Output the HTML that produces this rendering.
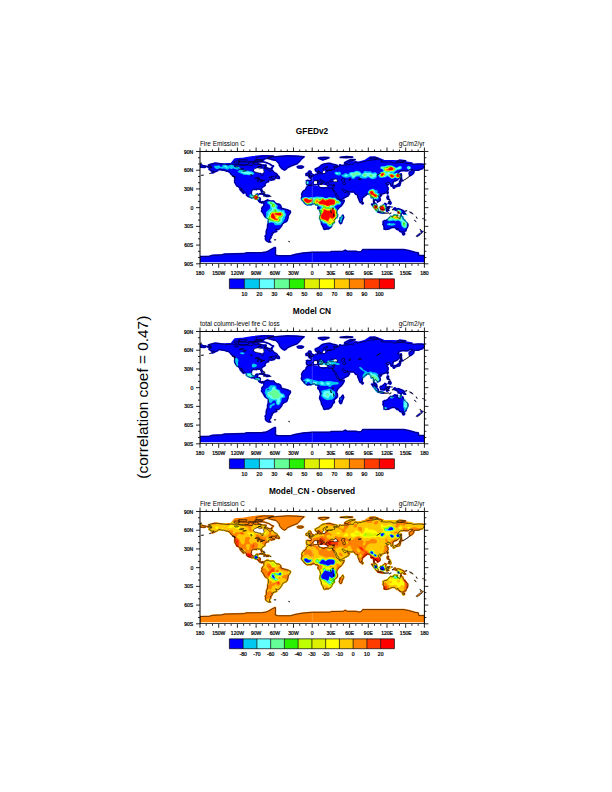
<!DOCTYPE html>
<html><head><meta charset="utf-8"><style>
html,body{margin:0;padding:0;background:#fff;}
svg{display:block;}
text{font-family:"Liberation Sans", sans-serif;fill:#000;}
.s{font-size:5.6px;stroke:#000;stroke-width:0.25px;}
.m{font-size:6.4px;}
</style></head><body>
<svg width="612" height="792" viewBox="0 0 612 792">
<defs>
<clipPath id="frame"><rect x="200.00" y="151.50" width="224.40" height="112.30"/></clipPath>
<clipPath id="fill"><rect x="200.00" y="152.00" width="224.40" height="110.20"/></clipPath>
<mask id="landmask" maskUnits="userSpaceOnUse" x="0" y="0" width="612" height="792"><path d="M207.4 166.7L210.0 166.2L211.5 166.3L210.0 165.4L208.4 165.0L210.6 164.2L214.5 163.2L217.5 163.4L220.6 163.8L224.3 164.2L226.8 164.6L229.0 164.3L231.5 164.0L234.6 164.4L236.8 164.2L239.3 164.7L241.1 165.1L244.6 165.1L246.1 164.7L248.9 165.4L252.4 165.5L253.3 163.0L254.2 164.3L256.4 164.7L258.9 164.1L261.1 164.6L260.8 166.3L258.6 166.5L258.0 167.4L256.1 168.0L254.5 169.0L253.3 170.2L253.6 171.0L254.5 172.0L257.0 172.4L259.2 173.1L260.9 173.3L260.9 174.6L262.0 175.6L263.0 175.5L263.0 173.6L264.2 172.4L263.9 171.2L263.3 169.7L263.9 168.7L266.4 168.8L267.9 169.6L268.9 170.8L270.1 171.3L271.1 171.0L272.0 170.0L273.6 171.8L274.2 172.7L276.4 173.6L277.4 174.9L276.7 175.5L274.8 176.3L272.0 176.3L270.7 176.5L268.6 178.0L272.1 177.2L271.1 177.7L272.0 178.3L274.2 179.3L274.8 179.0L273.9 179.6L272.3 179.9L271.1 180.3L270.4 179.7L268.6 180.3L268.3 180.9L268.6 181.6L267.6 181.9L266.4 182.2L266.1 182.4L265.8 183.1L265.3 183.4L265.0 184.3L264.8 184.6L265.1 185.6L264.3 186.1L263.3 186.6L262.0 187.5L261.5 188.3L261.5 189.2L262.1 190.7L262.3 191.7L261.7 192.0L261.2 191.1L260.7 190.2L260.6 189.4L259.8 188.9L258.9 189.1L258.0 188.7L256.4 188.8L256.6 189.6L255.2 189.3L253.6 189.1L252.8 189.6L251.5 190.5L251.5 191.4L251.2 193.6L251.6 194.9L252.2 195.7L253.1 196.2L254.9 196.0L255.6 195.5L255.9 194.5L257.3 194.2L258.0 194.3L257.7 195.5L257.2 196.7L257.0 197.7L258.6 197.7L259.8 197.9L260.3 198.6L260.1 200.2L260.0 200.8L260.8 201.7L261.7 202.2L262.6 201.7L263.6 201.9L264.0 202.3L264.8 201.7L265.1 201.1L265.9 200.7L267.0 200.3L267.4 199.9L267.8 200.8L268.4 200.4L269.8 201.0L271.1 201.2L272.3 201.0L273.6 201.0L274.2 201.7L274.5 202.3L275.7 203.3L276.7 203.9L278.5 204.0L279.8 204.7L280.4 205.2L281.0 206.5L280.7 207.7L282.0 208.3L284.5 209.2L286.3 209.5L287.9 210.0L289.1 210.8L290.3 211.1L290.4 212.6L289.1 214.5L288.2 215.8L287.9 218.3L287.3 220.1L286.6 221.4L285.4 222.0L284.1 222.5L282.0 224.2L281.8 225.4L280.7 227.0L279.5 228.6L278.5 229.4L277.3 229.4L275.7 228.9L276.4 230.4L276.7 231.4L274.8 232.0L273.6 232.0L273.4 233.0L271.7 233.2L272.3 234.2L271.7 235.7L270.1 236.7L271.1 237.6L269.8 238.8L269.5 240.3L269.5 241.7L270.7 242.0L268.6 242.0L267.3 241.3L266.1 240.4L265.4 238.8L265.8 237.0L265.1 236.3L266.4 234.5L266.3 232.6L266.4 230.7L267.0 229.5L267.6 227.6L267.6 225.1L268.3 223.2L268.4 220.1L268.4 219.1L267.3 218.3L265.3 217.0L264.6 216.1L263.7 214.2L262.6 212.3L261.6 211.4L261.6 210.5L262.3 209.2L261.8 208.6L262.3 207.3L263.1 206.7L263.9 205.3L264.0 203.9L263.6 203.1L263.3 202.5L262.5 202.3L262.0 203.1L261.1 202.5L260.1 202.3L258.8 201.4L258.7 200.7L257.7 199.5L256.4 199.2L255.2 198.9L254.2 198.0L253.3 197.5L252.0 197.9L250.8 197.5L248.9 196.7L247.7 196.2L246.4 195.2L246.6 194.2L246.3 193.5L245.8 193.0L244.9 192.1L243.9 191.4L243.3 190.3L242.3 189.6L241.8 188.4L240.6 187.8L241.1 188.9L241.9 190.2L242.7 191.4L243.3 192.5L243.9 193.3L243.6 193.4L242.4 192.2L241.1 190.6L240.5 190.2L239.9 188.6L239.2 187.4L238.3 186.4L237.0 186.1L236.2 184.9L235.8 184.1L235.0 182.8L234.7 182.4L234.8 181.4L234.6 180.8L234.9 179.0L234.5 177.5L235.4 177.6L235.2 176.8L234.3 176.3L232.5 175.8L232.1 174.9L230.9 174.0L230.5 173.0L229.3 172.1L228.1 171.2L226.8 171.2L225.2 170.5L223.4 170.2L221.8 170.0L220.3 169.7L218.7 169.5L217.6 170.7L216.5 171.2L215.0 171.8L213.4 172.7L211.8 173.0L212.5 172.2L213.1 171.8L214.3 171.2L213.1 171.0L211.2 171.1L210.9 170.2L209.3 169.8L209.0 169.0L209.7 168.3L211.8 168.0L211.8 167.4L209.7 167.4L208.4 167.3ZM332.3 188.1L333.5 188.1L334.0 187.1L334.6 185.5L334.8 184.8L333.7 184.7L332.5 185.1L331.2 184.8L329.8 184.8L329.0 183.6L328.5 183.0L328.7 182.5L328.4 182.2L327.2 182.2L326.4 182.4L326.8 183.8L326.2 184.9L325.6 184.6L325.3 183.6L324.7 182.8L324.4 181.8L323.7 181.1L322.2 180.5L321.2 179.5L320.7 179.1L319.9 179.4L320.0 180.1L320.9 181.1L322.2 181.8L323.7 182.6L322.8 183.1L322.5 183.8L321.9 183.9L322.2 183.0L321.6 182.6L320.6 181.9L319.4 181.3L318.7 180.7L318.1 180.1L317.2 180.3L316.3 180.8L315.0 180.6L314.1 180.9L314.2 181.5L312.8 182.1L312.2 182.9L311.7 184.2L310.8 184.8L309.4 184.8L308.7 185.2L308.3 184.7L307.5 184.4L306.7 184.6L306.7 183.6L306.3 183.0L306.7 182.1L306.7 181.4L306.4 180.8L307.2 180.4L309.1 180.5L311.0 180.6L311.3 179.9L311.5 179.0L310.8 178.3L309.4 177.8L309.2 177.4L310.3 177.2L311.3 177.3L311.3 176.7L312.3 176.8L313.1 176.3L313.8 175.8L314.4 175.5L315.1 174.7L315.6 174.3L316.6 174.3L317.5 174.2L317.6 173.0L317.3 172.2L318.7 171.7L318.7 172.5L318.6 173.3L319.1 174.0L320.0 173.6L320.9 174.0L323.7 173.5L325.3 173.3L325.4 172.4L325.7 171.8L326.8 172.1L327.4 171.3L326.8 170.7L328.4 170.5L330.9 170.3L329.7 169.9L326.5 170.3L325.5 169.7L325.6 168.7L326.2 167.8L328.0 167.1L327.5 166.6L325.9 166.8L325.3 167.4L324.0 168.0L323.1 168.7L322.9 169.6L323.9 170.2L323.1 171.0L322.5 172.1L322.0 172.6L321.1 173.1L320.2 172.7L319.7 171.8L319.2 171.0L318.7 170.7L317.5 171.3L316.6 171.5L315.7 171.0L315.3 169.9L315.3 169.0L316.3 168.5L317.5 168.0L318.7 167.4L320.0 166.5L320.9 165.5L321.9 164.9L322.8 164.4L324.4 164.0L326.5 163.5L328.4 163.4L330.0 163.4L331.5 163.8L332.8 164.4L334.6 164.6L337.1 165.4L337.8 166.2L336.2 166.5L333.7 166.2L333.7 167.4L335.3 167.8L335.9 167.4L337.1 167.3L339.3 166.3L339.6 164.9L340.9 165.2L341.8 165.5L345.2 164.9L346.2 165.1L348.4 164.7L349.6 164.9L350.2 164.1L353.3 164.5L353.7 163.5L354.9 162.1L357.1 162.2L357.4 163.4L359.3 162.5L361.4 162.5L362.4 161.8L365.5 161.6L366.4 160.9L370.2 160.2L373.3 160.0L375.2 159.6L377.0 159.2L378.3 159.6L382.0 159.9L382.6 160.4L380.8 161.5L382.6 161.8L386.4 162.1L389.2 161.8L392.0 162.2L392.9 163.0L394.5 163.0L395.7 163.0L398.8 162.5L399.5 162.4L403.2 162.5L405.7 163.0L406.9 163.4L410.1 163.4L411.9 163.7L412.6 164.3L416.3 164.2L418.2 164.0L421.9 164.1L424.4 164.7L427.5 165.5L429.7 166.0L430.8 166.4L429.4 167.4L424.5 167.1L423.5 167.4L422.5 168.7L420.7 169.1L418.5 170.2L415.7 170.2L414.4 170.3L414.1 171.2L413.2 171.5L413.8 172.7L413.2 173.5L411.9 174.6L411.0 175.2L409.9 175.8L409.4 174.6L409.2 172.7L409.9 171.8L410.7 171.5L411.9 170.5L413.2 169.9L412.2 169.3L410.1 169.2L408.2 170.7L406.3 170.8L404.8 170.7L402.6 170.6L400.7 170.8L398.5 172.4L397.6 174.0L399.8 174.3L400.3 175.2L399.8 176.5L399.5 177.7L398.5 178.6L397.0 180.2L395.1 180.9L393.9 181.1L393.1 182.1L392.9 183.0L392.7 184.6L392.9 185.5L391.4 186.1L390.9 185.8L391.1 184.6L390.4 184.1L390.0 182.9L387.9 182.1L386.4 183.2L385.6 183.3L386.2 184.2L387.6 184.3L388.6 184.4L387.3 185.2L386.6 185.8L387.3 186.9L388.1 187.9L387.9 188.4L388.2 189.1L387.8 190.2L387.0 191.1L386.7 191.9L385.6 192.7L383.9 193.5L382.9 193.8L381.4 194.2L381.0 194.9L380.6 194.2L379.5 194.2L378.6 194.9L378.1 195.8L378.6 196.9L380.0 198.1L380.3 199.9L380.1 200.5L378.9 201.2L377.6 202.2L377.5 201.2L376.0 200.0L375.1 199.2L374.5 199.9L374.0 201.7L374.7 203.3L375.5 203.4L376.7 204.8L376.7 206.4L377.2 206.8L376.6 206.8L375.3 205.9L374.7 204.5L373.6 202.5L373.7 199.9L373.1 197.4L371.4 197.8L371.0 197.4L371.1 195.8L369.7 194.2L369.4 193.6L368.6 193.9L367.7 194.0L366.4 194.2L366.3 194.9L365.2 195.5L363.5 197.0L362.2 198.0L362.3 199.5L361.9 201.1L360.8 202.2L360.5 202.6L359.9 202.0L359.3 200.5L358.7 198.9L358.0 197.4L357.6 195.8L357.6 194.4L356.1 194.5L355.2 193.7L354.9 193.0L354.2 192.4L353.7 191.8L352.1 191.9L350.5 191.9L348.7 191.7L347.9 191.6L347.6 190.8L346.3 191.1L344.9 190.5L344.0 189.7L343.4 188.8L342.4 188.9L342.1 189.2L342.4 190.2L343.1 190.9L343.6 191.7L343.9 192.2L344.3 192.5L344.6 192.7L345.9 192.6L346.8 191.7L347.3 191.3L347.4 192.1L348.0 192.8L349.0 193.6L349.5 193.7L348.7 194.9L348.2 195.8L346.8 196.5L344.8 197.5L343.1 198.5L341.8 199.2L340.2 199.7L339.3 199.7L338.9 198.6L338.8 197.4L338.1 196.4L337.1 195.2L336.5 194.2L336.2 192.8L335.3 191.7L334.6 190.7L334.0 190.1L333.6 190.3L333.1 190.2L332.5 189.0ZM107.9 188.1L109.1 188.1L109.6 187.1L110.2 185.5L110.4 184.8L109.3 184.7L108.1 185.1L106.8 184.8L105.4 184.8L104.6 183.6L104.1 183.0L104.3 182.5L104.0 182.2L102.8 182.2L102.0 182.4L102.4 183.8L101.8 184.9L101.2 184.6L100.9 183.6L100.3 182.8L100.0 181.8L99.3 181.1L97.8 180.5L96.8 179.5L96.3 179.1L95.5 179.4L95.6 180.1L96.5 181.1L97.8 181.8L99.3 182.6L98.4 183.1L98.1 183.8L97.5 183.9L97.8 183.0L97.2 182.6L96.2 181.9L95.0 181.3L94.3 180.7L93.7 180.1L92.8 180.3L91.9 180.8L90.6 180.6L89.7 180.9L89.8 181.5L88.4 182.1L87.8 182.9L87.3 184.2L86.4 184.8L85.0 184.8L84.3 185.2L83.9 184.7L83.1 184.4L82.3 184.6L82.3 183.6L81.9 183.0L82.3 182.1L82.3 181.4L82.0 180.8L82.8 180.4L84.7 180.5L86.6 180.6L86.9 179.9L87.1 179.0L86.4 178.3L85.0 177.8L84.8 177.4L85.9 177.2L86.9 177.3L86.9 176.7L87.9 176.8L88.7 176.3L89.4 175.8L90.0 175.5L90.7 174.7L91.2 174.3L92.2 174.3L93.1 174.2L93.2 173.0L92.9 172.2L94.3 171.7L94.3 172.5L94.2 173.3L94.7 174.0L95.6 173.6L96.5 174.0L99.3 173.5L100.9 173.3L101.0 172.4L101.3 171.8L102.4 172.1L103.0 171.3L102.4 170.7L104.0 170.5L106.5 170.3L105.3 169.9L102.1 170.3L101.1 169.7L101.2 168.7L101.8 167.8L103.6 167.1L103.1 166.6L101.5 166.8L100.9 167.4L99.6 168.0L98.7 168.7L98.5 169.6L99.5 170.2L98.7 171.0L98.1 172.1L97.6 172.6L96.7 173.1L95.8 172.7L95.3 171.8L94.8 171.0L94.3 170.7L93.1 171.3L92.2 171.5L91.3 171.0L90.9 169.9L90.9 169.0L91.9 168.5L93.1 168.0L94.3 167.4L95.6 166.5L96.5 165.5L97.5 164.9L98.4 164.4L100.0 164.0L102.1 163.5L104.0 163.4L105.6 163.4L107.1 163.8L108.4 164.4L110.2 164.6L112.7 165.4L113.4 166.2L111.8 166.5L109.3 166.2L109.3 167.4L110.9 167.8L111.5 167.4L112.7 167.3L114.9 166.3L115.2 164.9L116.5 165.2L117.4 165.5L120.8 164.9L121.8 165.1L124.0 164.7L125.2 164.9L125.8 164.1L128.9 164.5L129.3 163.5L130.5 162.1L132.7 162.2L133.0 163.4L134.9 162.5L137.0 162.5L138.0 161.8L141.1 161.6L142.0 160.9L145.8 160.2L148.9 160.0L150.8 159.6L152.6 159.2L153.9 159.6L157.6 159.9L158.2 160.4L156.4 161.5L158.2 161.8L162.0 162.1L164.8 161.8L167.6 162.2L168.5 163.0L170.1 163.0L171.3 163.0L174.4 162.5L175.1 162.4L178.8 162.5L181.3 163.0L182.5 163.4L185.7 163.4L187.5 163.7L188.2 164.3L191.9 164.2L193.8 164.0L197.5 164.1L200.0 164.7L203.1 165.5L205.3 166.0L206.4 166.4L205.0 167.4L200.1 167.1L199.1 167.4L198.1 168.7L196.3 169.1L194.1 170.2L191.3 170.2L190.0 170.3L189.7 171.2L188.8 171.5L189.4 172.7L188.8 173.5L187.5 174.6L186.6 175.2L185.5 175.8L185.0 174.6L184.8 172.7L185.5 171.8L186.3 171.5L187.5 170.5L188.8 169.9L187.8 169.3L185.7 169.2L183.8 170.7L181.9 170.8L180.4 170.7L178.2 170.6L176.3 170.8L174.1 172.4L173.2 174.0L175.4 174.3L175.9 175.2L175.4 176.5L175.1 177.7L174.1 178.6L172.6 180.2L170.7 180.9L169.5 181.1L168.7 182.1L168.5 183.0L168.3 184.6L168.5 185.5L167.0 186.1L166.5 185.8L166.7 184.6L166.0 184.1L165.6 182.9L163.5 182.1L162.0 183.2L161.2 183.3L161.8 184.2L163.2 184.3L164.2 184.4L162.9 185.2L162.2 185.8L162.9 186.9L163.7 187.9L163.5 188.4L163.8 189.1L163.4 190.2L162.6 191.1L162.3 191.9L161.2 192.7L159.5 193.5L158.5 193.8L157.0 194.2L156.6 194.9L156.2 194.2L155.1 194.2L154.2 194.9L153.7 195.8L154.2 196.9L155.6 198.1L155.9 199.9L155.7 200.5L154.5 201.2L153.2 202.2L153.1 201.2L151.6 200.0L150.7 199.2L150.1 199.9L149.6 201.7L150.3 203.3L151.1 203.4L152.3 204.8L152.3 206.4L152.8 206.8L152.2 206.8L150.9 205.9L150.3 204.5L149.2 202.5L149.3 199.9L148.7 197.4L147.0 197.8L146.6 197.4L146.7 195.8L145.3 194.2L145.0 193.6L144.2 193.9L143.3 194.0L142.0 194.2L141.9 194.9L140.8 195.5L139.1 197.0L137.8 198.0L137.9 199.5L137.5 201.1L136.4 202.2L136.1 202.6L135.5 202.0L134.9 200.5L134.3 198.9L133.6 197.4L133.2 195.8L133.2 194.4L131.7 194.5L130.8 193.7L130.5 193.0L129.8 192.4L129.3 191.8L127.7 191.9L126.1 191.9L124.3 191.7L123.5 191.6L123.2 190.8L121.9 191.1L120.5 190.5L119.6 189.7L119.0 188.8L118.0 188.9L117.7 189.2L118.0 190.2L118.7 190.9L119.2 191.7L119.5 192.2L119.9 192.5L120.2 192.7L121.5 192.6L122.4 191.7L122.9 191.3L123.0 192.1L123.6 192.8L124.6 193.6L125.1 193.7L124.3 194.9L123.8 195.8L122.4 196.5L120.4 197.5L118.7 198.5L117.4 199.2L115.8 199.7L114.9 199.7L114.5 198.6L114.4 197.4L113.7 196.4L112.7 195.2L112.1 194.2L111.8 192.8L110.9 191.7L110.2 190.7L109.6 190.1L109.2 190.3L108.7 190.2L108.1 189.0ZM332.3 188.1L330.9 188.1L329.7 188.3L327.8 187.9L326.5 187.3L324.7 187.7L324.4 188.6L323.4 188.4L321.9 188.0L320.3 187.1L319.1 186.9L318.6 185.5L319.1 184.6L318.2 184.4L317.2 184.6L315.3 184.7L314.1 184.7L312.2 185.3L311.0 185.8L308.8 185.3L308.3 185.8L306.4 187.4L306.1 188.9L305.0 190.2L304.1 190.5L302.9 191.7L302.2 193.0L301.6 194.5L302.1 195.5L301.9 196.7L301.4 198.4L301.7 199.5L302.7 200.8L303.8 201.7L304.4 203.0L305.3 203.6L306.6 204.5L307.5 204.9L309.1 204.5L311.0 204.7L312.8 203.9L313.8 203.7L315.0 203.7L315.9 205.0L317.2 204.8L318.1 205.3L318.3 206.4L318.0 207.3L317.8 208.3L319.4 209.8L320.0 211.4L320.5 213.0L320.8 214.5L320.0 216.1L319.6 218.3L321.2 221.7L321.6 224.2L322.5 225.5L323.4 227.3L323.7 228.9L324.7 229.4L326.2 228.9L328.2 228.9L329.0 228.6L330.9 227.2L331.8 225.7L332.5 224.5L332.6 223.6L334.3 222.6L334.3 221.1L333.8 220.0L335.1 218.9L336.8 217.6L337.4 216.4L337.4 214.2L336.6 213.0L336.7 211.4L337.1 209.8L338.1 208.8L339.3 207.3L340.9 206.1L342.4 204.2L343.9 201.7L344.2 200.3L342.7 200.6L339.9 201.2L339.2 200.3L338.8 199.5L338.1 198.6L336.8 198.0L336.2 196.4L335.4 194.5L335.1 193.6L334.3 192.7L333.7 191.4L333.1 190.5L332.5 189.0ZM383.1 221.6L383.4 223.9L382.9 224.2L383.9 226.1L384.3 228.6L383.9 229.0L385.8 229.5L389.2 228.8L390.7 227.8L392.6 227.4L394.2 227.3L395.7 228.1L396.8 229.4L397.9 228.2L398.1 229.8L399.2 230.0L399.8 231.4L401.6 231.9L403.4 232.0L404.5 231.2L405.7 231.0L406.5 228.7L407.6 226.7L407.9 225.1L407.6 223.6L406.3 222.3L405.4 221.4L404.5 220.1L403.4 219.2L402.9 217.6L402.8 217.0L401.6 216.4L401.0 214.4L400.5 215.8L400.4 217.3L400.0 218.6L399.2 218.5L398.1 217.6L396.7 217.0L397.3 216.1L397.5 215.3L396.4 215.3L394.8 214.8L394.2 215.3L393.2 215.8L392.9 217.0L391.9 216.7L390.7 216.4L389.8 217.4L388.9 217.9L388.4 218.9L387.6 219.8L386.1 220.3L384.8 220.6L383.6 221.3ZM267.9 158.4L271.1 159.3L276.0 160.4L277.3 161.7L279.2 163.7L279.5 165.6L281.0 167.7L282.9 169.3L284.5 170.1L286.0 169.3L287.4 167.6L291.6 165.8L297.2 163.6L298.5 162.4L300.1 160.7L301.0 159.3L304.1 156.8L296.6 156.2L287.3 155.9L277.9 156.5L271.7 157.1L268.6 157.7ZM200.0 256.5L209.3 256.3L212.5 255.4L221.8 254.9L224.9 254.1L243.6 253.7L246.8 252.9L262.3 252.7L266.1 252.1L268.6 251.0L272.9 248.5L274.8 247.6L275.4 247.7L275.4 252.6L275.1 254.9L277.9 255.8L290.4 255.8L296.0 254.3L302.9 253.1L312.2 252.3L330.3 252.1L331.5 251.5L343.4 251.3L345.2 250.2L347.1 251.3L355.8 251.3L358.9 252.1L361.4 251.6L362.7 249.6L403.8 249.6L408.8 250.6L415.1 252.4L418.2 252.8L418.8 255.6L424.4 255.6L424.4 263.8L200.0 263.8ZM272.0 169.0L271.1 168.3L273.6 166.0L271.1 165.2L269.2 163.7L265.4 162.4L262.3 161.7L256.7 162.0L257.3 162.4L258.6 164.0L260.5 164.3L263.0 165.2L266.1 165.2L266.1 166.2L263.9 167.4L266.7 167.7L269.2 168.7L271.7 169.0ZM238.6 164.0L239.3 162.1L243.0 162.1L247.1 162.1L249.2 163.7L246.8 164.9L243.0 164.9L239.3 164.6ZM262.3 159.9L256.1 159.6L256.1 157.4L263.6 155.9L273.6 156.2L267.3 158.1L264.2 159.0ZM234.0 163.0L234.3 161.2L239.9 160.9L238.0 163.0ZM262.3 161.2L254.9 161.0L254.9 159.9L262.3 160.0ZM246.8 161.2L238.6 161.2L238.6 159.6L246.8 159.6ZM252.4 163.0L248.6 162.4L248.6 161.5L252.4 161.5ZM256.1 162.7L253.0 162.4L253.0 161.5L256.1 161.5ZM262.3 167.7L259.8 169.0L258.0 167.7L258.6 166.5L261.1 166.8ZM318.4 158.1L322.8 159.9L325.9 159.0L329.0 157.7L324.7 157.4L319.7 157.7ZM344.6 163.4L347.7 163.7L349.6 161.5L355.2 159.7L350.8 159.6L346.5 161.5L344.6 162.7ZM369.5 158.4L374.5 159.0L378.3 158.4L374.5 157.1L370.8 157.4ZM340.2 157.4L346.5 157.7L352.7 157.1L346.5 156.6ZM396.4 161.5L400.7 162.1L405.7 160.9L399.5 160.2ZM297.2 166.8L298.5 166.2L302.2 166.2L303.5 166.8L302.9 167.5L301.0 168.1L298.2 167.8ZM308.6 176.5L313.1 175.7L313.3 174.8L312.3 174.3L311.3 173.3L311.0 172.7L311.1 171.8L310.2 171.1L309.1 171.1L308.5 171.8L308.8 172.7L309.1 173.3L310.3 173.8L310.3 174.4L309.2 174.8L309.5 175.4L308.9 175.4L310.3 175.6ZM308.5 175.1L308.3 174.1L308.8 173.5L307.6 173.1L306.0 173.8L306.0 175.3L307.2 175.5ZM393.8 186.4L394.5 185.7L396.4 185.4L397.0 184.9L397.9 184.3L399.2 183.6L399.5 182.4L400.4 181.8L400.7 183.0L400.1 183.9L400.0 185.2L399.5 185.8L398.5 186.0L397.6 186.1L396.7 186.6L396.0 186.2L394.2 188.1L393.4 188.1L393.0 186.9ZM399.5 181.8L400.6 181.1L402.9 180.6L402.3 180.1L400.6 179.3L400.3 180.5ZM400.7 179.0L401.6 178.5L401.3 176.8L401.5 175.4L401.3 174.0L400.9 173.8L400.5 174.9L400.7 176.5L400.6 177.7ZM371.6 204.2L373.0 204.4L374.7 206.1L375.9 207.2L377.3 208.6L378.3 209.5L378.1 211.3L377.3 211.3L376.0 210.1L375.0 208.6L374.0 207.5L373.0 206.2ZM377.8 211.9L379.5 211.5L381.4 211.7L382.4 212.0L383.6 212.5L383.6 213.1L381.4 212.8L379.5 212.5L378.3 212.1ZM380.6 206.4L381.4 206.5L382.6 205.7L384.2 204.3L385.0 203.3L386.4 204.5L385.8 205.0L385.6 206.5L386.4 207.1L385.4 208.0L384.8 209.2L384.5 210.0L383.6 209.8L381.7 209.6L380.8 209.5L380.5 208.0L380.1 207.2ZM386.7 211.1L387.3 211.1L387.3 209.4L387.9 210.6L388.9 210.5L387.7 208.6L389.2 208.2L387.3 207.3L390.0 206.7L390.1 206.8L387.0 207.2L386.7 208.0L386.3 209.2ZM393.9 208.4L394.8 207.9L395.7 208.3L396.7 209.7L397.9 208.6L400.1 209.3L402.9 210.5L404.1 211.4L404.3 212.6L405.7 214.2L403.8 213.9L402.6 212.5L401.6 213.3L400.1 213.4L398.8 212.6L398.2 212.9L398.1 211.1L396.4 210.4L394.8 209.8L394.5 209.4L393.7 208.6ZM342.9 215.1L343.7 217.3L343.1 218.6L342.2 220.8L341.5 223.2L340.4 223.6L339.6 222.3L339.2 221.1L339.9 219.8L339.8 218.3L341.2 217.4L342.1 216.1ZM259.2 194.0L261.7 193.2L264.2 193.9L265.9 195.0L263.9 195.2L263.0 194.2L260.5 193.9ZM275.2 178.0L277.6 175.5L279.2 176.8L279.4 178.3L277.9 178.5L277.3 177.9ZM402.4 233.0L404.6 233.2L404.5 234.5L403.2 234.9L402.6 233.9ZM387.0 197.7L387.4 196.1L388.4 196.1L388.6 197.0L387.9 198.0L389.5 199.5L387.6 199.2ZM388.2 203.3L389.2 202.3L390.4 201.5L391.1 203.1L390.4 204.2L389.5 203.6ZM361.9 201.5L363.3 203.0L362.8 203.8L362.1 203.9ZM265.9 196.1L267.0 195.2L269.2 195.5L269.6 196.1L267.9 196.5L265.9 196.3ZM387.2 193.6L387.6 191.9L388.2 192.1L387.6 193.9ZM379.9 195.7L381.1 195.1L381.4 195.4L380.5 196.3ZM224.3 164.2L231.2 163.7L234.9 159.0L243.6 158.4L253.0 156.8L262.3 155.9L272.3 156.2L268.6 158.1L264.8 158.7L262.3 161.5L265.4 162.4L269.2 163.7L272.9 166.2L272.0 169.0L268.6 170.2L262.3 170.2L252.4 165.5L224.3 164.2ZM268.6 178.3L271.1 176.1L274.8 176.1L275.4 178.0L274.2 179.3L271.1 179.6ZM308.5 185.5L312.2 183.6L314.1 181.1L318.4 179.9L324.7 180.8L329.7 181.8L335.3 184.6L334.6 188.3L324.7 188.9L318.4 187.1L311.0 185.8ZM329.0 182.1L329.7 178.3L338.4 178.3L338.4 182.4ZM340.9 179.0L342.7 177.7L345.9 178.3L346.5 182.1L345.9 184.9L342.7 184.9L340.9 181.4ZM332.1 188.9L334.0 188.9L339.6 199.5L338.4 200.2L335.3 196.4ZM341.8 188.6L343.7 188.6L347.7 191.1L347.4 193.0L343.4 192.7ZM318.4 174.3L318.4 171.5L323.4 169.6L323.4 166.5L328.4 166.5L330.9 170.2L327.2 172.7L324.7 174.3ZM344.6 164.6L345.2 163.4L348.4 161.8L358.9 162.4L365.2 160.5L370.2 157.1L377.6 158.1L383.9 160.5L399.5 161.2L411.9 163.0L411.9 164.6L344.6 164.6Z" fill="#fff" stroke="#fff" stroke-width="1.70"/><path d="M200.0 163.4L201.9 163.0L201.2 163.4L200.0 163.5ZM388.2 201.4L389.5 200.5L390.4 200.8L390.1 201.4L388.9 201.9ZM389.5 214.0L391.4 212.9L390.1 213.0L389.2 213.9ZM383.9 212.8L386.4 213.0L388.9 212.8L388.9 213.1L384.5 213.3L383.9 213.1ZM419.8 229.1L421.0 230.1L421.9 231.1L423.5 231.2L422.5 232.2L421.9 233.4L421.2 233.4L421.3 232.5L420.5 232.1L421.0 230.9ZM419.8 232.9L420.8 233.7L420.0 235.0L418.8 235.7L417.5 236.7L416.0 236.3L417.2 235.1L418.8 233.9ZM235.3 177.5L232.2 176.0L234.4 176.5L234.0 177.1ZM317.4 182.1L318.3 182.1L318.2 183.3L317.5 183.3ZM317.6 180.9L318.1 180.8L318.1 181.8L317.6 181.8ZM319.9 183.9L321.9 183.8L321.7 184.8L320.0 184.2ZM392.0 209.5L393.9 209.6L393.2 210.0L392.0 209.8ZM391.7 206.5L392.3 206.7L392.0 207.7L391.7 207.3ZM404.8 211.1L406.9 210.3L406.9 210.9L405.7 211.5ZM409.4 211.7L411.9 212.6L413.2 214.2L411.9 213.6L410.1 212.6ZM416.0 216.7L416.6 217.0L417.2 218.6L416.6 217.9ZM414.4 220.1L416.3 221.7L415.7 221.4L414.4 220.4ZM422.5 218.6L423.5 218.6L423.5 219.0L422.7 219.0ZM201.2 175.3L203.7 175.1L201.2 175.5ZM209.3 173.6L210.9 173.0L210.6 173.6ZM403.2 180.5L404.5 179.6L405.7 179.0L408.8 176.8L409.8 176.0L408.8 177.1L405.1 179.6L403.2 180.6ZM263.4 196.2L264.7 196.4L264.3 196.5L263.6 196.4ZM270.3 196.2L271.3 196.3L271.1 196.5L270.3 196.4ZM263.6 191.0L264.2 191.1L263.9 192.7L265.1 192.6L264.8 193.0L263.5 192.4ZM332.3 185.8L333.8 185.4L333.4 186.1L332.5 186.0ZM326.8 185.6L328.6 185.7L328.4 185.8L326.8 185.7ZM288.5 241.3L289.9 241.7L289.4 241.8L288.5 241.5ZM274.2 239.7L276.0 239.7L275.7 240.1L274.2 240.1Z" fill="#fff"/></mask>
</defs>
<rect width="612" height="792" fill="#fff"/>

<g transform="translate(0,0)">
<g clip-path="url(#fill)">
<path d="M207.4 166.7L210.0 166.2L211.5 166.3L210.0 165.4L208.4 165.0L210.6 164.2L214.5 163.2L217.5 163.4L220.6 163.8L224.3 164.2L226.8 164.6L229.0 164.3L231.5 164.0L234.6 164.4L236.8 164.2L239.3 164.7L241.1 165.1L244.6 165.1L246.1 164.7L248.9 165.4L252.4 165.5L253.3 163.0L254.2 164.3L256.4 164.7L258.9 164.1L261.1 164.6L260.8 166.3L258.6 166.5L258.0 167.4L256.1 168.0L254.5 169.0L253.3 170.2L253.6 171.0L254.5 172.0L257.0 172.4L259.2 173.1L260.9 173.3L260.9 174.6L262.0 175.6L263.0 175.5L263.0 173.6L264.2 172.4L263.9 171.2L263.3 169.7L263.9 168.7L266.4 168.8L267.9 169.6L268.9 170.8L270.1 171.3L271.1 171.0L272.0 170.0L273.6 171.8L274.2 172.7L276.4 173.6L277.4 174.9L276.7 175.5L274.8 176.3L272.0 176.3L270.7 176.5L268.6 178.0L272.1 177.2L271.1 177.7L272.0 178.3L274.2 179.3L274.8 179.0L273.9 179.6L272.3 179.9L271.1 180.3L270.4 179.7L268.6 180.3L268.3 180.9L268.6 181.6L267.6 181.9L266.4 182.2L266.1 182.4L265.8 183.1L265.3 183.4L265.0 184.3L264.8 184.6L265.1 185.6L264.3 186.1L263.3 186.6L262.0 187.5L261.5 188.3L261.5 189.2L262.1 190.7L262.3 191.7L261.7 192.0L261.2 191.1L260.7 190.2L260.6 189.4L259.8 188.9L258.9 189.1L258.0 188.7L256.4 188.8L256.6 189.6L255.2 189.3L253.6 189.1L252.8 189.6L251.5 190.5L251.5 191.4L251.2 193.6L251.6 194.9L252.2 195.7L253.1 196.2L254.9 196.0L255.6 195.5L255.9 194.5L257.3 194.2L258.0 194.3L257.7 195.5L257.2 196.7L257.0 197.7L258.6 197.7L259.8 197.9L260.3 198.6L260.1 200.2L260.0 200.8L260.8 201.7L261.7 202.2L262.6 201.7L263.6 201.9L264.0 202.3L264.8 201.7L265.1 201.1L265.9 200.7L267.0 200.3L267.4 199.9L267.8 200.8L268.4 200.4L269.8 201.0L271.1 201.2L272.3 201.0L273.6 201.0L274.2 201.7L274.5 202.3L275.7 203.3L276.7 203.9L278.5 204.0L279.8 204.7L280.4 205.2L281.0 206.5L280.7 207.7L282.0 208.3L284.5 209.2L286.3 209.5L287.9 210.0L289.1 210.8L290.3 211.1L290.4 212.6L289.1 214.5L288.2 215.8L287.9 218.3L287.3 220.1L286.6 221.4L285.4 222.0L284.1 222.5L282.0 224.2L281.8 225.4L280.7 227.0L279.5 228.6L278.5 229.4L277.3 229.4L275.7 228.9L276.4 230.4L276.7 231.4L274.8 232.0L273.6 232.0L273.4 233.0L271.7 233.2L272.3 234.2L271.7 235.7L270.1 236.7L271.1 237.6L269.8 238.8L269.5 240.3L269.5 241.7L270.7 242.0L268.6 242.0L267.3 241.3L266.1 240.4L265.4 238.8L265.8 237.0L265.1 236.3L266.4 234.5L266.3 232.6L266.4 230.7L267.0 229.5L267.6 227.6L267.6 225.1L268.3 223.2L268.4 220.1L268.4 219.1L267.3 218.3L265.3 217.0L264.6 216.1L263.7 214.2L262.6 212.3L261.6 211.4L261.6 210.5L262.3 209.2L261.8 208.6L262.3 207.3L263.1 206.7L263.9 205.3L264.0 203.9L263.6 203.1L263.3 202.5L262.5 202.3L262.0 203.1L261.1 202.5L260.1 202.3L258.8 201.4L258.7 200.7L257.7 199.5L256.4 199.2L255.2 198.9L254.2 198.0L253.3 197.5L252.0 197.9L250.8 197.5L248.9 196.7L247.7 196.2L246.4 195.2L246.6 194.2L246.3 193.5L245.8 193.0L244.9 192.1L243.9 191.4L243.3 190.3L242.3 189.6L241.8 188.4L240.6 187.8L241.1 188.9L241.9 190.2L242.7 191.4L243.3 192.5L243.9 193.3L243.6 193.4L242.4 192.2L241.1 190.6L240.5 190.2L239.9 188.6L239.2 187.4L238.3 186.4L237.0 186.1L236.2 184.9L235.8 184.1L235.0 182.8L234.7 182.4L234.8 181.4L234.6 180.8L234.9 179.0L234.5 177.5L235.4 177.6L235.2 176.8L234.3 176.3L232.5 175.8L232.1 174.9L230.9 174.0L230.5 173.0L229.3 172.1L228.1 171.2L226.8 171.2L225.2 170.5L223.4 170.2L221.8 170.0L220.3 169.7L218.7 169.5L217.6 170.7L216.5 171.2L215.0 171.8L213.4 172.7L211.8 173.0L212.5 172.2L213.1 171.8L214.3 171.2L213.1 171.0L211.2 171.1L210.9 170.2L209.3 169.8L209.0 169.0L209.7 168.3L211.8 168.0L211.8 167.4L209.7 167.4L208.4 167.3ZM332.3 188.1L333.5 188.1L334.0 187.1L334.6 185.5L334.8 184.8L333.7 184.7L332.5 185.1L331.2 184.8L329.8 184.8L329.0 183.6L328.5 183.0L328.7 182.5L328.4 182.2L327.2 182.2L326.4 182.4L326.8 183.8L326.2 184.9L325.6 184.6L325.3 183.6L324.7 182.8L324.4 181.8L323.7 181.1L322.2 180.5L321.2 179.5L320.7 179.1L319.9 179.4L320.0 180.1L320.9 181.1L322.2 181.8L323.7 182.6L322.8 183.1L322.5 183.8L321.9 183.9L322.2 183.0L321.6 182.6L320.6 181.9L319.4 181.3L318.7 180.7L318.1 180.1L317.2 180.3L316.3 180.8L315.0 180.6L314.1 180.9L314.2 181.5L312.8 182.1L312.2 182.9L311.7 184.2L310.8 184.8L309.4 184.8L308.7 185.2L308.3 184.7L307.5 184.4L306.7 184.6L306.7 183.6L306.3 183.0L306.7 182.1L306.7 181.4L306.4 180.8L307.2 180.4L309.1 180.5L311.0 180.6L311.3 179.9L311.5 179.0L310.8 178.3L309.4 177.8L309.2 177.4L310.3 177.2L311.3 177.3L311.3 176.7L312.3 176.8L313.1 176.3L313.8 175.8L314.4 175.5L315.1 174.7L315.6 174.3L316.6 174.3L317.5 174.2L317.6 173.0L317.3 172.2L318.7 171.7L318.7 172.5L318.6 173.3L319.1 174.0L320.0 173.6L320.9 174.0L323.7 173.5L325.3 173.3L325.4 172.4L325.7 171.8L326.8 172.1L327.4 171.3L326.8 170.7L328.4 170.5L330.9 170.3L329.7 169.9L326.5 170.3L325.5 169.7L325.6 168.7L326.2 167.8L328.0 167.1L327.5 166.6L325.9 166.8L325.3 167.4L324.0 168.0L323.1 168.7L322.9 169.6L323.9 170.2L323.1 171.0L322.5 172.1L322.0 172.6L321.1 173.1L320.2 172.7L319.7 171.8L319.2 171.0L318.7 170.7L317.5 171.3L316.6 171.5L315.7 171.0L315.3 169.9L315.3 169.0L316.3 168.5L317.5 168.0L318.7 167.4L320.0 166.5L320.9 165.5L321.9 164.9L322.8 164.4L324.4 164.0L326.5 163.5L328.4 163.4L330.0 163.4L331.5 163.8L332.8 164.4L334.6 164.6L337.1 165.4L337.8 166.2L336.2 166.5L333.7 166.2L333.7 167.4L335.3 167.8L335.9 167.4L337.1 167.3L339.3 166.3L339.6 164.9L340.9 165.2L341.8 165.5L345.2 164.9L346.2 165.1L348.4 164.7L349.6 164.9L350.2 164.1L353.3 164.5L353.7 163.5L354.9 162.1L357.1 162.2L357.4 163.4L359.3 162.5L361.4 162.5L362.4 161.8L365.5 161.6L366.4 160.9L370.2 160.2L373.3 160.0L375.2 159.6L377.0 159.2L378.3 159.6L382.0 159.9L382.6 160.4L380.8 161.5L382.6 161.8L386.4 162.1L389.2 161.8L392.0 162.2L392.9 163.0L394.5 163.0L395.7 163.0L398.8 162.5L399.5 162.4L403.2 162.5L405.7 163.0L406.9 163.4L410.1 163.4L411.9 163.7L412.6 164.3L416.3 164.2L418.2 164.0L421.9 164.1L424.4 164.7L427.5 165.5L429.7 166.0L430.8 166.4L429.4 167.4L424.5 167.1L423.5 167.4L422.5 168.7L420.7 169.1L418.5 170.2L415.7 170.2L414.4 170.3L414.1 171.2L413.2 171.5L413.8 172.7L413.2 173.5L411.9 174.6L411.0 175.2L409.9 175.8L409.4 174.6L409.2 172.7L409.9 171.8L410.7 171.5L411.9 170.5L413.2 169.9L412.2 169.3L410.1 169.2L408.2 170.7L406.3 170.8L404.8 170.7L402.6 170.6L400.7 170.8L398.5 172.4L397.6 174.0L399.8 174.3L400.3 175.2L399.8 176.5L399.5 177.7L398.5 178.6L397.0 180.2L395.1 180.9L393.9 181.1L393.1 182.1L392.9 183.0L392.7 184.6L392.9 185.5L391.4 186.1L390.9 185.8L391.1 184.6L390.4 184.1L390.0 182.9L387.9 182.1L386.4 183.2L385.6 183.3L386.2 184.2L387.6 184.3L388.6 184.4L387.3 185.2L386.6 185.8L387.3 186.9L388.1 187.9L387.9 188.4L388.2 189.1L387.8 190.2L387.0 191.1L386.7 191.9L385.6 192.7L383.9 193.5L382.9 193.8L381.4 194.2L381.0 194.9L380.6 194.2L379.5 194.2L378.6 194.9L378.1 195.8L378.6 196.9L380.0 198.1L380.3 199.9L380.1 200.5L378.9 201.2L377.6 202.2L377.5 201.2L376.0 200.0L375.1 199.2L374.5 199.9L374.0 201.7L374.7 203.3L375.5 203.4L376.7 204.8L376.7 206.4L377.2 206.8L376.6 206.8L375.3 205.9L374.7 204.5L373.6 202.5L373.7 199.9L373.1 197.4L371.4 197.8L371.0 197.4L371.1 195.8L369.7 194.2L369.4 193.6L368.6 193.9L367.7 194.0L366.4 194.2L366.3 194.9L365.2 195.5L363.5 197.0L362.2 198.0L362.3 199.5L361.9 201.1L360.8 202.2L360.5 202.6L359.9 202.0L359.3 200.5L358.7 198.9L358.0 197.4L357.6 195.8L357.6 194.4L356.1 194.5L355.2 193.7L354.9 193.0L354.2 192.4L353.7 191.8L352.1 191.9L350.5 191.9L348.7 191.7L347.9 191.6L347.6 190.8L346.3 191.1L344.9 190.5L344.0 189.7L343.4 188.8L342.4 188.9L342.1 189.2L342.4 190.2L343.1 190.9L343.6 191.7L343.9 192.2L344.3 192.5L344.6 192.7L345.9 192.6L346.8 191.7L347.3 191.3L347.4 192.1L348.0 192.8L349.0 193.6L349.5 193.7L348.7 194.9L348.2 195.8L346.8 196.5L344.8 197.5L343.1 198.5L341.8 199.2L340.2 199.7L339.3 199.7L338.9 198.6L338.8 197.4L338.1 196.4L337.1 195.2L336.5 194.2L336.2 192.8L335.3 191.7L334.6 190.7L334.0 190.1L333.6 190.3L333.1 190.2L332.5 189.0ZM107.9 188.1L109.1 188.1L109.6 187.1L110.2 185.5L110.4 184.8L109.3 184.7L108.1 185.1L106.8 184.8L105.4 184.8L104.6 183.6L104.1 183.0L104.3 182.5L104.0 182.2L102.8 182.2L102.0 182.4L102.4 183.8L101.8 184.9L101.2 184.6L100.9 183.6L100.3 182.8L100.0 181.8L99.3 181.1L97.8 180.5L96.8 179.5L96.3 179.1L95.5 179.4L95.6 180.1L96.5 181.1L97.8 181.8L99.3 182.6L98.4 183.1L98.1 183.8L97.5 183.9L97.8 183.0L97.2 182.6L96.2 181.9L95.0 181.3L94.3 180.7L93.7 180.1L92.8 180.3L91.9 180.8L90.6 180.6L89.7 180.9L89.8 181.5L88.4 182.1L87.8 182.9L87.3 184.2L86.4 184.8L85.0 184.8L84.3 185.2L83.9 184.7L83.1 184.4L82.3 184.6L82.3 183.6L81.9 183.0L82.3 182.1L82.3 181.4L82.0 180.8L82.8 180.4L84.7 180.5L86.6 180.6L86.9 179.9L87.1 179.0L86.4 178.3L85.0 177.8L84.8 177.4L85.9 177.2L86.9 177.3L86.9 176.7L87.9 176.8L88.7 176.3L89.4 175.8L90.0 175.5L90.7 174.7L91.2 174.3L92.2 174.3L93.1 174.2L93.2 173.0L92.9 172.2L94.3 171.7L94.3 172.5L94.2 173.3L94.7 174.0L95.6 173.6L96.5 174.0L99.3 173.5L100.9 173.3L101.0 172.4L101.3 171.8L102.4 172.1L103.0 171.3L102.4 170.7L104.0 170.5L106.5 170.3L105.3 169.9L102.1 170.3L101.1 169.7L101.2 168.7L101.8 167.8L103.6 167.1L103.1 166.6L101.5 166.8L100.9 167.4L99.6 168.0L98.7 168.7L98.5 169.6L99.5 170.2L98.7 171.0L98.1 172.1L97.6 172.6L96.7 173.1L95.8 172.7L95.3 171.8L94.8 171.0L94.3 170.7L93.1 171.3L92.2 171.5L91.3 171.0L90.9 169.9L90.9 169.0L91.9 168.5L93.1 168.0L94.3 167.4L95.6 166.5L96.5 165.5L97.5 164.9L98.4 164.4L100.0 164.0L102.1 163.5L104.0 163.4L105.6 163.4L107.1 163.8L108.4 164.4L110.2 164.6L112.7 165.4L113.4 166.2L111.8 166.5L109.3 166.2L109.3 167.4L110.9 167.8L111.5 167.4L112.7 167.3L114.9 166.3L115.2 164.9L116.5 165.2L117.4 165.5L120.8 164.9L121.8 165.1L124.0 164.7L125.2 164.9L125.8 164.1L128.9 164.5L129.3 163.5L130.5 162.1L132.7 162.2L133.0 163.4L134.9 162.5L137.0 162.5L138.0 161.8L141.1 161.6L142.0 160.9L145.8 160.2L148.9 160.0L150.8 159.6L152.6 159.2L153.9 159.6L157.6 159.9L158.2 160.4L156.4 161.5L158.2 161.8L162.0 162.1L164.8 161.8L167.6 162.2L168.5 163.0L170.1 163.0L171.3 163.0L174.4 162.5L175.1 162.4L178.8 162.5L181.3 163.0L182.5 163.4L185.7 163.4L187.5 163.7L188.2 164.3L191.9 164.2L193.8 164.0L197.5 164.1L200.0 164.7L203.1 165.5L205.3 166.0L206.4 166.4L205.0 167.4L200.1 167.1L199.1 167.4L198.1 168.7L196.3 169.1L194.1 170.2L191.3 170.2L190.0 170.3L189.7 171.2L188.8 171.5L189.4 172.7L188.8 173.5L187.5 174.6L186.6 175.2L185.5 175.8L185.0 174.6L184.8 172.7L185.5 171.8L186.3 171.5L187.5 170.5L188.8 169.9L187.8 169.3L185.7 169.2L183.8 170.7L181.9 170.8L180.4 170.7L178.2 170.6L176.3 170.8L174.1 172.4L173.2 174.0L175.4 174.3L175.9 175.2L175.4 176.5L175.1 177.7L174.1 178.6L172.6 180.2L170.7 180.9L169.5 181.1L168.7 182.1L168.5 183.0L168.3 184.6L168.5 185.5L167.0 186.1L166.5 185.8L166.7 184.6L166.0 184.1L165.6 182.9L163.5 182.1L162.0 183.2L161.2 183.3L161.8 184.2L163.2 184.3L164.2 184.4L162.9 185.2L162.2 185.8L162.9 186.9L163.7 187.9L163.5 188.4L163.8 189.1L163.4 190.2L162.6 191.1L162.3 191.9L161.2 192.7L159.5 193.5L158.5 193.8L157.0 194.2L156.6 194.9L156.2 194.2L155.1 194.2L154.2 194.9L153.7 195.8L154.2 196.9L155.6 198.1L155.9 199.9L155.7 200.5L154.5 201.2L153.2 202.2L153.1 201.2L151.6 200.0L150.7 199.2L150.1 199.9L149.6 201.7L150.3 203.3L151.1 203.4L152.3 204.8L152.3 206.4L152.8 206.8L152.2 206.8L150.9 205.9L150.3 204.5L149.2 202.5L149.3 199.9L148.7 197.4L147.0 197.8L146.6 197.4L146.7 195.8L145.3 194.2L145.0 193.6L144.2 193.9L143.3 194.0L142.0 194.2L141.9 194.9L140.8 195.5L139.1 197.0L137.8 198.0L137.9 199.5L137.5 201.1L136.4 202.2L136.1 202.6L135.5 202.0L134.9 200.5L134.3 198.9L133.6 197.4L133.2 195.8L133.2 194.4L131.7 194.5L130.8 193.7L130.5 193.0L129.8 192.4L129.3 191.8L127.7 191.9L126.1 191.9L124.3 191.7L123.5 191.6L123.2 190.8L121.9 191.1L120.5 190.5L119.6 189.7L119.0 188.8L118.0 188.9L117.7 189.2L118.0 190.2L118.7 190.9L119.2 191.7L119.5 192.2L119.9 192.5L120.2 192.7L121.5 192.6L122.4 191.7L122.9 191.3L123.0 192.1L123.6 192.8L124.6 193.6L125.1 193.7L124.3 194.9L123.8 195.8L122.4 196.5L120.4 197.5L118.7 198.5L117.4 199.2L115.8 199.7L114.9 199.7L114.5 198.6L114.4 197.4L113.7 196.4L112.7 195.2L112.1 194.2L111.8 192.8L110.9 191.7L110.2 190.7L109.6 190.1L109.2 190.3L108.7 190.2L108.1 189.0ZM332.3 188.1L330.9 188.1L329.7 188.3L327.8 187.9L326.5 187.3L324.7 187.7L324.4 188.6L323.4 188.4L321.9 188.0L320.3 187.1L319.1 186.9L318.6 185.5L319.1 184.6L318.2 184.4L317.2 184.6L315.3 184.7L314.1 184.7L312.2 185.3L311.0 185.8L308.8 185.3L308.3 185.8L306.4 187.4L306.1 188.9L305.0 190.2L304.1 190.5L302.9 191.7L302.2 193.0L301.6 194.5L302.1 195.5L301.9 196.7L301.4 198.4L301.7 199.5L302.7 200.8L303.8 201.7L304.4 203.0L305.3 203.6L306.6 204.5L307.5 204.9L309.1 204.5L311.0 204.7L312.8 203.9L313.8 203.7L315.0 203.7L315.9 205.0L317.2 204.8L318.1 205.3L318.3 206.4L318.0 207.3L317.8 208.3L319.4 209.8L320.0 211.4L320.5 213.0L320.8 214.5L320.0 216.1L319.6 218.3L321.2 221.7L321.6 224.2L322.5 225.5L323.4 227.3L323.7 228.9L324.7 229.4L326.2 228.9L328.2 228.9L329.0 228.6L330.9 227.2L331.8 225.7L332.5 224.5L332.6 223.6L334.3 222.6L334.3 221.1L333.8 220.0L335.1 218.9L336.8 217.6L337.4 216.4L337.4 214.2L336.6 213.0L336.7 211.4L337.1 209.8L338.1 208.8L339.3 207.3L340.9 206.1L342.4 204.2L343.9 201.7L344.2 200.3L342.7 200.6L339.9 201.2L339.2 200.3L338.8 199.5L338.1 198.6L336.8 198.0L336.2 196.4L335.4 194.5L335.1 193.6L334.3 192.7L333.7 191.4L333.1 190.5L332.5 189.0ZM383.1 221.6L383.4 223.9L382.9 224.2L383.9 226.1L384.3 228.6L383.9 229.0L385.8 229.5L389.2 228.8L390.7 227.8L392.6 227.4L394.2 227.3L395.7 228.1L396.8 229.4L397.9 228.2L398.1 229.8L399.2 230.0L399.8 231.4L401.6 231.9L403.4 232.0L404.5 231.2L405.7 231.0L406.5 228.7L407.6 226.7L407.9 225.1L407.6 223.6L406.3 222.3L405.4 221.4L404.5 220.1L403.4 219.2L402.9 217.6L402.8 217.0L401.6 216.4L401.0 214.4L400.5 215.8L400.4 217.3L400.0 218.6L399.2 218.5L398.1 217.6L396.7 217.0L397.3 216.1L397.5 215.3L396.4 215.3L394.8 214.8L394.2 215.3L393.2 215.8L392.9 217.0L391.9 216.7L390.7 216.4L389.8 217.4L388.9 217.9L388.4 218.9L387.6 219.8L386.1 220.3L384.8 220.6L383.6 221.3ZM267.9 158.4L271.1 159.3L276.0 160.4L277.3 161.7L279.2 163.7L279.5 165.6L281.0 167.7L282.9 169.3L284.5 170.1L286.0 169.3L287.4 167.6L291.6 165.8L297.2 163.6L298.5 162.4L300.1 160.7L301.0 159.3L304.1 156.8L296.6 156.2L287.3 155.9L277.9 156.5L271.7 157.1L268.6 157.7ZM200.0 256.5L209.3 256.3L212.5 255.4L221.8 254.9L224.9 254.1L243.6 253.7L246.8 252.9L262.3 252.7L266.1 252.1L268.6 251.0L272.9 248.5L274.8 247.6L275.4 247.7L275.4 252.6L275.1 254.9L277.9 255.8L290.4 255.8L296.0 254.3L302.9 253.1L312.2 252.3L330.3 252.1L331.5 251.5L343.4 251.3L345.2 250.2L347.1 251.3L355.8 251.3L358.9 252.1L361.4 251.6L362.7 249.6L403.8 249.6L408.8 250.6L415.1 252.4L418.2 252.8L418.8 255.6L424.4 255.6L424.4 263.8L200.0 263.8ZM272.0 169.0L271.1 168.3L273.6 166.0L271.1 165.2L269.2 163.7L265.4 162.4L262.3 161.7L256.7 162.0L257.3 162.4L258.6 164.0L260.5 164.3L263.0 165.2L266.1 165.2L266.1 166.2L263.9 167.4L266.7 167.7L269.2 168.7L271.7 169.0ZM238.6 164.0L239.3 162.1L243.0 162.1L247.1 162.1L249.2 163.7L246.8 164.9L243.0 164.9L239.3 164.6ZM262.3 159.9L256.1 159.6L256.1 157.4L263.6 155.9L273.6 156.2L267.3 158.1L264.2 159.0ZM234.0 163.0L234.3 161.2L239.9 160.9L238.0 163.0ZM262.3 161.2L254.9 161.0L254.9 159.9L262.3 160.0ZM246.8 161.2L238.6 161.2L238.6 159.6L246.8 159.6ZM252.4 163.0L248.6 162.4L248.6 161.5L252.4 161.5ZM256.1 162.7L253.0 162.4L253.0 161.5L256.1 161.5ZM262.3 167.7L259.8 169.0L258.0 167.7L258.6 166.5L261.1 166.8ZM318.4 158.1L322.8 159.9L325.9 159.0L329.0 157.7L324.7 157.4L319.7 157.7ZM344.6 163.4L347.7 163.7L349.6 161.5L355.2 159.7L350.8 159.6L346.5 161.5L344.6 162.7ZM369.5 158.4L374.5 159.0L378.3 158.4L374.5 157.1L370.8 157.4ZM340.2 157.4L346.5 157.7L352.7 157.1L346.5 156.6ZM396.4 161.5L400.7 162.1L405.7 160.9L399.5 160.2ZM297.2 166.8L298.5 166.2L302.2 166.2L303.5 166.8L302.9 167.5L301.0 168.1L298.2 167.8ZM308.6 176.5L313.1 175.7L313.3 174.8L312.3 174.3L311.3 173.3L311.0 172.7L311.1 171.8L310.2 171.1L309.1 171.1L308.5 171.8L308.8 172.7L309.1 173.3L310.3 173.8L310.3 174.4L309.2 174.8L309.5 175.4L308.9 175.4L310.3 175.6ZM308.5 175.1L308.3 174.1L308.8 173.5L307.6 173.1L306.0 173.8L306.0 175.3L307.2 175.5ZM393.8 186.4L394.5 185.7L396.4 185.4L397.0 184.9L397.9 184.3L399.2 183.6L399.5 182.4L400.4 181.8L400.7 183.0L400.1 183.9L400.0 185.2L399.5 185.8L398.5 186.0L397.6 186.1L396.7 186.6L396.0 186.2L394.2 188.1L393.4 188.1L393.0 186.9ZM399.5 181.8L400.6 181.1L402.9 180.6L402.3 180.1L400.6 179.3L400.3 180.5ZM400.7 179.0L401.6 178.5L401.3 176.8L401.5 175.4L401.3 174.0L400.9 173.8L400.5 174.9L400.7 176.5L400.6 177.7ZM371.6 204.2L373.0 204.4L374.7 206.1L375.9 207.2L377.3 208.6L378.3 209.5L378.1 211.3L377.3 211.3L376.0 210.1L375.0 208.6L374.0 207.5L373.0 206.2ZM377.8 211.9L379.5 211.5L381.4 211.7L382.4 212.0L383.6 212.5L383.6 213.1L381.4 212.8L379.5 212.5L378.3 212.1ZM380.6 206.4L381.4 206.5L382.6 205.7L384.2 204.3L385.0 203.3L386.4 204.5L385.8 205.0L385.6 206.5L386.4 207.1L385.4 208.0L384.8 209.2L384.5 210.0L383.6 209.8L381.7 209.6L380.8 209.5L380.5 208.0L380.1 207.2ZM386.7 211.1L387.3 211.1L387.3 209.4L387.9 210.6L388.9 210.5L387.7 208.6L389.2 208.2L387.3 207.3L390.0 206.7L390.1 206.8L387.0 207.2L386.7 208.0L386.3 209.2ZM393.9 208.4L394.8 207.9L395.7 208.3L396.7 209.7L397.9 208.6L400.1 209.3L402.9 210.5L404.1 211.4L404.3 212.6L405.7 214.2L403.8 213.9L402.6 212.5L401.6 213.3L400.1 213.4L398.8 212.6L398.2 212.9L398.1 211.1L396.4 210.4L394.8 209.8L394.5 209.4L393.7 208.6ZM342.9 215.1L343.7 217.3L343.1 218.6L342.2 220.8L341.5 223.2L340.4 223.6L339.6 222.3L339.2 221.1L339.9 219.8L339.8 218.3L341.2 217.4L342.1 216.1ZM259.2 194.0L261.7 193.2L264.2 193.9L265.9 195.0L263.9 195.2L263.0 194.2L260.5 193.9ZM275.2 178.0L277.6 175.5L279.2 176.8L279.4 178.3L277.9 178.5L277.3 177.9ZM402.4 233.0L404.6 233.2L404.5 234.5L403.2 234.9L402.6 233.9ZM387.0 197.7L387.4 196.1L388.4 196.1L388.6 197.0L387.9 198.0L389.5 199.5L387.6 199.2ZM388.2 203.3L389.2 202.3L390.4 201.5L391.1 203.1L390.4 204.2L389.5 203.6ZM361.9 201.5L363.3 203.0L362.8 203.8L362.1 203.9ZM265.9 196.1L267.0 195.2L269.2 195.5L269.6 196.1L267.9 196.5L265.9 196.3ZM387.2 193.6L387.6 191.9L388.2 192.1L387.6 193.9ZM379.9 195.7L381.1 195.1L381.4 195.4L380.5 196.3ZM224.3 164.2L231.2 163.7L234.9 159.0L243.6 158.4L253.0 156.8L262.3 155.9L272.3 156.2L268.6 158.1L264.8 158.7L262.3 161.5L265.4 162.4L269.2 163.7L272.9 166.2L272.0 169.0L268.6 170.2L262.3 170.2L252.4 165.5L224.3 164.2ZM268.6 178.3L271.1 176.1L274.8 176.1L275.4 178.0L274.2 179.3L271.1 179.6ZM308.5 185.5L312.2 183.6L314.1 181.1L318.4 179.9L324.7 180.8L329.7 181.8L335.3 184.6L334.6 188.3L324.7 188.9L318.4 187.1L311.0 185.8ZM329.0 182.1L329.7 178.3L338.4 178.3L338.4 182.4ZM340.9 179.0L342.7 177.7L345.9 178.3L346.5 182.1L345.9 184.9L342.7 184.9L340.9 181.4ZM332.1 188.9L334.0 188.9L339.6 199.5L338.4 200.2L335.3 196.4ZM341.8 188.6L343.7 188.6L347.7 191.1L347.4 193.0L343.4 192.7ZM318.4 174.3L318.4 171.5L323.4 169.6L323.4 166.5L328.4 166.5L330.9 170.2L327.2 172.7L324.7 174.3ZM344.6 164.6L345.2 163.4L348.4 161.8L358.9 162.4L365.2 160.5L370.2 157.1L377.6 158.1L383.9 160.5L399.5 161.2L411.9 163.0L411.9 164.6L344.6 164.6Z" fill="#0000ff" stroke="#0000ff" stroke-width="1.70" stroke-linejoin="round"/>
<path d="M200.0 163.4L201.9 163.0L201.2 163.4L200.0 163.5ZM388.2 201.4L389.5 200.5L390.4 200.8L390.1 201.4L388.9 201.9ZM389.5 214.0L391.4 212.9L390.1 213.0L389.2 213.9ZM383.9 212.8L386.4 213.0L388.9 212.8L388.9 213.1L384.5 213.3L383.9 213.1ZM419.8 229.1L421.0 230.1L421.9 231.1L423.5 231.2L422.5 232.2L421.9 233.4L421.2 233.4L421.3 232.5L420.5 232.1L421.0 230.9ZM419.8 232.9L420.8 233.7L420.0 235.0L418.8 235.7L417.5 236.7L416.0 236.3L417.2 235.1L418.8 233.9ZM235.3 177.5L232.2 176.0L234.4 176.5L234.0 177.1ZM317.4 182.1L318.3 182.1L318.2 183.3L317.5 183.3ZM317.6 180.9L318.1 180.8L318.1 181.8L317.6 181.8ZM319.9 183.9L321.9 183.8L321.7 184.8L320.0 184.2ZM392.0 209.5L393.9 209.6L393.2 210.0L392.0 209.8ZM391.7 206.5L392.3 206.7L392.0 207.7L391.7 207.3ZM404.8 211.1L406.9 210.3L406.9 210.9L405.7 211.5ZM409.4 211.7L411.9 212.6L413.2 214.2L411.9 213.6L410.1 212.6ZM416.0 216.7L416.6 217.0L417.2 218.6L416.6 217.9ZM414.4 220.1L416.3 221.7L415.7 221.4L414.4 220.4ZM422.5 218.6L423.5 218.6L423.5 219.0L422.7 219.0ZM201.2 175.3L203.7 175.1L201.2 175.5ZM209.3 173.6L210.9 173.0L210.6 173.6ZM403.2 180.5L404.5 179.6L405.7 179.0L408.8 176.8L409.8 176.0L408.8 177.1L405.1 179.6L403.2 180.6ZM263.4 196.2L264.7 196.4L264.3 196.5L263.6 196.4ZM270.3 196.2L271.3 196.3L271.1 196.5L270.3 196.4ZM263.6 191.0L264.2 191.1L263.9 192.7L265.1 192.6L264.8 193.0L263.5 192.4ZM332.3 185.8L333.8 185.4L333.4 186.1L332.5 186.0ZM326.8 185.6L328.6 185.7L328.4 185.8L326.8 185.7ZM288.5 241.3L289.9 241.7L289.4 241.8L288.5 241.5ZM274.2 239.7L276.0 239.7L275.7 240.1L274.2 240.1Z" fill="#0000ff"/>
<g mask="url(#landmask)">
<path d="M251.1 175.2L249.9 175.3L243.6 174.7L239.9 172.9L238.0 172.2L237.6 171.8L237.7 171.5L238.9 170.5L239.6 169.3L239.3 168.8L238.6 168.5L237.6 168.7L238.3 169.3L238.4 169.6L237.7 169.8L234.6 169.1L233.3 168.3L232.1 169.1L231.5 169.3L229.9 168.6L229.3 168.5L228.1 169.5L227.4 169.8L224.3 168.5L223.7 168.4L222.1 168.7L220.6 168.2L219.3 168.3L217.8 169.0L216.8 169.1L215.9 168.8L215.3 168.3L214.0 167.1L213.8 166.5L214.0 166.2L214.6 165.8L217.1 165.8L218.7 165.3L219.0 165.3L220.9 166.7L221.5 166.9L221.8 166.8L222.1 166.5L222.3 165.5L222.7 164.9L223.7 164.4L225.2 164.6L228.1 165.8L228.7 165.8L230.5 164.7L231.5 164.6L233.6 165.5L234.3 166.9L237.1 166.2L238.3 166.4L239.5 167.4L241.1 169.3L242.1 169.9L242.7 170.0L244.3 169.7L246.4 170.6L248.6 170.8L250.2 171.3L252.0 171.6L253.3 172.2L254.5 173.3L254.5 173.6L253.0 174.8L251.1 175.2ZM393.2 178.7L392.3 178.9L391.4 178.8L388.6 176.7L387.3 176.3L386.7 176.4L385.8 177.3L384.8 177.6L383.3 177.6L380.8 177.9L380.1 177.8L379.5 177.5L378.1 175.5L378.0 174.9L378.2 174.3L378.7 173.6L379.8 172.9L380.5 172.1L381.1 171.8L382.8 171.5L383.3 170.8L383.3 170.5L382.5 169.6L382.0 169.3L381.1 169.1L380.5 168.7L380.2 167.7L380.5 166.8L381.4 166.2L384.5 166.2L386.7 165.4L387.9 165.2L392.0 165.4L392.9 165.8L394.9 167.1L396.0 167.5L397.0 167.4L399.5 166.1L400.7 166.1L401.5 166.5L402.0 167.4L402.0 168.0L401.6 168.7L400.7 169.2L397.9 169.9L396.4 170.5L395.6 171.2L394.5 172.6L394.0 173.0L394.2 173.2L397.6 172.7L398.2 172.8L399.2 173.2L400.5 174.3L401.2 175.2L401.3 176.1L400.9 177.4L400.1 178.2L399.2 178.5L397.3 178.5L395.1 177.7L393.2 178.7ZM409.8 169.6L409.1 169.7L408.2 169.5L406.8 168.3L406.6 167.4L407.3 166.4L408.2 166.0L409.1 166.0L410.1 166.4L410.8 167.1L411.1 167.7L410.9 168.7L410.4 169.3L409.8 169.6ZM373.0 179.3L371.4 179.0L368.6 177.3L368.0 177.2L367.4 177.4L366.6 178.3L366.1 178.6L363.0 178.4L361.1 178.5L360.2 178.0L359.6 176.5L356.5 176.5L354.3 178.4L353.3 178.9L352.4 179.0L351.9 178.6L351.2 177.4L350.5 176.8L349.9 176.8L348.7 177.6L345.5 177.8L344.3 177.5L342.8 176.8L341.7 175.8L341.3 175.2L341.4 174.9L341.8 174.7L343.4 174.5L344.4 173.6L345.2 173.2L346.2 173.3L348.0 174.0L348.7 173.9L349.3 172.8L349.9 172.3L351.2 172.1L353.7 172.1L355.2 171.0L356.1 170.7L357.1 170.8L359.9 171.5L360.5 172.0L361.4 173.4L362.1 173.5L363.4 172.7L364.0 171.5L364.6 171.1L365.8 171.0L367.7 171.4L370.2 171.2L370.9 171.5L371.7 172.4L372.4 172.8L373.0 172.8L374.5 172.2L375.5 172.3L376.7 173.3L377.4 174.6L377.5 175.2L377.3 175.8L376.1 177.9L374.8 178.7L373.0 179.3ZM339.9 175.2L338.7 175.5L335.9 174.7L334.7 173.6L334.5 172.7L335.0 172.1L335.9 171.7L337.8 171.9L339.3 171.7L339.9 171.8L340.7 172.4L340.9 173.0L340.8 174.6L340.6 174.9L339.9 175.2ZM307.5 184.6L306.9 184.5L306.3 184.2L305.5 183.0L305.4 182.4L305.6 181.8L306.6 181.0L307.2 180.9L307.8 181.1L308.3 181.4L308.7 182.1L308.8 182.7L308.7 183.6L308.1 184.3L307.5 184.6ZM372.4 200.6L371.4 200.7L370.5 200.3L369.5 199.5L368.7 198.3L368.1 196.4L367.8 192.4L368.3 191.1L369.5 189.9L371.4 189.1L373.0 188.8L373.9 189.1L375.8 190.2L377.0 190.2L377.6 190.5L377.8 191.4L377.6 191.8L377.1 192.1L378.0 193.0L378.6 193.1L379.4 193.6L379.9 194.5L379.7 195.2L379.0 196.4L378.6 198.3L378.0 199.2L377.3 199.4L375.8 199.2L374.8 199.5L373.6 199.6L372.4 200.6ZM256.7 200.8L255.8 200.8L254.2 200.3L251.4 198.8L249.8 197.7L249.3 197.0L249.2 196.4L249.4 195.5L249.9 194.5L250.5 194.1L251.1 193.9L255.5 193.5L256.7 193.6L257.7 194.1L258.1 194.5L259.4 197.0L259.5 198.0L259.1 198.9L258.6 199.5L257.7 200.4L256.7 200.8ZM331.8 227.0L331.2 227.2L330.0 227.2L329.0 226.8L327.5 225.7L326.5 224.1L325.0 223.5L323.4 223.4L321.9 222.2L321.2 222.0L319.7 222.3L318.7 222.0L317.6 221.1L316.7 219.8L316.1 218.6L316.1 217.9L316.3 217.3L317.2 216.1L317.2 215.1L316.3 214.2L316.0 213.6L315.8 212.6L315.9 212.0L316.7 210.5L317.8 209.3L318.4 209.0L319.9 208.9L320.7 207.7L320.5 207.0L319.1 206.4L316.6 205.9L316.3 205.8L315.0 206.5L313.1 206.0L311.9 206.7L310.0 206.3L308.1 206.2L307.2 206.0L306.0 205.1L305.0 203.8L303.2 202.8L302.4 201.7L301.2 200.8L300.9 200.2L300.8 199.5L301.1 198.9L301.6 198.3L302.2 197.8L303.2 197.4L305.0 196.9L308.8 197.4L311.0 196.9L314.1 197.1L317.2 196.6L319.4 196.8L321.6 196.7L323.4 196.9L325.0 197.9L327.2 197.9L328.4 197.2L329.7 197.1L332.5 197.7L334.3 197.6L335.3 197.8L336.1 198.3L336.8 199.4L338.7 200.0L340.5 201.4L340.9 202.0L341.0 202.7L340.8 203.9L340.6 204.4L337.9 204.8L335.3 206.1L334.9 206.4L334.8 207.0L336.6 209.2L337.9 210.5L338.7 212.5L339.6 213.6L340.2 214.1L342.1 214.7L342.7 215.4L343.0 216.4L342.9 217.3L342.2 218.6L342.0 219.8L341.5 220.8L342.0 221.4L342.1 222.3L341.5 222.8L340.7 222.6L340.1 221.7L340.2 220.3L339.0 220.2L338.1 221.1L336.9 223.2L335.6 224.2L334.6 225.4L333.7 226.1L331.8 227.0ZM277.0 225.2L275.7 225.3L274.8 225.1L273.9 223.2L272.3 222.6L271.1 222.5L269.8 223.0L269.2 223.1L266.4 222.1L265.5 221.1L264.7 219.5L264.6 218.9L265.8 217.3L266.1 216.4L266.2 214.5L266.1 212.6L266.2 212.0L266.7 211.4L268.4 210.1L269.8 208.6L270.1 208.0L270.0 206.1L269.8 205.2L269.5 204.7L268.0 203.9L267.1 202.7L267.1 202.0L268.3 201.3L269.5 201.1L270.7 201.1L273.2 201.5L274.2 202.0L277.6 205.8L277.8 206.4L277.1 207.7L277.6 208.8L280.1 209.4L282.0 210.3L282.6 209.7L282.9 209.6L284.1 210.2L284.8 210.8L285.1 212.6L286.1 214.2L286.2 214.8L286.0 215.6L285.7 216.2L284.9 217.0L285.0 217.9L284.9 218.9L283.8 220.1L283.4 221.7L281.3 224.2L280.7 224.7L280.1 224.9L277.0 225.2ZM301.6 204.9L300.4 204.7L299.2 203.9L298.9 203.0L299.2 202.3L299.7 202.1L300.4 202.1L301.6 203.0L302.0 203.6L302.2 204.2L302.1 204.5L301.6 204.9ZM382.9 213.6L381.7 213.5L379.8 211.8L378.9 211.3L378.6 211.4L377.3 212.6L376.4 212.8L375.2 212.6L373.6 211.6L373.0 211.1L372.6 210.5L371.8 208.0L371.7 207.0L372.1 205.8L374.2 203.8L375.2 203.4L376.1 203.5L378.6 205.1L379.2 205.0L381.1 204.1L382.6 203.9L383.9 204.1L385.1 204.7L385.6 205.2L386.0 205.8L386.4 208.3L386.3 209.5L385.1 212.4L384.2 213.1L382.9 213.6ZM404.8 228.5L404.1 228.5L402.3 227.0L401.1 224.8L400.7 222.2L400.3 221.7L398.8 220.8L397.6 220.5L395.4 221.2L393.9 220.7L392.9 220.7L391.1 220.9L389.5 221.4L388.9 221.3L387.6 220.4L386.1 218.7L385.8 218.7L384.8 219.3L383.9 219.7L383.3 219.7L382.7 219.5L382.5 219.2L382.4 217.9L382.1 217.0L381.7 216.4L381.2 216.1L382.0 215.8L383.3 216.0L384.5 216.4L385.8 217.2L386.1 217.1L386.4 216.5L386.7 215.1L387.3 214.7L389.5 214.7L391.4 213.9L394.2 213.8L395.4 213.4L395.9 212.6L396.5 210.5L397.2 209.8L397.9 209.6L399.8 209.7L400.4 209.9L401.3 210.8L401.7 212.3L401.5 213.3L400.9 214.8L401.2 215.1L402.9 215.2L404.5 214.3L405.4 214.1L409.8 214.4L411.6 215.0L412.0 216.1L412.1 217.3L411.9 217.8L411.6 218.1L410.2 218.6L408.5 219.5L408.1 219.8L407.7 220.4L407.6 223.2L407.1 225.1L407.2 226.7L407.1 227.3L406.6 227.8L405.0 228.2L404.8 228.5ZM339.3 217.9L339.8 217.3L339.9 216.7L339.6 216.0L339.3 215.8L338.4 216.3L338.1 217.0L338.4 217.6L338.7 217.9L339.3 217.9ZM393.2 225.5L391.4 225.7L387.9 225.3L387.0 224.8L386.8 224.2L387.3 223.5L389.5 222.9L391.7 223.6L393.5 223.3L394.5 223.4L395.1 223.6L395.6 224.2L395.6 224.5L395.2 224.8L393.2 225.5Z" fill="#00c8f0" fill-rule="evenodd"/>
<path d="M227.1 167.8L225.9 167.5L225.1 167.1L224.4 166.5L224.3 166.2L224.5 165.8L225.5 165.8L226.6 166.5L227.5 167.4L227.4 167.7L227.1 167.8ZM392.9 178.3L392.0 178.5L391.1 178.2L388.6 175.8L387.6 175.3L386.7 175.5L385.1 176.7L384.5 176.9L381.4 177.3L380.5 177.2L379.9 176.8L379.5 176.1L379.4 174.9L379.6 174.3L380.3 173.0L380.8 172.6L381.4 172.3L383.6 171.8L383.9 171.2L383.7 169.9L383.3 169.3L382.6 168.9L381.4 168.5L381.1 168.2L380.9 167.7L381.1 167.1L382.0 166.7L384.8 166.8L386.7 165.9L387.9 165.7L391.1 165.7L392.0 165.9L395.1 167.7L396.4 168.2L397.0 168.1L399.2 166.8L400.1 166.8L400.8 167.1L401.0 167.4L401.1 168.0L400.4 168.6L397.0 169.2L393.9 171.7L393.2 171.8L391.7 171.6L390.4 171.7L389.4 172.4L389.3 172.7L389.8 173.1L390.7 173.4L392.6 173.4L394.2 174.4L395.1 174.3L397.0 173.3L398.2 173.3L399.5 173.9L400.6 175.2L400.8 175.8L400.6 176.8L400.1 177.6L399.5 177.9L398.2 178.1L397.3 178.0L395.1 177.1L392.9 178.3ZM409.4 169.0L408.5 169.0L407.6 168.3L407.4 168.0L407.4 167.4L407.9 166.8L408.5 166.6L409.1 166.6L409.8 167.0L410.2 167.4L410.3 168.3L410.1 168.7L409.4 169.0ZM231.2 167.3L230.9 167.2L230.9 166.9L231.2 167.0L231.2 167.3ZM251.4 174.3L249.6 174.6L246.4 173.9L243.9 173.7L241.5 172.4L240.9 171.8L240.8 171.5L241.5 171.4L242.7 172.0L244.6 171.5L246.4 171.8L248.3 171.7L249.9 172.2L251.4 172.4L252.1 172.7L252.5 173.3L252.2 174.0L251.4 174.3ZM354.0 177.5L353.3 177.6L352.7 177.4L351.5 175.8L350.2 174.9L350.0 174.0L350.3 173.3L351.5 172.8L354.0 172.8L355.8 171.9L356.5 171.7L357.4 171.8L359.3 172.4L359.9 172.8L360.4 173.3L360.8 174.6L360.5 175.1L356.2 175.5L355.7 175.8L354.6 177.1L354.0 177.5ZM387.5 173.0L387.6 172.7L387.0 172.3L386.2 172.4L386.0 172.7L386.2 173.0L386.7 173.3L387.5 173.0ZM338.1 174.0L337.1 174.1L336.2 173.9L335.6 173.3L335.7 172.7L336.5 172.4L338.2 173.0L338.5 173.3L338.5 173.6L338.1 174.0ZM372.0 177.8L371.4 177.9L370.5 177.6L368.0 175.9L367.4 176.1L365.8 177.2L364.6 177.3L362.4 176.3L361.9 175.8L361.8 175.5L362.1 174.9L363.0 173.9L363.9 173.3L365.2 172.8L365.8 172.8L367.4 173.2L368.9 172.9L369.9 172.9L372.7 173.9L374.8 173.4L375.5 173.5L376.1 173.8L376.4 174.3L376.5 174.9L376.3 175.5L375.5 176.7L374.5 177.3L373.3 177.4L372.0 177.8ZM346.5 176.5L345.2 176.6L344.4 176.1L344.5 175.8L344.9 175.2L345.9 174.4L346.8 174.5L347.6 175.2L347.6 175.5L347.4 176.0L346.5 176.5ZM307.5 183.8L306.9 183.7L306.3 183.0L306.3 182.2L306.9 181.7L307.5 181.8L308.1 182.4L308.0 183.3L307.5 183.8ZM371.7 199.3L371.1 199.3L370.5 199.0L369.6 198.0L369.4 197.0L369.4 195.2L368.6 193.6L368.5 192.4L368.8 191.4L369.9 190.4L371.1 189.8L372.7 189.6L373.6 189.9L374.3 190.5L374.7 191.1L374.8 192.5L376.4 193.0L378.1 194.5L378.3 195.2L378.2 196.1L377.9 197.7L377.3 198.4L376.4 198.6L373.3 198.5L371.7 199.3ZM257.0 200.3L256.1 200.4L254.9 200.1L251.8 197.7L251.3 196.7L251.7 195.7L252.4 195.2L255.2 194.2L256.4 194.1L257.3 194.5L258.8 196.7L259.1 197.7L259.0 198.3L258.6 198.9L258.0 199.6L257.0 200.3ZM331.2 226.1L329.7 226.0L328.7 225.6L327.8 224.8L326.2 222.9L324.0 222.5L322.8 221.4L322.1 221.1L321.2 220.9L319.7 221.0L319.1 220.9L318.4 220.5L318.0 219.8L317.7 218.3L318.2 216.4L318.3 215.1L318.1 214.5L317.0 213.0L317.1 211.7L317.8 210.5L318.4 209.9L320.6 209.3L321.3 208.9L322.0 207.3L322.1 206.7L321.9 206.4L320.7 205.8L318.4 205.4L316.9 204.8L315.3 205.3L314.7 205.2L313.5 204.5L312.5 203.4L310.6 203.3L309.1 205.0L308.5 205.2L307.5 205.0L306.6 204.5L302.6 200.8L302.2 199.9L302.3 199.2L302.6 198.6L303.8 197.9L305.0 197.4L306.9 197.6L308.8 198.3L310.6 197.8L312.2 197.8L314.1 198.2L316.9 197.5L319.4 197.7L322.2 197.5L323.7 197.9L325.0 198.6L327.5 198.6L328.7 197.9L330.0 197.7L332.1 198.2L335.0 198.4L335.6 198.7L336.5 200.0L338.4 200.5L339.5 201.4L340.2 202.3L340.2 203.0L339.8 203.6L338.7 204.1L337.0 203.9L335.6 204.7L334.6 205.6L333.4 206.4L333.3 206.7L334.6 208.3L337.1 210.5L337.5 211.4L338.1 214.5L337.1 216.7L337.1 217.6L337.5 218.9L337.6 219.5L336.6 222.0L335.9 222.8L334.6 223.6L333.9 224.8L333.4 225.3L332.5 225.8L331.2 226.1ZM278.5 223.6L277.0 223.5L275.4 222.6L271.7 221.9L268.9 221.8L267.6 221.2L266.8 219.8L267.2 217.3L268.6 214.5L268.7 213.6L268.2 213.0L268.3 212.5L269.2 211.7L271.4 210.4L272.0 209.5L272.2 208.6L272.2 208.3L271.0 207.0L270.7 205.5L270.4 204.8L268.4 202.7L268.4 202.3L268.6 202.0L269.1 201.7L270.1 201.5L271.1 201.6L273.2 202.3L274.2 202.9L276.3 205.5L276.4 206.1L275.7 207.0L275.6 207.7L277.2 209.2L277.9 210.4L279.5 210.7L281.3 211.5L283.2 211.6L283.5 211.7L284.7 214.2L284.7 215.1L283.2 216.7L282.7 217.9L281.9 219.2L281.9 220.8L281.7 221.5L280.7 222.4L278.5 223.6ZM382.9 212.7L382.3 212.6L381.7 212.3L380.7 211.4L378.6 209.9L378.3 210.0L378.0 210.3L377.0 211.8L376.4 212.1L375.5 211.7L373.8 210.5L373.4 209.8L373.0 208.7L372.4 208.0L372.2 207.0L372.6 206.1L374.5 204.3L375.5 204.0L376.4 204.3L378.3 205.6L378.9 205.8L380.8 204.9L382.3 204.5L383.3 204.4L384.4 204.8L385.2 205.8L385.1 206.7L385.7 208.0L385.7 209.2L384.8 211.7L383.9 212.4L382.9 212.7ZM405.7 227.4L404.8 227.4L403.8 227.2L403.2 226.8L402.6 226.2L401.9 224.5L401.7 221.7L401.2 221.1L398.2 220.0L395.4 220.3L393.2 219.5L391.4 219.7L389.8 220.2L388.9 220.1L388.2 219.8L387.6 218.9L387.4 217.9L387.7 217.0L388.2 216.3L390.1 215.9L391.7 214.8L394.8 214.6L395.7 214.3L396.3 213.6L396.6 211.4L397.1 210.5L397.9 210.1L399.5 210.1L400.1 210.3L400.8 211.1L401.1 212.0L401.0 213.0L400.1 214.2L400.1 214.8L401.4 217.0L402.5 219.5L403.2 220.1L404.5 220.7L406.3 221.1L406.6 221.7L406.7 222.9L406.3 224.8L406.4 226.4L406.2 227.0L405.7 227.4ZM404.1 218.3L403.2 217.9L402.7 217.0L403.1 216.1L404.1 215.4L405.7 215.2L407.3 215.8L408.8 215.8L409.5 216.1L409.6 216.4L408.7 217.0L407.9 217.1L406.9 216.7L405.2 217.9L404.1 218.3ZM341.5 217.0L341.2 216.7L341.2 216.4L341.5 215.9L341.8 216.1L341.9 216.4L341.8 216.9L341.5 217.0ZM390.1 224.6L389.2 224.7L388.5 224.5L388.9 224.1L389.8 223.8L390.3 224.2L390.3 224.5L390.1 224.6Z" fill="#64ffff" fill-rule="evenodd"/>
<path d="M388.9 171.9L384.8 171.8L384.5 171.4L383.6 169.0L382.9 168.5L381.7 168.0L381.5 167.7L381.6 167.4L382.3 167.1L383.9 167.3L385.4 167.1L386.7 166.4L387.6 166.1L391.4 166.1L392.3 166.3L393.2 166.9L395.4 168.3L395.9 169.0L395.6 169.6L395.1 170.2L393.5 171.3L390.7 171.3L388.9 171.9ZM409.4 168.4L408.8 168.5L408.4 168.3L408.1 168.0L408.1 167.4L408.8 167.1L409.4 167.4L409.7 168.0L409.4 168.4ZM399.8 168.1L399.2 168.2L398.6 168.0L398.8 167.7L399.5 167.5L400.0 167.7L399.8 168.1ZM382.9 176.8L381.4 177.0L380.8 176.9L380.2 176.5L379.9 175.5L380.0 174.6L380.3 173.6L380.8 173.0L381.4 172.6L384.2 172.1L384.8 172.2L386.4 174.6L386.2 174.9L384.8 176.1L382.9 176.8ZM354.0 176.3L353.3 176.2L352.5 175.2L351.5 174.4L351.4 174.0L352.1 173.6L354.0 173.6L355.8 172.8L357.1 172.6L358.6 173.0L359.5 173.6L359.5 174.0L359.3 174.3L358.9 174.4L357.7 174.7L356.1 174.7L355.2 175.0L354.0 176.3ZM249.2 173.5L248.6 173.3L248.5 173.0L249.5 173.3L249.2 173.5ZM365.5 176.5L364.2 176.5L363.6 176.1L363.1 175.5L363.2 174.6L363.9 173.9L364.9 173.5L365.5 173.5L366.1 173.7L366.8 174.3L367.0 174.9L366.8 175.5L366.2 176.1L365.5 176.5ZM392.9 178.1L391.7 178.2L390.7 177.6L389.6 176.5L388.9 175.5L388.7 174.9L388.7 174.3L389.1 174.0L389.8 173.7L392.3 173.8L392.9 174.1L393.9 174.8L395.1 175.1L396.4 173.9L397.3 173.5L397.9 173.5L399.2 174.0L400.0 174.9L400.4 175.5L400.4 176.1L400.3 176.8L399.8 177.4L399.2 177.7L397.9 177.8L397.0 177.7L395.1 176.5L393.9 177.6L392.9 178.1ZM371.1 177.1L370.2 176.8L369.4 175.8L369.2 174.9L369.7 174.3L370.2 174.1L371.1 174.2L372.0 174.6L372.7 175.2L372.8 175.8L372.4 176.5L371.7 177.0L371.1 177.1ZM374.5 175.5L374.2 175.2L374.2 174.9L374.5 174.6L375.2 174.5L375.3 174.9L375.2 175.2L374.5 175.5ZM376.7 198.1L375.5 198.2L373.3 197.6L371.4 197.8L370.8 197.6L370.4 197.0L369.9 194.9L368.9 193.0L368.9 192.1L369.5 191.1L370.5 190.4L371.7 190.1L373.0 190.2L373.9 190.8L374.8 193.2L376.4 193.7L377.8 195.2L377.8 196.1L377.6 197.0L377.3 197.7L376.7 198.1ZM256.1 200.2L255.2 199.9L254.1 199.2L253.1 198.0L252.8 197.0L253.1 196.1L253.9 195.2L254.9 194.6L255.8 194.5L256.7 194.6L257.3 195.0L258.5 196.7L258.8 197.7L258.5 198.6L258.0 199.3L257.0 200.0L256.1 200.2ZM331.8 225.2L330.3 225.3L329.3 225.2L328.1 224.4L326.8 223.0L326.2 222.5L324.4 221.9L322.8 220.8L319.7 220.0L319.1 219.6L318.8 219.2L318.7 217.9L319.1 215.4L319.4 214.7L319.9 214.2L320.4 212.3L320.3 212.0L319.1 212.8L318.7 212.8L318.2 212.3L318.1 211.4L318.4 210.8L319.0 210.1L320.9 209.6L321.6 209.2L322.8 207.0L322.9 206.4L322.7 206.1L322.2 205.7L318.4 204.8L317.2 204.2L315.3 204.7L314.7 204.6L314.1 204.2L313.1 203.0L312.5 202.6L310.6 202.9L308.5 204.3L307.2 204.1L305.7 203.1L303.2 200.8L302.7 199.9L302.9 198.9L304.1 198.1L305.3 197.7L306.9 197.9L308.8 198.8L310.6 198.3L312.2 198.3L313.1 198.7L314.1 199.5L315.6 198.4L316.9 198.1L319.7 198.5L321.6 198.1L322.8 198.1L324.0 198.4L325.3 199.1L327.2 199.1L328.7 198.3L330.0 198.1L334.6 198.7L335.4 199.2L336.3 200.5L338.1 200.8L338.9 201.4L339.5 202.0L339.7 202.7L339.4 203.3L339.0 203.6L338.1 203.7L336.8 203.4L336.2 203.5L335.0 204.9L334.0 205.6L333.1 205.8L331.1 205.8L330.5 206.1L330.0 206.7L329.9 207.3L330.3 207.7L331.8 207.2L333.1 207.4L336.0 209.8L336.9 211.1L337.2 213.6L337.2 214.8L336.5 217.3L336.7 219.8L336.3 221.4L335.6 222.3L333.6 223.2L332.6 224.8L331.8 225.2ZM274.2 207.7L272.6 207.4L271.6 206.7L271.3 204.8L269.5 203.3L269.2 202.7L269.3 202.3L270.1 201.9L271.4 202.1L273.6 203.1L274.8 204.2L275.5 205.2L275.6 205.8L274.5 207.5L274.2 207.7ZM383.3 212.1L382.3 212.0L380.1 210.6L378.6 209.0L378.0 209.2L377.0 210.8L376.4 211.2L376.1 211.1L375.8 210.7L374.5 210.4L373.9 209.8L373.5 208.6L372.7 207.7L372.6 207.0L372.8 206.4L374.5 204.8L375.5 204.4L376.7 204.8L378.9 206.4L380.5 205.5L381.7 205.0L382.9 204.8L383.9 205.0L384.7 205.8L384.8 207.0L385.2 208.0L385.2 208.9L384.7 211.1L384.2 211.7L383.3 212.1ZM278.5 222.3L277.9 222.4L275.7 221.7L273.2 221.8L269.5 221.0L268.3 220.4L267.8 219.5L267.8 218.6L268.0 217.6L268.9 216.2L269.7 214.2L270.5 212.6L271.4 211.7L272.7 210.8L273.2 209.4L274.8 208.8L275.4 208.7L276.8 209.5L277.1 210.1L277.0 211.3L280.7 211.8L281.7 212.1L283.4 213.6L283.9 214.5L283.5 215.4L280.8 218.9L281.0 220.4L280.8 221.1L280.1 221.8L278.5 222.3ZM400.7 219.9L397.9 219.5L395.4 219.7L393.5 218.8L391.4 218.4L390.1 219.3L389.2 219.5L388.4 218.9L388.2 217.9L388.9 217.1L390.7 216.9L391.5 215.8L392.3 215.3L395.4 215.1L396.4 214.8L396.7 214.5L396.7 212.0L397.2 210.8L397.9 210.4L399.5 210.5L400.4 211.1L400.7 212.0L400.6 212.6L400.0 213.6L399.7 214.8L399.9 215.4L400.8 217.0L401.3 218.9L401.3 219.5L400.7 219.9ZM404.8 217.3L404.1 217.5L403.7 217.3L403.6 217.0L403.8 216.4L404.5 216.1L405.1 216.4L405.0 217.0L404.8 217.3ZM405.4 226.7L404.8 226.8L403.8 226.5L403.2 226.0L402.7 225.1L402.5 223.9L402.5 222.3L402.7 221.7L403.2 221.2L403.8 221.3L405.3 222.0L405.8 222.6L405.9 223.2L405.5 224.5L405.7 226.1L405.4 226.7Z" fill="#64ff96" fill-rule="evenodd"/>
<path d="M388.6 171.5L385.1 171.2L384.5 170.5L383.6 168.0L384.4 167.7L386.1 167.6L387.0 166.8L387.6 166.6L391.1 166.3L392.0 166.5L392.9 166.9L394.5 168.0L395.2 169.0L394.8 169.9L393.5 170.9L392.9 171.1L390.7 171.1L388.6 171.5ZM382.0 176.8L380.8 176.5L380.2 175.8L380.2 174.9L380.5 173.6L381.1 173.0L382.0 172.6L383.6 172.5L384.5 172.7L385.3 174.0L385.4 174.6L385.2 174.9L383.7 176.1L382.0 176.8ZM392.3 178.0L391.7 178.0L391.1 177.7L389.6 176.1L389.3 175.5L389.2 174.9L389.6 174.3L390.7 174.0L392.3 174.2L394.2 175.1L394.6 175.5L394.7 176.1L394.1 177.1L393.2 177.8L392.3 178.0ZM399.2 177.5L398.2 177.6L397.3 177.6L396.0 176.8L395.6 176.1L395.5 175.5L396.2 174.3L397.0 173.8L397.9 173.7L398.8 174.0L399.5 174.6L400.0 175.2L400.2 176.1L399.8 177.0L399.2 177.5ZM364.6 175.3L363.9 175.5L363.9 174.7L364.2 174.5L365.1 174.9L364.9 175.2L364.6 175.3ZM371.4 175.9L370.5 175.8L370.3 175.5L370.4 175.2L370.8 175.0L371.4 175.2L371.6 175.5L371.4 175.9ZM376.4 197.8L375.2 197.8L373.3 196.9L371.7 196.7L371.1 196.4L369.1 193.0L369.1 192.1L369.5 191.4L370.5 190.7L371.4 190.4L372.4 190.4L373.3 190.8L373.8 191.4L374.7 193.3L375.2 193.7L376.4 194.1L377.4 195.2L377.6 195.8L377.4 196.7L377.0 197.4L376.4 197.8ZM256.7 199.9L255.8 199.9L254.9 199.5L253.9 198.6L253.4 197.7L253.4 196.7L253.6 196.1L254.0 195.5L254.9 195.0L256.1 194.8L257.0 195.1L257.7 195.7L258.4 197.0L258.5 198.0L258.3 198.6L257.7 199.3L256.7 199.9ZM308.8 203.6L308.1 203.8L307.2 203.7L306.3 203.3L305.3 202.6L303.3 200.5L303.1 199.5L303.3 198.9L304.4 198.2L305.7 197.9L306.9 198.1L308.8 199.0L309.4 199.0L310.6 198.6L311.9 198.6L312.5 198.8L313.0 199.2L313.3 200.2L313.3 201.7L313.1 201.9L311.0 202.5L308.8 203.6ZM331.5 224.5L330.3 224.8L329.0 224.5L328.1 223.9L326.5 222.3L325.0 221.6L323.7 220.8L320.4 219.5L319.7 218.9L319.4 217.9L319.6 216.4L319.8 215.8L320.6 214.5L321.1 212.6L321.8 211.4L321.2 211.2L319.4 211.7L319.1 211.4L319.0 211.1L319.6 210.5L320.9 210.1L321.6 209.8L322.8 207.9L323.6 207.0L323.7 206.4L323.4 205.8L322.9 205.5L319.1 204.7L317.5 203.8L316.9 203.7L315.3 204.2L314.4 203.8L313.9 203.0L313.7 202.0L314.4 201.2L315.1 199.5L315.7 198.9L316.3 198.7L317.5 198.6L320.0 199.4L321.5 198.6L322.8 198.4L324.0 198.7L325.3 199.5L327.2 199.4L328.4 198.7L329.7 198.4L334.0 198.9L335.0 199.2L336.2 200.9L337.8 201.1L338.4 201.4L339.0 202.0L339.2 202.7L338.7 203.2L338.1 203.3L336.2 203.0L335.9 203.2L335.0 204.6L334.0 205.3L333.1 205.5L331.2 205.4L330.3 205.8L329.7 206.4L329.0 207.6L328.7 207.7L326.8 207.2L326.2 207.4L325.9 207.9L325.9 208.4L326.2 208.5L328.4 208.3L330.3 208.5L331.5 207.7L332.1 207.5L332.8 207.7L333.4 208.0L335.5 209.8L336.4 211.1L336.8 213.9L335.9 217.9L336.2 219.8L336.0 220.8L335.8 221.4L335.3 221.9L332.8 223.0L331.5 224.5ZM271.7 203.9L270.4 203.6L270.0 203.3L269.9 202.7L270.4 202.3L271.5 202.7L272.3 203.6L272.0 203.9L271.7 203.9ZM273.9 207.0L272.9 207.0L272.1 206.4L272.0 205.8L272.3 204.2L272.1 203.9L272.3 203.7L273.9 204.1L274.9 205.2L275.0 205.5L274.8 206.1L273.9 207.0ZM375.8 210.2L375.2 210.2L374.5 209.8L374.0 209.2L373.7 208.3L373.1 207.7L372.9 207.0L373.2 206.4L373.7 205.8L374.8 204.9L375.5 204.7L376.4 204.9L377.3 205.5L378.1 206.4L378.5 207.3L378.4 208.0L377.0 209.5L375.8 210.2ZM383.9 211.5L383.3 211.7L382.3 211.5L380.1 210.3L379.4 209.5L379.0 208.6L378.9 207.7L379.5 206.7L380.5 205.8L381.7 205.3L382.9 205.1L383.6 205.2L384.2 205.8L384.9 209.2L384.6 210.8L383.9 211.5ZM279.2 221.4L277.9 221.6L275.7 221.3L272.9 221.2L269.5 220.0L268.9 219.6L268.6 219.2L268.5 218.6L268.7 217.9L270.0 214.5L270.7 213.3L271.4 212.4L272.0 212.0L272.6 211.8L274.2 211.9L274.9 211.4L274.9 211.1L274.1 210.1L274.1 209.8L274.7 209.5L275.4 209.4L276.2 209.8L276.4 210.5L276.1 211.4L276.7 212.1L278.9 212.2L280.1 212.0L281.0 212.2L281.8 212.6L283.1 214.2L283.1 215.1L282.0 216.5L280.7 217.5L280.4 217.4L279.8 217.0L278.9 218.3L279.0 218.6L279.8 219.2L280.2 220.1L280.1 220.8L279.2 221.4ZM399.5 219.2L395.4 219.2L393.5 218.3L392.3 217.9L391.7 217.3L391.8 216.4L392.6 215.7L393.5 215.5L396.7 215.5L397.5 215.1L397.6 214.8L396.9 213.3L396.9 212.3L397.3 211.1L397.9 210.7L399.5 210.8L400.1 211.2L400.4 211.7L400.4 212.3L399.2 215.1L400.3 217.0L400.5 218.6L400.1 219.1L399.5 219.2ZM404.5 225.6L403.8 225.4L403.2 224.5L403.2 223.2L403.5 222.4L404.1 222.4L404.7 223.2L404.5 225.6Z" fill="#28f000" fill-rule="evenodd"/>
<path d="M388.6 171.2L386.1 171.1L385.2 170.8L384.8 170.4L384.5 169.6L384.3 168.7L384.4 168.3L385.1 168.1L387.2 168.3L387.9 168.0L388.6 167.1L389.8 166.7L391.1 166.5L392.6 167.0L394.1 168.0L394.6 168.7L394.8 169.0L394.6 169.6L393.5 170.6L392.9 170.8L390.9 170.8L388.6 171.2ZM382.6 176.5L381.4 176.6L380.7 176.1L380.3 175.2L380.5 174.3L381.0 173.3L381.7 172.9L382.9 172.7L383.9 172.8L384.7 173.3L384.9 174.3L383.6 175.8L382.6 176.5ZM398.5 177.4L397.6 177.5L397.0 177.3L396.3 176.8L395.9 176.1L395.8 175.5L396.0 174.9L396.5 174.3L397.0 174.0L397.9 173.8L398.5 174.0L399.3 174.6L399.9 175.5L400.0 176.1L399.7 176.8L399.2 177.3L398.5 177.4ZM392.9 177.7L392.3 177.9L391.7 177.8L390.6 177.1L389.6 175.5L389.6 174.9L389.8 174.5L390.4 174.2L391.4 174.2L392.6 174.6L394.2 175.5L394.4 176.1L394.1 176.8L393.5 177.4L392.9 177.7ZM376.4 197.5L375.2 197.5L373.3 196.4L371.7 196.0L371.1 195.6L369.4 193.0L369.3 192.1L369.7 191.4L370.5 190.9L371.4 190.6L372.4 190.6L373.2 191.1L374.4 193.3L375.2 193.9L376.1 194.2L377.2 195.2L377.3 195.8L377.2 196.7L376.4 197.5ZM256.7 199.7L256.1 199.8L255.2 199.5L254.2 198.6L253.7 197.7L253.7 196.7L253.9 196.1L254.4 195.5L255.2 195.1L256.1 195.0L257.0 195.4L258.2 197.0L258.4 197.7L258.2 198.3L257.7 199.0L256.7 199.7ZM308.5 203.4L307.5 203.4L306.6 203.2L305.0 202.1L303.4 200.2L303.3 199.5L303.6 198.9L304.7 198.2L305.7 198.0L306.9 198.3L308.8 199.3L309.4 199.3L311.0 198.9L311.9 198.9L312.5 199.2L312.8 199.5L313.0 200.2L312.9 201.1L312.5 201.7L308.5 203.4ZM328.4 207.0L326.5 206.8L325.3 206.9L324.1 205.8L323.1 205.2L320.9 204.9L319.7 204.6L318.7 204.2L317.5 203.3L316.9 203.3L315.6 203.7L315.0 203.7L314.5 203.3L314.4 202.3L315.4 199.9L316.3 199.1L317.5 199.0L318.4 199.3L319.7 200.4L320.2 200.2L321.2 199.2L322.5 198.7L323.7 198.8L325.3 199.8L326.8 199.7L328.7 198.9L330.3 198.7L334.3 199.2L335.1 199.9L335.9 201.3L336.2 201.5L337.5 201.4L338.1 201.6L338.5 202.0L338.6 202.7L338.1 202.9L336.5 202.5L336.2 202.5L335.9 202.7L335.0 204.2L334.0 205.1L333.1 205.3L331.5 205.2L330.6 205.4L328.4 207.0ZM273.6 206.5L272.9 206.4L272.7 206.1L272.9 205.3L273.6 204.8L274.2 205.1L274.3 205.5L274.0 206.1L273.6 206.5ZM376.1 209.6L375.5 209.8L374.8 209.6L374.5 209.2L374.1 208.3L373.6 207.9L373.2 207.3L373.3 206.7L373.7 206.1L374.8 205.1L375.5 204.9L376.4 205.1L377.0 205.5L377.8 206.4L378.0 207.0L378.0 207.7L377.7 208.3L377.0 209.0L376.1 209.6ZM383.9 211.1L383.3 211.3L382.3 211.2L380.5 210.3L379.7 209.5L379.4 208.6L379.4 207.7L379.9 206.7L380.6 206.1L382.6 205.4L383.3 205.4L383.9 205.8L384.7 208.3L384.7 209.2L384.5 210.4L383.9 211.1ZM330.6 224.2L329.3 224.2L328.7 223.9L326.8 222.2L324.4 220.7L320.7 219.2L320.0 218.3L319.9 217.3L320.1 216.1L322.6 211.4L322.5 211.1L321.9 210.5L321.9 210.1L322.8 208.5L324.0 207.5L325.0 207.3L325.9 209.1L328.4 208.8L330.6 209.2L330.8 208.6L331.2 208.1L331.8 207.9L332.8 207.9L335.3 209.9L336.1 211.1L336.3 213.9L336.0 216.4L335.3 218.3L335.6 219.8L335.5 220.8L335.3 221.3L334.7 221.7L332.2 222.6L331.2 223.9L330.6 224.2ZM398.8 214.6L398.5 214.7L397.9 214.4L397.1 213.3L397.2 211.7L397.6 211.1L397.9 210.9L399.5 211.2L400.0 211.7L400.1 212.3L399.7 213.6L399.5 214.1L398.8 214.6ZM277.9 221.1L272.9 220.5L269.6 218.6L269.5 217.6L270.3 214.8L270.9 213.6L271.7 212.6L272.6 212.2L274.2 212.4L275.4 211.9L276.0 212.0L277.3 212.7L278.5 212.6L279.8 212.2L280.4 212.2L281.3 212.6L282.2 213.6L282.6 214.2L282.8 214.8L282.3 215.8L281.0 216.6L280.4 216.7L279.5 216.3L278.4 217.6L278.2 218.3L279.2 219.5L279.4 220.1L279.0 220.8L277.9 221.1ZM396.0 218.9L395.1 218.8L393.9 218.0L392.6 217.5L392.3 217.0L392.4 216.4L392.9 216.0L393.5 215.9L397.0 216.0L397.9 215.8L399.2 216.2L399.7 216.7L399.9 217.6L399.8 218.2L399.5 218.5L398.8 218.7L396.0 218.9ZM330.8 220.1L330.6 220.0L330.0 220.1L330.6 220.2L330.8 220.1Z" fill="#dcf000" fill-rule="evenodd"/>
<path d="M389.2 170.9L386.4 170.9L385.4 170.7L384.9 169.9L384.8 168.9L385.0 168.7L385.4 168.6L387.0 168.7L387.6 168.7L388.2 168.3L389.3 167.1L390.7 166.7L392.3 167.0L393.8 168.0L394.3 168.7L394.4 169.0L394.2 169.6L393.2 170.4L389.2 170.9ZM382.6 176.3L381.7 176.4L381.0 176.1L380.6 175.5L380.6 174.3L381.1 173.5L381.7 173.1L382.9 172.8L383.9 173.0L384.5 173.6L384.5 174.3L383.3 175.8L382.6 176.3ZM398.8 177.2L397.9 177.3L397.3 177.2L396.7 176.9L396.3 176.5L396.0 175.8L396.1 175.2L396.8 174.3L397.6 174.0L398.2 174.0L398.8 174.3L399.4 174.9L399.7 175.5L399.8 176.1L399.5 176.8L398.8 177.2ZM392.3 177.8L391.4 177.6L390.2 176.5L389.9 175.8L389.7 175.2L390.1 174.5L390.7 174.3L391.4 174.3L393.9 175.5L394.2 176.1L393.9 176.8L393.2 177.4L392.3 177.8ZM375.8 197.4L374.8 197.1L373.0 195.9L371.1 195.1L369.6 193.0L369.5 192.1L369.9 191.4L371.1 190.8L372.0 190.8L372.7 191.0L373.4 191.7L374.2 193.3L376.7 194.9L377.1 195.5L377.1 196.4L376.7 197.0L375.8 197.4ZM256.4 199.6L255.8 199.6L255.1 199.2L254.4 198.6L254.0 197.7L253.9 196.7L254.1 196.1L254.5 195.6L255.2 195.3L256.1 195.2L256.8 195.5L257.7 196.4L258.2 197.4L258.2 198.0L257.8 198.6L257.0 199.3L256.4 199.6ZM308.8 203.0L307.2 203.2L305.7 202.4L303.8 200.5L303.5 199.9L303.6 199.2L304.4 198.6L305.7 198.2L306.9 198.4L308.8 199.4L309.4 199.5L311.3 199.1L311.9 199.2L312.4 199.5L312.7 200.5L312.3 201.4L311.6 201.9L308.8 203.0ZM328.7 206.5L328.1 206.7L327.2 206.5L325.6 206.1L324.4 205.5L322.9 204.8L320.9 204.7L320.0 204.5L319.1 204.1L317.5 202.9L315.3 203.3L314.8 202.7L314.9 202.0L315.9 199.9L316.3 199.5L317.2 199.3L318.1 199.5L319.1 200.6L319.7 200.8L320.3 200.5L321.6 199.3L322.8 198.9L324.0 199.2L325.3 200.1L326.5 200.0L328.4 199.2L329.7 198.9L333.7 199.3L334.6 199.6L335.2 200.5L335.6 202.0L335.4 203.0L334.8 204.2L334.0 204.8L333.4 205.1L331.5 205.0L330.6 205.2L328.7 206.5ZM375.8 209.2L375.2 209.2L374.8 208.9L374.7 208.6L373.6 207.7L373.5 207.0L373.7 206.4L374.3 205.8L375.5 205.1L376.4 205.3L377.0 205.7L377.6 206.4L377.8 207.0L377.7 207.7L377.3 208.3L376.7 208.8L375.8 209.2ZM383.9 210.9L383.3 211.1L382.3 211.0L380.8 210.3L379.9 209.5L379.6 208.9L379.6 208.0L380.0 207.0L380.8 206.3L382.6 205.6L383.3 205.7L383.7 206.1L384.6 208.9L384.5 210.1L383.9 210.9ZM330.6 223.7L330.0 223.8L329.0 223.7L327.0 222.0L324.7 220.4L321.6 219.3L320.9 218.9L320.5 218.3L320.3 217.0L320.6 215.8L321.1 214.5L322.2 213.3L323.0 211.4L322.5 210.1L322.6 209.5L323.1 208.6L323.7 208.2L324.7 208.1L325.9 209.5L326.2 209.6L328.4 209.3L330.6 209.7L331.2 208.5L331.8 208.1L332.5 208.1L333.4 208.6L335.1 210.1L335.6 210.8L335.9 211.7L336.0 213.3L335.8 216.1L335.5 217.0L334.3 218.9L335.0 219.9L334.9 220.8L334.2 221.4L332.0 222.0L330.6 223.7ZM398.8 214.3L398.5 214.3L397.9 214.0L397.3 213.3L397.3 212.0L397.6 211.4L397.9 211.1L398.5 211.1L399.5 211.5L399.7 212.0L399.5 213.6L398.8 214.3ZM278.2 220.6L277.0 220.7L274.5 220.4L271.1 218.8L270.4 218.3L270.0 217.3L270.3 216.1L270.8 214.2L271.7 213.0L272.6 212.6L273.9 212.8L275.7 212.3L277.6 213.0L278.2 213.0L280.1 212.3L280.7 212.4L281.4 213.0L282.3 214.5L282.1 215.4L281.0 216.2L280.4 216.2L279.2 215.9L278.9 216.0L277.9 217.0L277.6 217.6L277.5 218.3L278.3 218.9L278.7 219.5L278.7 220.1L278.2 220.6ZM396.0 218.6L395.4 218.6L394.8 218.3L394.1 217.6L392.9 217.0L392.8 216.7L393.1 216.4L393.5 216.2L395.7 216.2L397.9 216.4L398.9 217.3L398.9 217.6L398.4 218.3L396.0 218.6ZM330.8 220.8L331.3 220.4L331.6 219.8L331.2 218.9L329.7 219.4L329.4 219.8L329.5 220.4L329.7 220.7L330.3 220.8L330.8 220.8Z" fill="#ffff00" fill-rule="evenodd"/>
<path d="M390.7 170.5L387.9 170.7L386.1 170.6L385.4 170.2L385.2 169.6L385.2 169.3L385.7 169.0L387.0 169.0L387.9 168.8L389.5 167.3L390.7 166.9L391.7 167.0L392.3 167.2L393.4 168.0L394.0 168.7L394.0 169.3L393.2 170.1L392.6 170.4L390.7 170.5ZM382.3 176.2L381.4 176.2L380.9 175.8L380.7 174.9L380.9 174.0L381.4 173.4L382.0 173.1L382.9 173.0L383.9 173.2L384.3 173.6L384.2 174.3L383.0 175.8L382.3 176.2ZM398.5 177.2L397.3 177.1L396.4 176.5L396.2 175.8L396.3 175.2L397.0 174.3L397.6 174.1L398.2 174.2L398.8 174.5L399.4 175.2L399.6 175.8L399.5 176.5L399.2 176.9L398.5 177.2ZM392.9 177.5L392.0 177.6L390.9 177.1L390.0 175.8L389.9 175.2L390.1 174.8L390.7 174.4L391.4 174.4L393.7 175.5L393.9 175.8L393.9 176.5L393.5 177.1L392.9 177.5ZM376.1 197.2L375.2 197.0L373.0 195.5L371.1 194.8L369.9 193.3L369.6 192.7L369.7 192.1L370.1 191.4L370.8 191.0L371.7 190.9L372.4 191.1L373.0 191.5L374.2 193.6L376.4 194.8L376.8 195.2L377.0 195.8L376.9 196.4L376.7 196.7L376.1 197.2ZM256.7 199.3L256.1 199.5L255.5 199.3L254.9 198.8L254.3 198.0L254.1 197.0L254.2 196.4L254.5 195.9L255.2 195.5L256.1 195.4L256.7 195.6L257.3 196.2L257.9 197.0L258.0 197.7L257.9 198.3L257.3 198.9L256.7 199.3ZM307.8 203.0L306.3 202.7L304.7 201.4L303.9 200.5L303.7 199.9L303.8 199.2L304.1 198.9L305.0 198.4L306.0 198.3L306.9 198.5L308.8 199.6L309.4 199.6L311.3 199.3L311.9 199.5L312.3 199.9L312.4 200.8L311.9 201.5L309.7 202.6L307.8 203.0ZM328.7 206.2L328.1 206.4L327.2 206.3L323.1 204.7L320.0 204.3L319.1 203.9L318.1 202.9L317.5 202.6L315.6 202.8L315.3 202.3L315.5 201.4L316.1 200.2L316.9 199.7L317.8 199.8L319.0 201.1L319.7 201.1L320.3 200.8L321.7 199.5L322.8 199.1L324.0 199.3L325.3 200.3L326.5 200.2L328.1 199.4L329.7 199.1L333.4 199.4L334.5 199.9L335.0 200.8L335.2 202.3L335.1 203.3L334.6 204.2L334.0 204.7L333.4 204.9L331.5 204.9L330.6 205.0L328.7 206.2ZM376.4 208.7L375.8 208.8L374.8 208.4L374.2 208.0L373.7 207.3L374.0 206.4L375.2 205.4L375.8 205.3L376.7 205.6L377.2 206.1L377.5 206.7L377.6 207.3L377.3 208.0L376.4 208.7ZM383.6 210.8L382.9 210.9L381.7 210.6L380.5 209.9L379.9 209.2L379.8 208.6L379.9 207.7L380.5 206.8L381.1 206.3L382.6 205.8L383.3 206.0L383.7 206.4L384.4 208.3L384.5 209.2L384.2 210.3L383.6 210.8ZM330.0 223.4L329.3 223.3L328.7 223.0L325.0 220.2L321.9 219.2L320.8 218.3L320.6 217.0L320.8 215.8L321.3 214.5L322.6 213.0L323.2 211.7L323.3 211.1L322.9 210.1L322.9 209.5L323.3 208.9L323.7 208.6L324.7 208.6L326.2 210.0L328.7 209.8L330.9 210.3L331.2 208.9L331.8 208.4L332.5 208.3L333.4 208.9L335.3 210.8L335.5 211.7L335.6 215.1L335.4 216.7L335.0 217.3L333.4 218.9L333.3 219.5L333.7 220.4L333.4 220.8L332.8 220.9L332.4 220.8L332.2 219.5L330.9 218.3L329.7 218.8L329.3 219.2L329.0 220.1L329.0 220.8L329.3 221.2L330.8 221.7L330.9 222.0L330.6 222.9L330.0 223.4ZM398.8 214.1L398.2 214.0L397.5 213.3L397.4 212.0L397.9 211.4L398.8 211.4L399.6 212.0L399.5 213.3L399.2 213.9L398.8 214.1ZM277.3 220.5L275.7 220.3L274.5 220.0L271.4 218.5L270.7 217.9L270.4 217.0L270.8 215.1L271.3 213.9L272.0 213.1L272.6 212.9L274.2 213.1L275.1 212.6L275.7 212.5L277.9 213.2L280.1 212.5L280.8 212.6L281.4 213.3L282.0 214.5L281.9 215.1L281.7 215.5L280.7 215.9L279.2 215.6L278.0 215.8L275.7 217.8L275.7 217.9L276.0 218.3L277.3 218.5L277.9 218.8L278.3 219.2L278.4 219.8L278.2 220.1L277.3 220.5ZM275.2 214.8L275.2 214.8ZM396.0 218.3L395.4 218.3L394.9 217.9L394.1 217.0L394.1 216.7L395.7 216.5L397.7 217.0L397.9 217.6L397.6 217.9L396.0 218.3Z" fill="#ffc800" fill-rule="evenodd"/>
<path d="M392.0 170.2L389.8 170.5L386.7 170.4L386.0 170.2L385.7 169.9L385.7 169.6L386.1 169.4L387.9 169.1L389.6 167.4L390.4 167.1L391.1 167.0L392.3 167.4L393.2 168.0L393.6 168.7L393.7 169.3L393.5 169.6L392.9 170.0L392.0 170.2ZM382.6 175.9L382.0 176.1L381.4 176.0L380.9 175.5L380.8 174.6L381.1 173.9L381.7 173.4L382.3 173.2L383.3 173.2L383.9 173.5L384.1 174.0L383.8 174.6L382.6 175.9ZM398.2 177.1L397.6 177.1L397.0 176.8L396.4 176.1L396.3 175.5L396.5 174.9L397.3 174.3L397.9 174.2L398.5 174.4L399.1 174.9L399.4 175.5L399.4 176.5L398.8 176.9L398.2 177.1ZM392.6 177.5L392.0 177.5L391.4 177.3L390.5 176.5L390.1 175.5L390.1 175.1L390.4 174.7L391.1 174.5L391.7 174.6L393.2 175.3L393.8 175.8L393.8 176.1L393.6 176.8L392.6 177.5ZM376.4 196.8L375.8 197.0L375.2 196.9L374.0 196.1L373.0 195.2L371.7 194.9L371.1 194.5L369.9 193.0L369.8 192.4L370.0 191.7L370.5 191.3L371.4 191.1L372.0 191.1L372.7 191.4L373.2 192.1L374.0 193.6L376.1 194.7L376.6 195.2L376.8 196.1L376.4 196.8ZM256.4 199.3L255.8 199.3L255.2 198.9L254.3 197.7L254.3 197.0L254.4 196.4L255.2 195.7L256.1 195.6L256.7 195.8L257.3 196.4L257.8 197.4L257.8 198.0L257.5 198.6L256.4 199.3ZM308.8 202.7L307.2 202.8L306.3 202.5L305.7 202.1L304.1 200.5L303.9 199.9L304.0 199.2L305.0 198.5L306.0 198.4L307.2 198.8L308.8 199.7L309.4 199.8L311.0 199.5L311.6 199.6L312.0 199.9L312.2 200.2L312.1 200.8L311.6 201.4L310.0 202.3L308.8 202.7ZM328.1 206.1L326.8 205.9L325.3 205.1L323.1 204.5L320.9 204.4L320.0 204.2L319.0 203.6L318.1 202.3L317.8 202.1L316.3 202.4L315.9 202.2L315.9 201.3L316.6 200.3L317.2 200.1L317.8 200.3L318.6 201.4L319.7 201.4L320.3 201.1L321.9 199.6L322.8 199.3L324.0 199.5L325.3 200.6L326.2 200.5L327.8 199.7L329.3 199.3L333.1 199.5L334.3 199.9L334.8 200.8L335.0 202.3L334.9 203.3L334.4 204.2L333.4 204.7L330.7 204.8L328.7 205.9L328.1 206.1ZM376.7 208.3L376.1 208.6L375.5 208.5L374.5 208.1L374.1 207.7L373.9 207.3L374.0 206.7L374.8 205.7L375.8 205.4L376.4 205.6L377.0 206.1L377.3 206.7L377.4 207.3L377.1 208.0L376.7 208.3ZM383.6 210.6L382.6 210.7L381.7 210.4L380.8 210.0L380.1 209.3L379.9 208.6L380.0 208.0L380.5 207.1L381.1 206.5L382.6 206.1L383.3 206.3L383.6 206.6L384.2 208.0L384.4 208.9L384.2 210.0L383.6 210.6ZM328.1 221.7L326.8 221.2L325.3 220.0L322.8 219.4L321.6 218.8L321.1 218.3L320.8 217.3L321.0 215.4L321.5 214.5L322.8 212.8L323.5 211.4L323.6 210.8L323.3 209.8L323.4 209.4L323.7 209.0L324.0 208.9L324.7 209.1L326.5 210.4L328.7 210.2L330.0 210.4L330.9 210.9L331.2 210.5L331.5 208.9L331.8 208.6L332.5 208.6L333.1 208.9L334.4 210.1L335.1 211.1L335.4 215.4L335.2 216.4L334.6 217.3L332.8 218.8L332.5 218.9L331.8 218.7L330.6 217.9L329.7 218.2L328.6 220.4L328.4 221.7L328.1 221.7ZM398.5 213.9L397.9 213.6L397.5 212.6L397.6 212.0L397.9 211.6L398.2 211.4L399.1 211.7L399.5 212.3L399.5 213.0L399.2 213.6L398.5 213.9ZM277.6 220.1L276.7 220.2L274.8 219.8L271.1 217.8L270.8 217.0L271.0 215.4L271.4 214.2L272.0 213.4L272.9 213.2L274.2 213.5L275.1 212.9L275.7 212.7L277.9 213.3L280.1 212.6L281.0 213.1L281.5 213.9L281.7 214.8L281.3 215.4L280.7 215.6L277.3 215.3L274.8 214.5L274.5 214.7L274.5 215.6L274.8 216.1L275.5 216.4L275.3 217.3L275.5 217.9L276.0 218.5L277.3 218.7L278.0 219.2L278.0 219.8L277.6 220.1ZM395.7 218.0L395.1 217.6L395.0 217.3L395.1 217.0L396.0 216.9L396.7 217.3L396.6 217.6L395.7 218.0ZM329.7 222.7L329.3 222.6L328.9 222.3L329.0 222.0L329.8 222.3L329.7 222.7Z" fill="#ff8200" fill-rule="evenodd"/>
<path d="M390.7 170.2L388.9 170.2L386.8 169.9L388.2 169.2L389.8 167.5L390.4 167.2L391.4 167.2L392.0 167.4L392.9 168.0L393.4 169.0L393.1 169.6L392.6 169.9L390.7 170.2ZM382.3 175.9L381.7 175.9L381.1 175.5L381.0 174.9L381.1 174.3L381.4 173.8L382.0 173.4L383.3 173.3L383.8 173.6L383.8 174.3L382.8 175.5L382.3 175.9ZM398.8 176.8L398.2 177.0L397.6 177.0L396.7 176.5L396.4 175.5L397.0 174.6L397.9 174.3L398.5 174.5L399.0 174.9L399.4 175.8L399.2 176.5L398.8 176.8ZM392.3 177.4L391.4 177.2L390.6 176.5L390.2 175.5L390.4 174.9L391.1 174.6L391.7 174.7L393.2 175.5L393.6 175.8L393.7 176.1L393.5 176.8L392.9 177.2L392.3 177.4ZM376.1 196.8L375.2 196.7L373.9 195.8L373.0 194.8L371.7 194.6L371.1 194.2L370.0 192.7L370.0 192.1L370.2 191.7L370.8 191.3L371.4 191.2L372.0 191.3L372.7 191.6L373.2 192.4L373.7 193.6L375.8 194.7L376.5 195.2L376.7 196.1L376.1 196.8ZM256.7 199.0L256.1 199.2L255.5 199.0L254.6 198.0L254.5 196.7L254.8 196.1L255.2 195.8L255.8 195.7L256.4 195.9L257.0 196.3L257.6 197.0L257.7 198.0L257.3 198.6L256.7 199.0ZM308.1 202.7L306.6 202.6L305.3 201.8L304.2 200.5L304.0 199.9L304.2 199.2L305.0 198.6L306.0 198.5L306.9 198.7L308.8 199.9L309.4 199.9L311.0 199.7L311.6 199.8L311.9 200.2L311.8 200.8L311.3 201.4L309.7 202.3L308.1 202.7ZM328.4 205.9L327.2 205.8L325.2 204.8L322.5 204.3L320.9 204.2L320.0 204.0L319.0 203.3L318.6 202.3L319.1 201.8L320.3 201.3L321.9 199.8L322.8 199.5L324.0 199.7L324.6 200.2L325.0 200.8L326.2 200.7L327.8 199.8L329.3 199.4L333.1 199.6L333.7 199.8L334.3 200.2L334.7 201.1L334.8 202.3L334.7 203.3L334.3 204.0L333.4 204.6L331.5 204.6L330.6 204.7L328.4 205.9ZM317.2 201.5L316.9 201.6L316.6 201.4L316.9 200.9L317.2 200.9L317.4 201.1L317.2 201.5ZM376.4 208.3L375.8 208.4L375.2 208.3L374.5 207.9L374.1 207.3L374.3 206.4L375.2 205.7L376.1 205.7L376.7 206.0L377.1 206.4L377.2 207.3L376.9 208.0L376.4 208.3ZM383.3 210.5L382.6 210.5L381.4 210.2L380.8 209.8L380.2 209.2L380.1 208.6L380.3 207.7L380.8 207.0L381.7 206.4L382.6 206.2L383.1 206.4L383.6 206.9L384.1 208.0L384.3 208.9L384.3 209.5L383.9 210.2L383.3 210.5ZM327.8 220.9L327.5 220.9L326.8 220.7L325.3 219.7L322.8 219.2L321.6 218.6L321.2 217.9L321.0 217.0L321.3 215.1L323.7 211.4L323.9 210.8L323.8 209.8L324.0 209.5L324.7 209.5L326.8 210.8L329.0 210.7L330.9 211.4L331.2 211.3L331.3 211.1L331.7 209.2L332.0 208.9L332.5 208.9L334.3 210.4L334.8 211.1L335.1 215.4L335.0 216.4L334.3 217.2L332.5 218.5L331.8 218.4L330.3 217.3L329.7 217.6L328.7 219.7L327.8 220.9ZM398.8 213.7L398.2 213.7L397.7 213.0L397.7 212.0L398.2 211.6L398.9 211.7L399.4 212.3L399.3 213.3L398.8 213.7ZM281.0 215.2L280.1 215.4L277.3 215.1L275.1 214.2L274.8 213.9L274.9 213.6L275.1 213.2L275.7 213.0L277.9 213.5L278.5 213.4L279.8 212.8L280.4 212.8L281.0 213.3L281.4 214.2L281.4 214.8L281.0 215.2ZM277.3 219.9L276.4 219.9L274.5 219.4L271.4 217.6L271.1 217.0L271.1 216.1L271.5 214.5L272.0 213.8L272.3 213.6L272.9 213.5L273.7 213.9L274.0 214.2L274.4 215.8L275.4 218.1L276.0 218.7L277.3 218.9L277.7 219.2L277.8 219.5L277.3 219.9Z" fill="#ff3c00" fill-rule="evenodd"/>
<path d="M391.7 170.0L389.5 170.1L388.6 169.9L388.3 169.6L389.8 167.7L390.4 167.4L391.1 167.3L392.2 167.7L393.1 168.7L392.9 169.4L391.7 170.0ZM382.3 175.7L381.7 175.8L381.3 175.5L381.1 174.9L381.2 174.3L382.0 173.5L382.6 173.4L383.3 173.5L383.6 173.8L383.6 174.3L382.9 175.2L382.3 175.7ZM398.5 176.8L397.9 176.9L397.3 176.8L396.7 176.1L396.6 175.2L397.3 174.5L398.2 174.5L399.1 175.2L399.2 176.1L398.5 176.8ZM392.9 177.1L392.0 177.3L391.1 176.9L390.4 175.8L390.4 175.2L390.6 174.9L391.1 174.7L391.7 174.8L393.2 175.6L393.5 175.8L393.5 176.5L392.9 177.1ZM376.1 196.6L375.5 196.7L374.5 196.2L373.8 195.5L373.1 194.5L372.0 194.5L371.4 194.2L370.1 192.7L370.2 192.1L370.4 191.7L371.4 191.3L372.0 191.4L372.6 191.7L373.0 192.4L373.6 193.9L375.2 194.4L376.3 195.2L376.5 195.5L376.5 196.1L376.1 196.6ZM256.4 199.0L255.5 198.8L255.0 198.3L254.7 197.7L254.6 197.0L254.8 196.4L255.5 195.9L256.1 195.9L256.7 196.2L257.5 197.4L257.4 198.3L256.4 199.0ZM308.8 202.4L307.2 202.6L306.0 202.1L305.1 201.4L304.4 200.5L304.2 199.9L304.3 199.2L305.0 198.7L306.0 198.6L306.9 198.8L308.8 200.0L309.4 200.1L311.0 199.9L311.6 200.2L311.6 200.8L311.0 201.4L310.0 202.0L308.8 202.4ZM328.7 205.6L327.5 205.7L326.7 205.5L325.6 204.7L322.5 204.1L320.3 204.0L319.2 203.3L319.0 202.7L319.0 202.3L320.3 201.5L321.9 200.0L322.8 199.6L323.4 199.6L324.0 199.9L325.0 201.1L325.9 201.0L327.5 200.1L329.0 199.6L332.8 199.7L334.1 200.2L334.5 200.8L334.7 202.3L334.6 203.3L334.2 203.9L333.7 204.3L333.1 204.5L330.9 204.5L328.7 205.6ZM375.8 208.3L374.8 208.0L374.3 207.3L374.3 207.0L374.5 206.4L375.5 205.7L376.1 205.8L376.6 206.1L376.9 206.4L377.1 207.0L376.7 207.9L375.8 208.3ZM383.6 210.3L382.3 210.4L381.4 210.0L380.6 209.5L380.3 208.9L380.3 208.3L380.5 207.7L381.1 206.9L381.7 206.6L382.6 206.4L382.9 206.5L383.5 207.0L384.0 208.0L384.2 208.9L384.0 209.8L383.6 210.3ZM327.5 220.4L326.8 220.3L325.3 219.4L323.1 219.1L321.9 218.5L321.4 217.9L321.1 217.0L321.4 215.1L323.1 212.7L324.4 210.3L324.7 210.0L325.3 210.1L327.5 211.1L328.7 211.1L329.7 211.3L330.9 212.0L331.6 211.4L331.9 209.5L332.1 209.3L332.5 209.3L333.9 210.5L334.4 211.1L334.5 213.3L334.9 215.4L334.8 216.4L334.3 217.0L332.5 218.2L331.5 218.1L330.0 217.0L329.3 217.1L329.2 218.3L328.9 219.2L328.1 220.1L327.5 220.4ZM398.8 213.5L398.2 213.5L397.8 213.0L397.8 212.3L398.2 211.8L398.8 211.8L399.3 212.3L399.3 213.0L398.8 213.5ZM280.4 215.2L277.0 214.8L275.5 214.2L275.3 213.9L275.3 213.6L275.6 213.3L276.0 213.2L277.6 213.6L278.2 213.6L279.8 212.9L280.4 212.9L280.8 213.3L281.2 214.2L281.0 214.8L280.4 215.2ZM277.3 219.6L276.7 219.7L275.7 219.3L274.5 219.1L271.7 217.5L271.4 217.0L271.4 216.4L271.6 214.8L272.0 214.1L272.6 213.8L273.2 213.9L273.5 214.2L275.7 219.0L277.3 219.2L277.3 219.6Z" fill="#ff0000" fill-rule="evenodd"/>
</g>
<path d="M254.2 168.7L258.6 168.0L263.6 169.0L264.2 172.1L262.3 173.0L257.3 172.7L254.2 171.2ZM333.4 179.4L336.8 179.2L337.3 181.7L333.7 181.8ZM322.9 170.7L325.2 170.7L325.2 172.9L322.9 172.9ZM313.9 181.1L316.9 180.9L317.1 183.8L314.1 183.9ZM319.2 185.0L323.4 184.8L327.3 185.5L327.2 187.1L319.7 186.9Z" fill="#fff"/>
<rect x="311.85" y="151.50" width="0.7" height="112.30" fill="#5050ff" mask="url(#landmask)"/>
</g>
<g clip-path="url(#frame)">
<path d="M207.4 166.7L210.0 166.2L211.5 166.3L210.0 165.4L208.4 165.0L210.6 164.2L214.5 163.2L217.5 163.4L220.6 163.8L224.3 164.2L226.8 164.6L229.0 164.3L231.5 164.0L234.6 164.4L236.8 164.2L239.3 164.7L241.1 165.1L244.6 165.1L246.1 164.7L248.9 165.4L252.4 165.5L253.3 163.0L254.2 164.3L256.4 164.7L258.9 164.1L261.1 164.6L260.8 166.3L258.6 166.5L258.0 167.4L256.1 168.0L254.5 169.0L253.3 170.2L253.6 171.0L254.5 172.0L257.0 172.4L259.2 173.1L260.9 173.3L260.9 174.6L262.0 175.6L263.0 175.5L263.0 173.6L264.2 172.4L263.9 171.2L263.3 169.7L263.9 168.7L266.4 168.8L267.9 169.6L268.9 170.8L270.1 171.3L271.1 171.0L272.0 170.0L273.6 171.8L274.2 172.7L276.4 173.6L277.4 174.9L276.7 175.5L274.8 176.3L272.0 176.3L270.7 176.5L268.6 178.0L272.1 177.2L271.1 177.7L272.0 178.3L274.2 179.3L274.8 179.0L273.9 179.6L272.3 179.9L271.1 180.3L270.4 179.7L268.6 180.3L268.3 180.9L268.6 181.6L267.6 181.9L266.4 182.2L266.1 182.4L265.8 183.1L265.3 183.4L265.0 184.3L264.8 184.6L265.1 185.6L264.3 186.1L263.3 186.6L262.0 187.5L261.5 188.3L261.5 189.2L262.1 190.7L262.3 191.7L261.7 192.0L261.2 191.1L260.7 190.2L260.6 189.4L259.8 188.9L258.9 189.1L258.0 188.7L256.4 188.8L256.6 189.6L255.2 189.3L253.6 189.1L252.8 189.6L251.5 190.5L251.5 191.4L251.2 193.6L251.6 194.9L252.2 195.7L253.1 196.2L254.9 196.0L255.6 195.5L255.9 194.5L257.3 194.2L258.0 194.3L257.7 195.5L257.2 196.7L257.0 197.7L258.6 197.7L259.8 197.9L260.3 198.6L260.1 200.2L260.0 200.8L260.8 201.7L261.7 202.2L262.6 201.7L263.6 201.9L264.0 202.3L264.8 201.7L265.1 201.1L265.9 200.7L267.0 200.3L267.4 199.9L267.8 200.8L268.4 200.4L269.8 201.0L271.1 201.2L272.3 201.0L273.6 201.0L274.2 201.7L274.5 202.3L275.7 203.3L276.7 203.9L278.5 204.0L279.8 204.7L280.4 205.2L281.0 206.5L280.7 207.7L282.0 208.3L284.5 209.2L286.3 209.5L287.9 210.0L289.1 210.8L290.3 211.1L290.4 212.6L289.1 214.5L288.2 215.8L287.9 218.3L287.3 220.1L286.6 221.4L285.4 222.0L284.1 222.5L282.0 224.2L281.8 225.4L280.7 227.0L279.5 228.6L278.5 229.4L277.3 229.4L275.7 228.9L276.4 230.4L276.7 231.4L274.8 232.0L273.6 232.0L273.4 233.0L271.7 233.2L272.3 234.2L271.7 235.7L270.1 236.7L271.1 237.6L269.8 238.8L269.5 240.3L269.5 241.7L270.7 242.0L268.6 242.0L267.3 241.3L266.1 240.4L265.4 238.8L265.8 237.0L265.1 236.3L266.4 234.5L266.3 232.6L266.4 230.7L267.0 229.5L267.6 227.6L267.6 225.1L268.3 223.2L268.4 220.1L268.4 219.1L267.3 218.3L265.3 217.0L264.6 216.1L263.7 214.2L262.6 212.3L261.6 211.4L261.6 210.5L262.3 209.2L261.8 208.6L262.3 207.3L263.1 206.7L263.9 205.3L264.0 203.9L263.6 203.1L263.3 202.5L262.5 202.3L262.0 203.1L261.1 202.5L260.1 202.3L258.8 201.4L258.7 200.7L257.7 199.5L256.4 199.2L255.2 198.9L254.2 198.0L253.3 197.5L252.0 197.9L250.8 197.5L248.9 196.7L247.7 196.2L246.4 195.2L246.6 194.2L246.3 193.5L245.8 193.0L244.9 192.1L243.9 191.4L243.3 190.3L242.3 189.6L241.8 188.4L240.6 187.8L241.1 188.9L241.9 190.2L242.7 191.4L243.3 192.5L243.9 193.3L243.6 193.4L242.4 192.2L241.1 190.6L240.5 190.2L239.9 188.6L239.2 187.4L238.3 186.4L237.0 186.1L236.2 184.9L235.8 184.1L235.0 182.8L234.7 182.4L234.8 181.4L234.6 180.8L234.9 179.0L234.5 177.5L235.4 177.6L235.2 176.8L234.3 176.3L232.5 175.8L232.1 174.9L230.9 174.0L230.5 173.0L229.3 172.1L228.1 171.2L226.8 171.2L225.2 170.5L223.4 170.2L221.8 170.0L220.3 169.7L218.7 169.5L217.6 170.7L216.5 171.2L215.0 171.8L213.4 172.7L211.8 173.0L212.5 172.2L213.1 171.8L214.3 171.2L213.1 171.0L211.2 171.1L210.9 170.2L209.3 169.8L209.0 169.0L209.7 168.3L211.8 168.0L211.8 167.4L209.7 167.4L208.4 167.3ZM332.3 188.1L333.5 188.1L334.0 187.1L334.6 185.5L334.8 184.8L333.7 184.7L332.5 185.1L331.2 184.8L329.8 184.8L329.0 183.6L328.5 183.0L328.7 182.5L328.4 182.2L327.2 182.2L326.4 182.4L326.8 183.8L326.2 184.9L325.6 184.6L325.3 183.6L324.7 182.8L324.4 181.8L323.7 181.1L322.2 180.5L321.2 179.5L320.7 179.1L319.9 179.4L320.0 180.1L320.9 181.1L322.2 181.8L323.7 182.6L322.8 183.1L322.5 183.8L321.9 183.9L322.2 183.0L321.6 182.6L320.6 181.9L319.4 181.3L318.7 180.7L318.1 180.1L317.2 180.3L316.3 180.8L315.0 180.6L314.1 180.9L314.2 181.5L312.8 182.1L312.2 182.9L311.7 184.2L310.8 184.8L309.4 184.8L308.7 185.2L308.3 184.7L307.5 184.4L306.7 184.6L306.7 183.6L306.3 183.0L306.7 182.1L306.7 181.4L306.4 180.8L307.2 180.4L309.1 180.5L311.0 180.6L311.3 179.9L311.5 179.0L310.8 178.3L309.4 177.8L309.2 177.4L310.3 177.2L311.3 177.3L311.3 176.7L312.3 176.8L313.1 176.3L313.8 175.8L314.4 175.5L315.1 174.7L315.6 174.3L316.6 174.3L317.5 174.2L317.6 173.0L317.3 172.2L318.7 171.7L318.7 172.5L318.6 173.3L319.1 174.0L320.0 173.6L320.9 174.0L323.7 173.5L325.3 173.3L325.4 172.4L325.7 171.8L326.8 172.1L327.4 171.3L326.8 170.7L328.4 170.5L330.9 170.3L329.7 169.9L326.5 170.3L325.5 169.7L325.6 168.7L326.2 167.8L328.0 167.1L327.5 166.6L325.9 166.8L325.3 167.4L324.0 168.0L323.1 168.7L322.9 169.6L323.9 170.2L323.1 171.0L322.5 172.1L322.0 172.6L321.1 173.1L320.2 172.7L319.7 171.8L319.2 171.0L318.7 170.7L317.5 171.3L316.6 171.5L315.7 171.0L315.3 169.9L315.3 169.0L316.3 168.5L317.5 168.0L318.7 167.4L320.0 166.5L320.9 165.5L321.9 164.9L322.8 164.4L324.4 164.0L326.5 163.5L328.4 163.4L330.0 163.4L331.5 163.8L332.8 164.4L334.6 164.6L337.1 165.4L337.8 166.2L336.2 166.5L333.7 166.2L333.7 167.4L335.3 167.8L335.9 167.4L337.1 167.3L339.3 166.3L339.6 164.9L340.9 165.2L341.8 165.5L345.2 164.9L346.2 165.1L348.4 164.7L349.6 164.9L350.2 164.1L353.3 164.5L353.7 163.5L354.9 162.1L357.1 162.2L357.4 163.4L359.3 162.5L361.4 162.5L362.4 161.8L365.5 161.6L366.4 160.9L370.2 160.2L373.3 160.0L375.2 159.6L377.0 159.2L378.3 159.6L382.0 159.9L382.6 160.4L380.8 161.5L382.6 161.8L386.4 162.1L389.2 161.8L392.0 162.2L392.9 163.0L394.5 163.0L395.7 163.0L398.8 162.5L399.5 162.4L403.2 162.5L405.7 163.0L406.9 163.4L410.1 163.4L411.9 163.7L412.6 164.3L416.3 164.2L418.2 164.0L421.9 164.1L424.4 164.7L427.5 165.5L429.7 166.0L430.8 166.4L429.4 167.4L424.5 167.1L423.5 167.4L422.5 168.7L420.7 169.1L418.5 170.2L415.7 170.2L414.4 170.3L414.1 171.2L413.2 171.5L413.8 172.7L413.2 173.5L411.9 174.6L411.0 175.2L409.9 175.8L409.4 174.6L409.2 172.7L409.9 171.8L410.7 171.5L411.9 170.5L413.2 169.9L412.2 169.3L410.1 169.2L408.2 170.7L406.3 170.8L404.8 170.7L402.6 170.6L400.7 170.8L398.5 172.4L397.6 174.0L399.8 174.3L400.3 175.2L399.8 176.5L399.5 177.7L398.5 178.6L397.0 180.2L395.1 180.9L393.9 181.1L393.1 182.1L392.9 183.0L392.7 184.6L392.9 185.5L391.4 186.1L390.9 185.8L391.1 184.6L390.4 184.1L390.0 182.9L387.9 182.1L386.4 183.2L385.6 183.3L386.2 184.2L387.6 184.3L388.6 184.4L387.3 185.2L386.6 185.8L387.3 186.9L388.1 187.9L387.9 188.4L388.2 189.1L387.8 190.2L387.0 191.1L386.7 191.9L385.6 192.7L383.9 193.5L382.9 193.8L381.4 194.2L381.0 194.9L380.6 194.2L379.5 194.2L378.6 194.9L378.1 195.8L378.6 196.9L380.0 198.1L380.3 199.9L380.1 200.5L378.9 201.2L377.6 202.2L377.5 201.2L376.0 200.0L375.1 199.2L374.5 199.9L374.0 201.7L374.7 203.3L375.5 203.4L376.7 204.8L376.7 206.4L377.2 206.8L376.6 206.8L375.3 205.9L374.7 204.5L373.6 202.5L373.7 199.9L373.1 197.4L371.4 197.8L371.0 197.4L371.1 195.8L369.7 194.2L369.4 193.6L368.6 193.9L367.7 194.0L366.4 194.2L366.3 194.9L365.2 195.5L363.5 197.0L362.2 198.0L362.3 199.5L361.9 201.1L360.8 202.2L360.5 202.6L359.9 202.0L359.3 200.5L358.7 198.9L358.0 197.4L357.6 195.8L357.6 194.4L356.1 194.5L355.2 193.7L354.9 193.0L354.2 192.4L353.7 191.8L352.1 191.9L350.5 191.9L348.7 191.7L347.9 191.6L347.6 190.8L346.3 191.1L344.9 190.5L344.0 189.7L343.4 188.8L342.4 188.9L342.1 189.2L342.4 190.2L343.1 190.9L343.6 191.7L343.9 192.2L344.3 192.5L344.6 192.7L345.9 192.6L346.8 191.7L347.3 191.3L347.4 192.1L348.0 192.8L349.0 193.6L349.5 193.7L348.7 194.9L348.2 195.8L346.8 196.5L344.8 197.5L343.1 198.5L341.8 199.2L340.2 199.7L339.3 199.7L338.9 198.6L338.8 197.4L338.1 196.4L337.1 195.2L336.5 194.2L336.2 192.8L335.3 191.7L334.6 190.7L334.0 190.1L333.6 190.3L333.1 190.2L332.5 189.0ZM107.9 188.1L109.1 188.1L109.6 187.1L110.2 185.5L110.4 184.8L109.3 184.7L108.1 185.1L106.8 184.8L105.4 184.8L104.6 183.6L104.1 183.0L104.3 182.5L104.0 182.2L102.8 182.2L102.0 182.4L102.4 183.8L101.8 184.9L101.2 184.6L100.9 183.6L100.3 182.8L100.0 181.8L99.3 181.1L97.8 180.5L96.8 179.5L96.3 179.1L95.5 179.4L95.6 180.1L96.5 181.1L97.8 181.8L99.3 182.6L98.4 183.1L98.1 183.8L97.5 183.9L97.8 183.0L97.2 182.6L96.2 181.9L95.0 181.3L94.3 180.7L93.7 180.1L92.8 180.3L91.9 180.8L90.6 180.6L89.7 180.9L89.8 181.5L88.4 182.1L87.8 182.9L87.3 184.2L86.4 184.8L85.0 184.8L84.3 185.2L83.9 184.7L83.1 184.4L82.3 184.6L82.3 183.6L81.9 183.0L82.3 182.1L82.3 181.4L82.0 180.8L82.8 180.4L84.7 180.5L86.6 180.6L86.9 179.9L87.1 179.0L86.4 178.3L85.0 177.8L84.8 177.4L85.9 177.2L86.9 177.3L86.9 176.7L87.9 176.8L88.7 176.3L89.4 175.8L90.0 175.5L90.7 174.7L91.2 174.3L92.2 174.3L93.1 174.2L93.2 173.0L92.9 172.2L94.3 171.7L94.3 172.5L94.2 173.3L94.7 174.0L95.6 173.6L96.5 174.0L99.3 173.5L100.9 173.3L101.0 172.4L101.3 171.8L102.4 172.1L103.0 171.3L102.4 170.7L104.0 170.5L106.5 170.3L105.3 169.9L102.1 170.3L101.1 169.7L101.2 168.7L101.8 167.8L103.6 167.1L103.1 166.6L101.5 166.8L100.9 167.4L99.6 168.0L98.7 168.7L98.5 169.6L99.5 170.2L98.7 171.0L98.1 172.1L97.6 172.6L96.7 173.1L95.8 172.7L95.3 171.8L94.8 171.0L94.3 170.7L93.1 171.3L92.2 171.5L91.3 171.0L90.9 169.9L90.9 169.0L91.9 168.5L93.1 168.0L94.3 167.4L95.6 166.5L96.5 165.5L97.5 164.9L98.4 164.4L100.0 164.0L102.1 163.5L104.0 163.4L105.6 163.4L107.1 163.8L108.4 164.4L110.2 164.6L112.7 165.4L113.4 166.2L111.8 166.5L109.3 166.2L109.3 167.4L110.9 167.8L111.5 167.4L112.7 167.3L114.9 166.3L115.2 164.9L116.5 165.2L117.4 165.5L120.8 164.9L121.8 165.1L124.0 164.7L125.2 164.9L125.8 164.1L128.9 164.5L129.3 163.5L130.5 162.1L132.7 162.2L133.0 163.4L134.9 162.5L137.0 162.5L138.0 161.8L141.1 161.6L142.0 160.9L145.8 160.2L148.9 160.0L150.8 159.6L152.6 159.2L153.9 159.6L157.6 159.9L158.2 160.4L156.4 161.5L158.2 161.8L162.0 162.1L164.8 161.8L167.6 162.2L168.5 163.0L170.1 163.0L171.3 163.0L174.4 162.5L175.1 162.4L178.8 162.5L181.3 163.0L182.5 163.4L185.7 163.4L187.5 163.7L188.2 164.3L191.9 164.2L193.8 164.0L197.5 164.1L200.0 164.7L203.1 165.5L205.3 166.0L206.4 166.4L205.0 167.4L200.1 167.1L199.1 167.4L198.1 168.7L196.3 169.1L194.1 170.2L191.3 170.2L190.0 170.3L189.7 171.2L188.8 171.5L189.4 172.7L188.8 173.5L187.5 174.6L186.6 175.2L185.5 175.8L185.0 174.6L184.8 172.7L185.5 171.8L186.3 171.5L187.5 170.5L188.8 169.9L187.8 169.3L185.7 169.2L183.8 170.7L181.9 170.8L180.4 170.7L178.2 170.6L176.3 170.8L174.1 172.4L173.2 174.0L175.4 174.3L175.9 175.2L175.4 176.5L175.1 177.7L174.1 178.6L172.6 180.2L170.7 180.9L169.5 181.1L168.7 182.1L168.5 183.0L168.3 184.6L168.5 185.5L167.0 186.1L166.5 185.8L166.7 184.6L166.0 184.1L165.6 182.9L163.5 182.1L162.0 183.2L161.2 183.3L161.8 184.2L163.2 184.3L164.2 184.4L162.9 185.2L162.2 185.8L162.9 186.9L163.7 187.9L163.5 188.4L163.8 189.1L163.4 190.2L162.6 191.1L162.3 191.9L161.2 192.7L159.5 193.5L158.5 193.8L157.0 194.2L156.6 194.9L156.2 194.2L155.1 194.2L154.2 194.9L153.7 195.8L154.2 196.9L155.6 198.1L155.9 199.9L155.7 200.5L154.5 201.2L153.2 202.2L153.1 201.2L151.6 200.0L150.7 199.2L150.1 199.9L149.6 201.7L150.3 203.3L151.1 203.4L152.3 204.8L152.3 206.4L152.8 206.8L152.2 206.8L150.9 205.9L150.3 204.5L149.2 202.5L149.3 199.9L148.7 197.4L147.0 197.8L146.6 197.4L146.7 195.8L145.3 194.2L145.0 193.6L144.2 193.9L143.3 194.0L142.0 194.2L141.9 194.9L140.8 195.5L139.1 197.0L137.8 198.0L137.9 199.5L137.5 201.1L136.4 202.2L136.1 202.6L135.5 202.0L134.9 200.5L134.3 198.9L133.6 197.4L133.2 195.8L133.2 194.4L131.7 194.5L130.8 193.7L130.5 193.0L129.8 192.4L129.3 191.8L127.7 191.9L126.1 191.9L124.3 191.7L123.5 191.6L123.2 190.8L121.9 191.1L120.5 190.5L119.6 189.7L119.0 188.8L118.0 188.9L117.7 189.2L118.0 190.2L118.7 190.9L119.2 191.7L119.5 192.2L119.9 192.5L120.2 192.7L121.5 192.6L122.4 191.7L122.9 191.3L123.0 192.1L123.6 192.8L124.6 193.6L125.1 193.7L124.3 194.9L123.8 195.8L122.4 196.5L120.4 197.5L118.7 198.5L117.4 199.2L115.8 199.7L114.9 199.7L114.5 198.6L114.4 197.4L113.7 196.4L112.7 195.2L112.1 194.2L111.8 192.8L110.9 191.7L110.2 190.7L109.6 190.1L109.2 190.3L108.7 190.2L108.1 189.0ZM332.3 188.1L330.9 188.1L329.7 188.3L327.8 187.9L326.5 187.3L324.7 187.7L324.4 188.6L323.4 188.4L321.9 188.0L320.3 187.1L319.1 186.9L318.6 185.5L319.1 184.6L318.2 184.4L317.2 184.6L315.3 184.7L314.1 184.7L312.2 185.3L311.0 185.8L308.8 185.3L308.3 185.8L306.4 187.4L306.1 188.9L305.0 190.2L304.1 190.5L302.9 191.7L302.2 193.0L301.6 194.5L302.1 195.5L301.9 196.7L301.4 198.4L301.7 199.5L302.7 200.8L303.8 201.7L304.4 203.0L305.3 203.6L306.6 204.5L307.5 204.9L309.1 204.5L311.0 204.7L312.8 203.9L313.8 203.7L315.0 203.7L315.9 205.0L317.2 204.8L318.1 205.3L318.3 206.4L318.0 207.3L317.8 208.3L319.4 209.8L320.0 211.4L320.5 213.0L320.8 214.5L320.0 216.1L319.6 218.3L321.2 221.7L321.6 224.2L322.5 225.5L323.4 227.3L323.7 228.9L324.7 229.4L326.2 228.9L328.2 228.9L329.0 228.6L330.9 227.2L331.8 225.7L332.5 224.5L332.6 223.6L334.3 222.6L334.3 221.1L333.8 220.0L335.1 218.9L336.8 217.6L337.4 216.4L337.4 214.2L336.6 213.0L336.7 211.4L337.1 209.8L338.1 208.8L339.3 207.3L340.9 206.1L342.4 204.2L343.9 201.7L344.2 200.3L342.7 200.6L339.9 201.2L339.2 200.3L338.8 199.5L338.1 198.6L336.8 198.0L336.2 196.4L335.4 194.5L335.1 193.6L334.3 192.7L333.7 191.4L333.1 190.5L332.5 189.0ZM383.1 221.6L383.4 223.9L382.9 224.2L383.9 226.1L384.3 228.6L383.9 229.0L385.8 229.5L389.2 228.8L390.7 227.8L392.6 227.4L394.2 227.3L395.7 228.1L396.8 229.4L397.9 228.2L398.1 229.8L399.2 230.0L399.8 231.4L401.6 231.9L403.4 232.0L404.5 231.2L405.7 231.0L406.5 228.7L407.6 226.7L407.9 225.1L407.6 223.6L406.3 222.3L405.4 221.4L404.5 220.1L403.4 219.2L402.9 217.6L402.8 217.0L401.6 216.4L401.0 214.4L400.5 215.8L400.4 217.3L400.0 218.6L399.2 218.5L398.1 217.6L396.7 217.0L397.3 216.1L397.5 215.3L396.4 215.3L394.8 214.8L394.2 215.3L393.2 215.8L392.9 217.0L391.9 216.7L390.7 216.4L389.8 217.4L388.9 217.9L388.4 218.9L387.6 219.8L386.1 220.3L384.8 220.6L383.6 221.3ZM267.9 158.4L271.1 159.3L276.0 160.4L277.3 161.7L279.2 163.7L279.5 165.6L281.0 167.7L282.9 169.3L284.5 170.1L286.0 169.3L287.4 167.6L291.6 165.8L297.2 163.6L298.5 162.4L300.1 160.7L301.0 159.3L304.1 156.8L296.6 156.2L287.3 155.9L277.9 156.5L271.7 157.1L268.6 157.7ZM200.0 256.5L209.3 256.3L212.5 255.4L221.8 254.9L224.9 254.1L243.6 253.7L246.8 252.9L262.3 252.7L266.1 252.1L268.6 251.0L272.9 248.5L274.8 247.6L275.4 247.7L275.4 252.6L275.1 254.9L277.9 255.8L290.4 255.8L296.0 254.3L302.9 253.1L312.2 252.3L330.3 252.1L331.5 251.5L343.4 251.3L345.2 250.2L347.1 251.3L355.8 251.3L358.9 252.1L361.4 251.6L362.7 249.6L403.8 249.6L408.8 250.6L415.1 252.4L418.2 252.8L418.8 255.6L424.4 255.6L424.4 263.8L200.0 263.8ZM272.0 169.0L271.1 168.3L273.6 166.0L271.1 165.2L269.2 163.7L265.4 162.4L262.3 161.7L256.7 162.0L257.3 162.4L258.6 164.0L260.5 164.3L263.0 165.2L266.1 165.2L266.1 166.2L263.9 167.4L266.7 167.7L269.2 168.7L271.7 169.0ZM238.6 164.0L239.3 162.1L243.0 162.1L247.1 162.1L249.2 163.7L246.8 164.9L243.0 164.9L239.3 164.6ZM262.3 159.9L256.1 159.6L256.1 157.4L263.6 155.9L273.6 156.2L267.3 158.1L264.2 159.0ZM234.0 163.0L234.3 161.2L239.9 160.9L238.0 163.0ZM262.3 161.2L254.9 161.0L254.9 159.9L262.3 160.0ZM246.8 161.2L238.6 161.2L238.6 159.6L246.8 159.6ZM252.4 163.0L248.6 162.4L248.6 161.5L252.4 161.5ZM256.1 162.7L253.0 162.4L253.0 161.5L256.1 161.5ZM262.3 167.7L259.8 169.0L258.0 167.7L258.6 166.5L261.1 166.8ZM318.4 158.1L322.8 159.9L325.9 159.0L329.0 157.7L324.7 157.4L319.7 157.7ZM344.6 163.4L347.7 163.7L349.6 161.5L355.2 159.7L350.8 159.6L346.5 161.5L344.6 162.7ZM369.5 158.4L374.5 159.0L378.3 158.4L374.5 157.1L370.8 157.4ZM340.2 157.4L346.5 157.7L352.7 157.1L346.5 156.6ZM396.4 161.5L400.7 162.1L405.7 160.9L399.5 160.2ZM297.2 166.8L298.5 166.2L302.2 166.2L303.5 166.8L302.9 167.5L301.0 168.1L298.2 167.8ZM308.6 176.5L313.1 175.7L313.3 174.8L312.3 174.3L311.3 173.3L311.0 172.7L311.1 171.8L310.2 171.1L309.1 171.1L308.5 171.8L308.8 172.7L309.1 173.3L310.3 173.8L310.3 174.4L309.2 174.8L309.5 175.4L308.9 175.4L310.3 175.6ZM308.5 175.1L308.3 174.1L308.8 173.5L307.6 173.1L306.0 173.8L306.0 175.3L307.2 175.5ZM393.8 186.4L394.5 185.7L396.4 185.4L397.0 184.9L397.9 184.3L399.2 183.6L399.5 182.4L400.4 181.8L400.7 183.0L400.1 183.9L400.0 185.2L399.5 185.8L398.5 186.0L397.6 186.1L396.7 186.6L396.0 186.2L394.2 188.1L393.4 188.1L393.0 186.9ZM399.5 181.8L400.6 181.1L402.9 180.6L402.3 180.1L400.6 179.3L400.3 180.5ZM400.7 179.0L401.6 178.5L401.3 176.8L401.5 175.4L401.3 174.0L400.9 173.8L400.5 174.9L400.7 176.5L400.6 177.7ZM371.6 204.2L373.0 204.4L374.7 206.1L375.9 207.2L377.3 208.6L378.3 209.5L378.1 211.3L377.3 211.3L376.0 210.1L375.0 208.6L374.0 207.5L373.0 206.2ZM377.8 211.9L379.5 211.5L381.4 211.7L382.4 212.0L383.6 212.5L383.6 213.1L381.4 212.8L379.5 212.5L378.3 212.1ZM380.6 206.4L381.4 206.5L382.6 205.7L384.2 204.3L385.0 203.3L386.4 204.5L385.8 205.0L385.6 206.5L386.4 207.1L385.4 208.0L384.8 209.2L384.5 210.0L383.6 209.8L381.7 209.6L380.8 209.5L380.5 208.0L380.1 207.2ZM386.7 211.1L387.3 211.1L387.3 209.4L387.9 210.6L388.9 210.5L387.7 208.6L389.2 208.2L387.3 207.3L390.0 206.7L390.1 206.8L387.0 207.2L386.7 208.0L386.3 209.2ZM393.9 208.4L394.8 207.9L395.7 208.3L396.7 209.7L397.9 208.6L400.1 209.3L402.9 210.5L404.1 211.4L404.3 212.6L405.7 214.2L403.8 213.9L402.6 212.5L401.6 213.3L400.1 213.4L398.8 212.6L398.2 212.9L398.1 211.1L396.4 210.4L394.8 209.8L394.5 209.4L393.7 208.6ZM342.9 215.1L343.7 217.3L343.1 218.6L342.2 220.8L341.5 223.2L340.4 223.6L339.6 222.3L339.2 221.1L339.9 219.8L339.8 218.3L341.2 217.4L342.1 216.1ZM259.2 194.0L261.7 193.2L264.2 193.9L265.9 195.0L263.9 195.2L263.0 194.2L260.5 193.9ZM275.2 178.0L277.6 175.5L279.2 176.8L279.4 178.3L277.9 178.5L277.3 177.9ZM402.4 233.0L404.6 233.2L404.5 234.5L403.2 234.9L402.6 233.9ZM387.0 197.7L387.4 196.1L388.4 196.1L388.6 197.0L387.9 198.0L389.5 199.5L387.6 199.2ZM388.2 203.3L389.2 202.3L390.4 201.5L391.1 203.1L390.4 204.2L389.5 203.6ZM361.9 201.5L363.3 203.0L362.8 203.8L362.1 203.9ZM265.9 196.1L267.0 195.2L269.2 195.5L269.6 196.1L267.9 196.5L265.9 196.3ZM387.2 193.6L387.6 191.9L388.2 192.1L387.6 193.9ZM379.9 195.7L381.1 195.1L381.4 195.4L380.5 196.3ZM200.0 163.4L201.9 163.0L201.2 163.4L200.0 163.5ZM388.2 201.4L389.5 200.5L390.4 200.8L390.1 201.4L388.9 201.9ZM389.5 214.0L391.4 212.9L390.1 213.0L389.2 213.9ZM383.9 212.8L386.4 213.0L388.9 212.8L388.9 213.1L384.5 213.3L383.9 213.1ZM419.8 229.1L421.0 230.1L421.9 231.1L423.5 231.2L422.5 232.2L421.9 233.4L421.2 233.4L421.3 232.5L420.5 232.1L421.0 230.9ZM419.8 232.9L420.8 233.7L420.0 235.0L418.8 235.7L417.5 236.7L416.0 236.3L417.2 235.1L418.8 233.9ZM235.3 177.5L232.2 176.0L234.4 176.5L234.0 177.1ZM317.4 182.1L318.3 182.1L318.2 183.3L317.5 183.3ZM317.6 180.9L318.1 180.8L318.1 181.8L317.6 181.8ZM319.9 183.9L321.9 183.8L321.7 184.8L320.0 184.2ZM392.0 209.5L393.9 209.6L393.2 210.0L392.0 209.8ZM391.7 206.5L392.3 206.7L392.0 207.7L391.7 207.3ZM404.8 211.1L406.9 210.3L406.9 210.9L405.7 211.5ZM409.4 211.7L411.9 212.6L413.2 214.2L411.9 213.6L410.1 212.6ZM416.0 216.7L416.6 217.0L417.2 218.6L416.6 217.9ZM414.4 220.1L416.3 221.7L415.7 221.4L414.4 220.4ZM422.5 218.6L423.5 218.6L423.5 219.0L422.7 219.0ZM201.2 175.3L203.7 175.1L201.2 175.5ZM209.3 173.6L210.9 173.0L210.6 173.6ZM403.2 180.5L404.5 179.6L405.7 179.0L408.8 176.8L409.8 176.0L408.8 177.1L405.1 179.6L403.2 180.6ZM263.4 196.2L264.7 196.4L264.3 196.5L263.6 196.4ZM270.3 196.2L271.3 196.3L271.1 196.5L270.3 196.4ZM263.6 191.0L264.2 191.1L263.9 192.7L265.1 192.6L264.8 193.0L263.5 192.4ZM332.3 185.8L333.8 185.4L333.4 186.1L332.5 186.0ZM326.8 185.6L328.6 185.7L328.4 185.8L326.8 185.7ZM288.5 241.3L289.9 241.7L289.4 241.8L288.5 241.5ZM274.2 239.7L276.0 239.7L275.7 240.1L274.2 240.1ZM341.5 179.2L342.7 178.6L344.3 178.3L345.2 179.4L344.0 179.9L344.3 181.4L345.2 181.8L345.2 182.7L345.9 183.9L344.0 184.7L342.7 183.9L343.1 182.5L342.1 181.4L341.5 180.8L341.8 179.9ZM329.7 181.8L330.0 180.5L330.9 179.3L332.8 179.0L333.1 179.8L334.3 179.5L335.9 178.3L336.5 179.6L338.1 181.4L334.6 181.8L332.8 181.4L330.3 181.9ZM234.3 166.2L236.8 165.8L238.6 166.2L238.0 166.8L235.5 167.1ZM239.3 169.3L241.1 168.7L243.9 168.7L242.4 169.4L239.9 169.7ZM242.7 171.0L246.1 170.5L246.4 170.7L243.6 171.2ZM251.4 176.1L250.5 174.6L251.1 174.0L252.0 174.9L252.0 176.0ZM254.9 178.5L256.7 177.4L258.6 177.2L259.5 178.6L258.0 178.6L256.1 178.3ZM257.5 181.6L257.3 179.9L259.2 179.0L258.9 180.2L258.3 181.6ZM259.5 179.1L261.4 179.3L262.3 179.9L260.8 180.8L260.2 180.2ZM260.2 181.8L263.0 180.9L262.6 181.1L260.8 181.8ZM262.5 180.6L264.7 180.1L264.5 180.6ZM376.7 175.5L377.6 174.9L379.5 174.0L380.5 172.9L380.0 173.0L378.6 174.6L377.0 175.3ZM358.0 179.0L361.4 178.6L361.1 179.3L358.6 179.6ZM348.7 179.9L350.5 178.6L350.2 180.2L349.0 180.4ZM332.0 208.3L333.4 207.8L333.4 209.2L332.5 209.2ZM330.4 209.8L330.9 210.1L331.5 213.0L331.2 213.0L330.6 211.7ZM333.4 213.6L334.0 215.1L333.8 216.6L333.6 215.4ZM330.9 170.2L332.5 169.5L332.8 169.9L331.5 170.2ZM333.7 169.6L334.6 168.5L334.6 169.3Z" fill="none" stroke="#000" stroke-width="0.6" stroke-linejoin="round"/>
</g>
<path d="M200.00 263.80V151.50H424.40V263.80" fill="none" stroke="#000" stroke-width="1"/>
<path d="M199.50 263.50H424.90" fill="none" stroke="#000" stroke-width="0.65"/>
<path d="M200.00 151.50v-4.00M200.00 263.80v4.00M206.23 151.50v-2.00M206.23 263.80v2.00M212.47 151.50v-2.00M212.47 263.80v2.00M218.70 151.50v-4.00M218.70 263.80v4.00M224.93 151.50v-2.00M224.93 263.80v2.00M231.17 151.50v-2.00M231.17 263.80v2.00M237.40 151.50v-4.00M237.40 263.80v4.00M243.63 151.50v-2.00M243.63 263.80v2.00M249.87 151.50v-2.00M249.87 263.80v2.00M256.10 151.50v-4.00M256.10 263.80v4.00M262.33 151.50v-2.00M262.33 263.80v2.00M268.57 151.50v-2.00M268.57 263.80v2.00M274.80 151.50v-4.00M274.80 263.80v4.00M281.03 151.50v-2.00M281.03 263.80v2.00M287.27 151.50v-2.00M287.27 263.80v2.00M293.50 151.50v-4.00M293.50 263.80v4.00M299.73 151.50v-2.00M299.73 263.80v2.00M305.97 151.50v-2.00M305.97 263.80v2.00M312.20 151.50v-4.00M312.20 263.80v4.00M318.43 151.50v-2.00M318.43 263.80v2.00M324.67 151.50v-2.00M324.67 263.80v2.00M330.90 151.50v-4.00M330.90 263.80v4.00M337.13 151.50v-2.00M337.13 263.80v2.00M343.37 151.50v-2.00M343.37 263.80v2.00M349.60 151.50v-4.00M349.60 263.80v4.00M355.83 151.50v-2.00M355.83 263.80v2.00M362.07 151.50v-2.00M362.07 263.80v2.00M368.30 151.50v-4.00M368.30 263.80v4.00M374.53 151.50v-2.00M374.53 263.80v2.00M380.77 151.50v-2.00M380.77 263.80v2.00M387.00 151.50v-4.00M387.00 263.80v4.00M393.23 151.50v-2.00M393.23 263.80v2.00M399.47 151.50v-2.00M399.47 263.80v2.00M405.70 151.50v-4.00M405.70 263.80v4.00M411.93 151.50v-2.00M411.93 263.80v2.00M418.17 151.50v-2.00M418.17 263.80v2.00M424.40 151.50v-4.00M424.40 263.80v4.00M200.00 263.80h-4.00M424.40 263.80h4.00M200.00 257.56h-2.00M424.40 257.56h2.00M200.00 251.32h-2.00M424.40 251.32h2.00M200.00 245.08h-4.00M424.40 245.08h4.00M200.00 238.84h-2.00M424.40 238.84h2.00M200.00 232.61h-2.00M424.40 232.61h2.00M200.00 226.37h-4.00M424.40 226.37h4.00M200.00 220.13h-2.00M424.40 220.13h2.00M200.00 213.89h-2.00M424.40 213.89h2.00M200.00 207.65h-4.00M424.40 207.65h4.00M200.00 201.41h-2.00M424.40 201.41h2.00M200.00 195.17h-2.00M424.40 195.17h2.00M200.00 188.93h-4.00M424.40 188.93h4.00M200.00 182.69h-2.00M424.40 182.69h2.00M200.00 176.46h-2.00M424.40 176.46h2.00M200.00 170.22h-4.00M424.40 170.22h4.00M200.00 163.98h-2.00M424.40 163.98h2.00M200.00 157.74h-2.00M424.40 157.74h2.00M200.00 151.50h-4.00M424.40 151.50h4.00" stroke="#000" stroke-width="0.85" fill="none"/>
<text transform="translate(200.00,275.2) scale(0.9,1)" text-anchor="middle" class="s">180</text>
<text transform="translate(218.70,275.2) scale(0.9,1)" text-anchor="middle" class="s">150W</text>
<text transform="translate(237.40,275.2) scale(0.9,1)" text-anchor="middle" class="s">120W</text>
<text transform="translate(256.10,275.2) scale(0.9,1)" text-anchor="middle" class="s">90W</text>
<text transform="translate(274.80,275.2) scale(0.9,1)" text-anchor="middle" class="s">60W</text>
<text transform="translate(293.50,275.2) scale(0.9,1)" text-anchor="middle" class="s">30W</text>
<text transform="translate(312.20,275.2) scale(0.9,1)" text-anchor="middle" class="s">0</text>
<text transform="translate(330.90,275.2) scale(0.9,1)" text-anchor="middle" class="s">30E</text>
<text transform="translate(349.60,275.2) scale(0.9,1)" text-anchor="middle" class="s">60E</text>
<text transform="translate(368.30,275.2) scale(0.9,1)" text-anchor="middle" class="s">90E</text>
<text transform="translate(387.00,275.2) scale(0.9,1)" text-anchor="middle" class="s">120E</text>
<text transform="translate(405.70,275.2) scale(0.9,1)" text-anchor="middle" class="s">150E</text>
<text transform="translate(424.40,275.2) scale(0.9,1)" text-anchor="middle" class="s">180</text>
<text transform="translate(193.2,153.60) scale(0.9,1)" text-anchor="end" class="s">90N</text>
<text transform="translate(193.2,172.32) scale(0.9,1)" text-anchor="end" class="s">60N</text>
<text transform="translate(193.2,191.03) scale(0.9,1)" text-anchor="end" class="s">30N</text>
<text transform="translate(193.2,209.75) scale(0.9,1)" text-anchor="end" class="s">0</text>
<text transform="translate(193.2,228.47) scale(0.9,1)" text-anchor="end" class="s">30S</text>
<text transform="translate(193.2,247.18) scale(0.9,1)" text-anchor="end" class="s">60S</text>
<text transform="translate(193.2,265.90) scale(0.9,1)" text-anchor="end" class="s">90S</text>
<text x="312" y="134.2" text-anchor="middle" font-size="8.3" font-weight="bold">GFEDv2</text>
<text x="199.9" y="145.9" class="m">Fire Emission C</text>
<text x="424.6" y="145.9" text-anchor="end" class="m">gC/m2/yr</text>
<rect x="229.40" y="278.85" width="15.00" height="9.85" fill="#0000ff"/>
<rect x="244.40" y="278.85" width="15.00" height="9.85" fill="#00c8f0"/>
<rect x="259.40" y="278.85" width="15.00" height="9.85" fill="#64ffff"/>
<rect x="274.40" y="278.85" width="15.00" height="9.85" fill="#64ff96"/>
<rect x="289.40" y="278.85" width="15.00" height="9.85" fill="#28f000"/>
<rect x="304.40" y="278.85" width="15.00" height="9.85" fill="#dcf000"/>
<rect x="319.40" y="278.85" width="15.00" height="9.85" fill="#ffff00"/>
<rect x="334.40" y="278.85" width="15.00" height="9.85" fill="#ffc800"/>
<rect x="349.40" y="278.85" width="15.00" height="9.85" fill="#ff8200"/>
<rect x="364.40" y="278.85" width="15.00" height="9.85" fill="#ff3c00"/>
<rect x="379.40" y="278.85" width="15.00" height="9.85" fill="#ff0000"/>
<path d="M229.40 278.85v9.85M244.40 278.85v9.85M259.40 278.85v9.85M274.40 278.85v9.85M289.40 278.85v9.85M304.40 278.85v9.85M319.40 278.85v9.85M334.40 278.85v9.85M349.40 278.85v9.85M364.40 278.85v9.85M379.40 278.85v9.85M394.40 278.85v9.85M229.40 278.85h165.00M229.40 288.70h165.00" stroke="#000" stroke-width="0.7" fill="none"/>
<text transform="translate(244.40,295.9) scale(0.9,1)" text-anchor="middle" class="s">10</text>
<text transform="translate(259.40,295.9) scale(0.9,1)" text-anchor="middle" class="s">20</text>
<text transform="translate(274.40,295.9) scale(0.9,1)" text-anchor="middle" class="s">30</text>
<text transform="translate(289.40,295.9) scale(0.9,1)" text-anchor="middle" class="s">40</text>
<text transform="translate(304.40,295.9) scale(0.9,1)" text-anchor="middle" class="s">50</text>
<text transform="translate(319.40,295.9) scale(0.9,1)" text-anchor="middle" class="s">60</text>
<text transform="translate(334.40,295.9) scale(0.9,1)" text-anchor="middle" class="s">70</text>
<text transform="translate(349.40,295.9) scale(0.9,1)" text-anchor="middle" class="s">80</text>
<text transform="translate(364.40,295.9) scale(0.9,1)" text-anchor="middle" class="s">90</text>
<text transform="translate(379.40,295.9) scale(0.9,1)" text-anchor="middle" class="s">100</text>
</g>
<g transform="translate(0,180)">
<g clip-path="url(#fill)">
<path d="M207.4 166.7L210.0 166.2L211.5 166.3L210.0 165.4L208.4 165.0L210.6 164.2L214.5 163.2L217.5 163.4L220.6 163.8L224.3 164.2L226.8 164.6L229.0 164.3L231.5 164.0L234.6 164.4L236.8 164.2L239.3 164.7L241.1 165.1L244.6 165.1L246.1 164.7L248.9 165.4L252.4 165.5L253.3 163.0L254.2 164.3L256.4 164.7L258.9 164.1L261.1 164.6L260.8 166.3L258.6 166.5L258.0 167.4L256.1 168.0L254.5 169.0L253.3 170.2L253.6 171.0L254.5 172.0L257.0 172.4L259.2 173.1L260.9 173.3L260.9 174.6L262.0 175.6L263.0 175.5L263.0 173.6L264.2 172.4L263.9 171.2L263.3 169.7L263.9 168.7L266.4 168.8L267.9 169.6L268.9 170.8L270.1 171.3L271.1 171.0L272.0 170.0L273.6 171.8L274.2 172.7L276.4 173.6L277.4 174.9L276.7 175.5L274.8 176.3L272.0 176.3L270.7 176.5L268.6 178.0L272.1 177.2L271.1 177.7L272.0 178.3L274.2 179.3L274.8 179.0L273.9 179.6L272.3 179.9L271.1 180.3L270.4 179.7L268.6 180.3L268.3 180.9L268.6 181.6L267.6 181.9L266.4 182.2L266.1 182.4L265.8 183.1L265.3 183.4L265.0 184.3L264.8 184.6L265.1 185.6L264.3 186.1L263.3 186.6L262.0 187.5L261.5 188.3L261.5 189.2L262.1 190.7L262.3 191.7L261.7 192.0L261.2 191.1L260.7 190.2L260.6 189.4L259.8 188.9L258.9 189.1L258.0 188.7L256.4 188.8L256.6 189.6L255.2 189.3L253.6 189.1L252.8 189.6L251.5 190.5L251.5 191.4L251.2 193.6L251.6 194.9L252.2 195.7L253.1 196.2L254.9 196.0L255.6 195.5L255.9 194.5L257.3 194.2L258.0 194.3L257.7 195.5L257.2 196.7L257.0 197.7L258.6 197.7L259.8 197.9L260.3 198.6L260.1 200.2L260.0 200.8L260.8 201.7L261.7 202.2L262.6 201.7L263.6 201.9L264.0 202.3L264.8 201.7L265.1 201.1L265.9 200.7L267.0 200.3L267.4 199.9L267.8 200.8L268.4 200.4L269.8 201.0L271.1 201.2L272.3 201.0L273.6 201.0L274.2 201.7L274.5 202.3L275.7 203.3L276.7 203.9L278.5 204.0L279.8 204.7L280.4 205.2L281.0 206.5L280.7 207.7L282.0 208.3L284.5 209.2L286.3 209.5L287.9 210.0L289.1 210.8L290.3 211.1L290.4 212.6L289.1 214.5L288.2 215.8L287.9 218.3L287.3 220.1L286.6 221.4L285.4 222.0L284.1 222.5L282.0 224.2L281.8 225.4L280.7 227.0L279.5 228.6L278.5 229.4L277.3 229.4L275.7 228.9L276.4 230.4L276.7 231.4L274.8 232.0L273.6 232.0L273.4 233.0L271.7 233.2L272.3 234.2L271.7 235.7L270.1 236.7L271.1 237.6L269.8 238.8L269.5 240.3L269.5 241.7L270.7 242.0L268.6 242.0L267.3 241.3L266.1 240.4L265.4 238.8L265.8 237.0L265.1 236.3L266.4 234.5L266.3 232.6L266.4 230.7L267.0 229.5L267.6 227.6L267.6 225.1L268.3 223.2L268.4 220.1L268.4 219.1L267.3 218.3L265.3 217.0L264.6 216.1L263.7 214.2L262.6 212.3L261.6 211.4L261.6 210.5L262.3 209.2L261.8 208.6L262.3 207.3L263.1 206.7L263.9 205.3L264.0 203.9L263.6 203.1L263.3 202.5L262.5 202.3L262.0 203.1L261.1 202.5L260.1 202.3L258.8 201.4L258.7 200.7L257.7 199.5L256.4 199.2L255.2 198.9L254.2 198.0L253.3 197.5L252.0 197.9L250.8 197.5L248.9 196.7L247.7 196.2L246.4 195.2L246.6 194.2L246.3 193.5L245.8 193.0L244.9 192.1L243.9 191.4L243.3 190.3L242.3 189.6L241.8 188.4L240.6 187.8L241.1 188.9L241.9 190.2L242.7 191.4L243.3 192.5L243.9 193.3L243.6 193.4L242.4 192.2L241.1 190.6L240.5 190.2L239.9 188.6L239.2 187.4L238.3 186.4L237.0 186.1L236.2 184.9L235.8 184.1L235.0 182.8L234.7 182.4L234.8 181.4L234.6 180.8L234.9 179.0L234.5 177.5L235.4 177.6L235.2 176.8L234.3 176.3L232.5 175.8L232.1 174.9L230.9 174.0L230.5 173.0L229.3 172.1L228.1 171.2L226.8 171.2L225.2 170.5L223.4 170.2L221.8 170.0L220.3 169.7L218.7 169.5L217.6 170.7L216.5 171.2L215.0 171.8L213.4 172.7L211.8 173.0L212.5 172.2L213.1 171.8L214.3 171.2L213.1 171.0L211.2 171.1L210.9 170.2L209.3 169.8L209.0 169.0L209.7 168.3L211.8 168.0L211.8 167.4L209.7 167.4L208.4 167.3ZM332.3 188.1L333.5 188.1L334.0 187.1L334.6 185.5L334.8 184.8L333.7 184.7L332.5 185.1L331.2 184.8L329.8 184.8L329.0 183.6L328.5 183.0L328.7 182.5L328.4 182.2L327.2 182.2L326.4 182.4L326.8 183.8L326.2 184.9L325.6 184.6L325.3 183.6L324.7 182.8L324.4 181.8L323.7 181.1L322.2 180.5L321.2 179.5L320.7 179.1L319.9 179.4L320.0 180.1L320.9 181.1L322.2 181.8L323.7 182.6L322.8 183.1L322.5 183.8L321.9 183.9L322.2 183.0L321.6 182.6L320.6 181.9L319.4 181.3L318.7 180.7L318.1 180.1L317.2 180.3L316.3 180.8L315.0 180.6L314.1 180.9L314.2 181.5L312.8 182.1L312.2 182.9L311.7 184.2L310.8 184.8L309.4 184.8L308.7 185.2L308.3 184.7L307.5 184.4L306.7 184.6L306.7 183.6L306.3 183.0L306.7 182.1L306.7 181.4L306.4 180.8L307.2 180.4L309.1 180.5L311.0 180.6L311.3 179.9L311.5 179.0L310.8 178.3L309.4 177.8L309.2 177.4L310.3 177.2L311.3 177.3L311.3 176.7L312.3 176.8L313.1 176.3L313.8 175.8L314.4 175.5L315.1 174.7L315.6 174.3L316.6 174.3L317.5 174.2L317.6 173.0L317.3 172.2L318.7 171.7L318.7 172.5L318.6 173.3L319.1 174.0L320.0 173.6L320.9 174.0L323.7 173.5L325.3 173.3L325.4 172.4L325.7 171.8L326.8 172.1L327.4 171.3L326.8 170.7L328.4 170.5L330.9 170.3L329.7 169.9L326.5 170.3L325.5 169.7L325.6 168.7L326.2 167.8L328.0 167.1L327.5 166.6L325.9 166.8L325.3 167.4L324.0 168.0L323.1 168.7L322.9 169.6L323.9 170.2L323.1 171.0L322.5 172.1L322.0 172.6L321.1 173.1L320.2 172.7L319.7 171.8L319.2 171.0L318.7 170.7L317.5 171.3L316.6 171.5L315.7 171.0L315.3 169.9L315.3 169.0L316.3 168.5L317.5 168.0L318.7 167.4L320.0 166.5L320.9 165.5L321.9 164.9L322.8 164.4L324.4 164.0L326.5 163.5L328.4 163.4L330.0 163.4L331.5 163.8L332.8 164.4L334.6 164.6L337.1 165.4L337.8 166.2L336.2 166.5L333.7 166.2L333.7 167.4L335.3 167.8L335.9 167.4L337.1 167.3L339.3 166.3L339.6 164.9L340.9 165.2L341.8 165.5L345.2 164.9L346.2 165.1L348.4 164.7L349.6 164.9L350.2 164.1L353.3 164.5L353.7 163.5L354.9 162.1L357.1 162.2L357.4 163.4L359.3 162.5L361.4 162.5L362.4 161.8L365.5 161.6L366.4 160.9L370.2 160.2L373.3 160.0L375.2 159.6L377.0 159.2L378.3 159.6L382.0 159.9L382.6 160.4L380.8 161.5L382.6 161.8L386.4 162.1L389.2 161.8L392.0 162.2L392.9 163.0L394.5 163.0L395.7 163.0L398.8 162.5L399.5 162.4L403.2 162.5L405.7 163.0L406.9 163.4L410.1 163.4L411.9 163.7L412.6 164.3L416.3 164.2L418.2 164.0L421.9 164.1L424.4 164.7L427.5 165.5L429.7 166.0L430.8 166.4L429.4 167.4L424.5 167.1L423.5 167.4L422.5 168.7L420.7 169.1L418.5 170.2L415.7 170.2L414.4 170.3L414.1 171.2L413.2 171.5L413.8 172.7L413.2 173.5L411.9 174.6L411.0 175.2L409.9 175.8L409.4 174.6L409.2 172.7L409.9 171.8L410.7 171.5L411.9 170.5L413.2 169.9L412.2 169.3L410.1 169.2L408.2 170.7L406.3 170.8L404.8 170.7L402.6 170.6L400.7 170.8L398.5 172.4L397.6 174.0L399.8 174.3L400.3 175.2L399.8 176.5L399.5 177.7L398.5 178.6L397.0 180.2L395.1 180.9L393.9 181.1L393.1 182.1L392.9 183.0L392.7 184.6L392.9 185.5L391.4 186.1L390.9 185.8L391.1 184.6L390.4 184.1L390.0 182.9L387.9 182.1L386.4 183.2L385.6 183.3L386.2 184.2L387.6 184.3L388.6 184.4L387.3 185.2L386.6 185.8L387.3 186.9L388.1 187.9L387.9 188.4L388.2 189.1L387.8 190.2L387.0 191.1L386.7 191.9L385.6 192.7L383.9 193.5L382.9 193.8L381.4 194.2L381.0 194.9L380.6 194.2L379.5 194.2L378.6 194.9L378.1 195.8L378.6 196.9L380.0 198.1L380.3 199.9L380.1 200.5L378.9 201.2L377.6 202.2L377.5 201.2L376.0 200.0L375.1 199.2L374.5 199.9L374.0 201.7L374.7 203.3L375.5 203.4L376.7 204.8L376.7 206.4L377.2 206.8L376.6 206.8L375.3 205.9L374.7 204.5L373.6 202.5L373.7 199.9L373.1 197.4L371.4 197.8L371.0 197.4L371.1 195.8L369.7 194.2L369.4 193.6L368.6 193.9L367.7 194.0L366.4 194.2L366.3 194.9L365.2 195.5L363.5 197.0L362.2 198.0L362.3 199.5L361.9 201.1L360.8 202.2L360.5 202.6L359.9 202.0L359.3 200.5L358.7 198.9L358.0 197.4L357.6 195.8L357.6 194.4L356.1 194.5L355.2 193.7L354.9 193.0L354.2 192.4L353.7 191.8L352.1 191.9L350.5 191.9L348.7 191.7L347.9 191.6L347.6 190.8L346.3 191.1L344.9 190.5L344.0 189.7L343.4 188.8L342.4 188.9L342.1 189.2L342.4 190.2L343.1 190.9L343.6 191.7L343.9 192.2L344.3 192.5L344.6 192.7L345.9 192.6L346.8 191.7L347.3 191.3L347.4 192.1L348.0 192.8L349.0 193.6L349.5 193.7L348.7 194.9L348.2 195.8L346.8 196.5L344.8 197.5L343.1 198.5L341.8 199.2L340.2 199.7L339.3 199.7L338.9 198.6L338.8 197.4L338.1 196.4L337.1 195.2L336.5 194.2L336.2 192.8L335.3 191.7L334.6 190.7L334.0 190.1L333.6 190.3L333.1 190.2L332.5 189.0ZM107.9 188.1L109.1 188.1L109.6 187.1L110.2 185.5L110.4 184.8L109.3 184.7L108.1 185.1L106.8 184.8L105.4 184.8L104.6 183.6L104.1 183.0L104.3 182.5L104.0 182.2L102.8 182.2L102.0 182.4L102.4 183.8L101.8 184.9L101.2 184.6L100.9 183.6L100.3 182.8L100.0 181.8L99.3 181.1L97.8 180.5L96.8 179.5L96.3 179.1L95.5 179.4L95.6 180.1L96.5 181.1L97.8 181.8L99.3 182.6L98.4 183.1L98.1 183.8L97.5 183.9L97.8 183.0L97.2 182.6L96.2 181.9L95.0 181.3L94.3 180.7L93.7 180.1L92.8 180.3L91.9 180.8L90.6 180.6L89.7 180.9L89.8 181.5L88.4 182.1L87.8 182.9L87.3 184.2L86.4 184.8L85.0 184.8L84.3 185.2L83.9 184.7L83.1 184.4L82.3 184.6L82.3 183.6L81.9 183.0L82.3 182.1L82.3 181.4L82.0 180.8L82.8 180.4L84.7 180.5L86.6 180.6L86.9 179.9L87.1 179.0L86.4 178.3L85.0 177.8L84.8 177.4L85.9 177.2L86.9 177.3L86.9 176.7L87.9 176.8L88.7 176.3L89.4 175.8L90.0 175.5L90.7 174.7L91.2 174.3L92.2 174.3L93.1 174.2L93.2 173.0L92.9 172.2L94.3 171.7L94.3 172.5L94.2 173.3L94.7 174.0L95.6 173.6L96.5 174.0L99.3 173.5L100.9 173.3L101.0 172.4L101.3 171.8L102.4 172.1L103.0 171.3L102.4 170.7L104.0 170.5L106.5 170.3L105.3 169.9L102.1 170.3L101.1 169.7L101.2 168.7L101.8 167.8L103.6 167.1L103.1 166.6L101.5 166.8L100.9 167.4L99.6 168.0L98.7 168.7L98.5 169.6L99.5 170.2L98.7 171.0L98.1 172.1L97.6 172.6L96.7 173.1L95.8 172.7L95.3 171.8L94.8 171.0L94.3 170.7L93.1 171.3L92.2 171.5L91.3 171.0L90.9 169.9L90.9 169.0L91.9 168.5L93.1 168.0L94.3 167.4L95.6 166.5L96.5 165.5L97.5 164.9L98.4 164.4L100.0 164.0L102.1 163.5L104.0 163.4L105.6 163.4L107.1 163.8L108.4 164.4L110.2 164.6L112.7 165.4L113.4 166.2L111.8 166.5L109.3 166.2L109.3 167.4L110.9 167.8L111.5 167.4L112.7 167.3L114.9 166.3L115.2 164.9L116.5 165.2L117.4 165.5L120.8 164.9L121.8 165.1L124.0 164.7L125.2 164.9L125.8 164.1L128.9 164.5L129.3 163.5L130.5 162.1L132.7 162.2L133.0 163.4L134.9 162.5L137.0 162.5L138.0 161.8L141.1 161.6L142.0 160.9L145.8 160.2L148.9 160.0L150.8 159.6L152.6 159.2L153.9 159.6L157.6 159.9L158.2 160.4L156.4 161.5L158.2 161.8L162.0 162.1L164.8 161.8L167.6 162.2L168.5 163.0L170.1 163.0L171.3 163.0L174.4 162.5L175.1 162.4L178.8 162.5L181.3 163.0L182.5 163.4L185.7 163.4L187.5 163.7L188.2 164.3L191.9 164.2L193.8 164.0L197.5 164.1L200.0 164.7L203.1 165.5L205.3 166.0L206.4 166.4L205.0 167.4L200.1 167.1L199.1 167.4L198.1 168.7L196.3 169.1L194.1 170.2L191.3 170.2L190.0 170.3L189.7 171.2L188.8 171.5L189.4 172.7L188.8 173.5L187.5 174.6L186.6 175.2L185.5 175.8L185.0 174.6L184.8 172.7L185.5 171.8L186.3 171.5L187.5 170.5L188.8 169.9L187.8 169.3L185.7 169.2L183.8 170.7L181.9 170.8L180.4 170.7L178.2 170.6L176.3 170.8L174.1 172.4L173.2 174.0L175.4 174.3L175.9 175.2L175.4 176.5L175.1 177.7L174.1 178.6L172.6 180.2L170.7 180.9L169.5 181.1L168.7 182.1L168.5 183.0L168.3 184.6L168.5 185.5L167.0 186.1L166.5 185.8L166.7 184.6L166.0 184.1L165.6 182.9L163.5 182.1L162.0 183.2L161.2 183.3L161.8 184.2L163.2 184.3L164.2 184.4L162.9 185.2L162.2 185.8L162.9 186.9L163.7 187.9L163.5 188.4L163.8 189.1L163.4 190.2L162.6 191.1L162.3 191.9L161.2 192.7L159.5 193.5L158.5 193.8L157.0 194.2L156.6 194.9L156.2 194.2L155.1 194.2L154.2 194.9L153.7 195.8L154.2 196.9L155.6 198.1L155.9 199.9L155.7 200.5L154.5 201.2L153.2 202.2L153.1 201.2L151.6 200.0L150.7 199.2L150.1 199.9L149.6 201.7L150.3 203.3L151.1 203.4L152.3 204.8L152.3 206.4L152.8 206.8L152.2 206.8L150.9 205.9L150.3 204.5L149.2 202.5L149.3 199.9L148.7 197.4L147.0 197.8L146.6 197.4L146.7 195.8L145.3 194.2L145.0 193.6L144.2 193.9L143.3 194.0L142.0 194.2L141.9 194.9L140.8 195.5L139.1 197.0L137.8 198.0L137.9 199.5L137.5 201.1L136.4 202.2L136.1 202.6L135.5 202.0L134.9 200.5L134.3 198.9L133.6 197.4L133.2 195.8L133.2 194.4L131.7 194.5L130.8 193.7L130.5 193.0L129.8 192.4L129.3 191.8L127.7 191.9L126.1 191.9L124.3 191.7L123.5 191.6L123.2 190.8L121.9 191.1L120.5 190.5L119.6 189.7L119.0 188.8L118.0 188.9L117.7 189.2L118.0 190.2L118.7 190.9L119.2 191.7L119.5 192.2L119.9 192.5L120.2 192.7L121.5 192.6L122.4 191.7L122.9 191.3L123.0 192.1L123.6 192.8L124.6 193.6L125.1 193.7L124.3 194.9L123.8 195.8L122.4 196.5L120.4 197.5L118.7 198.5L117.4 199.2L115.8 199.7L114.9 199.7L114.5 198.6L114.4 197.4L113.7 196.4L112.7 195.2L112.1 194.2L111.8 192.8L110.9 191.7L110.2 190.7L109.6 190.1L109.2 190.3L108.7 190.2L108.1 189.0ZM332.3 188.1L330.9 188.1L329.7 188.3L327.8 187.9L326.5 187.3L324.7 187.7L324.4 188.6L323.4 188.4L321.9 188.0L320.3 187.1L319.1 186.9L318.6 185.5L319.1 184.6L318.2 184.4L317.2 184.6L315.3 184.7L314.1 184.7L312.2 185.3L311.0 185.8L308.8 185.3L308.3 185.8L306.4 187.4L306.1 188.9L305.0 190.2L304.1 190.5L302.9 191.7L302.2 193.0L301.6 194.5L302.1 195.5L301.9 196.7L301.4 198.4L301.7 199.5L302.7 200.8L303.8 201.7L304.4 203.0L305.3 203.6L306.6 204.5L307.5 204.9L309.1 204.5L311.0 204.7L312.8 203.9L313.8 203.7L315.0 203.7L315.9 205.0L317.2 204.8L318.1 205.3L318.3 206.4L318.0 207.3L317.8 208.3L319.4 209.8L320.0 211.4L320.5 213.0L320.8 214.5L320.0 216.1L319.6 218.3L321.2 221.7L321.6 224.2L322.5 225.5L323.4 227.3L323.7 228.9L324.7 229.4L326.2 228.9L328.2 228.9L329.0 228.6L330.9 227.2L331.8 225.7L332.5 224.5L332.6 223.6L334.3 222.6L334.3 221.1L333.8 220.0L335.1 218.9L336.8 217.6L337.4 216.4L337.4 214.2L336.6 213.0L336.7 211.4L337.1 209.8L338.1 208.8L339.3 207.3L340.9 206.1L342.4 204.2L343.9 201.7L344.2 200.3L342.7 200.6L339.9 201.2L339.2 200.3L338.8 199.5L338.1 198.6L336.8 198.0L336.2 196.4L335.4 194.5L335.1 193.6L334.3 192.7L333.7 191.4L333.1 190.5L332.5 189.0ZM383.1 221.6L383.4 223.9L382.9 224.2L383.9 226.1L384.3 228.6L383.9 229.0L385.8 229.5L389.2 228.8L390.7 227.8L392.6 227.4L394.2 227.3L395.7 228.1L396.8 229.4L397.9 228.2L398.1 229.8L399.2 230.0L399.8 231.4L401.6 231.9L403.4 232.0L404.5 231.2L405.7 231.0L406.5 228.7L407.6 226.7L407.9 225.1L407.6 223.6L406.3 222.3L405.4 221.4L404.5 220.1L403.4 219.2L402.9 217.6L402.8 217.0L401.6 216.4L401.0 214.4L400.5 215.8L400.4 217.3L400.0 218.6L399.2 218.5L398.1 217.6L396.7 217.0L397.3 216.1L397.5 215.3L396.4 215.3L394.8 214.8L394.2 215.3L393.2 215.8L392.9 217.0L391.9 216.7L390.7 216.4L389.8 217.4L388.9 217.9L388.4 218.9L387.6 219.8L386.1 220.3L384.8 220.6L383.6 221.3ZM267.9 158.4L271.1 159.3L276.0 160.4L277.3 161.7L279.2 163.7L279.5 165.6L281.0 167.7L282.9 169.3L284.5 170.1L286.0 169.3L287.4 167.6L291.6 165.8L297.2 163.6L298.5 162.4L300.1 160.7L301.0 159.3L304.1 156.8L296.6 156.2L287.3 155.9L277.9 156.5L271.7 157.1L268.6 157.7ZM200.0 256.5L209.3 256.3L212.5 255.4L221.8 254.9L224.9 254.1L243.6 253.7L246.8 252.9L262.3 252.7L266.1 252.1L268.6 251.0L272.9 248.5L274.8 247.6L275.4 247.7L275.4 252.6L275.1 254.9L277.9 255.8L290.4 255.8L296.0 254.3L302.9 253.1L312.2 252.3L330.3 252.1L331.5 251.5L343.4 251.3L345.2 250.2L347.1 251.3L355.8 251.3L358.9 252.1L361.4 251.6L362.7 249.6L403.8 249.6L408.8 250.6L415.1 252.4L418.2 252.8L418.8 255.6L424.4 255.6L424.4 263.8L200.0 263.8ZM272.0 169.0L271.1 168.3L273.6 166.0L271.1 165.2L269.2 163.7L265.4 162.4L262.3 161.7L256.7 162.0L257.3 162.4L258.6 164.0L260.5 164.3L263.0 165.2L266.1 165.2L266.1 166.2L263.9 167.4L266.7 167.7L269.2 168.7L271.7 169.0ZM238.6 164.0L239.3 162.1L243.0 162.1L247.1 162.1L249.2 163.7L246.8 164.9L243.0 164.9L239.3 164.6ZM262.3 159.9L256.1 159.6L256.1 157.4L263.6 155.9L273.6 156.2L267.3 158.1L264.2 159.0ZM234.0 163.0L234.3 161.2L239.9 160.9L238.0 163.0ZM262.3 161.2L254.9 161.0L254.9 159.9L262.3 160.0ZM246.8 161.2L238.6 161.2L238.6 159.6L246.8 159.6ZM252.4 163.0L248.6 162.4L248.6 161.5L252.4 161.5ZM256.1 162.7L253.0 162.4L253.0 161.5L256.1 161.5ZM262.3 167.7L259.8 169.0L258.0 167.7L258.6 166.5L261.1 166.8ZM318.4 158.1L322.8 159.9L325.9 159.0L329.0 157.7L324.7 157.4L319.7 157.7ZM344.6 163.4L347.7 163.7L349.6 161.5L355.2 159.7L350.8 159.6L346.5 161.5L344.6 162.7ZM369.5 158.4L374.5 159.0L378.3 158.4L374.5 157.1L370.8 157.4ZM340.2 157.4L346.5 157.7L352.7 157.1L346.5 156.6ZM396.4 161.5L400.7 162.1L405.7 160.9L399.5 160.2ZM297.2 166.8L298.5 166.2L302.2 166.2L303.5 166.8L302.9 167.5L301.0 168.1L298.2 167.8ZM308.6 176.5L313.1 175.7L313.3 174.8L312.3 174.3L311.3 173.3L311.0 172.7L311.1 171.8L310.2 171.1L309.1 171.1L308.5 171.8L308.8 172.7L309.1 173.3L310.3 173.8L310.3 174.4L309.2 174.8L309.5 175.4L308.9 175.4L310.3 175.6ZM308.5 175.1L308.3 174.1L308.8 173.5L307.6 173.1L306.0 173.8L306.0 175.3L307.2 175.5ZM393.8 186.4L394.5 185.7L396.4 185.4L397.0 184.9L397.9 184.3L399.2 183.6L399.5 182.4L400.4 181.8L400.7 183.0L400.1 183.9L400.0 185.2L399.5 185.8L398.5 186.0L397.6 186.1L396.7 186.6L396.0 186.2L394.2 188.1L393.4 188.1L393.0 186.9ZM399.5 181.8L400.6 181.1L402.9 180.6L402.3 180.1L400.6 179.3L400.3 180.5ZM400.7 179.0L401.6 178.5L401.3 176.8L401.5 175.4L401.3 174.0L400.9 173.8L400.5 174.9L400.7 176.5L400.6 177.7ZM371.6 204.2L373.0 204.4L374.7 206.1L375.9 207.2L377.3 208.6L378.3 209.5L378.1 211.3L377.3 211.3L376.0 210.1L375.0 208.6L374.0 207.5L373.0 206.2ZM377.8 211.9L379.5 211.5L381.4 211.7L382.4 212.0L383.6 212.5L383.6 213.1L381.4 212.8L379.5 212.5L378.3 212.1ZM380.6 206.4L381.4 206.5L382.6 205.7L384.2 204.3L385.0 203.3L386.4 204.5L385.8 205.0L385.6 206.5L386.4 207.1L385.4 208.0L384.8 209.2L384.5 210.0L383.6 209.8L381.7 209.6L380.8 209.5L380.5 208.0L380.1 207.2ZM386.7 211.1L387.3 211.1L387.3 209.4L387.9 210.6L388.9 210.5L387.7 208.6L389.2 208.2L387.3 207.3L390.0 206.7L390.1 206.8L387.0 207.2L386.7 208.0L386.3 209.2ZM393.9 208.4L394.8 207.9L395.7 208.3L396.7 209.7L397.9 208.6L400.1 209.3L402.9 210.5L404.1 211.4L404.3 212.6L405.7 214.2L403.8 213.9L402.6 212.5L401.6 213.3L400.1 213.4L398.8 212.6L398.2 212.9L398.1 211.1L396.4 210.4L394.8 209.8L394.5 209.4L393.7 208.6ZM342.9 215.1L343.7 217.3L343.1 218.6L342.2 220.8L341.5 223.2L340.4 223.6L339.6 222.3L339.2 221.1L339.9 219.8L339.8 218.3L341.2 217.4L342.1 216.1ZM259.2 194.0L261.7 193.2L264.2 193.9L265.9 195.0L263.9 195.2L263.0 194.2L260.5 193.9ZM275.2 178.0L277.6 175.5L279.2 176.8L279.4 178.3L277.9 178.5L277.3 177.9ZM402.4 233.0L404.6 233.2L404.5 234.5L403.2 234.9L402.6 233.9ZM387.0 197.7L387.4 196.1L388.4 196.1L388.6 197.0L387.9 198.0L389.5 199.5L387.6 199.2ZM388.2 203.3L389.2 202.3L390.4 201.5L391.1 203.1L390.4 204.2L389.5 203.6ZM361.9 201.5L363.3 203.0L362.8 203.8L362.1 203.9ZM265.9 196.1L267.0 195.2L269.2 195.5L269.6 196.1L267.9 196.5L265.9 196.3ZM387.2 193.6L387.6 191.9L388.2 192.1L387.6 193.9ZM379.9 195.7L381.1 195.1L381.4 195.4L380.5 196.3ZM224.3 164.2L231.2 163.7L234.9 159.0L243.6 158.4L253.0 156.8L262.3 155.9L272.3 156.2L268.6 158.1L264.8 158.7L262.3 161.5L265.4 162.4L269.2 163.7L272.9 166.2L272.0 169.0L268.6 170.2L262.3 170.2L252.4 165.5L224.3 164.2ZM268.6 178.3L271.1 176.1L274.8 176.1L275.4 178.0L274.2 179.3L271.1 179.6ZM308.5 185.5L312.2 183.6L314.1 181.1L318.4 179.9L324.7 180.8L329.7 181.8L335.3 184.6L334.6 188.3L324.7 188.9L318.4 187.1L311.0 185.8ZM329.0 182.1L329.7 178.3L338.4 178.3L338.4 182.4ZM340.9 179.0L342.7 177.7L345.9 178.3L346.5 182.1L345.9 184.9L342.7 184.9L340.9 181.4ZM332.1 188.9L334.0 188.9L339.6 199.5L338.4 200.2L335.3 196.4ZM341.8 188.6L343.7 188.6L347.7 191.1L347.4 193.0L343.4 192.7ZM318.4 174.3L318.4 171.5L323.4 169.6L323.4 166.5L328.4 166.5L330.9 170.2L327.2 172.7L324.7 174.3ZM344.6 164.6L345.2 163.4L348.4 161.8L358.9 162.4L365.2 160.5L370.2 157.1L377.6 158.1L383.9 160.5L399.5 161.2L411.9 163.0L411.9 164.6L344.6 164.6Z" fill="#0000ff" stroke="#0000ff" stroke-width="1.70" stroke-linejoin="round"/>
<path d="M200.0 163.4L201.9 163.0L201.2 163.4L200.0 163.5ZM388.2 201.4L389.5 200.5L390.4 200.8L390.1 201.4L388.9 201.9ZM389.5 214.0L391.4 212.9L390.1 213.0L389.2 213.9ZM383.9 212.8L386.4 213.0L388.9 212.8L388.9 213.1L384.5 213.3L383.9 213.1ZM419.8 229.1L421.0 230.1L421.9 231.1L423.5 231.2L422.5 232.2L421.9 233.4L421.2 233.4L421.3 232.5L420.5 232.1L421.0 230.9ZM419.8 232.9L420.8 233.7L420.0 235.0L418.8 235.7L417.5 236.7L416.0 236.3L417.2 235.1L418.8 233.9ZM235.3 177.5L232.2 176.0L234.4 176.5L234.0 177.1ZM317.4 182.1L318.3 182.1L318.2 183.3L317.5 183.3ZM317.6 180.9L318.1 180.8L318.1 181.8L317.6 181.8ZM319.9 183.9L321.9 183.8L321.7 184.8L320.0 184.2ZM392.0 209.5L393.9 209.6L393.2 210.0L392.0 209.8ZM391.7 206.5L392.3 206.7L392.0 207.7L391.7 207.3ZM404.8 211.1L406.9 210.3L406.9 210.9L405.7 211.5ZM409.4 211.7L411.9 212.6L413.2 214.2L411.9 213.6L410.1 212.6ZM416.0 216.7L416.6 217.0L417.2 218.6L416.6 217.9ZM414.4 220.1L416.3 221.7L415.7 221.4L414.4 220.4ZM422.5 218.6L423.5 218.6L423.5 219.0L422.7 219.0ZM201.2 175.3L203.7 175.1L201.2 175.5ZM209.3 173.6L210.9 173.0L210.6 173.6ZM403.2 180.5L404.5 179.6L405.7 179.0L408.8 176.8L409.8 176.0L408.8 177.1L405.1 179.6L403.2 180.6ZM263.4 196.2L264.7 196.4L264.3 196.5L263.6 196.4ZM270.3 196.2L271.3 196.3L271.1 196.5L270.3 196.4ZM263.6 191.0L264.2 191.1L263.9 192.7L265.1 192.6L264.8 193.0L263.5 192.4ZM332.3 185.8L333.8 185.4L333.4 186.1L332.5 186.0ZM326.8 185.6L328.6 185.7L328.4 185.8L326.8 185.7ZM288.5 241.3L289.9 241.7L289.4 241.8L288.5 241.5ZM274.2 239.7L276.0 239.7L275.7 240.1L274.2 240.1Z" fill="#0000ff"/>
<g mask="url(#landmask)">
<path d="M243.3 174.3L242.1 174.3L240.8 174.0L240.0 173.3L239.9 173.0L240.0 172.7L240.7 172.4L241.8 172.2L242.7 172.2L243.4 172.4L244.3 173.0L244.5 173.6L244.2 174.0L243.3 174.3ZM236.8 187.1L236.5 187.0L236.1 186.4L235.8 183.9L235.0 181.4L234.7 180.2L235.0 178.6L235.4 178.0L235.8 177.8L236.5 177.8L237.2 178.3L238.2 179.6L238.5 180.5L237.9 183.0L238.3 184.9L238.3 185.5L237.7 186.5L236.8 187.1ZM324.7 186.5L323.7 186.6L322.8 186.4L320.6 185.4L319.7 184.6L319.3 183.3L319.2 182.1L319.8 180.2L320.3 179.7L320.9 179.5L321.6 179.7L322.2 180.2L323.9 182.7L324.7 183.1L325.9 183.3L326.6 183.0L327.4 181.1L328.1 180.5L329.0 180.4L331.2 180.8L334.0 179.5L335.3 179.4L336.2 179.9L336.6 180.5L336.0 182.1L336.2 182.8L338.7 183.3L339.8 183.9L339.8 184.3L339.0 184.9L337.8 185.1L337.1 185.0L335.9 184.2L335.3 184.2L330.9 185.5L328.7 185.2L327.8 185.3L326.2 186.0L324.7 186.5ZM253.6 187.4L253.0 187.5L252.4 187.3L251.9 186.7L251.8 186.1L251.9 185.2L252.2 184.3L253.0 183.5L253.6 183.4L256.4 184.5L256.8 184.9L256.9 185.5L256.7 186.2L256.1 186.9L253.6 187.4ZM377.6 202.8L376.7 202.9L373.3 202.1L372.8 201.4L372.6 199.9L372.0 199.5L370.2 199.3L369.5 199.0L368.5 196.7L368.0 196.1L367.1 195.7L366.1 195.7L365.6 196.1L364.7 198.3L364.2 198.8L363.6 199.1L363.0 198.9L362.7 198.5L362.5 197.7L362.7 195.2L363.3 193.9L364.5 193.0L364.6 192.4L363.9 191.4L361.8 190.2L359.9 188.7L359.2 187.7L359.2 187.1L359.6 186.9L360.2 187.0L361.4 187.6L362.3 188.3L363.9 190.2L366.1 191.1L368.0 192.5L368.6 192.3L369.5 191.6L370.5 191.4L371.4 191.7L373.3 192.5L374.8 192.6L375.8 192.8L377.6 193.8L378.6 195.2L378.8 197.0L379.5 198.6L379.7 199.5L379.5 200.8L379.0 201.7L378.4 202.3L377.6 202.8ZM250.5 197.7L249.6 197.9L248.6 197.7L246.1 196.4L245.4 195.8L245.1 195.2L245.0 194.5L245.2 193.9L246.0 193.3L246.8 193.0L249.6 193.1L251.1 192.7L252.0 193.0L254.2 194.0L254.8 194.5L255.0 195.5L254.8 196.1L254.2 196.7L253.6 197.1L252.0 197.2L250.5 197.7ZM257.7 201.4L256.4 201.5L255.5 201.2L254.9 200.8L254.3 199.9L254.4 199.2L254.9 198.5L255.8 198.0L258.0 197.9L259.2 198.1L259.9 198.6L260.2 199.2L259.9 199.9L258.6 201.0L257.7 201.4ZM330.3 206.9L329.3 207.0L327.9 206.1L326.8 205.8L324.7 206.1L322.8 205.8L320.9 205.8L320.1 205.5L319.1 204.6L318.7 204.6L317.8 205.3L317.2 205.5L312.2 205.2L310.9 204.5L309.7 202.7L308.8 202.2L307.8 202.2L306.9 202.7L306.7 203.0L306.7 204.2L306.3 204.5L305.7 204.5L305.0 204.2L304.5 203.6L304.8 203.0L305.7 202.3L305.7 202.0L305.4 201.4L304.7 201.0L303.5 201.3L303.1 201.1L302.9 200.8L303.1 200.5L304.0 199.9L305.0 198.9L306.3 198.4L307.5 198.2L312.2 199.4L314.7 200.3L317.2 200.7L318.7 201.3L319.4 201.3L320.6 200.9L321.6 200.8L322.5 201.0L324.4 201.7L326.5 200.9L330.6 201.0L333.4 201.8L337.1 202.0L338.4 202.6L338.9 203.3L338.5 203.9L337.1 204.5L332.5 204.9L330.3 206.9ZM278.5 225.2L277.9 225.2L277.3 225.0L276.1 223.9L275.9 223.2L275.7 221.1L275.4 220.6L275.1 220.4L273.6 220.4L272.9 220.7L272.0 222.3L271.1 223.1L270.4 223.2L269.8 222.9L268.9 221.7L267.7 218.6L266.0 216.4L265.8 214.4L264.8 213.3L264.6 212.6L265.2 211.1L265.4 209.2L266.1 208.6L267.9 208.0L270.0 205.8L270.7 205.3L271.7 205.2L273.9 205.2L275.8 205.8L276.3 206.4L276.3 208.0L276.4 208.6L277.0 209.0L278.9 209.7L279.5 210.1L280.0 210.8L280.5 212.3L281.0 213.0L282.0 213.4L283.2 213.5L283.8 213.7L285.0 215.8L285.2 216.7L284.8 217.4L284.1 217.7L282.3 218.0L281.7 218.5L281.5 220.4L280.3 223.6L279.5 224.7L278.5 225.2ZM381.1 213.0L379.5 212.9L378.1 212.6L377.3 212.3L376.1 211.5L374.5 211.4L373.8 211.1L373.0 210.4L372.4 209.5L372.2 208.6L372.4 207.7L373.6 206.4L374.2 206.3L376.9 208.9L377.2 209.5L377.4 210.8L377.6 211.1L378.9 211.4L382.9 211.2L383.9 211.5L384.3 212.0L384.2 212.3L383.6 212.7L381.1 213.0ZM328.1 220.2L326.5 220.0L324.3 218.9L323.1 218.1L321.5 216.4L321.1 215.8L321.1 215.1L321.9 213.9L322.0 213.3L321.2 211.7L321.5 211.1L322.8 210.3L323.7 210.0L326.8 209.6L329.7 208.4L330.3 208.7L332.1 210.1L334.0 211.0L334.6 211.6L335.1 212.6L335.4 215.1L335.1 216.1L334.4 217.3L333.6 218.3L332.1 219.4L331.2 219.8L329.7 219.8L328.1 220.2ZM268.5 210.1L269.0 209.5L268.9 209.2L268.3 208.8L267.9 208.8L267.6 209.0L267.3 209.5L267.3 210.1L267.9 210.4L268.5 210.1ZM400.1 218.3L399.2 218.3L398.5 217.9L398.1 217.0L398.0 216.1L398.3 215.4L399.2 214.8L399.8 214.6L400.7 214.6L401.3 214.8L401.8 215.1L402.1 216.1L401.9 216.7L401.3 217.6L400.1 218.3ZM404.8 231.8L404.4 231.7L404.1 231.0L404.2 229.2L403.5 227.8L403.2 226.7L403.2 222.9L403.8 218.6L405.1 216.4L406.0 216.0L406.6 216.3L406.8 216.7L407.7 220.1L407.9 223.2L408.7 226.1L408.7 227.0L408.2 228.4L407.6 229.0L406.3 229.5L405.4 231.3L404.8 231.8ZM392.3 218.6L391.1 218.6L390.2 217.9L390.0 217.0L390.4 216.4L391.1 216.2L392.0 216.2L392.9 216.5L393.5 217.0L393.7 217.3L393.4 217.9L392.3 218.6ZM341.2 219.8L340.9 220.0L340.6 219.9L340.2 219.2L340.2 218.3L340.6 217.7L340.9 217.8L341.3 218.6L341.4 219.2L341.2 219.8ZM271.1 228.3L270.7 228.5L270.1 228.3L269.7 227.9L269.4 227.3L269.5 226.1L270.1 224.9L270.7 224.5L271.7 224.3L273.2 223.2L274.2 223.2L274.8 223.5L275.0 224.2L274.7 224.8L273.9 225.5L272.6 225.7L272.1 226.1L271.1 228.3ZM386.4 229.2L385.1 229.5L384.1 229.2L383.8 228.6L384.0 227.6L384.5 227.1L385.1 226.9L385.8 227.0L386.5 227.3L386.8 227.6L387.0 228.2L386.8 228.9L386.4 229.2Z" fill="#00c8f0" fill-rule="evenodd"/>
<path d="M242.7 173.4L242.4 173.5L241.8 173.3L242.0 173.0L242.4 173.0L242.7 173.2L242.7 173.4ZM329.7 184.3L328.4 184.1L328.1 183.9L327.8 183.4L327.8 182.7L328.0 182.1L328.7 181.5L329.3 181.5L330.0 181.8L330.6 182.4L330.9 183.0L330.8 183.6L330.6 183.9L329.7 184.3ZM322.5 184.0L321.6 183.7L321.2 183.3L321.0 182.7L321.2 182.0L321.9 181.9L322.5 182.6L322.8 183.6L322.8 183.9L322.5 184.0ZM324.7 184.9L323.7 185.0L323.2 184.6L323.4 184.3L324.0 184.3L324.7 184.6L324.7 184.9ZM361.4 188.6L361.1 188.6L361.1 188.5L361.4 188.6ZM377.3 201.2L376.4 201.3L375.5 201.0L374.7 200.5L373.6 199.1L371.4 198.3L370.6 197.7L370.1 196.4L369.7 194.9L369.8 193.3L370.2 192.7L370.8 192.7L372.0 193.8L372.7 194.1L375.2 194.6L377.0 196.0L378.6 199.2L378.6 199.9L378.3 200.5L377.3 201.2ZM249.9 197.1L248.6 196.8L247.7 196.1L247.1 195.2L247.2 194.5L247.4 194.3L248.0 194.1L248.9 194.1L250.8 194.3L251.4 194.6L251.7 195.2L251.6 195.8L250.8 196.7L249.9 197.1ZM257.3 200.9L256.4 200.8L255.6 200.5L255.3 199.9L255.4 199.2L256.1 198.8L256.7 198.6L258.0 198.7L258.6 198.9L258.8 199.2L258.6 199.9L258.1 200.5L257.3 200.9ZM309.4 201.2L307.5 201.4L306.9 201.2L306.3 200.5L306.3 199.9L306.6 199.5L307.2 199.3L308.5 199.5L309.9 200.5L310.0 200.8L309.4 201.2ZM316.3 203.7L315.0 203.9L313.4 203.6L313.0 203.3L312.9 202.7L313.2 202.3L313.8 202.0L316.6 202.0L317.0 202.3L317.1 202.7L316.8 203.3L316.3 203.7ZM324.0 204.6L322.2 204.8L321.1 204.5L320.5 203.6L320.4 203.0L320.7 202.3L321.6 201.9L322.8 202.2L323.6 203.0L324.2 203.9L324.3 204.2L324.0 204.6ZM329.0 204.8L327.8 204.8L326.2 204.2L326.1 203.6L326.4 203.0L326.8 202.6L327.5 202.5L328.7 202.4L329.6 202.7L329.9 203.0L329.9 203.9L329.6 204.5L329.0 204.8ZM278.5 223.9L277.8 223.9L277.3 223.1L277.0 221.7L277.1 220.1L276.9 219.5L276.4 219.2L274.5 219.4L273.6 219.4L270.7 218.4L270.2 217.9L269.8 217.3L268.9 217.1L268.3 216.6L267.4 215.1L267.2 213.6L267.5 212.6L268.2 212.0L270.3 211.1L271.2 210.5L272.0 209.2L272.3 207.5L273.2 206.9L273.9 206.8L274.6 207.0L274.8 207.3L275.2 208.6L275.6 209.2L278.5 210.6L279.2 211.4L279.9 213.3L281.0 214.1L282.8 214.8L283.5 215.8L283.4 216.4L283.1 216.7L281.0 217.2L280.3 217.9L279.9 219.2L280.0 220.8L279.7 222.0L279.2 223.3L278.5 223.9ZM328.1 218.3L327.5 218.4L325.6 217.6L323.4 216.4L322.8 215.8L322.7 215.1L323.3 213.6L323.5 212.0L324.0 211.4L324.7 211.2L329.0 210.8L329.7 211.0L330.1 211.4L330.9 213.3L332.5 212.8L333.1 212.9L333.5 213.3L333.6 213.9L333.6 215.1L333.3 216.1L332.8 217.0L332.5 217.1L332.1 216.9L331.5 215.6L330.9 215.1L330.0 215.7L328.6 217.9L328.1 218.3ZM400.1 216.8L399.6 216.7L399.3 216.4L399.5 215.9L400.1 215.6L400.5 215.8L400.7 216.1L400.4 216.7L400.1 216.8ZM406.6 227.6L405.4 227.8L404.8 227.6L404.3 227.0L404.0 226.1L404.3 221.7L404.8 220.4L405.4 219.9L406.0 220.1L406.3 220.3L406.8 221.4L407.0 224.2L407.5 226.4L407.3 227.2L406.6 227.6Z" fill="#64ffff" fill-rule="evenodd"/>
<path d="M249.9 196.2L248.9 196.1L248.6 195.8L248.6 195.2L249.2 195.0L250.1 195.2L250.3 195.5L250.3 195.8L249.9 196.2ZM377.0 200.3L376.4 200.3L375.8 200.0L374.5 198.5L372.7 198.0L371.7 197.4L371.3 196.4L371.6 195.5L372.1 195.2L372.7 195.1L374.2 195.5L376.4 197.0L377.3 198.2L377.7 198.9L377.6 199.8L377.0 200.3ZM257.3 200.2L256.4 200.2L256.0 199.9L256.1 199.5L256.7 199.2L257.4 199.2L257.8 199.5L257.8 199.9L257.3 200.2ZM274.5 218.9L273.3 218.6L272.2 217.6L271.9 217.0L271.8 215.4L271.6 215.1L270.7 214.7L268.9 215.0L268.5 214.8L268.2 214.2L268.2 213.6L268.6 213.0L271.4 211.5L273.2 209.4L273.9 209.0L274.2 209.1L275.7 210.1L277.3 210.4L278.2 211.0L278.6 211.7L278.9 213.6L280.6 214.8L281.1 215.4L281.1 215.8L280.8 216.1L279.2 217.3L278.2 218.2L276.7 218.2L275.7 218.6L274.5 218.9ZM328.1 216.2L327.2 216.2L326.7 215.8L326.3 213.3L326.4 213.0L327.2 212.9L327.8 213.1L328.4 213.5L328.9 214.2L329.1 214.8L328.8 215.4L328.1 216.2ZM405.7 226.1L405.4 226.1L405.1 225.7L405.1 225.1L405.4 224.7L405.7 225.0L405.9 225.4L405.7 226.1Z" fill="#64ff96" fill-rule="evenodd"/>
</g>
<path d="M254.2 168.7L258.6 168.0L263.6 169.0L264.2 172.1L262.3 173.0L257.3 172.7L254.2 171.2ZM333.4 179.4L336.8 179.2L337.3 181.7L333.7 181.8ZM322.9 170.7L325.2 170.7L325.2 172.9L322.9 172.9ZM313.9 181.1L316.9 180.9L317.1 183.8L314.1 183.9ZM319.2 185.0L323.4 184.8L327.3 185.5L327.2 187.1L319.7 186.9Z" fill="#fff"/>
<rect x="311.85" y="151.50" width="0.7" height="112.30" fill="#5050ff" mask="url(#landmask)"/>
</g>
<g clip-path="url(#frame)">
<path d="M207.4 166.7L210.0 166.2L211.5 166.3L210.0 165.4L208.4 165.0L210.6 164.2L214.5 163.2L217.5 163.4L220.6 163.8L224.3 164.2L226.8 164.6L229.0 164.3L231.5 164.0L234.6 164.4L236.8 164.2L239.3 164.7L241.1 165.1L244.6 165.1L246.1 164.7L248.9 165.4L252.4 165.5L253.3 163.0L254.2 164.3L256.4 164.7L258.9 164.1L261.1 164.6L260.8 166.3L258.6 166.5L258.0 167.4L256.1 168.0L254.5 169.0L253.3 170.2L253.6 171.0L254.5 172.0L257.0 172.4L259.2 173.1L260.9 173.3L260.9 174.6L262.0 175.6L263.0 175.5L263.0 173.6L264.2 172.4L263.9 171.2L263.3 169.7L263.9 168.7L266.4 168.8L267.9 169.6L268.9 170.8L270.1 171.3L271.1 171.0L272.0 170.0L273.6 171.8L274.2 172.7L276.4 173.6L277.4 174.9L276.7 175.5L274.8 176.3L272.0 176.3L270.7 176.5L268.6 178.0L272.1 177.2L271.1 177.7L272.0 178.3L274.2 179.3L274.8 179.0L273.9 179.6L272.3 179.9L271.1 180.3L270.4 179.7L268.6 180.3L268.3 180.9L268.6 181.6L267.6 181.9L266.4 182.2L266.1 182.4L265.8 183.1L265.3 183.4L265.0 184.3L264.8 184.6L265.1 185.6L264.3 186.1L263.3 186.6L262.0 187.5L261.5 188.3L261.5 189.2L262.1 190.7L262.3 191.7L261.7 192.0L261.2 191.1L260.7 190.2L260.6 189.4L259.8 188.9L258.9 189.1L258.0 188.7L256.4 188.8L256.6 189.6L255.2 189.3L253.6 189.1L252.8 189.6L251.5 190.5L251.5 191.4L251.2 193.6L251.6 194.9L252.2 195.7L253.1 196.2L254.9 196.0L255.6 195.5L255.9 194.5L257.3 194.2L258.0 194.3L257.7 195.5L257.2 196.7L257.0 197.7L258.6 197.7L259.8 197.9L260.3 198.6L260.1 200.2L260.0 200.8L260.8 201.7L261.7 202.2L262.6 201.7L263.6 201.9L264.0 202.3L264.8 201.7L265.1 201.1L265.9 200.7L267.0 200.3L267.4 199.9L267.8 200.8L268.4 200.4L269.8 201.0L271.1 201.2L272.3 201.0L273.6 201.0L274.2 201.7L274.5 202.3L275.7 203.3L276.7 203.9L278.5 204.0L279.8 204.7L280.4 205.2L281.0 206.5L280.7 207.7L282.0 208.3L284.5 209.2L286.3 209.5L287.9 210.0L289.1 210.8L290.3 211.1L290.4 212.6L289.1 214.5L288.2 215.8L287.9 218.3L287.3 220.1L286.6 221.4L285.4 222.0L284.1 222.5L282.0 224.2L281.8 225.4L280.7 227.0L279.5 228.6L278.5 229.4L277.3 229.4L275.7 228.9L276.4 230.4L276.7 231.4L274.8 232.0L273.6 232.0L273.4 233.0L271.7 233.2L272.3 234.2L271.7 235.7L270.1 236.7L271.1 237.6L269.8 238.8L269.5 240.3L269.5 241.7L270.7 242.0L268.6 242.0L267.3 241.3L266.1 240.4L265.4 238.8L265.8 237.0L265.1 236.3L266.4 234.5L266.3 232.6L266.4 230.7L267.0 229.5L267.6 227.6L267.6 225.1L268.3 223.2L268.4 220.1L268.4 219.1L267.3 218.3L265.3 217.0L264.6 216.1L263.7 214.2L262.6 212.3L261.6 211.4L261.6 210.5L262.3 209.2L261.8 208.6L262.3 207.3L263.1 206.7L263.9 205.3L264.0 203.9L263.6 203.1L263.3 202.5L262.5 202.3L262.0 203.1L261.1 202.5L260.1 202.3L258.8 201.4L258.7 200.7L257.7 199.5L256.4 199.2L255.2 198.9L254.2 198.0L253.3 197.5L252.0 197.9L250.8 197.5L248.9 196.7L247.7 196.2L246.4 195.2L246.6 194.2L246.3 193.5L245.8 193.0L244.9 192.1L243.9 191.4L243.3 190.3L242.3 189.6L241.8 188.4L240.6 187.8L241.1 188.9L241.9 190.2L242.7 191.4L243.3 192.5L243.9 193.3L243.6 193.4L242.4 192.2L241.1 190.6L240.5 190.2L239.9 188.6L239.2 187.4L238.3 186.4L237.0 186.1L236.2 184.9L235.8 184.1L235.0 182.8L234.7 182.4L234.8 181.4L234.6 180.8L234.9 179.0L234.5 177.5L235.4 177.6L235.2 176.8L234.3 176.3L232.5 175.8L232.1 174.9L230.9 174.0L230.5 173.0L229.3 172.1L228.1 171.2L226.8 171.2L225.2 170.5L223.4 170.2L221.8 170.0L220.3 169.7L218.7 169.5L217.6 170.7L216.5 171.2L215.0 171.8L213.4 172.7L211.8 173.0L212.5 172.2L213.1 171.8L214.3 171.2L213.1 171.0L211.2 171.1L210.9 170.2L209.3 169.8L209.0 169.0L209.7 168.3L211.8 168.0L211.8 167.4L209.7 167.4L208.4 167.3ZM332.3 188.1L333.5 188.1L334.0 187.1L334.6 185.5L334.8 184.8L333.7 184.7L332.5 185.1L331.2 184.8L329.8 184.8L329.0 183.6L328.5 183.0L328.7 182.5L328.4 182.2L327.2 182.2L326.4 182.4L326.8 183.8L326.2 184.9L325.6 184.6L325.3 183.6L324.7 182.8L324.4 181.8L323.7 181.1L322.2 180.5L321.2 179.5L320.7 179.1L319.9 179.4L320.0 180.1L320.9 181.1L322.2 181.8L323.7 182.6L322.8 183.1L322.5 183.8L321.9 183.9L322.2 183.0L321.6 182.6L320.6 181.9L319.4 181.3L318.7 180.7L318.1 180.1L317.2 180.3L316.3 180.8L315.0 180.6L314.1 180.9L314.2 181.5L312.8 182.1L312.2 182.9L311.7 184.2L310.8 184.8L309.4 184.8L308.7 185.2L308.3 184.7L307.5 184.4L306.7 184.6L306.7 183.6L306.3 183.0L306.7 182.1L306.7 181.4L306.4 180.8L307.2 180.4L309.1 180.5L311.0 180.6L311.3 179.9L311.5 179.0L310.8 178.3L309.4 177.8L309.2 177.4L310.3 177.2L311.3 177.3L311.3 176.7L312.3 176.8L313.1 176.3L313.8 175.8L314.4 175.5L315.1 174.7L315.6 174.3L316.6 174.3L317.5 174.2L317.6 173.0L317.3 172.2L318.7 171.7L318.7 172.5L318.6 173.3L319.1 174.0L320.0 173.6L320.9 174.0L323.7 173.5L325.3 173.3L325.4 172.4L325.7 171.8L326.8 172.1L327.4 171.3L326.8 170.7L328.4 170.5L330.9 170.3L329.7 169.9L326.5 170.3L325.5 169.7L325.6 168.7L326.2 167.8L328.0 167.1L327.5 166.6L325.9 166.8L325.3 167.4L324.0 168.0L323.1 168.7L322.9 169.6L323.9 170.2L323.1 171.0L322.5 172.1L322.0 172.6L321.1 173.1L320.2 172.7L319.7 171.8L319.2 171.0L318.7 170.7L317.5 171.3L316.6 171.5L315.7 171.0L315.3 169.9L315.3 169.0L316.3 168.5L317.5 168.0L318.7 167.4L320.0 166.5L320.9 165.5L321.9 164.9L322.8 164.4L324.4 164.0L326.5 163.5L328.4 163.4L330.0 163.4L331.5 163.8L332.8 164.4L334.6 164.6L337.1 165.4L337.8 166.2L336.2 166.5L333.7 166.2L333.7 167.4L335.3 167.8L335.9 167.4L337.1 167.3L339.3 166.3L339.6 164.9L340.9 165.2L341.8 165.5L345.2 164.9L346.2 165.1L348.4 164.7L349.6 164.9L350.2 164.1L353.3 164.5L353.7 163.5L354.9 162.1L357.1 162.2L357.4 163.4L359.3 162.5L361.4 162.5L362.4 161.8L365.5 161.6L366.4 160.9L370.2 160.2L373.3 160.0L375.2 159.6L377.0 159.2L378.3 159.6L382.0 159.9L382.6 160.4L380.8 161.5L382.6 161.8L386.4 162.1L389.2 161.8L392.0 162.2L392.9 163.0L394.5 163.0L395.7 163.0L398.8 162.5L399.5 162.4L403.2 162.5L405.7 163.0L406.9 163.4L410.1 163.4L411.9 163.7L412.6 164.3L416.3 164.2L418.2 164.0L421.9 164.1L424.4 164.7L427.5 165.5L429.7 166.0L430.8 166.4L429.4 167.4L424.5 167.1L423.5 167.4L422.5 168.7L420.7 169.1L418.5 170.2L415.7 170.2L414.4 170.3L414.1 171.2L413.2 171.5L413.8 172.7L413.2 173.5L411.9 174.6L411.0 175.2L409.9 175.8L409.4 174.6L409.2 172.7L409.9 171.8L410.7 171.5L411.9 170.5L413.2 169.9L412.2 169.3L410.1 169.2L408.2 170.7L406.3 170.8L404.8 170.7L402.6 170.6L400.7 170.8L398.5 172.4L397.6 174.0L399.8 174.3L400.3 175.2L399.8 176.5L399.5 177.7L398.5 178.6L397.0 180.2L395.1 180.9L393.9 181.1L393.1 182.1L392.9 183.0L392.7 184.6L392.9 185.5L391.4 186.1L390.9 185.8L391.1 184.6L390.4 184.1L390.0 182.9L387.9 182.1L386.4 183.2L385.6 183.3L386.2 184.2L387.6 184.3L388.6 184.4L387.3 185.2L386.6 185.8L387.3 186.9L388.1 187.9L387.9 188.4L388.2 189.1L387.8 190.2L387.0 191.1L386.7 191.9L385.6 192.7L383.9 193.5L382.9 193.8L381.4 194.2L381.0 194.9L380.6 194.2L379.5 194.2L378.6 194.9L378.1 195.8L378.6 196.9L380.0 198.1L380.3 199.9L380.1 200.5L378.9 201.2L377.6 202.2L377.5 201.2L376.0 200.0L375.1 199.2L374.5 199.9L374.0 201.7L374.7 203.3L375.5 203.4L376.7 204.8L376.7 206.4L377.2 206.8L376.6 206.8L375.3 205.9L374.7 204.5L373.6 202.5L373.7 199.9L373.1 197.4L371.4 197.8L371.0 197.4L371.1 195.8L369.7 194.2L369.4 193.6L368.6 193.9L367.7 194.0L366.4 194.2L366.3 194.9L365.2 195.5L363.5 197.0L362.2 198.0L362.3 199.5L361.9 201.1L360.8 202.2L360.5 202.6L359.9 202.0L359.3 200.5L358.7 198.9L358.0 197.4L357.6 195.8L357.6 194.4L356.1 194.5L355.2 193.7L354.9 193.0L354.2 192.4L353.7 191.8L352.1 191.9L350.5 191.9L348.7 191.7L347.9 191.6L347.6 190.8L346.3 191.1L344.9 190.5L344.0 189.7L343.4 188.8L342.4 188.9L342.1 189.2L342.4 190.2L343.1 190.9L343.6 191.7L343.9 192.2L344.3 192.5L344.6 192.7L345.9 192.6L346.8 191.7L347.3 191.3L347.4 192.1L348.0 192.8L349.0 193.6L349.5 193.7L348.7 194.9L348.2 195.8L346.8 196.5L344.8 197.5L343.1 198.5L341.8 199.2L340.2 199.7L339.3 199.7L338.9 198.6L338.8 197.4L338.1 196.4L337.1 195.2L336.5 194.2L336.2 192.8L335.3 191.7L334.6 190.7L334.0 190.1L333.6 190.3L333.1 190.2L332.5 189.0ZM107.9 188.1L109.1 188.1L109.6 187.1L110.2 185.5L110.4 184.8L109.3 184.7L108.1 185.1L106.8 184.8L105.4 184.8L104.6 183.6L104.1 183.0L104.3 182.5L104.0 182.2L102.8 182.2L102.0 182.4L102.4 183.8L101.8 184.9L101.2 184.6L100.9 183.6L100.3 182.8L100.0 181.8L99.3 181.1L97.8 180.5L96.8 179.5L96.3 179.1L95.5 179.4L95.6 180.1L96.5 181.1L97.8 181.8L99.3 182.6L98.4 183.1L98.1 183.8L97.5 183.9L97.8 183.0L97.2 182.6L96.2 181.9L95.0 181.3L94.3 180.7L93.7 180.1L92.8 180.3L91.9 180.8L90.6 180.6L89.7 180.9L89.8 181.5L88.4 182.1L87.8 182.9L87.3 184.2L86.4 184.8L85.0 184.8L84.3 185.2L83.9 184.7L83.1 184.4L82.3 184.6L82.3 183.6L81.9 183.0L82.3 182.1L82.3 181.4L82.0 180.8L82.8 180.4L84.7 180.5L86.6 180.6L86.9 179.9L87.1 179.0L86.4 178.3L85.0 177.8L84.8 177.4L85.9 177.2L86.9 177.3L86.9 176.7L87.9 176.8L88.7 176.3L89.4 175.8L90.0 175.5L90.7 174.7L91.2 174.3L92.2 174.3L93.1 174.2L93.2 173.0L92.9 172.2L94.3 171.7L94.3 172.5L94.2 173.3L94.7 174.0L95.6 173.6L96.5 174.0L99.3 173.5L100.9 173.3L101.0 172.4L101.3 171.8L102.4 172.1L103.0 171.3L102.4 170.7L104.0 170.5L106.5 170.3L105.3 169.9L102.1 170.3L101.1 169.7L101.2 168.7L101.8 167.8L103.6 167.1L103.1 166.6L101.5 166.8L100.9 167.4L99.6 168.0L98.7 168.7L98.5 169.6L99.5 170.2L98.7 171.0L98.1 172.1L97.6 172.6L96.7 173.1L95.8 172.7L95.3 171.8L94.8 171.0L94.3 170.7L93.1 171.3L92.2 171.5L91.3 171.0L90.9 169.9L90.9 169.0L91.9 168.5L93.1 168.0L94.3 167.4L95.6 166.5L96.5 165.5L97.5 164.9L98.4 164.4L100.0 164.0L102.1 163.5L104.0 163.4L105.6 163.4L107.1 163.8L108.4 164.4L110.2 164.6L112.7 165.4L113.4 166.2L111.8 166.5L109.3 166.2L109.3 167.4L110.9 167.8L111.5 167.4L112.7 167.3L114.9 166.3L115.2 164.9L116.5 165.2L117.4 165.5L120.8 164.9L121.8 165.1L124.0 164.7L125.2 164.9L125.8 164.1L128.9 164.5L129.3 163.5L130.5 162.1L132.7 162.2L133.0 163.4L134.9 162.5L137.0 162.5L138.0 161.8L141.1 161.6L142.0 160.9L145.8 160.2L148.9 160.0L150.8 159.6L152.6 159.2L153.9 159.6L157.6 159.9L158.2 160.4L156.4 161.5L158.2 161.8L162.0 162.1L164.8 161.8L167.6 162.2L168.5 163.0L170.1 163.0L171.3 163.0L174.4 162.5L175.1 162.4L178.8 162.5L181.3 163.0L182.5 163.4L185.7 163.4L187.5 163.7L188.2 164.3L191.9 164.2L193.8 164.0L197.5 164.1L200.0 164.7L203.1 165.5L205.3 166.0L206.4 166.4L205.0 167.4L200.1 167.1L199.1 167.4L198.1 168.7L196.3 169.1L194.1 170.2L191.3 170.2L190.0 170.3L189.7 171.2L188.8 171.5L189.4 172.7L188.8 173.5L187.5 174.6L186.6 175.2L185.5 175.8L185.0 174.6L184.8 172.7L185.5 171.8L186.3 171.5L187.5 170.5L188.8 169.9L187.8 169.3L185.7 169.2L183.8 170.7L181.9 170.8L180.4 170.7L178.2 170.6L176.3 170.8L174.1 172.4L173.2 174.0L175.4 174.3L175.9 175.2L175.4 176.5L175.1 177.7L174.1 178.6L172.6 180.2L170.7 180.9L169.5 181.1L168.7 182.1L168.5 183.0L168.3 184.6L168.5 185.5L167.0 186.1L166.5 185.8L166.7 184.6L166.0 184.1L165.6 182.9L163.5 182.1L162.0 183.2L161.2 183.3L161.8 184.2L163.2 184.3L164.2 184.4L162.9 185.2L162.2 185.8L162.9 186.9L163.7 187.9L163.5 188.4L163.8 189.1L163.4 190.2L162.6 191.1L162.3 191.9L161.2 192.7L159.5 193.5L158.5 193.8L157.0 194.2L156.6 194.9L156.2 194.2L155.1 194.2L154.2 194.9L153.7 195.8L154.2 196.9L155.6 198.1L155.9 199.9L155.7 200.5L154.5 201.2L153.2 202.2L153.1 201.2L151.6 200.0L150.7 199.2L150.1 199.9L149.6 201.7L150.3 203.3L151.1 203.4L152.3 204.8L152.3 206.4L152.8 206.8L152.2 206.8L150.9 205.9L150.3 204.5L149.2 202.5L149.3 199.9L148.7 197.4L147.0 197.8L146.6 197.4L146.7 195.8L145.3 194.2L145.0 193.6L144.2 193.9L143.3 194.0L142.0 194.2L141.9 194.9L140.8 195.5L139.1 197.0L137.8 198.0L137.9 199.5L137.5 201.1L136.4 202.2L136.1 202.6L135.5 202.0L134.9 200.5L134.3 198.9L133.6 197.4L133.2 195.8L133.2 194.4L131.7 194.5L130.8 193.7L130.5 193.0L129.8 192.4L129.3 191.8L127.7 191.9L126.1 191.9L124.3 191.7L123.5 191.6L123.2 190.8L121.9 191.1L120.5 190.5L119.6 189.7L119.0 188.8L118.0 188.9L117.7 189.2L118.0 190.2L118.7 190.9L119.2 191.7L119.5 192.2L119.9 192.5L120.2 192.7L121.5 192.6L122.4 191.7L122.9 191.3L123.0 192.1L123.6 192.8L124.6 193.6L125.1 193.7L124.3 194.9L123.8 195.8L122.4 196.5L120.4 197.5L118.7 198.5L117.4 199.2L115.8 199.7L114.9 199.7L114.5 198.6L114.4 197.4L113.7 196.4L112.7 195.2L112.1 194.2L111.8 192.8L110.9 191.7L110.2 190.7L109.6 190.1L109.2 190.3L108.7 190.2L108.1 189.0ZM332.3 188.1L330.9 188.1L329.7 188.3L327.8 187.9L326.5 187.3L324.7 187.7L324.4 188.6L323.4 188.4L321.9 188.0L320.3 187.1L319.1 186.9L318.6 185.5L319.1 184.6L318.2 184.4L317.2 184.6L315.3 184.7L314.1 184.7L312.2 185.3L311.0 185.8L308.8 185.3L308.3 185.8L306.4 187.4L306.1 188.9L305.0 190.2L304.1 190.5L302.9 191.7L302.2 193.0L301.6 194.5L302.1 195.5L301.9 196.7L301.4 198.4L301.7 199.5L302.7 200.8L303.8 201.7L304.4 203.0L305.3 203.6L306.6 204.5L307.5 204.9L309.1 204.5L311.0 204.7L312.8 203.9L313.8 203.7L315.0 203.7L315.9 205.0L317.2 204.8L318.1 205.3L318.3 206.4L318.0 207.3L317.8 208.3L319.4 209.8L320.0 211.4L320.5 213.0L320.8 214.5L320.0 216.1L319.6 218.3L321.2 221.7L321.6 224.2L322.5 225.5L323.4 227.3L323.7 228.9L324.7 229.4L326.2 228.9L328.2 228.9L329.0 228.6L330.9 227.2L331.8 225.7L332.5 224.5L332.6 223.6L334.3 222.6L334.3 221.1L333.8 220.0L335.1 218.9L336.8 217.6L337.4 216.4L337.4 214.2L336.6 213.0L336.7 211.4L337.1 209.8L338.1 208.8L339.3 207.3L340.9 206.1L342.4 204.2L343.9 201.7L344.2 200.3L342.7 200.6L339.9 201.2L339.2 200.3L338.8 199.5L338.1 198.6L336.8 198.0L336.2 196.4L335.4 194.5L335.1 193.6L334.3 192.7L333.7 191.4L333.1 190.5L332.5 189.0ZM383.1 221.6L383.4 223.9L382.9 224.2L383.9 226.1L384.3 228.6L383.9 229.0L385.8 229.5L389.2 228.8L390.7 227.8L392.6 227.4L394.2 227.3L395.7 228.1L396.8 229.4L397.9 228.2L398.1 229.8L399.2 230.0L399.8 231.4L401.6 231.9L403.4 232.0L404.5 231.2L405.7 231.0L406.5 228.7L407.6 226.7L407.9 225.1L407.6 223.6L406.3 222.3L405.4 221.4L404.5 220.1L403.4 219.2L402.9 217.6L402.8 217.0L401.6 216.4L401.0 214.4L400.5 215.8L400.4 217.3L400.0 218.6L399.2 218.5L398.1 217.6L396.7 217.0L397.3 216.1L397.5 215.3L396.4 215.3L394.8 214.8L394.2 215.3L393.2 215.8L392.9 217.0L391.9 216.7L390.7 216.4L389.8 217.4L388.9 217.9L388.4 218.9L387.6 219.8L386.1 220.3L384.8 220.6L383.6 221.3ZM267.9 158.4L271.1 159.3L276.0 160.4L277.3 161.7L279.2 163.7L279.5 165.6L281.0 167.7L282.9 169.3L284.5 170.1L286.0 169.3L287.4 167.6L291.6 165.8L297.2 163.6L298.5 162.4L300.1 160.7L301.0 159.3L304.1 156.8L296.6 156.2L287.3 155.9L277.9 156.5L271.7 157.1L268.6 157.7ZM200.0 256.5L209.3 256.3L212.5 255.4L221.8 254.9L224.9 254.1L243.6 253.7L246.8 252.9L262.3 252.7L266.1 252.1L268.6 251.0L272.9 248.5L274.8 247.6L275.4 247.7L275.4 252.6L275.1 254.9L277.9 255.8L290.4 255.8L296.0 254.3L302.9 253.1L312.2 252.3L330.3 252.1L331.5 251.5L343.4 251.3L345.2 250.2L347.1 251.3L355.8 251.3L358.9 252.1L361.4 251.6L362.7 249.6L403.8 249.6L408.8 250.6L415.1 252.4L418.2 252.8L418.8 255.6L424.4 255.6L424.4 263.8L200.0 263.8ZM272.0 169.0L271.1 168.3L273.6 166.0L271.1 165.2L269.2 163.7L265.4 162.4L262.3 161.7L256.7 162.0L257.3 162.4L258.6 164.0L260.5 164.3L263.0 165.2L266.1 165.2L266.1 166.2L263.9 167.4L266.7 167.7L269.2 168.7L271.7 169.0ZM238.6 164.0L239.3 162.1L243.0 162.1L247.1 162.1L249.2 163.7L246.8 164.9L243.0 164.9L239.3 164.6ZM262.3 159.9L256.1 159.6L256.1 157.4L263.6 155.9L273.6 156.2L267.3 158.1L264.2 159.0ZM234.0 163.0L234.3 161.2L239.9 160.9L238.0 163.0ZM262.3 161.2L254.9 161.0L254.9 159.9L262.3 160.0ZM246.8 161.2L238.6 161.2L238.6 159.6L246.8 159.6ZM252.4 163.0L248.6 162.4L248.6 161.5L252.4 161.5ZM256.1 162.7L253.0 162.4L253.0 161.5L256.1 161.5ZM262.3 167.7L259.8 169.0L258.0 167.7L258.6 166.5L261.1 166.8ZM318.4 158.1L322.8 159.9L325.9 159.0L329.0 157.7L324.7 157.4L319.7 157.7ZM344.6 163.4L347.7 163.7L349.6 161.5L355.2 159.7L350.8 159.6L346.5 161.5L344.6 162.7ZM369.5 158.4L374.5 159.0L378.3 158.4L374.5 157.1L370.8 157.4ZM340.2 157.4L346.5 157.7L352.7 157.1L346.5 156.6ZM396.4 161.5L400.7 162.1L405.7 160.9L399.5 160.2ZM297.2 166.8L298.5 166.2L302.2 166.2L303.5 166.8L302.9 167.5L301.0 168.1L298.2 167.8ZM308.6 176.5L313.1 175.7L313.3 174.8L312.3 174.3L311.3 173.3L311.0 172.7L311.1 171.8L310.2 171.1L309.1 171.1L308.5 171.8L308.8 172.7L309.1 173.3L310.3 173.8L310.3 174.4L309.2 174.8L309.5 175.4L308.9 175.4L310.3 175.6ZM308.5 175.1L308.3 174.1L308.8 173.5L307.6 173.1L306.0 173.8L306.0 175.3L307.2 175.5ZM393.8 186.4L394.5 185.7L396.4 185.4L397.0 184.9L397.9 184.3L399.2 183.6L399.5 182.4L400.4 181.8L400.7 183.0L400.1 183.9L400.0 185.2L399.5 185.8L398.5 186.0L397.6 186.1L396.7 186.6L396.0 186.2L394.2 188.1L393.4 188.1L393.0 186.9ZM399.5 181.8L400.6 181.1L402.9 180.6L402.3 180.1L400.6 179.3L400.3 180.5ZM400.7 179.0L401.6 178.5L401.3 176.8L401.5 175.4L401.3 174.0L400.9 173.8L400.5 174.9L400.7 176.5L400.6 177.7ZM371.6 204.2L373.0 204.4L374.7 206.1L375.9 207.2L377.3 208.6L378.3 209.5L378.1 211.3L377.3 211.3L376.0 210.1L375.0 208.6L374.0 207.5L373.0 206.2ZM377.8 211.9L379.5 211.5L381.4 211.7L382.4 212.0L383.6 212.5L383.6 213.1L381.4 212.8L379.5 212.5L378.3 212.1ZM380.6 206.4L381.4 206.5L382.6 205.7L384.2 204.3L385.0 203.3L386.4 204.5L385.8 205.0L385.6 206.5L386.4 207.1L385.4 208.0L384.8 209.2L384.5 210.0L383.6 209.8L381.7 209.6L380.8 209.5L380.5 208.0L380.1 207.2ZM386.7 211.1L387.3 211.1L387.3 209.4L387.9 210.6L388.9 210.5L387.7 208.6L389.2 208.2L387.3 207.3L390.0 206.7L390.1 206.8L387.0 207.2L386.7 208.0L386.3 209.2ZM393.9 208.4L394.8 207.9L395.7 208.3L396.7 209.7L397.9 208.6L400.1 209.3L402.9 210.5L404.1 211.4L404.3 212.6L405.7 214.2L403.8 213.9L402.6 212.5L401.6 213.3L400.1 213.4L398.8 212.6L398.2 212.9L398.1 211.1L396.4 210.4L394.8 209.8L394.5 209.4L393.7 208.6ZM342.9 215.1L343.7 217.3L343.1 218.6L342.2 220.8L341.5 223.2L340.4 223.6L339.6 222.3L339.2 221.1L339.9 219.8L339.8 218.3L341.2 217.4L342.1 216.1ZM259.2 194.0L261.7 193.2L264.2 193.9L265.9 195.0L263.9 195.2L263.0 194.2L260.5 193.9ZM275.2 178.0L277.6 175.5L279.2 176.8L279.4 178.3L277.9 178.5L277.3 177.9ZM402.4 233.0L404.6 233.2L404.5 234.5L403.2 234.9L402.6 233.9ZM387.0 197.7L387.4 196.1L388.4 196.1L388.6 197.0L387.9 198.0L389.5 199.5L387.6 199.2ZM388.2 203.3L389.2 202.3L390.4 201.5L391.1 203.1L390.4 204.2L389.5 203.6ZM361.9 201.5L363.3 203.0L362.8 203.8L362.1 203.9ZM265.9 196.1L267.0 195.2L269.2 195.5L269.6 196.1L267.9 196.5L265.9 196.3ZM387.2 193.6L387.6 191.9L388.2 192.1L387.6 193.9ZM379.9 195.7L381.1 195.1L381.4 195.4L380.5 196.3ZM200.0 163.4L201.9 163.0L201.2 163.4L200.0 163.5ZM388.2 201.4L389.5 200.5L390.4 200.8L390.1 201.4L388.9 201.9ZM389.5 214.0L391.4 212.9L390.1 213.0L389.2 213.9ZM383.9 212.8L386.4 213.0L388.9 212.8L388.9 213.1L384.5 213.3L383.9 213.1ZM419.8 229.1L421.0 230.1L421.9 231.1L423.5 231.2L422.5 232.2L421.9 233.4L421.2 233.4L421.3 232.5L420.5 232.1L421.0 230.9ZM419.8 232.9L420.8 233.7L420.0 235.0L418.8 235.7L417.5 236.7L416.0 236.3L417.2 235.1L418.8 233.9ZM235.3 177.5L232.2 176.0L234.4 176.5L234.0 177.1ZM317.4 182.1L318.3 182.1L318.2 183.3L317.5 183.3ZM317.6 180.9L318.1 180.8L318.1 181.8L317.6 181.8ZM319.9 183.9L321.9 183.8L321.7 184.8L320.0 184.2ZM392.0 209.5L393.9 209.6L393.2 210.0L392.0 209.8ZM391.7 206.5L392.3 206.7L392.0 207.7L391.7 207.3ZM404.8 211.1L406.9 210.3L406.9 210.9L405.7 211.5ZM409.4 211.7L411.9 212.6L413.2 214.2L411.9 213.6L410.1 212.6ZM416.0 216.7L416.6 217.0L417.2 218.6L416.6 217.9ZM414.4 220.1L416.3 221.7L415.7 221.4L414.4 220.4ZM422.5 218.6L423.5 218.6L423.5 219.0L422.7 219.0ZM201.2 175.3L203.7 175.1L201.2 175.5ZM209.3 173.6L210.9 173.0L210.6 173.6ZM403.2 180.5L404.5 179.6L405.7 179.0L408.8 176.8L409.8 176.0L408.8 177.1L405.1 179.6L403.2 180.6ZM263.4 196.2L264.7 196.4L264.3 196.5L263.6 196.4ZM270.3 196.2L271.3 196.3L271.1 196.5L270.3 196.4ZM263.6 191.0L264.2 191.1L263.9 192.7L265.1 192.6L264.8 193.0L263.5 192.4ZM332.3 185.8L333.8 185.4L333.4 186.1L332.5 186.0ZM326.8 185.6L328.6 185.7L328.4 185.8L326.8 185.7ZM288.5 241.3L289.9 241.7L289.4 241.8L288.5 241.5ZM274.2 239.7L276.0 239.7L275.7 240.1L274.2 240.1ZM341.5 179.2L342.7 178.6L344.3 178.3L345.2 179.4L344.0 179.9L344.3 181.4L345.2 181.8L345.2 182.7L345.9 183.9L344.0 184.7L342.7 183.9L343.1 182.5L342.1 181.4L341.5 180.8L341.8 179.9ZM329.7 181.8L330.0 180.5L330.9 179.3L332.8 179.0L333.1 179.8L334.3 179.5L335.9 178.3L336.5 179.6L338.1 181.4L334.6 181.8L332.8 181.4L330.3 181.9ZM234.3 166.2L236.8 165.8L238.6 166.2L238.0 166.8L235.5 167.1ZM239.3 169.3L241.1 168.7L243.9 168.7L242.4 169.4L239.9 169.7ZM242.7 171.0L246.1 170.5L246.4 170.7L243.6 171.2ZM251.4 176.1L250.5 174.6L251.1 174.0L252.0 174.9L252.0 176.0ZM254.9 178.5L256.7 177.4L258.6 177.2L259.5 178.6L258.0 178.6L256.1 178.3ZM257.5 181.6L257.3 179.9L259.2 179.0L258.9 180.2L258.3 181.6ZM259.5 179.1L261.4 179.3L262.3 179.9L260.8 180.8L260.2 180.2ZM260.2 181.8L263.0 180.9L262.6 181.1L260.8 181.8ZM262.5 180.6L264.7 180.1L264.5 180.6ZM376.7 175.5L377.6 174.9L379.5 174.0L380.5 172.9L380.0 173.0L378.6 174.6L377.0 175.3ZM358.0 179.0L361.4 178.6L361.1 179.3L358.6 179.6ZM348.7 179.9L350.5 178.6L350.2 180.2L349.0 180.4ZM332.0 208.3L333.4 207.8L333.4 209.2L332.5 209.2ZM330.4 209.8L330.9 210.1L331.5 213.0L331.2 213.0L330.6 211.7ZM333.4 213.6L334.0 215.1L333.8 216.6L333.6 215.4ZM330.9 170.2L332.5 169.5L332.8 169.9L331.5 170.2ZM333.7 169.6L334.6 168.5L334.6 169.3Z" fill="none" stroke="#000" stroke-width="0.6" stroke-linejoin="round"/>
</g>
<path d="M200.00 263.80V151.50H424.40V263.80" fill="none" stroke="#000" stroke-width="1"/>
<path d="M199.50 263.50H424.90" fill="none" stroke="#000" stroke-width="0.65"/>
<path d="M200.00 151.50v-4.00M200.00 263.80v4.00M206.23 151.50v-2.00M206.23 263.80v2.00M212.47 151.50v-2.00M212.47 263.80v2.00M218.70 151.50v-4.00M218.70 263.80v4.00M224.93 151.50v-2.00M224.93 263.80v2.00M231.17 151.50v-2.00M231.17 263.80v2.00M237.40 151.50v-4.00M237.40 263.80v4.00M243.63 151.50v-2.00M243.63 263.80v2.00M249.87 151.50v-2.00M249.87 263.80v2.00M256.10 151.50v-4.00M256.10 263.80v4.00M262.33 151.50v-2.00M262.33 263.80v2.00M268.57 151.50v-2.00M268.57 263.80v2.00M274.80 151.50v-4.00M274.80 263.80v4.00M281.03 151.50v-2.00M281.03 263.80v2.00M287.27 151.50v-2.00M287.27 263.80v2.00M293.50 151.50v-4.00M293.50 263.80v4.00M299.73 151.50v-2.00M299.73 263.80v2.00M305.97 151.50v-2.00M305.97 263.80v2.00M312.20 151.50v-4.00M312.20 263.80v4.00M318.43 151.50v-2.00M318.43 263.80v2.00M324.67 151.50v-2.00M324.67 263.80v2.00M330.90 151.50v-4.00M330.90 263.80v4.00M337.13 151.50v-2.00M337.13 263.80v2.00M343.37 151.50v-2.00M343.37 263.80v2.00M349.60 151.50v-4.00M349.60 263.80v4.00M355.83 151.50v-2.00M355.83 263.80v2.00M362.07 151.50v-2.00M362.07 263.80v2.00M368.30 151.50v-4.00M368.30 263.80v4.00M374.53 151.50v-2.00M374.53 263.80v2.00M380.77 151.50v-2.00M380.77 263.80v2.00M387.00 151.50v-4.00M387.00 263.80v4.00M393.23 151.50v-2.00M393.23 263.80v2.00M399.47 151.50v-2.00M399.47 263.80v2.00M405.70 151.50v-4.00M405.70 263.80v4.00M411.93 151.50v-2.00M411.93 263.80v2.00M418.17 151.50v-2.00M418.17 263.80v2.00M424.40 151.50v-4.00M424.40 263.80v4.00M200.00 263.80h-4.00M424.40 263.80h4.00M200.00 257.56h-2.00M424.40 257.56h2.00M200.00 251.32h-2.00M424.40 251.32h2.00M200.00 245.08h-4.00M424.40 245.08h4.00M200.00 238.84h-2.00M424.40 238.84h2.00M200.00 232.61h-2.00M424.40 232.61h2.00M200.00 226.37h-4.00M424.40 226.37h4.00M200.00 220.13h-2.00M424.40 220.13h2.00M200.00 213.89h-2.00M424.40 213.89h2.00M200.00 207.65h-4.00M424.40 207.65h4.00M200.00 201.41h-2.00M424.40 201.41h2.00M200.00 195.17h-2.00M424.40 195.17h2.00M200.00 188.93h-4.00M424.40 188.93h4.00M200.00 182.69h-2.00M424.40 182.69h2.00M200.00 176.46h-2.00M424.40 176.46h2.00M200.00 170.22h-4.00M424.40 170.22h4.00M200.00 163.98h-2.00M424.40 163.98h2.00M200.00 157.74h-2.00M424.40 157.74h2.00M200.00 151.50h-4.00M424.40 151.50h4.00" stroke="#000" stroke-width="0.85" fill="none"/>
<text transform="translate(200.00,275.2) scale(0.9,1)" text-anchor="middle" class="s">180</text>
<text transform="translate(218.70,275.2) scale(0.9,1)" text-anchor="middle" class="s">150W</text>
<text transform="translate(237.40,275.2) scale(0.9,1)" text-anchor="middle" class="s">120W</text>
<text transform="translate(256.10,275.2) scale(0.9,1)" text-anchor="middle" class="s">90W</text>
<text transform="translate(274.80,275.2) scale(0.9,1)" text-anchor="middle" class="s">60W</text>
<text transform="translate(293.50,275.2) scale(0.9,1)" text-anchor="middle" class="s">30W</text>
<text transform="translate(312.20,275.2) scale(0.9,1)" text-anchor="middle" class="s">0</text>
<text transform="translate(330.90,275.2) scale(0.9,1)" text-anchor="middle" class="s">30E</text>
<text transform="translate(349.60,275.2) scale(0.9,1)" text-anchor="middle" class="s">60E</text>
<text transform="translate(368.30,275.2) scale(0.9,1)" text-anchor="middle" class="s">90E</text>
<text transform="translate(387.00,275.2) scale(0.9,1)" text-anchor="middle" class="s">120E</text>
<text transform="translate(405.70,275.2) scale(0.9,1)" text-anchor="middle" class="s">150E</text>
<text transform="translate(424.40,275.2) scale(0.9,1)" text-anchor="middle" class="s">180</text>
<text transform="translate(193.2,153.60) scale(0.9,1)" text-anchor="end" class="s">90N</text>
<text transform="translate(193.2,172.32) scale(0.9,1)" text-anchor="end" class="s">60N</text>
<text transform="translate(193.2,191.03) scale(0.9,1)" text-anchor="end" class="s">30N</text>
<text transform="translate(193.2,209.75) scale(0.9,1)" text-anchor="end" class="s">0</text>
<text transform="translate(193.2,228.47) scale(0.9,1)" text-anchor="end" class="s">30S</text>
<text transform="translate(193.2,247.18) scale(0.9,1)" text-anchor="end" class="s">60S</text>
<text transform="translate(193.2,265.90) scale(0.9,1)" text-anchor="end" class="s">90S</text>
<text x="312" y="134.2" text-anchor="middle" font-size="8.3" font-weight="bold">Model CN</text>
<text x="199.9" y="145.9" class="m">total column-level fire C loss</text>
<text x="424.6" y="145.9" text-anchor="end" class="m">gC/m2/yr</text>
<rect x="229.40" y="278.85" width="15.00" height="9.85" fill="#0000ff"/>
<rect x="244.40" y="278.85" width="15.00" height="9.85" fill="#00c8f0"/>
<rect x="259.40" y="278.85" width="15.00" height="9.85" fill="#64ffff"/>
<rect x="274.40" y="278.85" width="15.00" height="9.85" fill="#64ff96"/>
<rect x="289.40" y="278.85" width="15.00" height="9.85" fill="#28f000"/>
<rect x="304.40" y="278.85" width="15.00" height="9.85" fill="#dcf000"/>
<rect x="319.40" y="278.85" width="15.00" height="9.85" fill="#ffff00"/>
<rect x="334.40" y="278.85" width="15.00" height="9.85" fill="#ffc800"/>
<rect x="349.40" y="278.85" width="15.00" height="9.85" fill="#ff8200"/>
<rect x="364.40" y="278.85" width="15.00" height="9.85" fill="#ff3c00"/>
<rect x="379.40" y="278.85" width="15.00" height="9.85" fill="#ff0000"/>
<path d="M229.40 278.85v9.85M244.40 278.85v9.85M259.40 278.85v9.85M274.40 278.85v9.85M289.40 278.85v9.85M304.40 278.85v9.85M319.40 278.85v9.85M334.40 278.85v9.85M349.40 278.85v9.85M364.40 278.85v9.85M379.40 278.85v9.85M394.40 278.85v9.85M229.40 278.85h165.00M229.40 288.70h165.00" stroke="#000" stroke-width="0.7" fill="none"/>
<text transform="translate(244.40,295.9) scale(0.9,1)" text-anchor="middle" class="s">10</text>
<text transform="translate(259.40,295.9) scale(0.9,1)" text-anchor="middle" class="s">20</text>
<text transform="translate(274.40,295.9) scale(0.9,1)" text-anchor="middle" class="s">30</text>
<text transform="translate(289.40,295.9) scale(0.9,1)" text-anchor="middle" class="s">40</text>
<text transform="translate(304.40,295.9) scale(0.9,1)" text-anchor="middle" class="s">50</text>
<text transform="translate(319.40,295.9) scale(0.9,1)" text-anchor="middle" class="s">60</text>
<text transform="translate(334.40,295.9) scale(0.9,1)" text-anchor="middle" class="s">70</text>
<text transform="translate(349.40,295.9) scale(0.9,1)" text-anchor="middle" class="s">80</text>
<text transform="translate(364.40,295.9) scale(0.9,1)" text-anchor="middle" class="s">90</text>
<text transform="translate(379.40,295.9) scale(0.9,1)" text-anchor="middle" class="s">100</text>
</g>
<g transform="translate(0,360)">
<g clip-path="url(#fill)">
<path d="M207.4 166.7L210.0 166.2L211.5 166.3L210.0 165.4L208.4 165.0L210.6 164.2L214.5 163.2L217.5 163.4L220.6 163.8L224.3 164.2L226.8 164.6L229.0 164.3L231.5 164.0L234.6 164.4L236.8 164.2L239.3 164.7L241.1 165.1L244.6 165.1L246.1 164.7L248.9 165.4L252.4 165.5L253.3 163.0L254.2 164.3L256.4 164.7L258.9 164.1L261.1 164.6L260.8 166.3L258.6 166.5L258.0 167.4L256.1 168.0L254.5 169.0L253.3 170.2L253.6 171.0L254.5 172.0L257.0 172.4L259.2 173.1L260.9 173.3L260.9 174.6L262.0 175.6L263.0 175.5L263.0 173.6L264.2 172.4L263.9 171.2L263.3 169.7L263.9 168.7L266.4 168.8L267.9 169.6L268.9 170.8L270.1 171.3L271.1 171.0L272.0 170.0L273.6 171.8L274.2 172.7L276.4 173.6L277.4 174.9L276.7 175.5L274.8 176.3L272.0 176.3L270.7 176.5L268.6 178.0L272.1 177.2L271.1 177.7L272.0 178.3L274.2 179.3L274.8 179.0L273.9 179.6L272.3 179.9L271.1 180.3L270.4 179.7L268.6 180.3L268.3 180.9L268.6 181.6L267.6 181.9L266.4 182.2L266.1 182.4L265.8 183.1L265.3 183.4L265.0 184.3L264.8 184.6L265.1 185.6L264.3 186.1L263.3 186.6L262.0 187.5L261.5 188.3L261.5 189.2L262.1 190.7L262.3 191.7L261.7 192.0L261.2 191.1L260.7 190.2L260.6 189.4L259.8 188.9L258.9 189.1L258.0 188.7L256.4 188.8L256.6 189.6L255.2 189.3L253.6 189.1L252.8 189.6L251.5 190.5L251.5 191.4L251.2 193.6L251.6 194.9L252.2 195.7L253.1 196.2L254.9 196.0L255.6 195.5L255.9 194.5L257.3 194.2L258.0 194.3L257.7 195.5L257.2 196.7L257.0 197.7L258.6 197.7L259.8 197.9L260.3 198.6L260.1 200.2L260.0 200.8L260.8 201.7L261.7 202.2L262.6 201.7L263.6 201.9L264.0 202.3L264.8 201.7L265.1 201.1L265.9 200.7L267.0 200.3L267.4 199.9L267.8 200.8L268.4 200.4L269.8 201.0L271.1 201.2L272.3 201.0L273.6 201.0L274.2 201.7L274.5 202.3L275.7 203.3L276.7 203.9L278.5 204.0L279.8 204.7L280.4 205.2L281.0 206.5L280.7 207.7L282.0 208.3L284.5 209.2L286.3 209.5L287.9 210.0L289.1 210.8L290.3 211.1L290.4 212.6L289.1 214.5L288.2 215.8L287.9 218.3L287.3 220.1L286.6 221.4L285.4 222.0L284.1 222.5L282.0 224.2L281.8 225.4L280.7 227.0L279.5 228.6L278.5 229.4L277.3 229.4L275.7 228.9L276.4 230.4L276.7 231.4L274.8 232.0L273.6 232.0L273.4 233.0L271.7 233.2L272.3 234.2L271.7 235.7L270.1 236.7L271.1 237.6L269.8 238.8L269.5 240.3L269.5 241.7L270.7 242.0L268.6 242.0L267.3 241.3L266.1 240.4L265.4 238.8L265.8 237.0L265.1 236.3L266.4 234.5L266.3 232.6L266.4 230.7L267.0 229.5L267.6 227.6L267.6 225.1L268.3 223.2L268.4 220.1L268.4 219.1L267.3 218.3L265.3 217.0L264.6 216.1L263.7 214.2L262.6 212.3L261.6 211.4L261.6 210.5L262.3 209.2L261.8 208.6L262.3 207.3L263.1 206.7L263.9 205.3L264.0 203.9L263.6 203.1L263.3 202.5L262.5 202.3L262.0 203.1L261.1 202.5L260.1 202.3L258.8 201.4L258.7 200.7L257.7 199.5L256.4 199.2L255.2 198.9L254.2 198.0L253.3 197.5L252.0 197.9L250.8 197.5L248.9 196.7L247.7 196.2L246.4 195.2L246.6 194.2L246.3 193.5L245.8 193.0L244.9 192.1L243.9 191.4L243.3 190.3L242.3 189.6L241.8 188.4L240.6 187.8L241.1 188.9L241.9 190.2L242.7 191.4L243.3 192.5L243.9 193.3L243.6 193.4L242.4 192.2L241.1 190.6L240.5 190.2L239.9 188.6L239.2 187.4L238.3 186.4L237.0 186.1L236.2 184.9L235.8 184.1L235.0 182.8L234.7 182.4L234.8 181.4L234.6 180.8L234.9 179.0L234.5 177.5L235.4 177.6L235.2 176.8L234.3 176.3L232.5 175.8L232.1 174.9L230.9 174.0L230.5 173.0L229.3 172.1L228.1 171.2L226.8 171.2L225.2 170.5L223.4 170.2L221.8 170.0L220.3 169.7L218.7 169.5L217.6 170.7L216.5 171.2L215.0 171.8L213.4 172.7L211.8 173.0L212.5 172.2L213.1 171.8L214.3 171.2L213.1 171.0L211.2 171.1L210.9 170.2L209.3 169.8L209.0 169.0L209.7 168.3L211.8 168.0L211.8 167.4L209.7 167.4L208.4 167.3ZM332.3 188.1L333.5 188.1L334.0 187.1L334.6 185.5L334.8 184.8L333.7 184.7L332.5 185.1L331.2 184.8L329.8 184.8L329.0 183.6L328.5 183.0L328.7 182.5L328.4 182.2L327.2 182.2L326.4 182.4L326.8 183.8L326.2 184.9L325.6 184.6L325.3 183.6L324.7 182.8L324.4 181.8L323.7 181.1L322.2 180.5L321.2 179.5L320.7 179.1L319.9 179.4L320.0 180.1L320.9 181.1L322.2 181.8L323.7 182.6L322.8 183.1L322.5 183.8L321.9 183.9L322.2 183.0L321.6 182.6L320.6 181.9L319.4 181.3L318.7 180.7L318.1 180.1L317.2 180.3L316.3 180.8L315.0 180.6L314.1 180.9L314.2 181.5L312.8 182.1L312.2 182.9L311.7 184.2L310.8 184.8L309.4 184.8L308.7 185.2L308.3 184.7L307.5 184.4L306.7 184.6L306.7 183.6L306.3 183.0L306.7 182.1L306.7 181.4L306.4 180.8L307.2 180.4L309.1 180.5L311.0 180.6L311.3 179.9L311.5 179.0L310.8 178.3L309.4 177.8L309.2 177.4L310.3 177.2L311.3 177.3L311.3 176.7L312.3 176.8L313.1 176.3L313.8 175.8L314.4 175.5L315.1 174.7L315.6 174.3L316.6 174.3L317.5 174.2L317.6 173.0L317.3 172.2L318.7 171.7L318.7 172.5L318.6 173.3L319.1 174.0L320.0 173.6L320.9 174.0L323.7 173.5L325.3 173.3L325.4 172.4L325.7 171.8L326.8 172.1L327.4 171.3L326.8 170.7L328.4 170.5L330.9 170.3L329.7 169.9L326.5 170.3L325.5 169.7L325.6 168.7L326.2 167.8L328.0 167.1L327.5 166.6L325.9 166.8L325.3 167.4L324.0 168.0L323.1 168.7L322.9 169.6L323.9 170.2L323.1 171.0L322.5 172.1L322.0 172.6L321.1 173.1L320.2 172.7L319.7 171.8L319.2 171.0L318.7 170.7L317.5 171.3L316.6 171.5L315.7 171.0L315.3 169.9L315.3 169.0L316.3 168.5L317.5 168.0L318.7 167.4L320.0 166.5L320.9 165.5L321.9 164.9L322.8 164.4L324.4 164.0L326.5 163.5L328.4 163.4L330.0 163.4L331.5 163.8L332.8 164.4L334.6 164.6L337.1 165.4L337.8 166.2L336.2 166.5L333.7 166.2L333.7 167.4L335.3 167.8L335.9 167.4L337.1 167.3L339.3 166.3L339.6 164.9L340.9 165.2L341.8 165.5L345.2 164.9L346.2 165.1L348.4 164.7L349.6 164.9L350.2 164.1L353.3 164.5L353.7 163.5L354.9 162.1L357.1 162.2L357.4 163.4L359.3 162.5L361.4 162.5L362.4 161.8L365.5 161.6L366.4 160.9L370.2 160.2L373.3 160.0L375.2 159.6L377.0 159.2L378.3 159.6L382.0 159.9L382.6 160.4L380.8 161.5L382.6 161.8L386.4 162.1L389.2 161.8L392.0 162.2L392.9 163.0L394.5 163.0L395.7 163.0L398.8 162.5L399.5 162.4L403.2 162.5L405.7 163.0L406.9 163.4L410.1 163.4L411.9 163.7L412.6 164.3L416.3 164.2L418.2 164.0L421.9 164.1L424.4 164.7L427.5 165.5L429.7 166.0L430.8 166.4L429.4 167.4L424.5 167.1L423.5 167.4L422.5 168.7L420.7 169.1L418.5 170.2L415.7 170.2L414.4 170.3L414.1 171.2L413.2 171.5L413.8 172.7L413.2 173.5L411.9 174.6L411.0 175.2L409.9 175.8L409.4 174.6L409.2 172.7L409.9 171.8L410.7 171.5L411.9 170.5L413.2 169.9L412.2 169.3L410.1 169.2L408.2 170.7L406.3 170.8L404.8 170.7L402.6 170.6L400.7 170.8L398.5 172.4L397.6 174.0L399.8 174.3L400.3 175.2L399.8 176.5L399.5 177.7L398.5 178.6L397.0 180.2L395.1 180.9L393.9 181.1L393.1 182.1L392.9 183.0L392.7 184.6L392.9 185.5L391.4 186.1L390.9 185.8L391.1 184.6L390.4 184.1L390.0 182.9L387.9 182.1L386.4 183.2L385.6 183.3L386.2 184.2L387.6 184.3L388.6 184.4L387.3 185.2L386.6 185.8L387.3 186.9L388.1 187.9L387.9 188.4L388.2 189.1L387.8 190.2L387.0 191.1L386.7 191.9L385.6 192.7L383.9 193.5L382.9 193.8L381.4 194.2L381.0 194.9L380.6 194.2L379.5 194.2L378.6 194.9L378.1 195.8L378.6 196.9L380.0 198.1L380.3 199.9L380.1 200.5L378.9 201.2L377.6 202.2L377.5 201.2L376.0 200.0L375.1 199.2L374.5 199.9L374.0 201.7L374.7 203.3L375.5 203.4L376.7 204.8L376.7 206.4L377.2 206.8L376.6 206.8L375.3 205.9L374.7 204.5L373.6 202.5L373.7 199.9L373.1 197.4L371.4 197.8L371.0 197.4L371.1 195.8L369.7 194.2L369.4 193.6L368.6 193.9L367.7 194.0L366.4 194.2L366.3 194.9L365.2 195.5L363.5 197.0L362.2 198.0L362.3 199.5L361.9 201.1L360.8 202.2L360.5 202.6L359.9 202.0L359.3 200.5L358.7 198.9L358.0 197.4L357.6 195.8L357.6 194.4L356.1 194.5L355.2 193.7L354.9 193.0L354.2 192.4L353.7 191.8L352.1 191.9L350.5 191.9L348.7 191.7L347.9 191.6L347.6 190.8L346.3 191.1L344.9 190.5L344.0 189.7L343.4 188.8L342.4 188.9L342.1 189.2L342.4 190.2L343.1 190.9L343.6 191.7L343.9 192.2L344.3 192.5L344.6 192.7L345.9 192.6L346.8 191.7L347.3 191.3L347.4 192.1L348.0 192.8L349.0 193.6L349.5 193.7L348.7 194.9L348.2 195.8L346.8 196.5L344.8 197.5L343.1 198.5L341.8 199.2L340.2 199.7L339.3 199.7L338.9 198.6L338.8 197.4L338.1 196.4L337.1 195.2L336.5 194.2L336.2 192.8L335.3 191.7L334.6 190.7L334.0 190.1L333.6 190.3L333.1 190.2L332.5 189.0ZM107.9 188.1L109.1 188.1L109.6 187.1L110.2 185.5L110.4 184.8L109.3 184.7L108.1 185.1L106.8 184.8L105.4 184.8L104.6 183.6L104.1 183.0L104.3 182.5L104.0 182.2L102.8 182.2L102.0 182.4L102.4 183.8L101.8 184.9L101.2 184.6L100.9 183.6L100.3 182.8L100.0 181.8L99.3 181.1L97.8 180.5L96.8 179.5L96.3 179.1L95.5 179.4L95.6 180.1L96.5 181.1L97.8 181.8L99.3 182.6L98.4 183.1L98.1 183.8L97.5 183.9L97.8 183.0L97.2 182.6L96.2 181.9L95.0 181.3L94.3 180.7L93.7 180.1L92.8 180.3L91.9 180.8L90.6 180.6L89.7 180.9L89.8 181.5L88.4 182.1L87.8 182.9L87.3 184.2L86.4 184.8L85.0 184.8L84.3 185.2L83.9 184.7L83.1 184.4L82.3 184.6L82.3 183.6L81.9 183.0L82.3 182.1L82.3 181.4L82.0 180.8L82.8 180.4L84.7 180.5L86.6 180.6L86.9 179.9L87.1 179.0L86.4 178.3L85.0 177.8L84.8 177.4L85.9 177.2L86.9 177.3L86.9 176.7L87.9 176.8L88.7 176.3L89.4 175.8L90.0 175.5L90.7 174.7L91.2 174.3L92.2 174.3L93.1 174.2L93.2 173.0L92.9 172.2L94.3 171.7L94.3 172.5L94.2 173.3L94.7 174.0L95.6 173.6L96.5 174.0L99.3 173.5L100.9 173.3L101.0 172.4L101.3 171.8L102.4 172.1L103.0 171.3L102.4 170.7L104.0 170.5L106.5 170.3L105.3 169.9L102.1 170.3L101.1 169.7L101.2 168.7L101.8 167.8L103.6 167.1L103.1 166.6L101.5 166.8L100.9 167.4L99.6 168.0L98.7 168.7L98.5 169.6L99.5 170.2L98.7 171.0L98.1 172.1L97.6 172.6L96.7 173.1L95.8 172.7L95.3 171.8L94.8 171.0L94.3 170.7L93.1 171.3L92.2 171.5L91.3 171.0L90.9 169.9L90.9 169.0L91.9 168.5L93.1 168.0L94.3 167.4L95.6 166.5L96.5 165.5L97.5 164.9L98.4 164.4L100.0 164.0L102.1 163.5L104.0 163.4L105.6 163.4L107.1 163.8L108.4 164.4L110.2 164.6L112.7 165.4L113.4 166.2L111.8 166.5L109.3 166.2L109.3 167.4L110.9 167.8L111.5 167.4L112.7 167.3L114.9 166.3L115.2 164.9L116.5 165.2L117.4 165.5L120.8 164.9L121.8 165.1L124.0 164.7L125.2 164.9L125.8 164.1L128.9 164.5L129.3 163.5L130.5 162.1L132.7 162.2L133.0 163.4L134.9 162.5L137.0 162.5L138.0 161.8L141.1 161.6L142.0 160.9L145.8 160.2L148.9 160.0L150.8 159.6L152.6 159.2L153.9 159.6L157.6 159.9L158.2 160.4L156.4 161.5L158.2 161.8L162.0 162.1L164.8 161.8L167.6 162.2L168.5 163.0L170.1 163.0L171.3 163.0L174.4 162.5L175.1 162.4L178.8 162.5L181.3 163.0L182.5 163.4L185.7 163.4L187.5 163.7L188.2 164.3L191.9 164.2L193.8 164.0L197.5 164.1L200.0 164.7L203.1 165.5L205.3 166.0L206.4 166.4L205.0 167.4L200.1 167.1L199.1 167.4L198.1 168.7L196.3 169.1L194.1 170.2L191.3 170.2L190.0 170.3L189.7 171.2L188.8 171.5L189.4 172.7L188.8 173.5L187.5 174.6L186.6 175.2L185.5 175.8L185.0 174.6L184.8 172.7L185.5 171.8L186.3 171.5L187.5 170.5L188.8 169.9L187.8 169.3L185.7 169.2L183.8 170.7L181.9 170.8L180.4 170.7L178.2 170.6L176.3 170.8L174.1 172.4L173.2 174.0L175.4 174.3L175.9 175.2L175.4 176.5L175.1 177.7L174.1 178.6L172.6 180.2L170.7 180.9L169.5 181.1L168.7 182.1L168.5 183.0L168.3 184.6L168.5 185.5L167.0 186.1L166.5 185.8L166.7 184.6L166.0 184.1L165.6 182.9L163.5 182.1L162.0 183.2L161.2 183.3L161.8 184.2L163.2 184.3L164.2 184.4L162.9 185.2L162.2 185.8L162.9 186.9L163.7 187.9L163.5 188.4L163.8 189.1L163.4 190.2L162.6 191.1L162.3 191.9L161.2 192.7L159.5 193.5L158.5 193.8L157.0 194.2L156.6 194.9L156.2 194.2L155.1 194.2L154.2 194.9L153.7 195.8L154.2 196.9L155.6 198.1L155.9 199.9L155.7 200.5L154.5 201.2L153.2 202.2L153.1 201.2L151.6 200.0L150.7 199.2L150.1 199.9L149.6 201.7L150.3 203.3L151.1 203.4L152.3 204.8L152.3 206.4L152.8 206.8L152.2 206.8L150.9 205.9L150.3 204.5L149.2 202.5L149.3 199.9L148.7 197.4L147.0 197.8L146.6 197.4L146.7 195.8L145.3 194.2L145.0 193.6L144.2 193.9L143.3 194.0L142.0 194.2L141.9 194.9L140.8 195.5L139.1 197.0L137.8 198.0L137.9 199.5L137.5 201.1L136.4 202.2L136.1 202.6L135.5 202.0L134.9 200.5L134.3 198.9L133.6 197.4L133.2 195.8L133.2 194.4L131.7 194.5L130.8 193.7L130.5 193.0L129.8 192.4L129.3 191.8L127.7 191.9L126.1 191.9L124.3 191.7L123.5 191.6L123.2 190.8L121.9 191.1L120.5 190.5L119.6 189.7L119.0 188.8L118.0 188.9L117.7 189.2L118.0 190.2L118.7 190.9L119.2 191.7L119.5 192.2L119.9 192.5L120.2 192.7L121.5 192.6L122.4 191.7L122.9 191.3L123.0 192.1L123.6 192.8L124.6 193.6L125.1 193.7L124.3 194.9L123.8 195.8L122.4 196.5L120.4 197.5L118.7 198.5L117.4 199.2L115.8 199.7L114.9 199.7L114.5 198.6L114.4 197.4L113.7 196.4L112.7 195.2L112.1 194.2L111.8 192.8L110.9 191.7L110.2 190.7L109.6 190.1L109.2 190.3L108.7 190.2L108.1 189.0ZM332.3 188.1L330.9 188.1L329.7 188.3L327.8 187.9L326.5 187.3L324.7 187.7L324.4 188.6L323.4 188.4L321.9 188.0L320.3 187.1L319.1 186.9L318.6 185.5L319.1 184.6L318.2 184.4L317.2 184.6L315.3 184.7L314.1 184.7L312.2 185.3L311.0 185.8L308.8 185.3L308.3 185.8L306.4 187.4L306.1 188.9L305.0 190.2L304.1 190.5L302.9 191.7L302.2 193.0L301.6 194.5L302.1 195.5L301.9 196.7L301.4 198.4L301.7 199.5L302.7 200.8L303.8 201.7L304.4 203.0L305.3 203.6L306.6 204.5L307.5 204.9L309.1 204.5L311.0 204.7L312.8 203.9L313.8 203.7L315.0 203.7L315.9 205.0L317.2 204.8L318.1 205.3L318.3 206.4L318.0 207.3L317.8 208.3L319.4 209.8L320.0 211.4L320.5 213.0L320.8 214.5L320.0 216.1L319.6 218.3L321.2 221.7L321.6 224.2L322.5 225.5L323.4 227.3L323.7 228.9L324.7 229.4L326.2 228.9L328.2 228.9L329.0 228.6L330.9 227.2L331.8 225.7L332.5 224.5L332.6 223.6L334.3 222.6L334.3 221.1L333.8 220.0L335.1 218.9L336.8 217.6L337.4 216.4L337.4 214.2L336.6 213.0L336.7 211.4L337.1 209.8L338.1 208.8L339.3 207.3L340.9 206.1L342.4 204.2L343.9 201.7L344.2 200.3L342.7 200.6L339.9 201.2L339.2 200.3L338.8 199.5L338.1 198.6L336.8 198.0L336.2 196.4L335.4 194.5L335.1 193.6L334.3 192.7L333.7 191.4L333.1 190.5L332.5 189.0ZM383.1 221.6L383.4 223.9L382.9 224.2L383.9 226.1L384.3 228.6L383.9 229.0L385.8 229.5L389.2 228.8L390.7 227.8L392.6 227.4L394.2 227.3L395.7 228.1L396.8 229.4L397.9 228.2L398.1 229.8L399.2 230.0L399.8 231.4L401.6 231.9L403.4 232.0L404.5 231.2L405.7 231.0L406.5 228.7L407.6 226.7L407.9 225.1L407.6 223.6L406.3 222.3L405.4 221.4L404.5 220.1L403.4 219.2L402.9 217.6L402.8 217.0L401.6 216.4L401.0 214.4L400.5 215.8L400.4 217.3L400.0 218.6L399.2 218.5L398.1 217.6L396.7 217.0L397.3 216.1L397.5 215.3L396.4 215.3L394.8 214.8L394.2 215.3L393.2 215.8L392.9 217.0L391.9 216.7L390.7 216.4L389.8 217.4L388.9 217.9L388.4 218.9L387.6 219.8L386.1 220.3L384.8 220.6L383.6 221.3ZM267.9 158.4L271.1 159.3L276.0 160.4L277.3 161.7L279.2 163.7L279.5 165.6L281.0 167.7L282.9 169.3L284.5 170.1L286.0 169.3L287.4 167.6L291.6 165.8L297.2 163.6L298.5 162.4L300.1 160.7L301.0 159.3L304.1 156.8L296.6 156.2L287.3 155.9L277.9 156.5L271.7 157.1L268.6 157.7ZM200.0 256.5L209.3 256.3L212.5 255.4L221.8 254.9L224.9 254.1L243.6 253.7L246.8 252.9L262.3 252.7L266.1 252.1L268.6 251.0L272.9 248.5L274.8 247.6L275.4 247.7L275.4 252.6L275.1 254.9L277.9 255.8L290.4 255.8L296.0 254.3L302.9 253.1L312.2 252.3L330.3 252.1L331.5 251.5L343.4 251.3L345.2 250.2L347.1 251.3L355.8 251.3L358.9 252.1L361.4 251.6L362.7 249.6L403.8 249.6L408.8 250.6L415.1 252.4L418.2 252.8L418.8 255.6L424.4 255.6L424.4 263.8L200.0 263.8ZM272.0 169.0L271.1 168.3L273.6 166.0L271.1 165.2L269.2 163.7L265.4 162.4L262.3 161.7L256.7 162.0L257.3 162.4L258.6 164.0L260.5 164.3L263.0 165.2L266.1 165.2L266.1 166.2L263.9 167.4L266.7 167.7L269.2 168.7L271.7 169.0ZM238.6 164.0L239.3 162.1L243.0 162.1L247.1 162.1L249.2 163.7L246.8 164.9L243.0 164.9L239.3 164.6ZM262.3 159.9L256.1 159.6L256.1 157.4L263.6 155.9L273.6 156.2L267.3 158.1L264.2 159.0ZM234.0 163.0L234.3 161.2L239.9 160.9L238.0 163.0ZM262.3 161.2L254.9 161.0L254.9 159.9L262.3 160.0ZM246.8 161.2L238.6 161.2L238.6 159.6L246.8 159.6ZM252.4 163.0L248.6 162.4L248.6 161.5L252.4 161.5ZM256.1 162.7L253.0 162.4L253.0 161.5L256.1 161.5ZM262.3 167.7L259.8 169.0L258.0 167.7L258.6 166.5L261.1 166.8ZM318.4 158.1L322.8 159.9L325.9 159.0L329.0 157.7L324.7 157.4L319.7 157.7ZM344.6 163.4L347.7 163.7L349.6 161.5L355.2 159.7L350.8 159.6L346.5 161.5L344.6 162.7ZM369.5 158.4L374.5 159.0L378.3 158.4L374.5 157.1L370.8 157.4ZM340.2 157.4L346.5 157.7L352.7 157.1L346.5 156.6ZM396.4 161.5L400.7 162.1L405.7 160.9L399.5 160.2ZM297.2 166.8L298.5 166.2L302.2 166.2L303.5 166.8L302.9 167.5L301.0 168.1L298.2 167.8ZM308.6 176.5L313.1 175.7L313.3 174.8L312.3 174.3L311.3 173.3L311.0 172.7L311.1 171.8L310.2 171.1L309.1 171.1L308.5 171.8L308.8 172.7L309.1 173.3L310.3 173.8L310.3 174.4L309.2 174.8L309.5 175.4L308.9 175.4L310.3 175.6ZM308.5 175.1L308.3 174.1L308.8 173.5L307.6 173.1L306.0 173.8L306.0 175.3L307.2 175.5ZM393.8 186.4L394.5 185.7L396.4 185.4L397.0 184.9L397.9 184.3L399.2 183.6L399.5 182.4L400.4 181.8L400.7 183.0L400.1 183.9L400.0 185.2L399.5 185.8L398.5 186.0L397.6 186.1L396.7 186.6L396.0 186.2L394.2 188.1L393.4 188.1L393.0 186.9ZM399.5 181.8L400.6 181.1L402.9 180.6L402.3 180.1L400.6 179.3L400.3 180.5ZM400.7 179.0L401.6 178.5L401.3 176.8L401.5 175.4L401.3 174.0L400.9 173.8L400.5 174.9L400.7 176.5L400.6 177.7ZM371.6 204.2L373.0 204.4L374.7 206.1L375.9 207.2L377.3 208.6L378.3 209.5L378.1 211.3L377.3 211.3L376.0 210.1L375.0 208.6L374.0 207.5L373.0 206.2ZM377.8 211.9L379.5 211.5L381.4 211.7L382.4 212.0L383.6 212.5L383.6 213.1L381.4 212.8L379.5 212.5L378.3 212.1ZM380.6 206.4L381.4 206.5L382.6 205.7L384.2 204.3L385.0 203.3L386.4 204.5L385.8 205.0L385.6 206.5L386.4 207.1L385.4 208.0L384.8 209.2L384.5 210.0L383.6 209.8L381.7 209.6L380.8 209.5L380.5 208.0L380.1 207.2ZM386.7 211.1L387.3 211.1L387.3 209.4L387.9 210.6L388.9 210.5L387.7 208.6L389.2 208.2L387.3 207.3L390.0 206.7L390.1 206.8L387.0 207.2L386.7 208.0L386.3 209.2ZM393.9 208.4L394.8 207.9L395.7 208.3L396.7 209.7L397.9 208.6L400.1 209.3L402.9 210.5L404.1 211.4L404.3 212.6L405.7 214.2L403.8 213.9L402.6 212.5L401.6 213.3L400.1 213.4L398.8 212.6L398.2 212.9L398.1 211.1L396.4 210.4L394.8 209.8L394.5 209.4L393.7 208.6ZM342.9 215.1L343.7 217.3L343.1 218.6L342.2 220.8L341.5 223.2L340.4 223.6L339.6 222.3L339.2 221.1L339.9 219.8L339.8 218.3L341.2 217.4L342.1 216.1ZM259.2 194.0L261.7 193.2L264.2 193.9L265.9 195.0L263.9 195.2L263.0 194.2L260.5 193.9ZM275.2 178.0L277.6 175.5L279.2 176.8L279.4 178.3L277.9 178.5L277.3 177.9ZM402.4 233.0L404.6 233.2L404.5 234.5L403.2 234.9L402.6 233.9ZM387.0 197.7L387.4 196.1L388.4 196.1L388.6 197.0L387.9 198.0L389.5 199.5L387.6 199.2ZM388.2 203.3L389.2 202.3L390.4 201.5L391.1 203.1L390.4 204.2L389.5 203.6ZM361.9 201.5L363.3 203.0L362.8 203.8L362.1 203.9ZM265.9 196.1L267.0 195.2L269.2 195.5L269.6 196.1L267.9 196.5L265.9 196.3ZM387.2 193.6L387.6 191.9L388.2 192.1L387.6 193.9ZM379.9 195.7L381.1 195.1L381.4 195.4L380.5 196.3ZM224.3 164.2L231.2 163.7L234.9 159.0L243.6 158.4L253.0 156.8L262.3 155.9L272.3 156.2L268.6 158.1L264.8 158.7L262.3 161.5L265.4 162.4L269.2 163.7L272.9 166.2L272.0 169.0L268.6 170.2L262.3 170.2L252.4 165.5L224.3 164.2ZM268.6 178.3L271.1 176.1L274.8 176.1L275.4 178.0L274.2 179.3L271.1 179.6ZM308.5 185.5L312.2 183.6L314.1 181.1L318.4 179.9L324.7 180.8L329.7 181.8L335.3 184.6L334.6 188.3L324.7 188.9L318.4 187.1L311.0 185.8ZM329.0 182.1L329.7 178.3L338.4 178.3L338.4 182.4ZM340.9 179.0L342.7 177.7L345.9 178.3L346.5 182.1L345.9 184.9L342.7 184.9L340.9 181.4ZM332.1 188.9L334.0 188.9L339.6 199.5L338.4 200.2L335.3 196.4ZM341.8 188.6L343.7 188.6L347.7 191.1L347.4 193.0L343.4 192.7ZM318.4 174.3L318.4 171.5L323.4 169.6L323.4 166.5L328.4 166.5L330.9 170.2L327.2 172.7L324.7 174.3ZM344.6 164.6L345.2 163.4L348.4 161.8L358.9 162.4L365.2 160.5L370.2 157.1L377.6 158.1L383.9 160.5L399.5 161.2L411.9 163.0L411.9 164.6L344.6 164.6Z" fill="#ff8200" stroke="#ff8200" stroke-width="1.70" stroke-linejoin="round"/>
<path d="M200.0 163.4L201.9 163.0L201.2 163.4L200.0 163.5ZM388.2 201.4L389.5 200.5L390.4 200.8L390.1 201.4L388.9 201.9ZM389.5 214.0L391.4 212.9L390.1 213.0L389.2 213.9ZM383.9 212.8L386.4 213.0L388.9 212.8L388.9 213.1L384.5 213.3L383.9 213.1ZM419.8 229.1L421.0 230.1L421.9 231.1L423.5 231.2L422.5 232.2L421.9 233.4L421.2 233.4L421.3 232.5L420.5 232.1L421.0 230.9ZM419.8 232.9L420.8 233.7L420.0 235.0L418.8 235.7L417.5 236.7L416.0 236.3L417.2 235.1L418.8 233.9ZM235.3 177.5L232.2 176.0L234.4 176.5L234.0 177.1ZM317.4 182.1L318.3 182.1L318.2 183.3L317.5 183.3ZM317.6 180.9L318.1 180.8L318.1 181.8L317.6 181.8ZM319.9 183.9L321.9 183.8L321.7 184.8L320.0 184.2ZM392.0 209.5L393.9 209.6L393.2 210.0L392.0 209.8ZM391.7 206.5L392.3 206.7L392.0 207.7L391.7 207.3ZM404.8 211.1L406.9 210.3L406.9 210.9L405.7 211.5ZM409.4 211.7L411.9 212.6L413.2 214.2L411.9 213.6L410.1 212.6ZM416.0 216.7L416.6 217.0L417.2 218.6L416.6 217.9ZM414.4 220.1L416.3 221.7L415.7 221.4L414.4 220.4ZM422.5 218.6L423.5 218.6L423.5 219.0L422.7 219.0ZM201.2 175.3L203.7 175.1L201.2 175.5ZM209.3 173.6L210.9 173.0L210.6 173.6ZM403.2 180.5L404.5 179.6L405.7 179.0L408.8 176.8L409.8 176.0L408.8 177.1L405.1 179.6L403.2 180.6ZM263.4 196.2L264.7 196.4L264.3 196.5L263.6 196.4ZM270.3 196.2L271.3 196.3L271.1 196.5L270.3 196.4ZM263.6 191.0L264.2 191.1L263.9 192.7L265.1 192.6L264.8 193.0L263.5 192.4ZM332.3 185.8L333.8 185.4L333.4 186.1L332.5 186.0ZM326.8 185.6L328.6 185.7L328.4 185.8L326.8 185.7ZM288.5 241.3L289.9 241.7L289.4 241.8L288.5 241.5ZM274.2 239.7L276.0 239.7L275.7 240.1L274.2 240.1Z" fill="#ff8200"/>
<g mask="url(#landmask)">
<path d="M291.3 244.5L289.4 244.3L288.6 243.8L288.6 243.2L289.8 241.3L290.7 239.2L290.5 238.2L290.0 237.3L289.4 236.6L288.8 236.4L288.2 236.6L288.1 237.0L288.3 239.8L288.1 240.1L287.4 240.4L286.3 240.5L285.4 240.3L284.6 239.8L283.2 238.3L282.6 238.1L281.7 239.6L280.4 243.0L279.8 243.7L279.2 244.0L274.8 244.5L273.6 244.4L273.0 244.1L272.7 243.8L272.7 243.2L273.8 242.0L274.0 241.3L273.7 240.7L273.2 240.5L272.6 240.7L271.1 242.3L269.5 242.9L268.6 242.9L267.6 242.6L267.0 242.2L266.5 241.7L266.2 241.0L266.1 240.1L266.4 239.5L267.0 239.1L269.2 238.5L271.4 238.4L272.9 238.2L274.8 238.5L275.7 238.5L276.5 238.2L277.1 237.6L277.2 236.7L276.4 235.3L275.1 234.3L273.6 234.0L272.9 233.6L272.1 232.3L270.4 230.5L269.5 230.6L267.9 231.7L267.3 231.9L266.9 231.7L266.7 231.0L268.6 228.9L268.9 228.8L269.5 229.0L270.4 229.7L271.1 229.4L271.6 228.6L272.3 226.2L272.6 225.9L274.3 225.4L275.4 224.3L275.7 224.2L277.1 225.1L277.9 225.4L278.9 225.4L279.6 225.1L280.2 224.2L280.3 223.2L280.0 222.0L279.8 221.7L279.2 221.3L278.2 221.2L276.1 221.7L275.1 222.8L273.2 222.9L271.7 223.9L271.3 223.6L271.9 222.6L271.9 222.3L271.3 221.4L270.4 220.9L269.5 220.9L269.3 221.1L269.2 222.0L269.7 223.9L268.9 225.1L268.6 225.3L267.6 224.5L266.1 225.2L265.1 225.3L264.2 225.1L263.4 224.5L262.3 222.4L261.4 221.3L260.8 221.1L259.3 221.1L258.0 220.7L257.7 220.8L256.2 221.7L254.2 222.2L253.9 222.6L253.7 223.2L253.9 224.8L254.5 225.8L255.5 226.1L256.7 225.7L257.2 225.7L257.1 227.6L257.7 229.2L257.7 229.6L257.3 229.8L253.0 230.9L251.1 230.8L250.5 230.6L249.9 230.1L248.5 228.2L248.2 227.6L248.2 227.0L249.1 224.8L249.7 222.3L250.8 220.5L251.5 219.8L253.3 219.5L255.2 218.7L256.1 218.8L257.7 219.6L258.3 218.9L258.5 217.9L258.6 217.3L258.3 216.7L256.4 215.6L253.6 212.5L251.9 211.1L253.0 208.9L253.3 206.1L253.9 205.2L254.9 204.1L255.5 203.8L256.4 204.1L258.1 205.8L260.5 207.3L261.0 208.0L261.2 208.9L261.0 211.4L261.6 213.6L261.1 214.5L260.0 215.4L259.8 216.1L260.2 216.5L263.0 217.8L264.8 217.9L268.3 217.4L268.9 216.9L270.8 213.6L271.7 212.5L272.6 212.1L274.2 212.2L275.7 211.6L276.7 212.1L278.5 212.0L278.9 211.7L279.0 211.4L278.5 209.8L277.9 209.2L276.7 209.9L275.9 210.1L275.7 210.5L275.4 210.5L275.0 210.1L275.2 208.6L275.0 208.0L274.5 207.7L272.9 207.4L272.0 207.0L271.7 206.7L270.7 205.0L269.2 203.8L268.6 203.6L267.3 203.9L266.7 204.8L266.6 205.5L266.7 206.4L267.0 207.3L268.7 208.9L269.1 209.5L268.9 210.5L268.3 211.1L267.6 211.4L267.0 211.2L266.7 210.8L265.9 208.9L263.9 208.0L263.3 207.7L262.8 206.7L263.0 205.5L263.6 204.0L264.8 202.3L264.7 201.7L264.2 199.9L264.3 198.9L264.7 198.3L265.4 198.0L266.1 197.9L267.6 198.3L268.6 198.1L268.9 197.7L269.1 197.0L268.8 195.5L268.6 195.1L267.9 194.7L265.1 194.2L264.2 194.2L262.3 194.6L261.7 194.5L261.5 193.9L261.6 193.3L262.8 191.7L262.9 191.1L262.7 190.2L262.0 189.7L258.3 189.9L257.3 190.3L256.1 191.4L254.9 191.6L253.6 192.2L253.0 192.0L252.8 191.7L253.0 191.2L255.2 190.0L257.8 186.7L258.2 185.8L258.2 184.9L257.3 183.6L256.1 182.6L255.2 182.3L253.6 182.5L251.4 183.9L250.5 183.9L250.2 183.6L248.9 180.5L249.0 179.9L249.9 178.9L250.2 178.3L250.1 177.7L249.3 177.1L247.7 176.9L246.1 177.1L245.5 177.8L245.0 179.0L244.8 181.8L244.2 183.9L243.6 184.3L243.0 184.5L242.2 184.3L241.5 183.7L240.5 182.4L239.8 180.2L239.3 179.3L238.6 178.5L237.2 177.4L236.7 176.5L237.0 175.8L238.3 174.3L238.6 174.0L239.3 174.0L241.5 174.8L243.0 174.7L244.3 174.3L244.6 174.0L244.6 173.6L244.2 173.0L243.3 172.3L242.4 172.1L240.5 172.1L238.3 172.6L236.2 172.2L235.5 172.5L234.6 173.8L234.0 174.1L233.3 173.6L232.7 172.7L232.7 172.1L233.1 171.2L232.7 170.4L229.0 170.2L227.4 170.7L226.5 170.6L226.1 170.8L226.5 171.2L228.4 171.6L229.8 172.4L230.4 173.0L230.5 173.6L230.1 174.6L227.9 176.1L227.3 177.1L227.1 177.6L226.8 177.7L226.0 176.5L224.9 175.5L224.3 175.2L222.8 175.1L222.2 174.9L220.9 172.4L220.3 171.9L219.6 171.8L217.5 175.2L217.4 176.8L217.0 177.4L215.6 178.0L214.6 178.0L213.8 177.7L213.3 177.1L213.5 176.5L214.0 175.9L215.6 174.9L215.8 174.6L215.7 173.6L215.2 172.7L214.3 171.9L213.4 171.4L212.8 171.5L211.5 172.1L208.7 171.6L207.8 171.0L207.2 169.6L207.3 168.7L208.8 166.5L209.2 164.6L209.0 164.3L207.5 164.1L206.7 163.7L206.2 162.7L206.3 161.8L206.8 160.9L208.1 159.9L208.7 159.1L209.4 157.1L210.4 155.2L210.3 154.2L209.7 153.5L208.7 153.3L208.1 153.7L207.2 154.7L206.2 155.2L205.6 155.1L204.4 154.2L203.1 153.8L201.9 153.9L200.0 154.8L200.0 151.5L212.1 151.5L213.4 152.8L215.0 153.8L216.5 154.3L218.1 154.5L219.0 154.4L219.7 154.0L220.3 153.4L220.9 152.1L221.8 151.5L224.7 151.5L225.3 154.3L224.4 156.8L224.0 157.4L223.4 157.6L221.8 157.5L219.0 158.0L218.1 158.6L217.5 159.6L217.5 160.9L218.3 162.4L219.9 164.1L220.6 164.5L221.2 164.6L221.8 164.4L222.4 163.8L224.3 160.8L224.9 160.4L225.6 160.7L225.9 161.1L227.3 164.0L227.7 164.4L228.4 164.4L229.0 164.1L230.1 163.0L230.9 161.2L231.0 160.2L230.9 159.6L229.1 157.1L227.2 155.2L226.8 154.3L227.4 153.4L228.4 152.8L229.6 152.4L230.5 152.3L231.0 152.7L231.1 153.4L230.8 155.9L230.9 156.8L231.9 160.5L232.4 161.5L234.3 162.0L239.3 162.9L244.9 164.1L245.3 164.6L244.3 165.8L244.4 166.2L245.8 166.8L247.7 167.2L248.3 167.6L248.8 168.3L248.7 169.6L248.8 169.9L249.9 171.1L250.5 171.4L251.7 171.3L252.2 171.2L252.5 170.8L252.2 170.2L251.0 169.0L250.8 168.3L251.0 167.7L252.4 165.6L253.3 164.7L255.5 164.4L261.4 164.5L265.4 165.3L266.0 165.8L266.7 168.4L267.3 168.8L272.0 169.9L278.5 170.4L279.1 170.8L279.2 171.2L279.2 171.8L278.6 173.3L278.7 174.3L279.2 174.9L280.1 175.2L281.0 175.2L282.0 174.6L283.1 172.4L284.5 171.0L285.4 170.4L288.2 170.0L290.7 169.9L292.9 170.1L295.1 170.5L295.4 170.8L295.3 171.2L293.6 173.0L293.4 174.0L293.8 176.1L294.2 177.1L295.1 177.9L297.2 179.4L297.9 180.2L297.9 181.1L296.8 182.7L296.8 183.9L298.2 185.5L300.1 189.9L301.0 190.3L302.9 190.8L303.8 191.5L304.5 193.0L304.5 194.2L304.1 195.0L303.5 195.2L300.0 194.0L299.4 193.6L298.9 193.0L298.8 192.4L299.0 190.5L297.3 188.9L296.6 188.0L296.3 187.1L296.4 185.5L296.3 185.2L296.0 185.0L295.1 185.3L292.8 187.1L291.6 190.2L291.5 191.7L292.0 193.6L292.6 194.2L294.4 194.9L296.3 196.5L296.9 196.9L298.5 197.2L300.4 198.4L301.0 198.1L304.1 195.6L307.2 194.5L308.5 194.7L310.0 196.3L310.6 196.6L312.8 196.6L313.8 196.4L314.1 196.1L313.5 194.9L312.7 192.4L310.6 189.8L309.7 189.4L308.1 189.5L307.2 189.4L306.3 188.9L306.0 188.6L305.3 186.4L304.0 184.3L305.1 180.8L305.3 180.5L306.0 180.1L306.6 180.2L307.5 180.7L309.0 181.8L309.9 182.7L310.0 183.3L309.6 184.6L309.7 185.2L310.1 186.4L310.6 187.3L311.3 187.4L313.4 186.8L314.4 187.0L315.2 187.4L316.8 189.6L318.3 190.2L318.6 193.3L318.8 193.9L319.2 194.5L319.7 194.9L321.6 195.4L323.4 196.2L325.0 197.3L327.2 197.5L328.7 196.9L331.2 196.7L332.1 196.9L333.7 197.7L335.2 197.7L335.5 197.4L335.5 196.7L334.6 194.9L334.3 192.9L334.5 192.1L335.2 190.8L335.4 189.2L336.1 188.3L339.0 186.9L340.9 186.4L341.8 186.6L344.3 187.9L345.9 188.1L347.1 187.6L348.2 186.1L348.7 185.8L349.6 185.8L350.3 186.1L352.3 189.9L352.8 192.1L353.3 192.5L355.5 193.2L356.5 193.9L357.7 195.7L358.7 196.7L358.7 197.4L358.3 198.3L357.4 199.4L356.5 199.5L352.4 197.5L351.5 197.2L350.8 197.2L350.2 197.6L349.0 199.6L348.0 200.5L347.4 200.6L345.9 200.1L345.2 200.2L344.3 200.8L342.6 202.3L342.0 203.3L342.0 203.6L343.0 204.8L343.0 205.5L341.8 206.0L340.9 205.8L338.4 204.6L337.1 203.8L336.5 203.6L336.3 204.2L336.9 205.2L337.1 205.8L336.2 208.9L337.3 210.8L338.1 212.9L340.2 214.2L342.7 214.5L343.7 214.8L344.3 215.4L344.6 216.1L344.7 217.3L344.3 217.7L343.4 218.1L342.4 217.9L341.4 217.0L340.2 215.1L339.9 214.8L339.0 214.9L337.8 215.6L336.9 216.7L336.6 217.9L337.2 221.7L338.5 223.9L338.8 224.8L338.8 228.2L338.4 229.5L338.1 230.1L335.9 231.2L334.6 232.5L334.0 232.7L333.4 232.6L332.4 232.0L331.3 230.1L330.7 229.5L328.4 228.6L326.8 227.2L326.2 227.2L325.4 227.9L325.2 228.9L325.6 229.3L327.2 229.5L327.5 229.6L327.8 230.4L327.5 231.7L325.8 234.5L325.3 235.1L322.8 236.8L320.6 237.7L319.7 237.7L317.5 235.8L315.4 234.8L313.4 232.8L312.5 235.8L311.9 236.5L311.3 236.5L307.6 233.2L307.1 232.3L306.9 231.4L307.3 230.4L308.8 228.8L309.7 228.1L310.3 227.9L311.6 228.2L312.3 228.9L312.8 230.6L313.1 231.0L313.9 229.2L315.3 227.9L315.5 227.6L315.3 227.4L314.1 226.7L313.6 226.1L313.3 225.1L313.4 224.5L314.1 223.7L315.0 223.1L317.2 223.2L317.6 222.9L317.7 222.3L317.5 221.8L316.9 221.4L315.0 221.6L314.4 221.3L314.0 220.4L314.0 218.3L314.1 217.9L314.7 217.5L317.5 216.6L318.1 216.1L318.4 215.4L318.4 214.8L316.6 213.3L316.4 212.6L316.5 212.0L317.4 210.5L318.1 209.8L319.1 209.4L320.9 209.3L321.5 208.9L321.9 208.0L322.0 205.8L321.2 205.4L318.7 205.1L317.2 203.8L316.6 203.9L315.3 204.4L314.7 204.3L314.1 203.6L313.4 202.1L311.0 202.7L310.4 203.3L310.3 203.9L310.6 204.3L312.2 205.5L312.9 206.4L313.0 207.0L312.5 208.6L313.1 210.5L313.2 211.1L312.6 212.0L311.6 212.8L310.6 213.2L309.7 213.3L306.2 211.7L305.7 211.3L305.1 210.5L304.8 209.2L305.3 207.1L305.7 206.4L306.8 205.5L307.0 204.8L306.6 204.2L306.1 203.6L304.1 202.3L303.4 201.4L302.5 200.8L301.3 200.2L301.0 200.4L301.1 201.4L301.8 203.9L301.6 204.6L300.7 204.9L299.1 204.9L298.5 204.7L296.9 203.0L294.7 201.3L294.1 201.2L293.5 201.3L292.3 202.0L291.5 203.3L291.4 204.2L291.8 205.2L293.2 206.7L293.8 206.9L296.0 206.5L297.6 206.5L300.0 208.1L300.9 208.9L301.5 210.1L301.1 213.0L301.3 213.9L301.6 214.2L303.2 214.4L305.0 216.1L306.0 216.5L307.2 216.8L308.1 216.4L310.0 214.7L311.3 214.6L312.2 215.0L313.1 215.6L313.5 216.1L313.6 216.7L313.3 217.9L311.7 219.2L311.2 219.8L310.5 222.0L308.1 224.0L307.5 224.3L306.9 224.2L306.3 223.7L304.4 221.0L302.4 219.8L302.2 219.2L302.5 217.6L302.5 216.7L301.9 215.5L301.3 214.7L300.7 214.8L300.0 215.3L299.0 218.3L298.5 218.9L296.9 220.3L296.3 220.6L295.7 220.6L294.7 219.8L294.2 218.6L294.5 217.0L295.0 216.4L297.4 214.8L298.0 214.2L298.4 213.6L298.5 212.6L298.2 211.1L297.8 210.1L297.2 209.7L296.3 209.6L295.3 210.1L294.6 212.0L293.1 213.6L292.5 215.4L291.7 216.4L291.0 216.9L290.4 217.1L289.8 216.7L289.1 215.9L288.4 214.2L287.9 213.8L287.3 214.1L285.4 215.3L283.8 215.1L282.1 216.4L281.8 217.0L282.0 217.6L284.8 218.2L287.0 220.5L287.6 220.6L289.4 220.3L290.2 220.4L290.6 221.1L291.3 223.9L291.4 224.8L290.7 226.2L290.1 226.8L287.3 226.0L286.0 226.0L285.4 226.3L284.6 227.0L283.0 229.2L282.6 229.5L282.0 229.5L280.1 229.0L279.2 229.4L278.5 230.4L278.3 231.4L279.2 233.5L279.5 235.4L280.1 236.2L282.3 236.9L282.9 236.6L284.1 235.4L284.8 234.5L285.0 233.5L285.1 231.0L285.6 230.7L287.3 230.7L288.0 230.4L288.6 229.8L290.1 227.6L290.4 227.4L291.3 227.5L292.3 227.9L293.8 229.9L296.3 231.8L297.2 232.1L298.2 232.1L299.1 231.7L301.3 229.1L302.5 228.4L303.2 228.4L303.8 228.6L304.3 229.2L304.8 230.1L305.0 231.4L304.5 233.5L304.2 233.9L303.5 234.1L301.0 234.1L300.7 234.3L299.6 235.7L298.0 237.3L297.9 237.9L298.1 238.5L299.3 240.4L299.3 240.7L298.9 241.3L297.2 242.7L296.6 243.1L295.7 243.3L294.7 243.0L292.9 241.5L292.3 241.3L292.0 241.7L292.1 242.0L292.5 243.2L292.6 243.8L292.3 244.3L291.3 244.5ZM404.8 237.9L404.1 238.2L402.9 238.1L401.6 237.4L401.0 236.7L400.5 235.7L400.4 234.8L401.6 232.9L401.7 232.3L400.9 231.0L399.8 230.1L398.5 229.9L396.4 230.5L395.4 230.5L393.2 228.8L392.6 228.4L391.7 228.2L390.4 228.4L389.2 229.2L389.0 228.6L389.1 226.4L388.6 225.7L387.3 224.8L386.4 223.2L385.4 222.6L384.8 222.6L383.6 223.4L381.7 225.9L381.4 226.1L380.8 226.1L378.3 224.3L375.9 222.0L375.3 221.1L375.3 220.8L376.1 219.8L377.0 217.9L378.6 216.3L379.5 215.8L380.5 215.6L382.3 216.3L383.9 216.1L384.9 215.4L385.3 214.8L385.4 214.2L384.5 212.6L383.4 212.0L378.6 210.4L377.6 210.3L376.4 210.8L376.1 210.4L374.8 210.1L374.2 209.5L373.6 208.3L372.8 207.7L372.4 206.7L372.5 205.8L373.6 203.9L374.2 203.3L374.8 203.1L375.8 203.3L378.0 204.9L378.9 205.2L381.4 204.3L382.3 204.1L383.6 204.3L386.1 205.5L387.0 205.7L388.2 205.5L389.3 204.8L389.8 203.9L390.0 202.7L389.9 198.0L389.7 195.8L390.0 194.9L391.3 192.7L391.5 192.1L390.2 190.2L390.1 189.2L390.4 188.7L390.7 188.6L392.0 188.7L392.3 188.5L392.5 188.0L392.5 187.4L392.3 186.8L392.0 186.5L390.4 186.0L389.2 185.2L388.2 184.9L385.4 185.2L384.4 185.8L384.1 186.7L384.4 188.3L384.4 189.2L383.4 190.8L383.3 191.4L383.9 193.6L383.6 195.2L383.7 195.8L384.7 197.7L384.9 198.6L384.6 199.5L383.9 200.8L383.3 201.3L382.6 201.5L382.0 201.2L381.8 200.8L381.2 198.0L380.8 197.5L378.0 196.6L376.4 197.5L375.5 197.6L372.7 195.8L371.1 195.4L369.1 193.3L368.3 191.4L367.4 190.6L365.8 189.9L365.2 189.2L365.3 188.3L366.5 186.7L367.4 185.0L368.0 184.5L370.8 183.2L373.3 183.5L375.8 183.3L376.4 183.0L376.7 182.6L376.9 181.8L376.8 180.5L376.2 179.9L374.8 179.3L373.3 179.0L371.7 179.1L370.5 179.5L369.5 180.5L368.9 180.8L367.1 180.7L366.4 180.8L365.9 181.1L365.6 181.8L365.6 183.3L365.3 184.3L364.3 185.5L363.6 185.6L363.0 185.1L362.8 184.3L363.0 183.4L363.7 182.1L363.5 181.1L362.9 180.5L361.1 179.2L359.7 177.1L359.3 176.8L358.0 176.7L356.8 177.1L353.9 179.0L352.7 179.9L349.6 180.0L348.7 179.7L347.7 178.2L347.1 177.8L343.4 177.6L340.9 176.7L338.1 177.1L335.9 175.9L335.3 175.9L334.8 176.5L333.9 179.0L333.1 179.6L332.1 179.7L331.2 179.4L330.0 178.7L327.8 178.5L327.2 178.0L326.3 176.8L326.1 176.5L326.2 176.1L328.1 174.6L328.7 174.6L330.3 175.6L331.0 175.5L331.7 174.9L331.6 174.3L331.3 174.0L329.2 173.0L328.8 172.7L327.7 170.2L327.5 170.0L327.2 170.1L325.0 172.0L323.4 172.7L322.8 172.4L321.2 170.3L320.3 169.7L319.4 169.6L317.8 170.0L316.3 170.2L314.9 171.2L314.4 171.4L312.2 170.9L311.3 171.1L310.5 171.8L310.0 172.7L309.9 173.3L310.2 174.3L311.3 175.3L312.2 175.6L313.8 175.1L315.3 173.7L315.9 173.5L316.9 173.6L319.4 174.6L320.3 174.5L322.5 174.0L323.1 174.3L324.6 175.8L324.8 176.1L324.7 176.3L324.0 176.4L322.2 176.0L320.9 176.1L318.4 177.2L316.3 177.4L314.7 178.0L313.8 178.2L312.8 178.0L311.9 177.4L309.7 177.6L307.2 177.0L306.4 176.5L305.8 175.8L304.9 173.0L304.1 172.4L302.4 171.8L302.1 171.5L301.9 170.8L302.0 170.5L302.5 170.2L304.5 169.9L304.9 169.6L306.3 165.4L306.6 165.2L307.8 165.3L308.5 165.0L309.3 164.0L310.1 162.7L310.0 162.1L308.6 160.5L307.7 158.7L307.2 158.4L306.0 158.3L305.6 157.7L305.4 156.8L305.5 155.9L306.4 152.7L306.8 152.1L307.4 151.5L314.8 151.5L314.1 152.3L312.8 152.6L312.4 153.1L312.2 153.7L312.5 154.2L312.8 154.2L315.2 153.1L318.1 152.3L318.5 152.1L318.7 151.5L324.7 151.5L325.9 151.8L328.1 151.6L329.0 152.0L330.3 152.9L331.2 153.1L332.3 152.7L332.4 152.4L332.4 151.5L335.1 151.5L334.6 152.1L332.9 153.1L332.3 154.0L331.8 154.4L329.7 154.7L325.6 155.8L324.4 155.8L321.6 154.6L320.0 154.3L316.3 155.7L315.5 156.5L315.3 157.4L315.5 158.4L316.1 159.9L316.1 160.5L312.5 162.2L311.9 162.7L311.9 163.4L312.8 166.5L313.4 167.3L314.1 167.3L315.2 165.8L315.9 165.2L317.2 164.4L318.7 163.7L319.7 163.0L320.6 161.9L322.2 159.6L323.1 159.0L324.4 158.8L325.9 159.4L327.5 159.7L327.9 159.9L328.0 160.2L327.7 160.9L326.5 161.8L326.1 163.0L326.3 164.6L326.8 165.3L327.5 165.6L330.0 165.5L332.5 166.1L333.1 166.0L335.3 163.6L336.8 162.8L341.8 163.5L342.9 164.0L343.7 164.9L344.2 166.2L344.0 167.7L343.3 168.7L342.4 169.1L341.8 169.1L340.3 167.7L338.7 167.0L338.0 167.1L337.7 167.7L338.0 168.3L338.4 168.7L341.2 169.6L341.5 170.0L342.2 172.1L342.7 172.6L343.4 172.8L344.3 172.5L345.1 171.8L345.4 171.2L345.9 169.3L347.9 168.0L348.8 165.5L349.5 164.6L350.8 163.4L351.1 162.7L350.8 162.1L350.2 161.7L346.8 162.3L345.9 162.1L345.5 161.8L343.4 156.2L343.7 155.2L344.6 153.9L344.9 153.7L345.5 154.0L346.5 155.0L347.9 157.4L348.6 158.1L349.3 158.4L351.2 158.6L355.2 158.2L356.1 158.3L356.8 158.6L358.6 160.4L359.6 161.0L360.5 161.0L363.0 160.7L365.5 160.7L365.8 160.9L366.5 162.1L367.1 162.7L367.7 162.9L368.9 162.9L371.4 162.8L372.0 162.5L372.2 162.1L372.3 160.5L372.7 159.7L375.0 157.7L375.2 157.4L375.0 157.1L374.2 156.3L373.8 155.6L373.3 153.4L373.6 152.6L374.5 152.1L375.1 151.5L379.5 151.5L378.3 154.0L376.8 155.2L375.7 157.1L375.9 157.4L377.7 158.7L378.9 160.4L382.3 160.5L382.6 160.5L382.8 160.2L382.8 159.9L382.4 158.7L382.1 156.8L381.2 155.6L381.3 155.2L382.6 154.6L382.9 154.2L383.2 153.1L383.2 151.5L387.7 151.5L390.7 152.9L391.4 152.7L391.6 151.5L397.9 151.5L398.8 151.9L399.9 151.5L417.2 151.5L415.9 152.1L415.6 152.7L416.9 154.3L417.2 154.9L417.3 155.6L417.1 157.4L417.3 158.1L417.9 158.5L419.4 159.3L420.1 159.9L420.7 160.8L421.6 163.2L422.2 164.2L422.8 164.7L423.2 164.5L424.4 162.8L424.4 166.0L423.2 165.6L423.1 166.2L423.3 166.8L424.4 168.1L424.4 172.3L423.8 171.9L422.0 169.6L421.0 168.8L420.0 168.5L417.5 168.1L415.7 167.3L413.8 167.3L412.2 167.6L411.6 168.0L410.5 169.3L409.4 169.6L408.5 169.5L407.3 169.1L404.8 167.7L404.1 167.6L403.5 168.2L403.0 169.6L402.9 170.5L403.1 172.1L402.6 172.6L401.3 173.1L401.0 173.3L400.9 173.6L401.8 176.8L401.8 177.7L401.3 178.7L400.7 179.1L400.1 179.3L398.2 179.4L397.3 179.2L395.8 178.3L395.4 178.3L395.1 178.4L393.9 179.7L391.0 180.8L390.3 181.4L389.9 182.1L390.3 182.7L392.0 184.4L392.9 184.8L395.1 185.3L396.0 185.8L396.3 186.7L396.1 189.9L396.6 190.5L398.5 191.6L399.1 192.4L399.4 193.3L399.3 195.5L399.6 196.1L400.3 196.7L402.5 197.7L403.0 198.3L403.1 198.9L402.8 199.5L402.0 200.7L401.0 201.2L399.5 201.3L398.8 201.8L398.7 202.7L399.1 203.6L399.2 204.2L398.8 204.9L398.2 205.6L397.6 205.7L395.7 205.3L394.5 205.6L393.0 206.4L392.2 207.0L391.8 207.7L391.7 208.6L391.9 209.2L392.2 209.5L394.5 210.9L395.4 211.1L396.0 210.8L397.4 209.2L398.2 207.2L398.5 207.0L399.2 207.1L401.0 208.3L402.3 210.4L403.8 212.3L403.8 213.0L403.2 213.8L402.6 214.0L401.3 213.7L400.4 214.0L399.8 214.8L399.6 215.4L400.1 216.4L401.0 217.2L401.8 217.0L402.9 215.6L403.5 215.3L404.8 215.4L405.3 215.8L405.4 216.1L405.4 216.7L405.0 217.3L403.3 218.6L402.9 219.2L403.1 220.1L404.7 222.9L404.9 225.7L404.8 226.2L404.0 226.7L403.8 227.3L403.7 227.9L404.0 228.6L404.1 229.2L403.0 231.0L402.6 232.3L402.9 232.9L404.2 234.8L404.9 236.3L405.1 237.3L404.8 237.9ZM367.1 159.0L366.7 159.0L366.5 158.7L366.0 157.1L364.8 154.9L364.5 152.7L364.2 152.5L363.6 152.6L361.8 153.9L361.1 154.1L360.1 154.0L359.5 153.7L359.4 153.4L359.5 152.1L359.3 151.5L364.9 151.5L365.2 152.0L366.7 152.4L367.4 152.8L367.9 153.7L368.3 155.9L369.0 157.7L368.6 158.4L367.1 159.0ZM371.7 151.6L370.1 151.5L371.9 151.5L371.7 151.6ZM424.4 154.9L423.8 154.7L423.6 154.3L423.2 151.5L424.4 151.5L424.4 154.9ZM397.2 167.4L397.9 166.9L399.8 165.0L400.4 164.6L401.3 164.7L403.5 165.8L404.1 165.7L405.4 164.5L407.2 163.4L408.6 161.2L409.1 160.6L409.8 160.3L410.7 160.3L411.3 160.6L411.9 161.2L412.7 162.4L413.2 162.9L414.1 163.1L415.1 162.7L415.8 161.5L416.0 160.5L416.0 159.9L415.7 159.3L414.0 157.1L413.2 153.9L412.6 153.4L411.6 153.1L409.1 153.2L406.9 152.3L406.3 152.2L403.8 153.6L400.4 154.6L399.8 154.9L399.3 155.9L398.9 158.4L399.0 159.3L399.5 160.9L399.5 161.5L399.2 162.0L397.6 162.4L396.9 162.7L396.5 163.4L396.0 164.9L395.4 166.2L395.9 167.4L396.7 167.5L397.2 167.4ZM392.3 159.0L392.9 158.8L393.5 158.2L394.3 156.2L394.2 155.2L393.2 154.5L392.6 154.6L392.3 154.8L390.3 157.7L390.3 158.4L390.7 158.8L392.3 159.0ZM356.5 155.2L356.5 155.2ZM339.6 158.4L338.9 158.4L338.7 157.7L339.3 155.8L339.6 155.3L339.9 155.3L340.9 155.9L341.1 156.2L341.2 156.8L340.6 157.9L339.6 158.4ZM204.7 158.5L203.7 158.4L203.4 158.1L203.3 157.4L204.1 156.6L205.0 156.3L205.3 156.5L205.4 157.4L205.2 158.1L204.7 158.5ZM201.2 165.9L200.0 166.1L200.1 161.5L200.0 158.0L200.6 158.3L201.0 158.7L201.5 161.5L202.7 164.0L202.6 164.6L202.3 165.2L201.2 165.9ZM424.4 160.2L424.1 159.0L424.4 158.2L424.4 160.2ZM215.6 164.6L216.2 164.3L216.8 163.7L217.0 163.0L216.9 162.4L216.2 161.5L213.7 159.2L213.1 159.0L212.2 159.3L210.9 160.1L210.1 160.9L209.6 162.4L209.5 163.7L209.6 164.0L213.7 164.8L215.6 164.6ZM376.3 164.6L377.3 163.8L378.0 162.7L378.4 161.5L378.3 161.1L378.0 160.9L376.7 161.0L375.5 161.2L374.6 161.8L374.0 162.4L373.8 163.0L374.3 164.0L375.2 164.6L376.3 164.6ZM384.9 163.0L384.8 162.9L384.7 163.0L384.9 163.0ZM355.5 167.4L356.5 167.0L357.0 166.5L357.4 164.6L357.0 164.0L356.1 163.8L355.2 163.9L354.4 164.3L353.9 164.9L353.7 166.2L354.0 167.3L354.6 167.5L355.5 167.4ZM361.9 171.5L362.0 171.2L361.8 170.2L361.9 168.3L361.4 167.5L360.8 167.1L359.9 167.0L358.6 167.1L358.0 167.4L357.9 167.7L358.0 168.3L358.9 169.9L361.1 171.6L361.4 171.6L361.9 171.5ZM260.6 170.2L261.2 169.9L261.8 169.3L262.0 168.7L262.0 168.3L261.7 168.0L261.1 167.7L260.2 167.7L259.1 168.3L258.7 169.0L258.7 169.6L259.2 170.2L259.8 170.4L260.6 170.2ZM200.6 172.1L200.0 172.3L200.0 168.4L201.1 169.9L201.4 170.8L201.2 171.5L200.6 172.1ZM287.6 211.7L288.1 210.8L288.3 209.5L288.0 208.9L286.9 208.0L286.6 207.3L286.7 206.7L287.3 205.9L288.2 205.6L289.0 205.8L290.1 206.7L290.4 206.6L290.8 206.1L291.0 205.5L290.8 203.9L290.6 203.0L289.8 202.0L286.0 199.5L285.7 198.6L285.6 197.0L285.7 196.4L286.3 195.8L287.3 195.5L288.5 195.4L289.2 195.8L289.4 197.4L290.0 198.0L291.0 198.0L291.6 197.4L291.7 196.7L291.6 195.8L291.3 195.3L290.4 194.7L290.1 194.2L289.5 191.7L288.4 189.2L287.2 185.2L287.6 184.4L289.3 183.0L290.4 180.8L291.0 178.0L291.0 177.1L290.6 176.1L290.1 175.7L289.4 175.5L287.9 176.0L287.1 176.8L286.0 178.8L285.4 179.1L283.2 178.5L280.8 178.3L278.7 177.1L277.0 175.2L275.7 174.4L274.5 174.2L272.0 174.7L271.4 174.5L271.1 174.3L271.1 173.6L271.7 171.5L271.4 170.9L270.7 170.7L270.1 170.9L269.5 171.3L269.2 172.0L269.0 173.6L268.7 174.6L267.3 176.0L266.4 176.6L263.9 176.7L262.6 176.5L259.8 175.6L258.0 174.1L257.3 174.0L256.4 174.4L255.7 175.8L255.9 176.8L255.9 178.3L256.4 179.7L257.3 180.8L258.6 181.5L261.1 181.8L262.1 183.6L262.7 184.3L263.6 184.8L264.5 185.1L267.0 185.4L269.8 187.2L271.1 187.2L271.7 187.3L272.9 188.6L273.4 189.2L273.5 189.9L272.9 190.4L272.0 190.3L270.4 189.1L269.8 189.3L269.5 189.8L269.4 190.5L269.5 191.1L270.2 192.7L270.7 193.5L271.6 193.9L274.8 195.0L275.4 195.4L275.9 197.4L276.7 198.0L278.2 198.1L281.0 196.9L281.7 196.8L282.9 197.5L284.0 198.6L284.6 199.5L284.7 200.2L284.7 200.8L284.4 201.4L282.7 203.0L281.3 204.8L279.2 206.4L278.3 207.7L278.4 208.0L278.8 208.6L279.2 208.9L282.0 210.5L284.5 210.8L286.6 211.8L287.3 211.9L287.6 211.7ZM395.9 173.3L397.5 172.4L397.9 172.1L397.6 171.8L396.7 171.6L395.7 171.7L393.5 172.7L394.5 173.6L395.1 173.6L395.9 173.3ZM416.3 185.3L415.4 185.5L414.5 185.2L413.4 184.6L411.6 183.1L408.8 182.3L408.2 181.8L407.9 180.8L408.4 177.7L408.9 176.8L409.4 176.4L410.1 176.3L412.6 176.5L414.1 174.9L415.4 174.2L416.3 174.0L416.9 174.2L417.2 174.6L418.8 177.5L419.1 179.0L418.8 180.8L417.7 182.7L417.4 184.3L417.0 184.9L416.3 185.3ZM200.6 178.8L200.0 178.7L200.0 176.8L200.3 176.3L200.9 176.1L201.5 176.8L201.6 177.4L201.2 178.2L200.6 178.8ZM269.8 182.1L269.2 182.1L268.3 181.9L267.6 181.5L267.0 180.8L266.4 179.6L266.2 178.6L266.3 177.7L266.7 177.1L267.3 176.8L268.6 176.8L269.2 177.0L269.6 177.4L270.5 181.1L270.4 181.8L269.8 182.1ZM220.6 178.0L220.2 178.0L219.9 177.7L220.3 177.4L220.6 177.4L220.8 177.7L220.6 178.0ZM424.4 178.4L424.4 177.5L424.4 178.4ZM206.9 194.6L206.2 194.7L205.6 194.5L204.9 193.9L204.1 192.8L203.4 192.4L202.2 192.5L200.0 193.3L200.0 190.7L202.0 189.6L202.6 188.9L202.7 186.7L203.9 184.6L204.5 182.1L205.5 179.9L205.9 178.3L206.2 177.8L206.5 177.7L207.2 178.1L208.7 180.5L209.1 181.8L209.0 183.6L210.7 185.5L211.1 186.7L211.0 187.4L210.6 187.7L209.2 188.3L208.4 188.9L206.9 190.8L206.8 191.4L207.4 192.7L207.5 193.3L207.3 193.9L206.9 194.6ZM388.2 182.4L388.5 182.1L387.2 180.5L386.7 178.6L386.4 178.5L386.1 178.6L385.5 179.3L385.2 179.9L385.5 181.1L386.1 181.8L386.7 182.2L387.3 182.4L388.2 182.4ZM414.2 181.8L415.1 181.4L415.3 181.1L415.3 180.5L414.7 179.2L413.8 178.6L413.5 178.7L413.2 179.3L413.0 180.8L413.5 181.6L414.2 181.8ZM275.4 181.6L274.2 181.7L273.7 181.4L273.7 181.1L274.5 180.3L275.4 180.1L275.7 180.4L275.9 180.8L275.7 181.4L275.4 181.6ZM219.0 198.0L218.1 198.2L216.2 198.1L215.0 198.3L214.3 197.9L213.4 196.8L213.1 195.8L213.2 194.9L213.7 194.6L215.0 194.7L215.5 194.2L215.4 193.6L214.0 192.7L213.7 192.1L213.6 190.2L214.0 189.1L216.5 187.0L217.1 186.8L219.3 187.1L220.6 186.4L221.3 185.5L221.9 183.3L222.6 181.8L223.1 180.9L223.7 180.4L224.3 180.4L225.0 180.8L226.8 184.4L227.4 185.3L228.1 185.8L228.7 185.4L229.4 184.3L230.0 183.0L230.3 181.4L230.5 181.0L231.2 180.7L232.1 180.6L233.3 181.2L234.3 182.2L234.8 183.0L235.0 183.9L234.9 184.6L234.6 185.2L232.7 186.6L230.9 188.6L227.9 191.4L227.6 192.1L227.2 194.2L226.8 195.5L226.2 195.6L224.9 195.2L224.2 194.5L223.4 193.0L222.8 192.9L222.1 193.2L219.9 195.2L219.6 195.8L219.5 197.4L219.0 198.0ZM347.4 184.4L346.5 184.5L345.5 184.1L344.6 183.0L344.6 182.4L345.3 181.8L346.2 181.3L346.8 181.1L347.4 181.2L347.7 181.4L348.0 182.4L347.8 183.6L347.4 184.4ZM282.6 188.2L279.5 186.7L277.7 185.2L277.3 184.6L277.2 183.6L277.3 182.9L277.6 182.5L278.2 182.3L278.9 182.3L281.0 183.5L282.9 183.7L283.5 184.0L283.9 184.6L283.9 185.5L282.9 188.0L282.6 188.2ZM404.8 183.1L404.5 183.1L404.1 182.9L404.2 182.4L405.0 182.4L405.1 182.7L404.8 183.1ZM248.6 189.9L247.7 190.0L246.8 189.5L246.0 185.8L246.0 185.2L246.4 184.6L248.0 184.0L249.5 184.3L249.9 184.9L249.3 188.9L249.0 189.6L248.6 189.9ZM400.7 187.7L399.8 187.7L398.7 187.1L397.7 185.8L397.8 185.2L398.2 185.0L398.8 184.9L399.7 185.2L400.4 185.7L401.0 186.4L401.2 187.1L401.1 187.4L400.7 187.7ZM329.0 191.2L328.4 191.1L327.8 190.9L327.4 190.5L327.2 189.9L327.5 188.6L328.6 187.1L329.3 186.7L330.9 186.6L332.1 186.3L332.8 186.3L333.4 186.6L333.7 187.4L333.2 188.3L330.9 190.5L330.0 190.9L329.0 191.2ZM408.8 189.0L408.2 189.1L407.9 189.0L407.3 188.3L407.0 187.7L407.0 187.1L407.3 186.5L407.6 186.2L407.9 186.2L408.5 186.4L409.3 187.4L409.5 188.3L408.8 189.0ZM380.9 187.4L381.2 187.1L381.3 186.7L381.1 186.5L380.5 186.7L380.3 187.1L380.5 187.4L380.9 187.4ZM320.0 189.6L319.0 189.6L318.9 189.2L319.0 188.6L319.3 188.0L319.7 187.7L320.6 187.7L321.1 188.0L321.3 188.6L320.7 189.2L320.0 189.6ZM359.9 192.5L359.3 192.5L358.6 192.4L358.0 192.1L357.3 191.4L356.8 190.5L356.5 189.6L356.5 188.6L356.8 188.2L357.4 188.2L358.3 188.6L359.9 190.1L360.3 190.8L360.4 191.4L360.2 192.1L359.9 192.5ZM244.6 192.4L243.6 192.6L242.7 192.2L241.9 191.1L242.0 190.5L242.9 189.9L243.6 189.6L244.6 189.6L245.2 189.9L245.5 190.5L245.4 191.1L245.2 191.8L244.6 192.4ZM237.1 195.2L236.2 195.4L234.9 195.2L234.0 194.8L233.3 194.2L232.9 193.3L232.7 192.4L232.7 191.1L233.0 190.5L233.7 190.5L236.2 191.3L238.6 191.0L239.1 191.1L239.2 191.7L238.6 193.6L238.0 194.5L237.1 195.2ZM282.3 195.2L281.7 195.2L281.0 194.7L280.7 193.9L280.6 193.3L281.1 192.7L282.9 191.6L283.8 190.5L284.1 190.4L284.9 191.1L285.0 191.7L284.8 192.4L283.9 194.2L283.1 194.9L282.3 195.2ZM406.6 193.6L406.0 193.8L405.5 193.6L405.3 193.0L405.3 192.1L405.4 191.3L405.7 190.8L406.3 190.5L406.9 190.5L407.6 190.8L407.8 191.4L407.9 192.1L407.5 193.0L406.6 193.6ZM413.5 192.4L413.1 192.1L413.3 191.1L413.8 190.5L414.4 190.3L414.8 190.8L414.7 191.4L414.1 192.1L413.5 192.4ZM423.8 193.6L422.8 193.7L421.9 193.3L421.3 192.7L421.3 192.0L422.0 191.4L424.4 190.8L424.4 193.4L423.8 193.6ZM350.3 194.2L350.5 193.9L350.6 193.3L350.3 192.7L349.9 192.4L349.0 191.9L348.4 191.8L347.7 191.9L347.3 192.4L346.9 193.6L347.1 194.4L349.3 194.5L350.3 194.2ZM385.8 193.8L385.1 193.8L384.8 193.3L384.9 192.7L385.4 192.1L385.8 192.1L386.1 192.7L386.1 193.3L385.8 193.8ZM342.4 196.4L342.8 196.1L342.9 195.5L342.5 194.5L341.8 193.5L340.6 192.5L339.9 192.4L339.2 192.7L338.8 193.3L338.7 193.9L339.3 195.1L340.2 195.9L341.2 196.4L341.8 196.5L342.4 196.4ZM256.4 199.9L255.5 199.9L253.6 199.7L252.0 199.2L251.6 198.9L251.6 198.6L251.9 198.0L252.7 197.4L254.2 195.1L256.1 193.6L256.7 193.4L257.3 193.8L258.0 194.5L259.2 196.1L259.5 196.7L259.4 197.4L258.4 198.6L257.0 199.6L256.4 199.9ZM360.8 197.7L359.8 197.4L359.2 196.7L359.1 196.4L359.9 194.2L360.2 193.8L360.5 193.7L361.1 194.0L361.4 194.4L361.7 195.5L361.4 197.1L360.8 197.7ZM238.3 201.7L237.7 202.0L237.1 202.0L236.3 201.4L236.1 200.5L236.5 199.2L237.1 198.3L237.7 197.7L239.3 196.9L240.5 196.0L241.5 195.8L241.8 196.1L242.1 196.6L242.0 197.4L240.3 198.3L239.3 200.5L238.3 201.7ZM229.0 202.1L228.4 202.2L228.1 201.7L226.9 198.3L226.9 197.0L227.1 196.6L227.4 196.5L228.7 196.6L230.5 196.1L231.5 196.3L232.1 196.7L232.5 197.7L232.7 198.9L232.5 199.9L231.9 200.5L229.0 202.1ZM409.1 204.9L408.2 204.8L406.9 203.8L406.1 202.7L406.0 201.6L406.6 200.5L407.7 199.5L409.8 197.1L411.0 196.3L411.6 196.2L412.2 196.7L412.9 197.7L413.1 198.6L413.1 199.5L412.5 200.5L411.6 201.0L409.1 200.8L408.9 201.1L408.9 201.7L409.5 204.5L409.1 204.9ZM394.5 198.3L394.9 197.7L394.8 197.2L393.8 197.7L393.5 198.3L393.9 198.6L394.5 198.3ZM208.1 204.9L207.5 205.0L206.5 204.4L205.2 202.3L204.8 201.1L205.0 200.8L205.6 200.5L208.1 199.6L209.0 199.6L210.1 200.2L210.5 201.1L209.0 203.8L208.1 204.9ZM215.9 203.0L214.5 203.0L214.0 202.7L213.6 202.0L213.4 201.4L213.6 200.8L214.6 199.7L215.3 199.7L216.2 201.1L216.5 202.6L216.2 202.9L215.9 203.0ZM248.6 204.0L248.0 204.0L247.7 203.8L247.3 203.3L247.2 202.7L247.4 202.0L247.7 201.6L248.3 201.2L248.9 201.0L249.6 201.4L249.7 202.3L249.2 203.5L248.6 204.0ZM412.9 206.7L411.9 206.7L411.1 206.4L410.4 205.8L410.1 205.2L410.6 204.8L411.9 204.6L412.9 204.3L415.7 201.7L417.5 201.2L418.2 201.2L418.6 201.4L418.8 201.7L418.8 202.7L418.5 203.6L417.9 204.6L414.7 206.1L412.9 206.7ZM366.1 204.5L364.9 204.8L363.3 204.5L362.3 203.6L362.0 203.0L362.1 202.3L362.4 202.0L363.0 201.8L365.2 201.8L366.1 202.0L366.7 202.7L366.9 203.3L366.7 203.9L366.1 204.5ZM351.2 215.0L350.2 215.0L349.9 214.7L349.0 213.3L347.4 212.7L346.8 212.3L346.1 211.4L345.1 208.9L344.6 206.4L344.7 205.5L346.5 203.4L347.7 202.6L348.7 202.8L349.7 203.6L350.2 204.5L350.5 206.4L350.8 207.2L353.0 208.6L353.8 209.5L354.0 210.1L353.9 210.8L353.5 211.4L351.8 212.6L351.7 213.0L351.7 214.5L351.2 215.0ZM236.8 206.5L236.2 206.6L235.5 206.4L235.0 206.1L234.6 205.5L234.3 204.8L234.3 203.9L234.6 203.2L234.9 202.8L235.5 202.7L236.2 202.9L237.7 203.7L238.3 204.2L238.4 204.8L238.0 205.5L237.4 206.1L236.8 206.5ZM369.5 244.5L367.4 244.6L366.1 244.3L365.6 243.8L365.5 243.2L366.0 241.3L366.6 236.7L366.4 236.0L366.1 235.7L364.9 235.2L363.6 235.2L361.1 235.6L360.5 235.5L358.9 234.5L358.3 234.6L357.8 235.1L357.3 236.0L357.1 237.0L357.2 237.6L357.7 238.3L358.3 238.3L359.6 238.0L360.1 238.2L360.3 239.2L359.9 240.0L358.9 240.8L358.3 240.9L356.8 240.7L356.1 241.0L355.4 241.7L355.2 242.3L355.2 242.6L355.8 243.2L356.8 243.8L356.8 244.1L356.0 244.1L355.1 243.8L353.2 242.0L353.2 241.3L353.5 238.8L353.9 237.9L354.7 236.7L355.0 235.7L354.7 234.8L353.3 232.9L353.2 232.3L353.3 231.6L354.0 231.0L354.9 230.8L358.0 230.9L360.2 231.3L361.4 231.2L362.1 230.7L362.7 227.6L362.4 226.4L361.0 223.2L360.2 222.4L358.3 221.4L358.0 220.7L357.5 218.6L355.5 216.8L354.8 215.4L354.8 214.5L355.4 212.3L354.7 210.5L354.8 209.5L356.5 206.3L357.1 205.4L357.7 205.0L358.3 205.0L358.9 205.4L359.3 206.1L359.5 207.0L358.6 210.0L357.8 211.7L357.8 212.3L358.0 212.8L358.6 213.2L359.3 213.0L361.1 210.8L361.8 210.3L362.4 210.2L363.0 210.4L363.6 211.0L364.1 212.0L364.4 213.0L364.3 213.6L363.9 214.4L362.1 216.0L359.6 215.2L358.8 215.4L358.3 216.1L358.1 216.7L358.0 217.3L358.3 217.9L358.9 218.5L359.9 218.5L360.5 218.2L361.8 217.0L362.1 216.9L362.4 217.0L363.9 218.6L364.1 219.2L364.2 221.4L364.6 222.3L365.2 223.0L365.8 223.5L366.4 223.6L368.0 223.2L368.6 223.2L369.5 223.9L370.4 225.1L370.2 225.7L369.8 226.1L367.4 227.0L366.4 227.6L365.9 229.5L365.0 231.7L365.3 232.6L367.3 234.5L367.8 236.0L368.3 236.7L369.2 237.2L371.1 237.0L371.4 237.3L371.6 238.2L371.6 241.3L370.8 242.6L370.4 243.8L370.2 244.2L369.5 244.5ZM421.6 213.4L420.7 213.5L420.1 212.3L418.5 210.8L418.3 209.5L418.8 207.8L419.6 206.4L420.7 205.6L421.9 205.3L422.5 205.5L423.1 206.1L423.6 209.5L423.2 212.3L422.6 213.0L421.6 213.4ZM331.2 206.7L331.6 206.4L331.7 206.1L331.4 205.8L330.9 205.8L330.2 206.4L330.3 206.9L331.2 206.7ZM208.1 210.5L207.8 210.6L207.2 210.4L206.5 209.8L206.0 208.9L205.9 207.7L206.2 207.0L206.9 206.4L207.5 206.1L209.7 206.3L212.5 205.8L213.1 205.9L213.7 206.3L214.1 207.3L213.7 208.4L213.1 208.6L211.2 208.4L210.3 208.6L209.3 209.2L208.1 210.5ZM239.6 213.9L238.6 213.7L238.0 213.2L237.7 212.3L238.0 211.7L239.0 211.4L240.8 211.4L243.0 209.8L246.4 207.0L247.4 206.6L248.0 206.7L248.6 207.2L249.6 209.6L250.2 210.4L251.2 211.1L251.3 211.4L251.0 211.7L250.2 212.0L247.7 211.6L246.4 211.6L245.2 212.1L243.3 213.2L242.4 213.3L241.1 213.0L239.6 213.9ZM231.5 214.9L230.2 214.9L229.6 214.5L228.3 211.4L227.0 209.5L226.9 208.9L227.1 208.5L228.1 208.2L229.3 208.4L231.2 209.2L232.2 210.1L233.2 212.3L233.3 213.6L232.7 214.4L231.5 214.9ZM215.9 212.7L215.0 212.7L214.3 212.1L214.3 210.8L214.6 210.1L215.3 210.3L216.0 211.1L216.3 212.0L215.9 212.7ZM390.2 214.5L391.1 213.3L391.3 211.4L391.1 210.3L390.7 210.0L390.1 209.9L389.5 210.0L388.9 210.4L387.2 212.0L387.2 212.3L387.7 213.3L388.6 214.1L389.5 214.6L390.2 214.5ZM201.9 212.1L201.2 212.0L200.7 211.4L200.6 210.8L200.8 210.5L201.2 210.2L202.1 210.5L202.6 211.1L202.6 211.7L201.9 212.1ZM410.7 226.4L409.8 226.0L409.1 225.1L408.5 224.0L408.3 222.9L408.5 221.1L408.5 220.1L406.8 214.8L406.9 213.6L407.2 212.6L407.9 211.7L408.5 211.3L409.8 211.5L411.3 212.3L411.5 213.0L411.7 214.8L412.0 215.8L412.6 216.3L413.2 216.6L415.7 217.0L417.9 218.1L419.7 218.0L420.3 218.4L420.6 218.9L420.4 219.5L418.8 220.3L418.1 221.1L417.9 222.0L418.1 224.2L417.5 224.5L416.6 224.3L416.0 223.8L415.6 223.2L415.1 221.4L414.4 220.5L413.5 220.1L412.6 220.4L412.2 220.9L411.9 221.7L411.6 225.4L411.3 226.1L410.7 226.4ZM211.8 231.1L211.2 231.0L209.0 230.2L206.9 230.0L206.4 229.8L206.0 229.2L205.5 227.6L204.7 226.1L205.8 222.9L206.2 222.5L207.5 221.9L208.0 221.4L209.2 218.6L209.3 217.3L208.6 215.8L208.4 214.8L208.4 213.0L208.7 212.6L210.2 213.6L212.2 214.4L212.7 214.8L213.1 215.5L214.0 218.6L214.0 219.2L213.6 219.8L211.0 222.0L210.7 222.6L210.8 222.9L211.3 223.2L212.8 223.7L213.4 223.7L215.0 223.4L215.3 223.9L215.4 226.4L215.3 227.1L214.0 228.6L212.8 230.6L211.8 231.1ZM228.7 237.1L228.1 237.0L226.5 235.7L225.6 235.4L223.1 235.3L221.2 234.9L219.3 234.8L217.7 233.9L217.3 233.2L217.4 232.6L218.0 232.0L221.5 230.7L222.6 229.8L223.2 228.9L223.3 228.2L222.9 227.6L221.5 225.9L219.9 224.6L219.3 223.9L218.7 222.6L218.5 221.7L219.0 220.8L221.8 218.7L223.1 217.9L223.6 217.3L223.7 216.7L222.4 214.8L222.1 213.9L222.4 213.3L223.4 212.9L224.6 212.8L225.2 213.1L225.5 213.9L225.6 215.1L225.8 215.8L226.5 216.1L228.1 216.2L229.0 216.7L231.1 219.2L231.6 220.4L231.7 224.8L231.2 226.1L230.2 226.5L228.1 226.4L227.1 226.6L226.2 227.2L225.8 227.9L225.8 228.9L226.8 230.7L227.4 231.4L229.3 232.9L230.2 234.2L230.2 234.8L230.0 235.4L229.3 236.5L228.7 237.1ZM370.2 214.9L369.5 214.8L368.6 214.3L368.4 213.9L368.5 213.3L369.5 212.9L370.7 213.0L370.9 213.3L370.8 214.1L370.5 214.7L370.2 214.9ZM237.1 224.5L236.2 224.7L235.2 224.5L234.5 223.9L234.0 222.6L234.1 221.4L235.0 219.2L235.2 217.3L235.5 216.7L235.8 216.5L236.5 216.3L238.6 216.6L240.2 215.7L240.8 215.5L241.5 215.7L243.0 216.6L243.9 216.9L246.4 217.3L247.7 216.8L248.3 216.8L249.0 217.3L249.2 217.9L249.0 218.3L248.6 218.5L246.8 218.4L244.9 219.5L242.4 219.7L239.6 221.1L238.7 222.0L238.0 223.9L237.1 224.5ZM280.2 218.6L279.8 216.7L278.7 218.3L278.8 218.6L279.2 218.7L279.8 218.7L280.2 218.6ZM373.9 219.1L373.3 218.8L373.0 218.0L373.2 217.3L373.6 217.1L374.2 217.3L374.3 217.6L374.3 218.6L373.9 219.1ZM353.0 228.6L352.1 228.8L351.5 228.7L350.7 228.2L350.0 227.6L349.5 226.4L349.6 224.5L349.3 224.0L348.4 223.8L346.2 224.5L345.2 224.5L343.1 223.0L341.8 223.3L341.2 223.1L340.9 222.8L340.8 222.3L341.2 221.9L342.9 221.4L346.2 218.1L347.1 217.8L347.7 217.8L348.4 218.3L349.4 219.5L352.0 221.1L352.3 222.0L352.1 223.2L352.2 223.9L353.0 224.4L354.9 225.3L355.8 226.4L356.0 227.0L355.7 227.6L353.0 228.6ZM241.5 227.6L240.2 227.4L239.5 227.0L238.8 226.1L238.8 225.1L239.0 224.8L239.6 224.5L243.0 224.2L243.3 224.8L242.9 226.1L242.1 227.5L241.5 227.6ZM293.8 226.5L293.2 226.4L293.0 225.7L293.4 225.1L293.8 225.0L294.2 225.1L294.3 225.7L293.8 226.5ZM243.3 242.0L242.1 242.2L241.3 242.0L240.9 241.3L240.6 239.2L240.0 238.2L234.6 235.2L233.7 234.5L233.4 233.9L233.6 232.9L235.0 231.7L238.0 230.3L240.8 229.8L241.3 229.5L242.1 228.3L242.7 228.1L244.3 228.3L245.6 228.9L246.5 229.5L247.2 230.4L247.7 231.7L247.4 232.6L246.4 233.1L244.3 233.2L243.6 233.4L243.0 234.2L243.0 234.8L243.6 235.4L247.3 237.6L248.2 238.5L247.8 239.2L246.1 241.1L243.3 242.0ZM419.1 232.3L417.9 232.4L416.8 232.0L416.2 231.4L416.0 230.7L416.1 230.1L416.3 229.8L416.9 229.6L417.9 229.6L418.8 229.9L419.6 230.4L420.2 231.0L420.2 231.4L419.6 232.0L419.1 232.3ZM205.6 244.5L204.4 244.5L200.0 244.1L200.0 240.0L200.1 239.2L200.0 237.8L200.0 230.0L200.6 230.0L202.5 231.4L205.0 232.5L207.1 235.4L205.9 236.5L205.2 238.2L205.3 239.2L206.3 239.8L208.1 240.4L209.0 240.5L214.4 237.6L215.9 237.0L216.8 237.0L217.8 237.2L218.4 237.5L218.7 237.9L218.8 238.5L218.7 239.1L218.1 240.0L215.6 240.1L214.3 240.4L213.7 241.0L212.9 242.9L212.5 243.4L211.5 243.4L210.0 242.3L209.0 242.2L207.2 244.1L205.6 244.5ZM265.4 235.5L264.5 235.6L263.3 235.2L261.2 233.9L260.7 233.2L260.5 232.3L260.7 231.7L262.3 230.2L263.3 230.0L263.9 230.5L264.6 231.4L265.9 234.8L265.9 235.1L265.4 235.5ZM424.4 236.8L423.1 234.5L422.6 231.4L423.0 230.7L424.4 230.0L424.4 236.8ZM372.0 232.7L371.7 232.9L371.5 232.6L372.0 231.4L372.7 230.8L373.3 230.8L373.3 231.4L372.0 232.7ZM389.8 244.1L384.2 244.3L383.5 244.1L381.7 243.3L380.5 242.2L379.8 241.9L377.6 242.2L377.2 242.0L377.0 241.3L377.1 240.7L377.6 240.1L378.6 239.4L378.9 238.8L378.7 236.0L379.8 233.2L379.8 231.4L379.8 231.0L380.1 230.8L381.7 231.3L383.6 231.5L384.5 232.0L384.5 232.6L383.5 234.2L383.1 235.1L383.2 236.3L383.9 237.0L386.2 237.3L386.5 238.8L386.8 239.5L388.6 239.7L389.5 240.4L390.5 242.0L390.7 242.9L390.4 243.8L389.8 244.1ZM387.9 236.7L387.0 236.7L386.8 236.0L387.9 232.2L388.2 231.5L388.6 231.3L389.5 233.0L389.7 234.2L388.9 236.0L387.9 236.7ZM409.1 237.7L408.8 237.9L408.4 237.6L408.2 236.0L408.3 234.5L409.0 232.9L409.4 232.5L410.1 232.4L410.7 232.7L411.0 233.2L411.0 234.8L410.5 236.0L409.1 237.7ZM347.1 233.6L347.0 233.5L347.1 233.4L347.1 233.6ZM294.8 237.3L295.7 236.7L295.8 235.7L294.9 234.2L294.4 233.8L293.8 233.8L293.2 234.1L292.9 234.8L292.9 236.3L293.2 237.1L293.5 237.4L294.1 237.5L294.8 237.3ZM338.4 243.6L337.4 243.7L336.8 243.5L336.6 243.2L336.7 242.3L336.6 241.7L334.7 239.2L334.5 238.5L334.6 237.6L335.3 235.4L335.9 234.6L339.9 233.9L340.6 234.5L340.6 235.1L340.1 237.0L340.0 237.9L340.2 238.6L340.9 239.3L341.2 239.5L341.5 239.3L342.7 238.2L344.0 237.9L344.9 238.1L345.5 238.5L345.7 238.8L345.7 239.5L344.9 241.2L344.3 241.8L343.7 241.8L341.8 240.6L341.5 240.5L341.2 240.6L339.2 242.6L338.7 243.5L338.4 243.6ZM208.1 235.4L207.7 235.4L208.1 235.4ZM253.0 242.7L251.7 242.7L250.8 242.1L250.3 241.3L249.0 238.5L249.8 237.6L252.0 235.9L253.0 236.0L257.3 238.9L259.8 239.8L260.2 240.4L260.1 241.3L259.7 242.0L259.2 242.3L258.3 242.3L256.7 241.5L255.8 241.3L255.2 241.4L253.0 242.7ZM416.0 241.5L415.4 241.6L414.4 241.3L413.8 240.7L413.6 240.1L413.3 238.8L413.3 237.6L413.5 236.8L414.1 236.3L414.7 236.3L415.7 236.7L416.3 237.3L416.5 237.9L416.7 238.8L416.6 240.4L416.4 241.0L416.0 241.5ZM311.3 240.8L310.8 240.4L310.7 239.8L311.0 239.0L311.3 238.8L311.6 239.0L311.8 239.8L311.6 240.6L311.3 240.8ZM396.7 244.2L395.4 244.3L394.2 244.0L392.8 242.9L392.4 242.3L392.6 241.7L393.9 240.3L394.8 239.0L395.4 238.6L399.2 238.9L401.6 240.2L402.6 240.1L404.8 238.9L405.7 239.1L406.3 239.8L406.4 240.4L406.3 241.3L405.7 242.1L402.6 242.6L400.7 243.7L398.2 243.5L396.7 244.2ZM320.3 244.2L319.4 244.0L318.7 243.7L317.4 241.3L317.2 240.7L317.5 239.9L318.1 239.3L318.7 239.0L319.7 238.9L320.2 239.5L321.7 242.9L321.7 243.5L321.5 243.8L320.3 244.2ZM233.3 244.2L231.8 244.3L231.2 243.8L231.1 242.6L231.4 240.7L231.8 240.0L232.4 239.7L233.0 239.7L233.7 240.1L234.1 240.7L234.4 241.3L234.4 242.3L234.3 243.4L234.0 243.8L233.3 244.2ZM424.4 244.0L423.2 243.8L422.7 243.2L423.0 242.3L424.4 240.6L424.4 244.0ZM219.0 244.2L217.5 244.3L217.0 244.1L216.9 243.8L217.5 242.0L218.1 241.1L218.4 240.9L219.0 241.0L219.6 241.3L220.1 242.3L219.8 243.5L219.0 244.2ZM361.8 244.2L360.2 244.2L359.7 243.8L362.7 241.8L363.3 241.7L363.7 242.0L364.0 242.9L363.8 243.5L363.0 243.9L361.8 244.2ZM325.9 243.8L325.3 243.7L324.7 243.4L324.5 242.9L324.7 242.1L325.0 242.0L325.6 242.4L326.1 243.5L325.9 243.8ZM314.4 244.2L312.2 244.1L307.5 244.4L306.6 244.3L306.1 243.8L306.6 243.1L307.5 242.9L309.4 243.2L313.8 243.3L314.4 243.5L314.6 243.8L314.4 244.2ZM411.9 244.2L411.3 244.3L410.7 244.3L410.4 244.1L410.3 243.8L410.7 243.5L411.6 243.4L412.0 243.5L412.1 243.8L411.9 244.2Z" fill="#ffc800" fill-rule="evenodd"/>
<path d="M392.0 178.6L390.7 178.3L388.6 175.6L387.9 175.2L387.3 175.3L386.7 175.6L384.8 177.4L383.3 177.8L380.8 177.8L378.3 176.5L375.8 177.6L373.0 177.1L370.2 177.9L367.4 177.5L364.9 177.9L363.6 177.6L360.5 176.0L358.9 175.6L356.5 175.7L355.8 176.0L354.3 177.1L353.3 177.3L352.7 177.2L352.0 176.8L350.5 175.2L350.2 174.3L350.5 173.6L351.2 173.2L352.1 172.9L353.7 172.8L354.3 172.5L354.9 171.8L355.1 170.5L355.5 170.2L356.1 170.3L357.7 171.5L360.2 172.8L361.4 173.8L362.1 173.8L363.0 173.2L363.7 172.4L365.3 168.3L366.1 167.7L366.7 167.6L367.4 167.9L368.6 169.2L369.2 169.5L372.0 169.6L373.0 169.8L375.8 170.9L377.0 172.4L378.0 173.0L378.6 173.2L379.2 173.0L379.8 172.7L380.8 171.9L382.9 171.5L383.4 170.8L383.3 169.9L382.9 169.4L381.4 168.6L380.8 167.7L380.7 166.8L381.1 165.5L381.0 164.3L381.1 164.0L381.4 163.8L381.7 163.9L383.5 165.5L384.8 166.0L385.8 165.9L388.2 164.8L390.7 164.8L391.7 165.1L395.4 168.3L395.9 169.0L395.9 169.3L395.3 170.2L394.2 171.1L393.2 171.4L390.7 171.5L390.2 171.8L389.7 172.4L389.8 173.1L390.9 173.6L392.6 173.8L393.7 174.6L395.1 175.1L396.7 173.7L397.3 173.5L398.2 173.4L399.5 174.1L400.5 175.5L400.6 176.1L400.4 177.1L400.1 177.5L399.5 177.9L397.3 177.9L396.7 177.6L395.4 176.7L395.1 176.6L393.2 178.3L392.0 178.6ZM240.5 170.4L240.2 170.4L239.3 169.6L238.6 169.6L236.5 168.8L234.9 168.5L233.9 167.4L233.3 167.0L232.7 167.0L230.9 168.0L227.7 167.7L227.6 167.4L228.4 167.0L229.9 165.5L230.9 165.0L234.9 165.9L238.0 166.0L239.0 166.5L240.2 168.0L240.7 169.3L240.7 170.2L240.5 170.4ZM224.9 166.7L224.4 166.5L224.3 166.1L224.6 165.9L224.9 166.1L225.2 166.5L224.9 166.7ZM217.5 169.0L216.5 169.1L215.9 168.8L215.2 167.7L215.3 167.0L215.9 166.6L216.8 166.5L217.8 166.7L218.4 167.1L218.6 167.4L218.5 168.0L217.5 169.0ZM401.0 169.0L400.1 169.2L399.2 168.9L398.6 168.3L398.6 167.7L399.2 167.1L399.8 166.7L400.4 166.6L401.0 166.6L401.6 167.1L401.7 167.7L401.6 168.3L401.0 169.0ZM409.4 168.4L408.8 168.6L407.9 168.1L407.5 167.7L407.6 167.1L408.5 166.8L409.4 167.2L409.8 167.7L409.8 168.0L409.4 168.4ZM222.8 169.4L222.1 169.4L221.7 168.7L221.8 168.2L222.4 167.8L223.1 167.9L223.3 168.3L223.1 169.0L222.8 169.4ZM265.4 174.0L264.2 174.1L263.6 173.7L263.2 172.7L263.6 172.1L264.2 171.8L264.8 171.8L266.1 172.1L266.6 172.4L266.7 172.7L266.5 173.3L265.4 174.0ZM339.0 174.3L337.4 174.1L336.6 173.6L336.3 173.0L336.4 172.7L337.1 172.4L338.7 172.3L339.3 172.4L339.9 173.0L340.1 173.6L339.9 174.0L339.0 174.3ZM253.3 176.8L253.0 177.0L252.4 176.8L250.8 175.5L247.7 173.6L247.1 172.7L247.4 172.5L248.0 172.4L249.9 172.9L252.0 172.7L253.6 173.0L253.9 173.3L254.0 173.6L253.7 174.9L253.7 176.1L253.3 176.8ZM346.5 176.5L344.6 176.5L343.7 176.1L343.6 175.8L343.7 175.5L345.0 174.0L345.5 173.6L346.2 173.4L346.8 173.5L347.4 173.8L347.9 174.3L348.2 174.9L348.2 175.5L348.0 175.8L347.4 176.2L346.5 176.5ZM266.1 188.9L265.4 188.7L265.2 188.3L265.2 188.0L265.4 187.7L266.1 187.7L266.4 188.0L266.4 188.6L266.1 188.9ZM376.1 197.4L375.2 197.2L372.7 195.5L371.1 195.0L369.5 193.4L369.1 192.7L369.1 192.1L369.4 191.4L370.2 190.5L371.1 190.0L372.7 189.8L373.8 190.2L374.5 190.8L374.6 191.4L374.5 192.7L374.8 193.3L375.2 193.5L376.1 193.4L377.6 194.9L377.7 195.2L377.7 195.8L377.3 196.7L376.7 197.2L376.1 197.4ZM256.7 199.6L255.5 199.7L254.5 199.4L253.7 198.6L253.4 198.0L253.4 197.0L254.0 195.8L254.9 195.0L255.8 194.7L256.7 194.7L257.3 195.0L258.2 196.1L258.7 197.0L258.7 197.7L258.4 198.3L257.8 198.9L256.7 199.6ZM272.6 197.8L272.0 197.4L272.0 197.0L272.3 196.8L272.8 197.0L273.0 197.4L272.9 197.7L272.6 197.8ZM308.8 204.0L308.1 204.0L307.2 203.8L306.0 203.1L304.7 202.1L303.0 200.2L302.7 199.2L303.0 198.6L305.0 197.4L306.3 197.3L306.9 197.4L308.2 198.6L308.8 198.9L310.6 198.3L312.2 198.4L313.1 198.9L313.4 199.2L313.4 199.9L312.8 201.6L312.5 201.8L310.6 202.7L308.8 204.0ZM331.8 227.3L330.9 227.5L329.7 227.2L326.5 224.8L322.8 224.4L322.2 224.2L321.5 222.9L321.5 221.1L321.3 220.4L319.7 219.7L319.2 219.2L318.9 218.3L319.0 217.3L319.4 216.1L320.5 214.5L320.3 213.6L320.4 213.0L321.9 211.4L321.6 211.3L320.6 211.7L319.1 213.0L318.7 212.9L318.3 212.3L318.3 211.1L318.8 210.5L319.4 210.1L320.9 209.9L321.7 209.5L322.6 207.7L323.0 206.1L322.8 205.5L322.3 205.2L319.1 204.7L318.4 204.3L317.5 203.4L316.9 203.4L315.3 203.8L314.7 203.5L314.4 203.0L314.3 202.3L314.6 200.8L314.7 199.5L315.0 198.9L315.6 198.4L317.2 197.9L320.6 197.3L323.4 198.1L325.0 198.9L327.2 199.1L329.0 198.1L330.6 198.0L334.6 198.8L335.4 199.2L336.3 200.5L338.7 200.5L339.9 200.9L340.4 201.4L340.6 202.0L340.4 202.7L339.6 203.4L338.4 203.6L336.2 203.1L335.9 203.3L335.1 204.5L334.3 205.3L333.1 205.7L330.8 205.5L330.0 206.0L329.4 206.7L329.1 208.0L329.7 208.1L330.3 208.2L331.2 207.5L332.5 207.2L333.4 207.4L334.0 207.9L336.3 210.5L336.7 211.4L337.0 213.3L337.0 214.5L336.0 217.9L336.3 220.4L335.8 222.3L335.0 223.8L334.7 224.8L334.3 225.6L333.1 226.6L331.8 227.3ZM274.2 207.1L273.2 207.1L272.3 206.7L272.0 206.4L271.5 204.8L269.3 203.0L269.2 202.3L269.3 202.0L269.8 201.6L270.4 201.4L274.2 201.2L274.7 201.1L275.7 200.4L276.7 200.4L277.0 200.8L277.0 201.1L275.8 202.0L275.7 202.7L276.4 205.2L276.4 205.8L275.7 206.3L274.2 207.1ZM384.8 211.4L383.9 211.7L382.6 211.5L379.8 210.3L378.6 209.0L378.3 209.0L376.7 209.7L375.8 209.8L375.2 209.7L374.5 209.2L374.0 208.3L373.2 207.7L373.0 207.0L373.1 206.4L374.5 204.6L375.2 204.2L376.1 204.3L378.3 206.0L378.9 206.2L381.7 205.0L382.9 204.9L383.9 205.1L384.7 205.8L385.1 206.7L386.0 207.7L386.2 208.6L386.0 210.1L384.8 211.4ZM328.6 208.0L327.2 207.5L326.5 207.6L326.2 208.0L328.6 208.0ZM256.7 212.1L256.3 212.0L255.8 211.7L255.7 211.4L255.8 210.8L256.7 209.7L257.7 209.4L257.9 209.5L257.9 209.8L257.6 211.1L257.3 211.7L256.7 212.1ZM399.2 227.4L398.2 227.3L397.0 225.4L395.7 224.7L394.2 224.7L392.0 225.2L389.1 224.5L389.0 224.2L389.1 223.9L389.8 223.3L391.4 223.3L392.0 222.9L392.1 222.6L392.1 221.7L391.6 221.1L391.1 220.8L389.2 220.5L388.2 220.0L386.6 218.3L386.3 217.6L387.3 216.7L388.2 216.6L390.1 217.6L391.1 219.1L391.7 219.4L392.3 219.2L392.6 218.6L391.8 217.3L391.6 216.4L392.0 215.1L392.6 214.5L393.5 214.0L395.7 213.3L396.0 213.0L396.7 211.4L397.3 210.6L397.9 210.2L398.5 210.2L399.2 210.0L399.8 210.2L400.4 210.7L400.8 211.4L400.8 212.0L400.7 212.6L400.1 213.3L399.2 215.1L399.2 215.8L400.7 217.9L401.6 220.1L403.8 222.3L404.1 223.6L404.0 224.8L403.6 225.4L403.2 225.5L402.6 225.1L401.3 225.1L400.5 225.7L399.8 227.1L399.2 227.4ZM273.9 221.8L273.2 221.8L272.3 221.4L270.4 219.7L268.9 219.3L268.6 218.9L269.9 215.8L271.4 213.3L272.3 212.6L274.2 212.5L275.4 212.1L276.0 212.1L277.3 212.7L278.5 212.6L280.4 211.5L281.3 211.6L282.2 212.0L283.2 213.9L283.2 214.5L283.1 214.8L281.0 216.7L280.7 216.7L279.5 216.2L278.4 217.3L278.0 217.9L278.0 218.3L278.2 218.6L279.6 219.8L279.8 220.1L279.7 220.4L273.9 221.8ZM228.4 221.4L227.4 221.2L226.7 220.4L226.6 219.8L226.8 219.2L227.4 218.6L228.4 218.9L228.9 219.5L229.2 220.1L229.0 221.1L228.4 221.4ZM399.3 222.3L399.9 221.7L400.1 221.1L400.1 220.4L399.7 219.8L398.0 219.5L397.0 220.1L396.6 221.1L396.8 221.7L398.2 222.6L398.8 222.5L399.3 222.3ZM281.7 221.7L281.5 221.4L282.0 221.4L281.9 221.7L281.7 221.7ZM276.7 228.3L276.0 228.3L275.9 227.9L276.0 227.6L276.4 227.3L276.8 227.3L277.1 227.6L277.0 228.1L276.7 228.3ZM317.2 232.1L316.6 232.2L316.2 232.0L316.0 231.4L316.3 230.5L316.9 230.2L317.5 230.3L317.8 230.7L317.7 231.4L317.2 232.1ZM252.7 240.4L252.3 240.1L252.2 239.5L252.5 239.2L253.0 239.0L253.3 239.2L253.4 239.8L253.0 240.3L252.7 240.4Z" fill="#ffff00" fill-rule="evenodd"/>
<path d="M388.2 171.8L384.8 171.6L384.3 170.8L383.6 168.9L383.3 168.6L382.0 168.0L381.7 167.7L381.7 167.4L382.0 167.1L382.6 166.9L385.4 167.1L387.0 166.3L387.6 166.1L389.2 166.2L391.1 166.0L392.3 166.4L393.2 167.0L394.9 168.3L395.2 169.0L394.9 169.9L393.5 170.9L390.7 171.1L388.2 171.8ZM371.4 176.8L369.9 176.9L367.7 176.2L365.5 176.7L364.6 176.7L363.2 175.8L362.8 174.9L363.1 174.3L363.9 173.4L365.2 172.5L365.8 172.3L367.7 172.6L370.2 172.7L372.7 173.9L374.5 173.2L375.5 173.1L376.4 173.6L376.9 174.3L376.9 175.2L376.5 175.8L376.0 176.1L374.8 176.3L373.0 175.7L371.4 176.8ZM382.3 177.1L380.8 177.0L380.1 176.5L379.7 175.5L379.9 174.3L380.6 173.0L381.4 172.5L383.3 172.2L384.5 172.3L385.0 172.7L385.9 174.3L385.9 174.9L384.5 176.4L382.3 177.1ZM359.6 174.7L357.7 174.8L353.8 174.6L355.8 173.0L357.4 172.7L358.9 173.1L359.7 173.6L360.0 174.3L359.6 174.7ZM392.6 178.1L391.7 178.1L391.1 177.8L390.0 176.8L389.1 175.2L389.2 174.6L389.4 174.3L390.4 173.9L392.3 174.1L394.2 175.1L394.6 175.5L394.7 176.1L394.4 176.8L393.5 177.6L392.6 178.1ZM399.5 177.4L398.8 177.6L397.6 177.7L396.4 177.1L395.8 176.5L395.5 175.8L395.6 175.2L396.0 174.6L396.7 174.0L397.6 173.7L398.5 173.8L399.2 174.2L399.8 174.9L400.2 175.8L400.1 176.8L399.5 177.4ZM376.4 197.1L375.8 197.2L375.2 197.0L372.7 195.2L371.4 194.9L370.9 194.5L369.7 193.3L369.4 192.7L369.3 192.1L369.9 191.2L370.8 190.5L371.7 190.3L372.7 190.4L373.4 190.8L373.9 191.4L374.5 193.3L375.2 193.8L376.4 194.2L377.3 195.2L377.4 195.8L377.2 196.4L376.4 197.1ZM256.1 199.6L255.2 199.4L254.3 198.9L253.8 198.3L253.6 197.4L253.9 196.4L254.5 195.5L255.2 195.1L256.1 194.9L256.7 195.0L257.3 195.4L258.1 196.4L258.5 197.4L258.4 198.0L257.9 198.6L256.7 199.4L256.1 199.6ZM309.1 203.4L308.1 203.6L307.2 203.5L305.3 202.4L304.2 201.4L303.3 200.2L303.1 199.5L303.3 198.9L304.4 198.1L305.7 197.8L307.2 198.2L308.8 199.2L309.4 199.1L310.6 198.7L311.9 198.7L312.5 199.0L313.0 199.9L312.8 200.8L312.5 201.4L309.1 203.4ZM331.2 226.1L330.6 226.2L329.7 225.9L326.2 222.9L324.1 222.3L323.4 221.0L320.6 219.4L319.9 218.6L319.7 217.6L319.9 216.4L321.3 213.9L321.6 213.0L322.9 211.4L322.8 211.1L321.9 210.5L321.9 210.1L322.8 208.2L323.7 206.7L323.8 206.1L323.5 205.5L322.8 205.0L322.2 204.8L320.6 204.7L319.4 204.5L318.7 204.2L317.5 203.0L316.9 203.0L315.6 203.3L315.0 203.0L314.8 202.3L315.2 199.9L315.5 199.2L315.9 198.8L317.5 198.5L319.7 199.0L321.2 198.5L322.5 198.3L324.0 198.7L325.3 199.4L326.8 199.5L329.0 198.5L330.6 198.4L334.6 199.1L335.2 199.5L335.9 200.8L336.2 201.0L338.1 201.1L338.7 201.4L339.4 202.0L339.4 202.7L339.0 203.1L338.1 203.2L336.2 202.7L335.6 203.2L334.8 204.5L334.0 205.2L333.1 205.4L331.5 205.2L330.6 205.3L329.8 205.8L328.4 207.1L326.5 207.1L325.8 207.7L325.7 208.3L325.9 209.0L327.8 208.7L330.3 208.9L331.2 207.9L332.1 207.6L332.8 207.6L333.7 208.2L335.3 209.6L336.0 210.5L336.2 211.1L336.6 213.9L336.1 216.4L335.4 218.3L335.8 220.1L335.6 221.4L335.0 222.2L333.3 223.2L332.9 224.8L332.5 225.4L331.2 226.1ZM273.6 206.8L272.5 206.4L272.0 204.5L270.1 203.3L269.8 202.7L270.0 202.3L271.1 202.1L272.9 202.6L273.8 203.0L274.5 203.8L275.3 204.8L275.4 205.5L274.8 206.2L273.6 206.8ZM383.9 211.4L382.6 211.3L380.1 210.2L379.4 209.5L378.6 208.0L377.0 209.1L375.8 209.3L375.2 209.2L373.5 207.7L373.3 207.0L373.4 206.4L374.5 205.1L375.5 204.6L376.1 204.7L377.0 205.2L377.9 206.1L378.6 207.0L378.9 207.2L380.1 206.1L380.8 205.7L382.3 205.2L383.6 205.3L384.4 206.1L385.2 208.6L384.9 210.5L384.5 211.1L383.9 211.4ZM320.0 211.5L319.4 211.7L319.1 211.4L319.3 210.8L320.3 210.5L320.9 210.8L320.0 211.5ZM396.0 219.6L395.4 219.7L394.8 219.4L392.6 217.7L392.2 217.0L392.2 216.1L392.6 215.6L393.2 215.3L397.0 215.0L397.2 214.8L396.8 213.6L396.8 212.6L397.2 211.1L397.9 210.6L399.5 210.7L400.3 211.4L400.4 212.3L399.5 214.3L398.8 214.8L398.2 215.1L398.2 215.4L399.8 217.3L400.0 217.9L399.9 218.6L399.5 218.9L397.6 219.1L396.0 219.6ZM274.5 221.1L273.2 221.2L272.6 220.9L269.9 217.9L269.9 217.0L270.1 216.1L271.4 213.6L272.3 212.9L274.2 212.9L275.4 212.4L276.0 212.4L277.9 213.0L278.5 212.9L280.1 212.0L281.0 212.1L281.7 212.4L282.1 213.0L282.7 214.2L282.6 214.8L282.1 215.4L281.0 216.1L278.9 215.9L277.0 217.7L276.3 217.9L276.2 218.3L277.0 218.2L278.3 218.9L278.7 219.5L278.7 220.1L277.3 220.7L274.5 221.1ZM389.5 219.0L388.9 218.9L388.7 218.6L388.6 218.3L388.9 217.9L389.3 217.9L389.7 218.3L389.8 218.6L389.5 219.0Z" fill="#dcf000" fill-rule="evenodd"/>
<path d="M389.5 171.2L388.2 171.4L385.8 171.3L385.1 171.2L384.6 170.5L383.6 168.0L384.2 167.7L386.4 167.6L387.1 166.8L387.6 166.6L391.1 166.3L392.6 166.8L394.1 168.0L394.7 168.7L394.8 169.0L394.7 169.6L393.5 170.6L389.5 171.2ZM382.3 176.8L381.1 176.8L380.3 176.1L380.0 175.2L380.3 174.0L380.8 173.3L381.4 172.8L382.9 172.5L384.2 172.6L384.9 173.3L385.2 174.6L383.9 176.1L382.3 176.8ZM365.5 176.2L364.6 176.1L363.9 175.8L363.6 175.4L363.5 174.9L363.8 174.3L364.2 173.9L365.2 173.5L365.8 173.5L366.9 174.0L367.3 174.6L366.7 175.5L365.5 176.2ZM398.8 177.4L397.3 177.4L396.6 177.1L396.1 176.5L395.8 175.8L395.9 175.2L396.7 174.2L397.3 173.9L398.2 173.9L398.8 174.2L399.6 174.9L399.9 175.5L400.0 176.5L399.5 177.1L398.8 177.4ZM392.9 177.8L391.7 177.9L390.5 177.1L389.5 175.5L389.5 174.9L389.8 174.4L390.4 174.1L391.4 174.2L392.6 174.6L394.3 175.5L394.4 176.1L394.2 176.8L393.6 177.4L392.9 177.8ZM371.1 176.2L370.5 176.3L369.6 175.8L369.3 175.2L369.5 174.6L370.5 174.3L371.1 174.5L371.7 174.9L371.9 175.2L371.7 175.8L371.1 176.2ZM376.7 196.7L376.1 197.0L375.2 196.9L374.1 196.1L373.0 195.1L371.1 194.5L369.6 192.7L369.5 192.1L369.9 191.4L370.5 190.9L371.1 190.6L372.0 190.6L373.0 190.9L373.6 191.5L374.2 193.3L375.1 193.9L376.1 194.3L377.1 195.2L377.1 196.1L376.7 196.7ZM256.7 199.3L255.8 199.4L255.2 199.3L254.3 198.6L254.0 198.0L253.9 197.4L254.1 196.4L254.5 195.8L255.2 195.3L256.1 195.1L256.7 195.3L257.4 195.8L258.2 197.0L258.3 197.7L258.0 198.3L256.7 199.3ZM308.1 203.3L307.2 203.2L306.3 202.9L304.8 201.7L303.5 200.2L303.4 199.5L303.6 198.9L305.0 198.1L306.0 198.0L307.2 198.4L308.8 199.4L311.3 198.9L311.9 199.1L312.5 199.5L312.6 200.5L312.1 201.4L309.1 203.1L308.1 203.3ZM328.4 206.6L327.8 206.7L325.3 206.5L324.2 205.5L322.8 204.7L322.2 204.5L320.3 204.5L319.4 204.2L318.8 203.9L317.8 202.8L317.5 202.7L315.6 202.8L315.3 202.5L315.2 202.0L315.6 199.8L316.3 199.1L317.2 198.9L317.8 198.9L318.7 199.3L319.7 200.5L320.0 200.4L321.2 199.0L321.9 198.8L322.8 198.7L324.0 198.9L325.3 199.8L326.8 199.8L328.7 198.9L330.0 198.6L333.7 199.1L334.8 199.5L335.2 200.2L335.9 201.7L335.2 203.6L334.6 204.4L334.0 204.9L333.4 205.1L331.2 205.0L330.4 205.2L328.4 206.6ZM338.7 202.7L338.1 202.8L337.4 202.7L336.5 202.0L336.5 201.7L337.2 201.4L338.1 201.5L338.7 202.0L338.8 202.3L338.7 202.7ZM271.7 203.3L271.1 203.3L270.6 203.0L270.7 202.7L271.1 202.7L271.6 203.0L271.7 203.3ZM273.9 206.2L273.2 206.3L272.8 205.8L272.8 204.2L272.9 203.8L273.9 204.1L274.5 204.6L274.8 205.2L274.6 205.8L273.9 206.2ZM377.0 208.7L376.4 208.9L375.5 208.8L374.1 208.0L373.6 207.3L373.7 206.4L374.5 205.4L375.2 205.0L375.8 204.9L376.4 205.0L377.3 205.8L377.9 206.4L378.1 207.0L378.1 207.7L377.6 208.3L377.0 208.7ZM383.9 211.2L382.9 211.2L382.0 210.9L380.5 210.2L379.7 209.5L379.3 208.6L379.3 207.7L379.8 206.7L380.5 206.2L381.4 205.7L382.6 205.4L383.6 205.6L384.1 206.1L384.7 208.0L384.9 209.2L384.7 210.5L383.9 211.2ZM330.6 225.1L329.7 225.0L329.0 224.7L326.5 222.5L325.0 221.7L323.7 220.6L321.0 219.2L320.3 218.3L320.1 217.3L320.4 216.1L321.2 214.5L322.8 212.4L323.2 211.4L323.1 210.8L322.6 210.1L322.6 209.2L323.4 208.0L324.4 207.4L324.7 207.4L325.0 207.6L325.7 209.2L326.2 209.6L328.1 209.3L330.6 209.6L330.9 208.6L331.2 208.2L331.8 207.9L332.8 207.9L333.4 208.3L335.0 209.7L335.8 210.8L336.1 213.3L335.9 215.8L335.6 217.0L334.6 218.6L335.3 220.0L335.2 221.1L334.6 221.8L333.1 222.5L332.6 222.9L331.7 224.8L330.6 225.1ZM398.5 214.6L397.6 214.2L397.0 213.3L397.1 211.7L397.5 211.1L397.9 210.9L399.5 211.1L400.1 211.7L400.1 212.3L399.5 213.9L399.2 214.3L398.5 214.6ZM277.3 220.5L275.1 220.7L273.6 220.3L270.5 217.9L270.3 217.0L270.5 215.8L271.5 213.9L272.3 213.2L272.9 213.1L274.2 213.2L275.1 212.7L275.7 212.6L277.9 213.2L278.5 213.0L280.1 212.2L281.0 212.3L281.7 213.0L282.3 214.2L282.2 214.8L281.7 215.4L281.0 215.8L280.4 215.8L278.9 215.6L277.3 215.7L276.4 216.2L275.4 217.5L275.4 217.7L275.9 218.3L277.6 218.7L278.2 219.2L278.4 219.5L278.2 220.0L277.3 220.5ZM275.5 215.4L276.1 215.1L275.4 214.8L274.7 214.8L274.6 215.1L274.8 215.8L275.5 215.4ZM396.7 219.0L395.4 219.2L394.5 218.7L392.6 217.0L392.6 216.4L392.7 216.1L393.5 215.6L395.1 215.5L396.4 215.7L397.9 216.1L398.9 217.3L399.2 217.9L399.0 218.3L398.5 218.5L396.7 219.0ZM330.6 220.1L331.2 219.8L331.4 219.5L331.2 218.9L330.6 220.1Z" fill="#beff00" fill-rule="evenodd"/>
<path d="M389.8 170.9L387.9 171.1L385.4 170.9L384.7 170.2L384.4 169.0L384.5 168.3L385.1 168.1L387.3 168.4L388.1 168.0L388.7 167.1L389.8 166.7L391.1 166.5L391.7 166.6L392.6 167.1L393.8 168.0L394.3 168.7L394.4 169.3L394.3 169.6L393.5 170.3L392.6 170.6L389.8 170.9ZM382.6 176.5L381.4 176.6L380.6 176.1L380.3 175.2L380.4 174.3L381.0 173.3L381.7 172.9L382.9 172.7L383.9 172.8L384.3 173.0L384.8 173.6L384.7 174.6L383.4 176.1L382.6 176.5ZM366.1 175.1L365.2 174.9L365.1 174.6L365.6 174.3L365.9 174.3L366.2 174.6L366.1 175.1ZM392.6 177.8L392.0 177.8L391.4 177.6L390.4 176.8L389.7 175.5L389.8 174.9L390.1 174.5L390.7 174.3L391.4 174.3L394.0 175.5L394.2 176.1L394.0 176.8L393.4 177.4L392.6 177.8ZM399.2 177.1L398.5 177.3L397.6 177.3L396.5 176.8L396.0 175.8L396.1 175.2L396.5 174.6L397.0 174.2L397.9 174.0L398.5 174.1L399.1 174.6L399.6 175.2L399.8 175.8L399.7 176.5L399.2 177.1ZM376.4 196.7L375.8 196.9L375.2 196.7L374.2 196.1L373.0 194.8L371.7 194.6L371.1 194.3L369.8 192.7L369.7 192.1L370.1 191.4L370.8 190.9L371.4 190.8L372.4 190.8L373.0 191.2L373.4 191.7L373.9 193.2L374.2 193.6L376.4 194.7L376.9 195.2L376.9 196.1L376.4 196.7ZM256.4 199.3L255.5 199.2L254.9 198.9L254.3 198.3L254.1 197.7L254.1 196.7L254.4 196.1L255.5 195.4L256.4 195.4L257.0 195.7L257.7 196.4L258.1 197.4L257.8 198.3L257.1 198.9L256.4 199.3ZM308.5 203.0L306.9 202.9L305.3 202.0L303.7 200.2L303.6 199.5L303.8 199.0L305.0 198.2L306.0 198.1L306.9 198.4L308.8 199.6L309.4 199.6L311.0 199.2L311.6 199.2L312.1 199.5L312.3 199.9L312.4 200.5L311.9 201.3L309.7 202.6L308.5 203.0ZM328.4 206.2L327.5 206.3L326.2 206.1L324.5 205.2L322.5 204.4L320.6 204.4L319.4 204.0L318.8 203.6L317.8 202.4L315.9 202.3L315.7 201.7L315.9 200.0L316.6 199.4L317.2 199.2L317.8 199.3L318.6 199.9L319.1 200.8L319.7 201.0L320.3 200.7L321.6 199.3L322.8 198.9L324.0 199.1L325.3 200.1L326.5 200.1L328.7 199.1L330.0 198.9L333.7 199.3L334.6 199.7L335.1 200.5L335.4 201.7L335.1 203.3L334.6 204.2L334.0 204.7L333.4 204.9L331.2 204.8L330.6 205.0L328.4 206.2ZM376.7 208.6L376.1 208.7L375.2 208.4L374.3 208.0L373.8 207.3L374.0 206.4L375.2 205.2L375.8 205.1L376.4 205.3L377.1 205.8L377.6 206.4L377.8 207.0L377.7 207.7L377.3 208.3L376.7 208.6ZM383.9 210.9L382.9 211.0L381.7 210.6L380.6 210.1L379.9 209.5L379.6 208.9L379.6 208.0L379.9 207.0L380.5 206.4L381.4 205.9L382.6 205.6L383.3 205.7L383.8 206.1L384.6 208.3L384.7 209.2L384.5 210.3L383.9 210.9ZM330.9 224.5L330.0 224.6L329.0 224.3L324.4 220.4L321.9 219.4L321.1 218.9L320.7 218.3L320.5 217.0L321.0 215.1L321.6 214.2L322.8 212.7L323.5 211.4L323.5 210.8L323.1 210.1L322.9 209.5L323.1 208.9L323.7 208.3L324.4 208.2L324.7 208.3L326.2 210.1L328.7 209.9L330.9 210.2L331.0 209.2L331.2 208.6L331.8 208.1L332.5 208.1L333.5 208.6L335.0 210.0L335.5 210.8L335.7 213.6L335.6 216.1L335.2 217.0L333.8 218.3L333.5 218.9L334.6 220.1L334.6 220.9L334.3 221.4L332.4 222.3L331.3 224.2L330.9 224.5ZM398.8 214.2L398.5 214.3L397.9 214.1L397.2 213.3L397.2 212.0L397.5 211.4L397.9 211.1L398.8 211.2L399.7 211.7L399.6 213.3L399.3 213.9L398.8 214.2ZM277.6 220.1L276.4 220.4L274.8 220.2L274.2 219.9L272.9 218.9L271.1 217.9L270.7 217.3L270.7 216.4L271.6 214.2L272.0 213.7L272.9 213.3L274.2 213.7L275.1 213.0L275.7 212.8L277.6 213.3L278.2 213.3L280.1 212.4L280.7 212.4L281.4 213.0L281.9 213.9L281.9 214.5L281.6 215.1L280.7 215.6L277.3 215.2L274.8 214.3L274.5 214.3L274.4 214.5L274.4 215.8L275.4 218.0L276.0 218.5L277.7 218.9L278.1 219.5L278.0 219.8L277.6 220.1ZM396.7 218.6L395.7 218.8L394.8 218.6L393.1 217.0L393.1 216.4L393.9 215.9L395.1 215.9L396.0 216.0L397.6 216.5L398.1 217.0L398.2 217.9L397.9 218.2L396.7 218.6ZM331.1 220.4L331.6 220.1L331.9 219.5L331.7 218.9L330.9 218.2L329.7 219.2L329.5 219.8L329.5 220.1L330.0 220.5L331.1 220.4Z" fill="#28f000" fill-rule="evenodd"/>
<path d="M388.2 170.9L386.4 170.8L385.4 170.6L384.9 169.9L384.9 169.0L385.1 168.7L385.4 168.6L387.0 168.8L387.8 168.7L388.3 168.3L389.3 167.1L390.7 166.7L391.4 166.7L392.3 167.1L393.5 168.0L394.0 168.7L394.1 169.3L393.9 169.6L392.9 170.3L388.2 170.9ZM382.3 176.5L381.4 176.4L380.6 175.8L380.5 174.9L380.7 174.0L381.2 173.3L382.0 173.0L382.9 172.9L383.9 173.0L384.5 173.6L384.5 174.3L383.4 175.8L382.3 176.5ZM398.8 177.1L397.6 177.2L397.0 177.0L396.4 176.5L396.2 175.8L396.3 175.2L397.0 174.3L397.6 174.1L398.2 174.1L399.3 174.9L399.6 175.5L399.7 176.1L399.4 176.8L398.8 177.1ZM392.9 177.5L392.3 177.7L391.7 177.6L390.8 177.1L390.0 175.8L389.9 175.2L390.1 174.7L390.7 174.4L391.4 174.4L393.8 175.5L394.0 175.8L394.0 176.5L393.6 177.1L392.9 177.5ZM376.4 196.6L375.8 196.7L375.2 196.6L374.1 195.8L373.3 194.8L373.0 194.6L371.7 194.4L371.1 194.0L369.9 192.7L369.9 192.1L370.2 191.5L370.8 191.1L371.4 190.9L372.0 190.9L372.7 191.2L373.2 191.7L374.0 193.6L376.1 194.7L376.7 195.2L376.8 195.8L376.4 196.6ZM256.7 199.0L256.1 199.2L255.5 199.1L254.7 198.6L254.4 198.0L254.3 196.7L254.6 196.1L255.2 195.7L256.1 195.5L256.7 195.7L257.3 196.2L257.9 197.0L257.9 198.0L257.4 198.6L256.7 199.0ZM309.1 202.7L308.1 202.9L307.2 202.9L305.7 202.2L304.0 200.5L303.8 199.9L303.8 199.2L305.0 198.4L306.0 198.3L306.9 198.5L308.8 199.8L309.4 199.8L311.0 199.4L311.9 199.7L312.1 200.5L311.8 201.1L310.9 201.7L309.1 202.7ZM327.8 206.1L326.5 205.9L325.3 205.1L322.5 204.2L320.6 204.2L319.5 203.9L318.8 203.3L318.1 202.0L316.3 201.8L316.1 201.1L316.3 200.4L316.6 199.9L317.5 199.7L318.3 200.2L318.7 201.3L319.7 201.3L320.3 201.0L321.9 199.4L323.1 199.1L324.4 199.5L325.3 200.3L326.5 200.3L328.4 199.4L330.0 199.1L333.4 199.4L334.0 199.6L334.6 200.1L335.0 201.1L335.1 202.3L334.8 203.6L334.3 204.3L333.4 204.8L330.6 204.8L328.4 206.0L327.8 206.1ZM376.7 208.4L376.1 208.5L375.2 208.3L374.5 207.9L374.0 207.3L374.2 206.4L375.2 205.4L375.8 205.3L376.4 205.5L377.4 206.4L377.6 207.0L377.5 207.7L376.7 208.4ZM383.6 210.8L382.6 210.8L381.4 210.4L380.4 209.8L379.9 209.2L379.8 208.6L379.9 207.7L380.5 206.8L381.1 206.3L382.6 205.9L383.3 206.0L383.7 206.4L384.4 208.0L384.6 209.2L384.2 210.5L383.6 210.8ZM330.6 224.0L329.3 224.0L328.7 223.7L325.0 220.3L322.2 219.3L321.5 218.9L321.0 218.3L320.7 217.0L321.1 215.4L321.5 214.5L322.8 212.9L323.8 211.1L323.8 210.8L323.3 209.5L323.7 208.8L324.0 208.7L324.7 208.9L326.8 210.8L328.7 210.4L330.9 210.8L331.1 210.5L331.3 208.9L331.8 208.4L332.5 208.3L333.5 208.9L334.7 210.1L335.1 210.8L335.4 215.4L335.3 216.4L335.0 217.0L332.5 218.8L331.8 218.6L330.6 217.8L329.7 218.2L329.3 218.9L329.2 220.1L329.7 220.8L331.5 221.1L331.8 221.0L332.8 220.1L333.5 220.4L333.5 220.8L333.1 221.1L332.1 221.3L331.8 221.7L331.2 223.3L330.6 224.0ZM398.8 214.0L398.2 214.1L397.4 213.3L397.4 212.0L397.9 211.3L398.8 211.4L399.6 212.0L399.5 213.3L398.8 214.0ZM281.0 215.2L280.1 215.4L277.3 215.0L275.2 214.2L275.0 213.9L275.0 213.6L275.2 213.3L275.7 213.0L277.6 213.5L278.2 213.5L279.8 212.6L280.4 212.5L281.2 213.0L281.6 213.9L281.6 214.5L281.0 215.2ZM276.7 220.1L275.7 220.1L274.8 219.8L273.2 218.7L271.7 217.9L271.1 217.3L271.0 216.7L271.2 215.8L271.9 214.2L272.3 213.7L272.9 213.6L273.8 214.2L274.3 215.8L275.6 218.6L277.3 218.9L277.7 219.2L277.8 219.5L277.6 219.8L276.7 220.1ZM396.7 218.3L395.7 218.5L395.1 218.4L393.6 216.7L393.9 216.4L395.1 216.2L396.0 216.3L397.1 216.7L397.6 217.0L397.7 217.6L396.7 218.3Z" fill="#64ff96" fill-rule="evenodd"/>
<path d="M389.5 170.5L386.0 170.5L385.4 170.2L385.2 169.6L385.3 169.3L385.8 169.0L387.0 169.1L387.9 168.9L389.5 167.3L390.7 166.8L391.7 167.0L392.3 167.3L393.3 168.0L393.7 168.7L393.8 169.3L393.6 169.6L392.9 170.1L389.5 170.5ZM382.6 176.2L381.7 176.3L381.1 176.1L380.6 175.2L380.7 174.3L381.1 173.6L381.7 173.2L382.6 173.0L383.6 173.1L384.2 173.6L384.2 174.3L383.3 175.6L382.6 176.2ZM398.2 177.1L397.6 177.1L397.0 176.9L396.4 176.1L396.3 175.5L396.5 174.9L397.3 174.3L397.9 174.2L398.5 174.4L399.1 174.9L399.5 175.5L399.4 176.5L398.8 177.0L398.2 177.1ZM392.9 177.4L392.0 177.6L391.0 177.1L390.1 175.8L390.2 174.9L390.7 174.5L391.4 174.5L393.6 175.5L393.8 175.8L393.8 176.5L393.4 177.1L392.9 177.4ZM376.1 196.5L375.5 196.5L374.5 196.0L373.3 194.4L372.0 194.3L371.4 194.1L370.1 192.7L370.0 192.1L370.2 191.7L370.8 191.2L371.4 191.1L372.0 191.1L372.7 191.4L373.2 192.1L373.6 193.6L373.9 193.9L375.5 194.5L376.5 195.2L376.6 195.5L376.6 196.1L376.1 196.5ZM256.4 199.0L255.8 199.0L255.2 198.8L254.7 198.3L254.4 197.7L254.4 197.0L254.6 196.4L255.5 195.7L256.1 195.7L256.7 195.9L257.3 196.5L257.8 197.4L257.5 198.3L256.4 199.0ZM308.5 202.7L306.9 202.7L305.3 201.8L304.2 200.5L303.9 199.9L304.0 199.2L305.0 198.5L306.0 198.4L306.9 198.6L308.8 199.9L309.4 200.0L311.0 199.6L311.6 199.9L311.8 200.5L311.5 201.1L310.0 202.1L308.5 202.7ZM328.1 205.9L326.8 205.7L325.4 204.8L324.0 204.6L322.5 204.0L320.6 204.0L319.7 203.8L318.9 203.0L318.8 202.0L320.3 201.3L321.9 199.6L322.8 199.3L324.0 199.5L325.3 200.6L326.2 200.6L328.1 199.6L329.7 199.3L333.1 199.5L334.0 199.8L334.5 200.2L334.8 201.1L334.8 202.7L334.6 203.6L334.1 204.2L333.1 204.7L331.5 204.6L330.6 204.7L328.1 205.9ZM317.5 201.2L317.2 201.3L316.8 201.1L316.8 200.5L317.2 200.2L317.7 200.5L317.8 200.8L317.5 201.2ZM376.4 208.3L375.2 208.2L374.5 207.8L374.2 207.3L374.3 206.4L374.8 205.8L375.5 205.5L376.1 205.5L376.7 205.8L377.3 206.7L377.3 207.7L376.4 208.3ZM383.9 210.5L383.3 210.7L382.3 210.6L381.1 210.1L380.3 209.5L380.0 208.9L379.9 208.3L380.2 207.3L380.8 206.7L381.4 206.3L382.3 206.1L382.9 206.1L383.6 206.5L384.3 208.0L384.5 208.9L384.4 209.8L383.9 210.5ZM330.3 223.6L329.3 223.6L328.7 223.3L326.6 221.4L325.3 220.0L322.5 219.3L321.6 218.6L321.1 217.9L320.9 217.0L321.1 215.8L321.7 214.5L322.8 213.1L324.1 211.1L324.0 209.4L324.7 209.5L327.3 211.1L329.3 211.0L330.9 211.4L331.2 211.1L331.5 209.0L331.8 208.7L332.5 208.6L333.4 209.2L334.8 210.8L335.0 211.4L334.9 213.3L335.2 215.4L335.1 216.1L334.8 216.7L332.5 218.3L331.8 218.3L330.3 217.4L329.6 217.6L329.3 218.3L328.8 220.1L328.9 220.8L329.3 221.1L330.6 221.6L330.9 222.0L330.8 222.9L330.3 223.6ZM398.5 213.9L397.9 213.7L397.5 213.0L397.6 211.9L398.2 211.4L399.2 211.7L399.5 212.3L399.5 213.0L399.2 213.6L398.5 213.9ZM280.4 215.1L277.2 214.8L275.7 214.2L275.4 213.9L275.4 213.6L276.0 213.3L277.6 213.7L278.2 213.7L279.8 212.7L280.4 212.7L281.2 213.3L281.4 214.2L281.1 214.8L280.4 215.1ZM277.0 219.9L276.0 219.8L275.1 219.5L271.6 217.3L271.4 216.7L271.4 216.1L272.0 214.5L272.3 214.1L272.9 214.0L273.6 214.4L274.7 217.0L275.3 218.6L275.7 218.9L277.3 219.1L277.5 219.5L277.0 219.9ZM396.4 218.1L395.7 218.2L395.1 218.0L394.6 217.3L394.6 216.7L395.7 216.6L396.8 217.0L397.0 217.3L397.0 217.6L396.4 218.1Z" fill="#64ffff" fill-rule="evenodd"/>
<path d="M391.1 170.3L386.7 170.3L386.1 170.2L385.8 169.9L385.8 169.6L387.9 169.2L388.6 168.7L389.6 167.4L390.4 167.1L391.1 167.0L392.0 167.3L392.7 167.7L393.3 168.3L393.5 169.0L393.2 169.6L392.7 169.9L391.1 170.3ZM382.0 176.2L381.4 176.1L380.9 175.5L380.8 174.9L381.0 174.0L381.4 173.5L382.0 173.2L382.9 173.1L383.7 173.3L384.1 174.0L383.8 174.6L382.9 175.8L382.0 176.2ZM398.8 176.8L397.6 177.0L396.7 176.5L396.4 175.5L397.0 174.6L397.9 174.3L398.5 174.5L399.0 174.9L399.4 175.8L399.3 176.5L398.8 176.8ZM392.6 177.4L391.7 177.4L390.8 176.8L390.2 175.8L390.2 175.2L390.4 174.8L391.1 174.6L391.7 174.7L393.5 175.7L393.7 176.1L393.5 176.8L392.6 177.4ZM373.0 194.1L372.0 194.1L371.1 193.6L370.5 192.9L370.2 192.4L370.5 191.6L371.1 191.3L371.7 191.2L372.7 191.7L373.1 192.4L373.3 193.0L373.3 193.7L373.0 194.1ZM375.8 196.4L374.9 196.1L374.2 195.5L373.8 194.9L373.7 194.5L373.9 194.3L374.5 194.2L375.2 194.4L376.3 195.2L376.5 195.5L376.4 196.1L375.8 196.4ZM256.1 198.9L255.1 198.6L254.7 198.0L254.5 197.4L254.9 196.3L255.8 195.8L256.4 195.9L257.0 196.3L257.6 197.4L257.3 198.3L256.7 198.8L256.1 198.9ZM309.1 202.3L307.5 202.6L306.0 202.2L305.0 201.4L304.3 200.5L304.1 199.9L304.2 199.2L305.0 198.6L306.0 198.5L306.9 198.7L308.8 200.0L309.4 200.1L311.0 199.9L311.5 200.2L311.6 200.5L311.2 201.1L310.4 201.7L309.1 202.3ZM328.4 205.6L327.2 205.6L325.6 204.6L324.0 204.5L322.5 203.9L320.0 203.7L319.3 203.3L319.0 202.7L319.1 202.3L319.3 202.0L320.4 201.4L321.9 199.9L322.8 199.5L323.6 199.5L324.3 199.9L325.0 200.9L325.9 200.9L328.1 199.7L329.7 199.4L333.1 199.6L334.3 200.2L334.7 201.1L334.7 202.7L334.4 203.6L334.0 204.1L333.1 204.5L330.6 204.6L328.4 205.6ZM376.7 208.0L375.8 208.2L375.2 208.1L374.6 207.7L374.3 207.0L374.8 206.0L375.8 205.6L376.8 206.1L377.2 207.0L377.0 207.7L376.7 208.0ZM383.6 210.5L382.6 210.5L381.7 210.3L380.8 209.8L380.3 209.2L380.1 208.6L380.2 208.0L380.5 207.3L381.1 206.7L382.0 206.3L382.6 206.2L383.3 206.5L383.6 206.8L384.2 208.0L384.4 208.9L384.2 209.9L383.6 210.5ZM330.0 223.0L329.3 223.1L328.7 222.7L326.8 221.1L325.6 219.8L325.0 219.5L322.8 219.2L321.9 218.6L321.2 217.6L321.1 216.4L321.8 214.5L324.1 211.4L324.7 210.4L325.3 210.2L327.2 211.2L330.0 211.6L330.9 212.0L331.5 211.4L331.8 209.2L332.1 208.9L332.5 208.9L333.1 209.2L334.5 210.8L334.6 211.4L334.5 213.0L334.9 215.8L334.8 216.4L334.3 216.9L332.1 218.1L331.5 217.9L330.0 217.0L329.3 217.0L329.1 218.6L328.4 220.8L328.7 221.4L330.0 222.0L330.3 222.3L330.3 222.6L330.0 223.0ZM398.8 213.7L398.2 213.7L397.6 213.0L397.7 212.0L398.2 211.6L398.9 211.7L399.4 212.3L399.3 213.3L398.8 213.7ZM280.4 214.9L279.8 215.0L277.3 214.6L276.2 214.2L275.9 213.9L276.0 213.6L276.4 213.6L278.2 213.9L279.8 212.9L280.4 212.8L281.0 213.3L281.2 213.9L281.0 214.5L280.4 214.9ZM274.8 218.6L274.2 218.7L273.6 218.4L272.5 217.6L271.9 217.0L271.8 216.4L271.9 215.4L272.3 214.5L272.6 214.3L273.2 214.5L274.5 216.7L274.9 217.9L274.8 218.6ZM396.0 217.7L395.7 217.8L395.3 217.6L395.2 217.3L395.4 217.0L395.8 217.0L396.3 217.3L396.0 217.7ZM276.7 219.5L276.7 219.5Z" fill="#00c8f0" fill-rule="evenodd"/>
<path d="M392.0 169.9L389.8 170.2L387.7 169.9L389.8 167.5L391.1 167.2L392.3 167.6L393.2 168.7L393.2 169.0L392.9 169.5L392.0 169.9ZM382.3 176.0L381.7 176.0L381.1 175.6L380.9 174.9L381.0 174.3L381.4 173.7L382.0 173.4L383.3 173.3L383.7 173.6L383.8 174.3L382.9 175.5L382.3 176.0ZM398.5 176.9L397.9 176.9L397.3 176.8L396.7 176.1L396.6 175.2L397.3 174.5L398.2 174.5L399.1 175.2L399.3 176.1L399.1 176.5L398.5 176.9ZM392.9 177.2L392.0 177.4L391.1 176.9L390.3 175.8L390.3 175.2L390.6 174.9L391.1 174.7L391.7 174.8L393.2 175.6L393.5 175.8L393.6 176.5L392.9 177.2ZM372.4 194.0L371.4 193.6L370.5 192.7L370.4 192.1L370.8 191.6L371.4 191.4L371.9 191.4L372.8 192.1L373.1 193.3L373.0 193.7L372.4 194.0ZM376.1 196.2L375.5 196.3L374.6 195.8L374.1 195.2L374.1 194.5L374.8 194.5L376.1 195.1L376.4 195.8L376.1 196.2ZM256.7 198.6L255.8 198.8L255.0 198.3L254.7 197.7L254.7 197.0L255.2 196.2L255.8 196.0L256.4 196.1L257.3 197.0L257.5 197.4L257.4 198.0L256.7 198.6ZM308.5 202.4L306.9 202.4L305.7 201.8L304.4 200.5L304.2 199.9L304.3 199.2L305.0 198.7L306.0 198.6L306.9 198.8L308.8 200.2L309.4 200.3L311.0 200.2L311.2 200.5L311.1 200.8L310.6 201.4L309.5 202.0L308.5 202.4ZM328.1 205.5L327.2 205.4L325.9 204.5L324.0 204.4L322.2 203.7L320.1 203.6L319.4 203.0L319.4 202.4L320.6 201.4L321.9 200.1L322.8 199.7L323.4 199.7L324.0 199.9L325.0 201.3L325.9 201.2L327.5 200.1L329.0 199.6L332.8 199.7L334.0 200.2L334.4 200.8L334.5 202.0L334.4 203.3L334.0 203.9L333.1 204.4L331.5 204.3L330.6 204.5L328.1 205.5ZM376.4 208.0L375.5 208.0L374.8 207.7L374.5 207.3L374.5 206.7L375.2 205.9L375.5 205.8L376.1 205.8L376.9 206.4L377.0 207.3L376.4 208.0ZM383.6 210.3L382.9 210.5L382.0 210.3L381.0 209.8L380.5 209.3L380.2 208.6L380.3 208.0L381.1 206.9L381.7 206.5L382.6 206.4L383.3 206.7L383.6 207.0L384.1 208.0L384.3 208.9L384.1 209.8L383.6 210.3ZM327.8 220.6L327.5 220.7L327.2 220.6L325.6 219.4L323.1 219.1L322.1 218.6L321.5 217.9L321.3 217.0L321.3 216.1L321.6 215.1L322.2 214.2L325.0 210.6L325.6 210.6L327.2 211.3L328.7 211.5L330.9 212.3L331.5 212.0L331.8 211.7L332.0 210.8L332.1 209.5L332.5 209.3L333.8 210.5L334.2 211.1L334.2 212.6L334.7 215.1L334.6 216.1L334.0 216.8L332.1 217.8L331.5 217.8L330.0 216.7L329.0 216.4L328.8 216.7L329.1 217.6L329.0 218.6L328.7 219.3L327.8 220.6ZM398.5 213.6L397.9 213.3L397.7 212.6L397.8 212.0L398.2 211.7L398.8 211.8L399.3 212.3L399.2 213.2L398.5 213.6ZM280.4 214.7L279.5 214.7L278.7 214.5L278.4 214.2L279.8 213.0L280.4 213.0L280.8 213.3L281.0 213.9L280.7 214.5L280.4 214.7ZM274.5 218.4L273.6 218.2L272.3 217.0L272.2 215.8L272.6 214.8L272.9 214.8L273.2 215.1L274.3 216.7L274.7 217.9L274.5 218.4Z" fill="#0000ff" fill-rule="evenodd"/>
<path d="M334.0 158.2L333.5 158.1L333.4 157.4L333.7 156.9L334.6 156.2L334.6 157.1L334.3 157.9L334.0 158.2ZM360.5 158.1L359.9 157.9L359.6 157.5L359.6 157.1L359.9 156.8L360.3 156.8L360.8 157.1L360.9 157.7L360.5 158.1ZM420.0 171.3L419.7 171.4L419.2 171.2L419.2 170.8L419.4 170.5L419.8 170.5L420.2 170.8L420.2 171.2L420.0 171.3ZM242.1 174.0L240.9 173.6L240.7 173.3L240.9 173.0L242.1 172.8L242.8 173.0L243.1 173.3L243.0 173.6L242.1 174.0ZM325.6 186.5L324.0 186.6L323.1 186.4L320.6 185.4L319.6 184.3L318.9 182.4L319.1 179.9L319.6 179.0L320.6 178.1L321.6 177.7L322.5 177.8L324.9 179.3L325.1 179.6L324.9 179.9L323.7 180.3L323.4 180.6L323.2 181.1L323.3 182.1L323.6 182.7L324.4 183.2L325.6 183.2L326.3 183.0L326.6 182.7L327.3 181.1L328.1 180.6L329.0 180.5L331.2 181.1L332.5 181.1L333.4 180.7L335.3 179.3L335.9 179.0L336.5 179.0L337.5 179.3L338.7 179.8L339.0 180.2L338.9 180.8L338.0 182.4L338.2 184.3L337.8 184.9L337.1 185.4L336.5 185.4L335.6 184.9L335.0 184.8L330.6 185.3L328.4 185.3L325.6 186.5ZM236.8 189.3L236.0 189.2L235.5 188.6L235.4 187.7L235.9 185.5L236.0 184.3L235.7 183.0L234.5 179.9L234.6 178.9L234.9 178.5L235.5 178.2L236.5 178.4L238.0 179.6L238.5 180.2L238.8 181.1L238.9 184.6L238.7 185.8L237.8 188.3L237.3 188.9L236.8 189.3ZM218.1 182.8L217.5 182.5L216.9 181.8L216.8 181.1L217.1 180.8L217.8 181.0L218.4 181.8L218.5 182.4L218.1 182.8ZM350.8 183.0L350.5 183.3L350.2 183.2L350.1 182.7L350.2 182.5L350.5 182.4L350.9 182.7L350.8 183.0ZM315.3 184.6L315.0 184.6L314.8 184.3L314.8 183.9L315.3 183.5L315.6 183.5L315.9 183.6L315.9 184.0L315.6 184.5L315.3 184.6ZM252.4 188.0L252.0 188.0L251.7 187.7L251.8 187.1L253.0 184.8L253.3 184.5L253.9 184.5L254.4 185.2L254.3 186.1L253.6 187.1L252.4 188.0ZM357.1 185.4L356.3 184.9L356.8 184.9L357.2 185.2L357.1 185.4ZM420.7 187.7L419.7 187.8L419.5 187.4L419.6 187.1L420.0 186.6L421.0 186.1L421.6 186.0L422.0 186.1L422.3 186.4L422.0 187.1L420.7 187.7ZM379.2 203.4L378.3 203.5L375.8 202.1L373.6 201.4L373.3 201.1L372.7 199.9L372.0 199.6L371.3 199.9L370.5 201.6L369.9 201.9L369.2 201.7L368.3 200.9L367.8 199.9L367.4 198.3L367.7 197.0L367.4 196.6L366.7 196.7L365.6 198.6L364.7 199.5L363.9 199.9L363.0 199.7L362.6 199.2L362.5 198.3L363.0 194.9L363.4 193.9L364.7 193.0L364.8 192.4L364.2 191.6L362.4 190.9L361.1 190.0L359.3 188.0L358.7 186.7L358.9 186.5L359.9 186.6L362.1 187.6L362.8 188.3L364.2 190.4L366.7 191.9L368.3 193.5L369.5 194.2L371.1 195.9L373.0 196.4L375.2 197.7L376.1 197.9L377.6 197.5L379.2 198.3L379.8 198.9L380.0 200.2L379.8 202.3L379.6 203.0L379.2 203.4ZM295.1 192.2L294.7 192.1L294.5 191.7L294.7 191.3L295.1 191.3L295.3 191.7L295.3 192.1L295.1 192.2ZM249.6 197.7L248.6 197.6L248.0 197.3L246.7 196.1L246.3 195.5L246.0 194.2L246.2 193.6L246.8 193.1L248.0 192.8L251.1 193.4L251.7 193.8L252.9 195.2L252.9 195.5L252.5 196.1L250.8 197.3L249.6 197.7ZM419.1 198.2L418.5 198.1L418.2 197.7L418.2 197.4L418.5 196.9L418.8 196.8L419.1 196.9L419.3 197.4L419.3 198.0L419.1 198.2ZM257.7 201.5L256.4 201.2L255.8 200.8L255.7 200.5L255.9 200.2L256.7 200.0L259.2 198.5L259.8 198.4L260.5 198.6L260.7 199.2L260.3 199.9L258.6 201.1L257.7 201.5ZM224.3 202.7L223.7 202.9L222.8 202.7L222.5 202.0L222.8 201.4L224.0 200.8L224.6 201.0L224.7 202.0L224.3 202.7ZM387.0 203.4L386.3 203.3L386.0 202.7L386.1 201.7L386.7 201.2L387.3 201.4L387.6 202.0L387.5 203.0L387.0 203.4ZM421.9 202.7L421.6 202.7L421.4 202.0L421.6 201.4L421.9 201.2L422.2 201.2L422.5 201.6L422.6 202.0L422.4 202.3L421.9 202.7ZM313.1 204.0L312.8 204.1L312.3 203.9L312.1 203.3L312.4 203.0L312.8 202.9L313.1 203.1L313.3 203.6L313.1 204.0ZM271.1 208.0L270.1 207.8L269.5 207.3L269.3 206.4L269.5 205.9L269.8 205.9L270.4 206.4L271.1 207.7L271.1 208.0ZM368.0 210.5L366.7 210.4L366.2 209.8L366.0 209.2L366.3 208.0L366.9 207.3L367.7 207.0L368.6 207.4L369.2 208.3L369.4 208.9L369.3 209.5L368.9 210.0L368.0 210.5ZM268.6 215.8L267.9 215.6L267.5 214.8L267.5 213.9L267.9 213.0L270.5 210.8L272.0 208.4L273.2 208.2L274.1 208.6L274.4 208.9L274.3 209.2L273.9 209.7L273.8 210.1L274.4 211.1L274.4 211.4L273.9 211.7L272.6 211.7L271.7 212.1L270.8 213.0L269.2 215.5L268.6 215.8ZM373.3 210.0L372.8 209.8L372.1 209.2L371.8 208.6L372.4 208.4L373.1 208.6L373.4 209.5L373.3 210.0ZM223.4 210.0L222.9 209.8L223.1 209.5L223.4 209.5L223.5 209.8L223.4 210.0ZM277.0 211.5L276.6 211.4L276.9 210.5L277.3 210.3L277.8 210.5L278.3 211.1L277.0 211.5ZM378.9 213.6L377.6 213.8L377.0 213.5L376.8 213.0L376.9 212.6L377.6 211.7L378.6 211.4L380.5 211.4L381.6 211.7L382.1 212.0L382.3 212.3L382.1 212.6L381.4 213.0L378.9 213.6ZM400.7 215.8L400.5 215.4L400.7 215.2L401.1 215.4L401.0 215.8L400.7 215.8ZM202.5 221.1L201.9 221.3L201.2 221.3L200.6 221.2L200.0 220.8L200.0 217.1L201.2 217.7L203.2 219.2L203.4 219.5L203.3 220.1L202.5 221.1ZM424.4 220.2L423.8 217.9L424.1 217.3L424.4 217.2L424.4 220.2ZM340.9 219.8L340.5 219.8L340.2 219.5L340.3 218.9L340.6 218.6L340.9 218.6L341.2 219.2L340.9 219.8ZM407.9 228.9L407.0 228.6L406.4 227.9L406.1 226.1L405.7 224.9L405.6 223.2L404.6 221.7L404.2 220.4L404.2 220.1L404.5 219.5L405.4 218.9L406.0 219.0L406.2 219.2L406.7 220.8L406.8 222.0L406.5 224.2L408.2 226.4L408.8 227.6L408.6 228.6L407.9 228.9ZM278.5 224.2L277.9 224.2L277.3 223.6L277.0 222.6L277.2 222.0L278.2 221.8L278.9 221.9L279.2 222.2L279.2 223.4L278.9 223.9L278.5 224.2ZM298.2 227.4L297.6 227.3L296.9 226.6L296.9 225.7L297.2 225.3L297.6 225.2L298.2 225.4L298.7 226.1L298.7 227.0L298.2 227.4ZM386.1 229.5L384.5 229.6L383.9 229.4L383.3 228.9L383.3 228.2L383.7 227.3L384.2 226.5L384.8 226.1L385.4 226.0L386.1 226.1L386.7 226.6L387.1 227.3L387.1 228.6L386.7 229.2L386.1 229.5ZM255.8 235.4L255.2 235.2L254.9 234.8L255.1 234.2L255.5 234.0L256.1 234.2L256.2 234.5L256.2 235.1L255.8 235.4ZM330.3 242.4L330.0 242.5L329.4 242.3L328.7 241.4L327.8 239.8L327.8 239.4L328.1 239.2L328.7 239.5L330.0 241.1L330.4 242.0L330.3 242.4ZM420.0 241.1L419.8 240.7L419.8 240.4L420.0 240.0L420.3 239.9L420.7 240.4L420.3 241.0L420.0 241.1Z" fill="#ff3c00" fill-rule="evenodd"/>
<path d="M237.1 183.0L236.8 182.9L236.5 182.4L236.3 181.4L236.5 181.0L236.8 180.9L237.3 181.4L237.4 182.1L237.1 183.0ZM321.9 183.3L321.2 183.1L321.0 182.7L321.2 181.8L321.6 181.5L321.9 181.8L322.1 182.4L322.1 183.0L321.9 183.3ZM330.3 184.3L328.7 184.3L327.8 183.9L327.6 183.3L327.7 182.7L328.2 181.8L329.0 181.5L329.7 181.7L330.8 182.7L331.2 183.6L331.0 183.9L330.3 184.3ZM362.4 189.8L361.8 189.6L361.0 188.9L360.5 188.3L360.4 188.0L360.5 187.8L361.3 188.0L362.1 188.6L362.6 189.6L362.4 189.8ZM250.2 196.8L249.6 196.9L248.9 196.8L248.0 196.2L247.4 195.2L247.4 194.5L247.6 194.2L248.0 194.1L248.9 194.1L250.2 194.4L250.9 194.9L251.1 195.2L251.2 195.8L250.8 196.4L250.2 196.8ZM363.9 197.9L363.6 197.7L363.6 197.4L363.9 196.7L364.2 197.0L364.2 197.4L363.9 197.9ZM377.6 201.2L376.7 201.3L375.8 201.0L373.9 199.2L371.1 198.0L370.9 197.7L370.9 197.4L371.4 196.8L372.7 196.9L375.5 198.2L376.4 198.2L377.0 198.0L377.6 198.2L378.5 198.9L378.8 199.5L378.5 200.5L377.6 201.2ZM257.7 200.5L257.2 200.5L257.2 200.2L257.7 199.8L258.1 199.9L258.1 200.2L257.7 200.5ZM272.3 211.0L272.1 210.8L272.6 210.2L272.6 210.7L272.3 211.0ZM272.0 211.1L272.0 210.9L272.1 211.1L272.0 211.1ZM385.8 228.3L385.4 228.5L385.1 228.3L385.1 227.9L385.4 227.7L385.8 227.8L385.8 228.3Z" fill="#ff0000" fill-rule="evenodd"/>
</g>
<path d="M254.2 168.7L258.6 168.0L263.6 169.0L264.2 172.1L262.3 173.0L257.3 172.7L254.2 171.2ZM333.4 179.4L336.8 179.2L337.3 181.7L333.7 181.8ZM322.9 170.7L325.2 170.7L325.2 172.9L322.9 172.9ZM313.9 181.1L316.9 180.9L317.1 183.8L314.1 183.9ZM319.2 185.0L323.4 184.8L327.3 185.5L327.2 187.1L319.7 186.9Z" fill="#fff"/>
<rect x="311.85" y="151.50" width="0.7" height="112.30" fill="#ffa850" mask="url(#landmask)"/>
</g>
<g clip-path="url(#frame)">
<path d="M207.4 166.7L210.0 166.2L211.5 166.3L210.0 165.4L208.4 165.0L210.6 164.2L214.5 163.2L217.5 163.4L220.6 163.8L224.3 164.2L226.8 164.6L229.0 164.3L231.5 164.0L234.6 164.4L236.8 164.2L239.3 164.7L241.1 165.1L244.6 165.1L246.1 164.7L248.9 165.4L252.4 165.5L253.3 163.0L254.2 164.3L256.4 164.7L258.9 164.1L261.1 164.6L260.8 166.3L258.6 166.5L258.0 167.4L256.1 168.0L254.5 169.0L253.3 170.2L253.6 171.0L254.5 172.0L257.0 172.4L259.2 173.1L260.9 173.3L260.9 174.6L262.0 175.6L263.0 175.5L263.0 173.6L264.2 172.4L263.9 171.2L263.3 169.7L263.9 168.7L266.4 168.8L267.9 169.6L268.9 170.8L270.1 171.3L271.1 171.0L272.0 170.0L273.6 171.8L274.2 172.7L276.4 173.6L277.4 174.9L276.7 175.5L274.8 176.3L272.0 176.3L270.7 176.5L268.6 178.0L272.1 177.2L271.1 177.7L272.0 178.3L274.2 179.3L274.8 179.0L273.9 179.6L272.3 179.9L271.1 180.3L270.4 179.7L268.6 180.3L268.3 180.9L268.6 181.6L267.6 181.9L266.4 182.2L266.1 182.4L265.8 183.1L265.3 183.4L265.0 184.3L264.8 184.6L265.1 185.6L264.3 186.1L263.3 186.6L262.0 187.5L261.5 188.3L261.5 189.2L262.1 190.7L262.3 191.7L261.7 192.0L261.2 191.1L260.7 190.2L260.6 189.4L259.8 188.9L258.9 189.1L258.0 188.7L256.4 188.8L256.6 189.6L255.2 189.3L253.6 189.1L252.8 189.6L251.5 190.5L251.5 191.4L251.2 193.6L251.6 194.9L252.2 195.7L253.1 196.2L254.9 196.0L255.6 195.5L255.9 194.5L257.3 194.2L258.0 194.3L257.7 195.5L257.2 196.7L257.0 197.7L258.6 197.7L259.8 197.9L260.3 198.6L260.1 200.2L260.0 200.8L260.8 201.7L261.7 202.2L262.6 201.7L263.6 201.9L264.0 202.3L264.8 201.7L265.1 201.1L265.9 200.7L267.0 200.3L267.4 199.9L267.8 200.8L268.4 200.4L269.8 201.0L271.1 201.2L272.3 201.0L273.6 201.0L274.2 201.7L274.5 202.3L275.7 203.3L276.7 203.9L278.5 204.0L279.8 204.7L280.4 205.2L281.0 206.5L280.7 207.7L282.0 208.3L284.5 209.2L286.3 209.5L287.9 210.0L289.1 210.8L290.3 211.1L290.4 212.6L289.1 214.5L288.2 215.8L287.9 218.3L287.3 220.1L286.6 221.4L285.4 222.0L284.1 222.5L282.0 224.2L281.8 225.4L280.7 227.0L279.5 228.6L278.5 229.4L277.3 229.4L275.7 228.9L276.4 230.4L276.7 231.4L274.8 232.0L273.6 232.0L273.4 233.0L271.7 233.2L272.3 234.2L271.7 235.7L270.1 236.7L271.1 237.6L269.8 238.8L269.5 240.3L269.5 241.7L270.7 242.0L268.6 242.0L267.3 241.3L266.1 240.4L265.4 238.8L265.8 237.0L265.1 236.3L266.4 234.5L266.3 232.6L266.4 230.7L267.0 229.5L267.6 227.6L267.6 225.1L268.3 223.2L268.4 220.1L268.4 219.1L267.3 218.3L265.3 217.0L264.6 216.1L263.7 214.2L262.6 212.3L261.6 211.4L261.6 210.5L262.3 209.2L261.8 208.6L262.3 207.3L263.1 206.7L263.9 205.3L264.0 203.9L263.6 203.1L263.3 202.5L262.5 202.3L262.0 203.1L261.1 202.5L260.1 202.3L258.8 201.4L258.7 200.7L257.7 199.5L256.4 199.2L255.2 198.9L254.2 198.0L253.3 197.5L252.0 197.9L250.8 197.5L248.9 196.7L247.7 196.2L246.4 195.2L246.6 194.2L246.3 193.5L245.8 193.0L244.9 192.1L243.9 191.4L243.3 190.3L242.3 189.6L241.8 188.4L240.6 187.8L241.1 188.9L241.9 190.2L242.7 191.4L243.3 192.5L243.9 193.3L243.6 193.4L242.4 192.2L241.1 190.6L240.5 190.2L239.9 188.6L239.2 187.4L238.3 186.4L237.0 186.1L236.2 184.9L235.8 184.1L235.0 182.8L234.7 182.4L234.8 181.4L234.6 180.8L234.9 179.0L234.5 177.5L235.4 177.6L235.2 176.8L234.3 176.3L232.5 175.8L232.1 174.9L230.9 174.0L230.5 173.0L229.3 172.1L228.1 171.2L226.8 171.2L225.2 170.5L223.4 170.2L221.8 170.0L220.3 169.7L218.7 169.5L217.6 170.7L216.5 171.2L215.0 171.8L213.4 172.7L211.8 173.0L212.5 172.2L213.1 171.8L214.3 171.2L213.1 171.0L211.2 171.1L210.9 170.2L209.3 169.8L209.0 169.0L209.7 168.3L211.8 168.0L211.8 167.4L209.7 167.4L208.4 167.3ZM332.3 188.1L333.5 188.1L334.0 187.1L334.6 185.5L334.8 184.8L333.7 184.7L332.5 185.1L331.2 184.8L329.8 184.8L329.0 183.6L328.5 183.0L328.7 182.5L328.4 182.2L327.2 182.2L326.4 182.4L326.8 183.8L326.2 184.9L325.6 184.6L325.3 183.6L324.7 182.8L324.4 181.8L323.7 181.1L322.2 180.5L321.2 179.5L320.7 179.1L319.9 179.4L320.0 180.1L320.9 181.1L322.2 181.8L323.7 182.6L322.8 183.1L322.5 183.8L321.9 183.9L322.2 183.0L321.6 182.6L320.6 181.9L319.4 181.3L318.7 180.7L318.1 180.1L317.2 180.3L316.3 180.8L315.0 180.6L314.1 180.9L314.2 181.5L312.8 182.1L312.2 182.9L311.7 184.2L310.8 184.8L309.4 184.8L308.7 185.2L308.3 184.7L307.5 184.4L306.7 184.6L306.7 183.6L306.3 183.0L306.7 182.1L306.7 181.4L306.4 180.8L307.2 180.4L309.1 180.5L311.0 180.6L311.3 179.9L311.5 179.0L310.8 178.3L309.4 177.8L309.2 177.4L310.3 177.2L311.3 177.3L311.3 176.7L312.3 176.8L313.1 176.3L313.8 175.8L314.4 175.5L315.1 174.7L315.6 174.3L316.6 174.3L317.5 174.2L317.6 173.0L317.3 172.2L318.7 171.7L318.7 172.5L318.6 173.3L319.1 174.0L320.0 173.6L320.9 174.0L323.7 173.5L325.3 173.3L325.4 172.4L325.7 171.8L326.8 172.1L327.4 171.3L326.8 170.7L328.4 170.5L330.9 170.3L329.7 169.9L326.5 170.3L325.5 169.7L325.6 168.7L326.2 167.8L328.0 167.1L327.5 166.6L325.9 166.8L325.3 167.4L324.0 168.0L323.1 168.7L322.9 169.6L323.9 170.2L323.1 171.0L322.5 172.1L322.0 172.6L321.1 173.1L320.2 172.7L319.7 171.8L319.2 171.0L318.7 170.7L317.5 171.3L316.6 171.5L315.7 171.0L315.3 169.9L315.3 169.0L316.3 168.5L317.5 168.0L318.7 167.4L320.0 166.5L320.9 165.5L321.9 164.9L322.8 164.4L324.4 164.0L326.5 163.5L328.4 163.4L330.0 163.4L331.5 163.8L332.8 164.4L334.6 164.6L337.1 165.4L337.8 166.2L336.2 166.5L333.7 166.2L333.7 167.4L335.3 167.8L335.9 167.4L337.1 167.3L339.3 166.3L339.6 164.9L340.9 165.2L341.8 165.5L345.2 164.9L346.2 165.1L348.4 164.7L349.6 164.9L350.2 164.1L353.3 164.5L353.7 163.5L354.9 162.1L357.1 162.2L357.4 163.4L359.3 162.5L361.4 162.5L362.4 161.8L365.5 161.6L366.4 160.9L370.2 160.2L373.3 160.0L375.2 159.6L377.0 159.2L378.3 159.6L382.0 159.9L382.6 160.4L380.8 161.5L382.6 161.8L386.4 162.1L389.2 161.8L392.0 162.2L392.9 163.0L394.5 163.0L395.7 163.0L398.8 162.5L399.5 162.4L403.2 162.5L405.7 163.0L406.9 163.4L410.1 163.4L411.9 163.7L412.6 164.3L416.3 164.2L418.2 164.0L421.9 164.1L424.4 164.7L427.5 165.5L429.7 166.0L430.8 166.4L429.4 167.4L424.5 167.1L423.5 167.4L422.5 168.7L420.7 169.1L418.5 170.2L415.7 170.2L414.4 170.3L414.1 171.2L413.2 171.5L413.8 172.7L413.2 173.5L411.9 174.6L411.0 175.2L409.9 175.8L409.4 174.6L409.2 172.7L409.9 171.8L410.7 171.5L411.9 170.5L413.2 169.9L412.2 169.3L410.1 169.2L408.2 170.7L406.3 170.8L404.8 170.7L402.6 170.6L400.7 170.8L398.5 172.4L397.6 174.0L399.8 174.3L400.3 175.2L399.8 176.5L399.5 177.7L398.5 178.6L397.0 180.2L395.1 180.9L393.9 181.1L393.1 182.1L392.9 183.0L392.7 184.6L392.9 185.5L391.4 186.1L390.9 185.8L391.1 184.6L390.4 184.1L390.0 182.9L387.9 182.1L386.4 183.2L385.6 183.3L386.2 184.2L387.6 184.3L388.6 184.4L387.3 185.2L386.6 185.8L387.3 186.9L388.1 187.9L387.9 188.4L388.2 189.1L387.8 190.2L387.0 191.1L386.7 191.9L385.6 192.7L383.9 193.5L382.9 193.8L381.4 194.2L381.0 194.9L380.6 194.2L379.5 194.2L378.6 194.9L378.1 195.8L378.6 196.9L380.0 198.1L380.3 199.9L380.1 200.5L378.9 201.2L377.6 202.2L377.5 201.2L376.0 200.0L375.1 199.2L374.5 199.9L374.0 201.7L374.7 203.3L375.5 203.4L376.7 204.8L376.7 206.4L377.2 206.8L376.6 206.8L375.3 205.9L374.7 204.5L373.6 202.5L373.7 199.9L373.1 197.4L371.4 197.8L371.0 197.4L371.1 195.8L369.7 194.2L369.4 193.6L368.6 193.9L367.7 194.0L366.4 194.2L366.3 194.9L365.2 195.5L363.5 197.0L362.2 198.0L362.3 199.5L361.9 201.1L360.8 202.2L360.5 202.6L359.9 202.0L359.3 200.5L358.7 198.9L358.0 197.4L357.6 195.8L357.6 194.4L356.1 194.5L355.2 193.7L354.9 193.0L354.2 192.4L353.7 191.8L352.1 191.9L350.5 191.9L348.7 191.7L347.9 191.6L347.6 190.8L346.3 191.1L344.9 190.5L344.0 189.7L343.4 188.8L342.4 188.9L342.1 189.2L342.4 190.2L343.1 190.9L343.6 191.7L343.9 192.2L344.3 192.5L344.6 192.7L345.9 192.6L346.8 191.7L347.3 191.3L347.4 192.1L348.0 192.8L349.0 193.6L349.5 193.7L348.7 194.9L348.2 195.8L346.8 196.5L344.8 197.5L343.1 198.5L341.8 199.2L340.2 199.7L339.3 199.7L338.9 198.6L338.8 197.4L338.1 196.4L337.1 195.2L336.5 194.2L336.2 192.8L335.3 191.7L334.6 190.7L334.0 190.1L333.6 190.3L333.1 190.2L332.5 189.0ZM107.9 188.1L109.1 188.1L109.6 187.1L110.2 185.5L110.4 184.8L109.3 184.7L108.1 185.1L106.8 184.8L105.4 184.8L104.6 183.6L104.1 183.0L104.3 182.5L104.0 182.2L102.8 182.2L102.0 182.4L102.4 183.8L101.8 184.9L101.2 184.6L100.9 183.6L100.3 182.8L100.0 181.8L99.3 181.1L97.8 180.5L96.8 179.5L96.3 179.1L95.5 179.4L95.6 180.1L96.5 181.1L97.8 181.8L99.3 182.6L98.4 183.1L98.1 183.8L97.5 183.9L97.8 183.0L97.2 182.6L96.2 181.9L95.0 181.3L94.3 180.7L93.7 180.1L92.8 180.3L91.9 180.8L90.6 180.6L89.7 180.9L89.8 181.5L88.4 182.1L87.8 182.9L87.3 184.2L86.4 184.8L85.0 184.8L84.3 185.2L83.9 184.7L83.1 184.4L82.3 184.6L82.3 183.6L81.9 183.0L82.3 182.1L82.3 181.4L82.0 180.8L82.8 180.4L84.7 180.5L86.6 180.6L86.9 179.9L87.1 179.0L86.4 178.3L85.0 177.8L84.8 177.4L85.9 177.2L86.9 177.3L86.9 176.7L87.9 176.8L88.7 176.3L89.4 175.8L90.0 175.5L90.7 174.7L91.2 174.3L92.2 174.3L93.1 174.2L93.2 173.0L92.9 172.2L94.3 171.7L94.3 172.5L94.2 173.3L94.7 174.0L95.6 173.6L96.5 174.0L99.3 173.5L100.9 173.3L101.0 172.4L101.3 171.8L102.4 172.1L103.0 171.3L102.4 170.7L104.0 170.5L106.5 170.3L105.3 169.9L102.1 170.3L101.1 169.7L101.2 168.7L101.8 167.8L103.6 167.1L103.1 166.6L101.5 166.8L100.9 167.4L99.6 168.0L98.7 168.7L98.5 169.6L99.5 170.2L98.7 171.0L98.1 172.1L97.6 172.6L96.7 173.1L95.8 172.7L95.3 171.8L94.8 171.0L94.3 170.7L93.1 171.3L92.2 171.5L91.3 171.0L90.9 169.9L90.9 169.0L91.9 168.5L93.1 168.0L94.3 167.4L95.6 166.5L96.5 165.5L97.5 164.9L98.4 164.4L100.0 164.0L102.1 163.5L104.0 163.4L105.6 163.4L107.1 163.8L108.4 164.4L110.2 164.6L112.7 165.4L113.4 166.2L111.8 166.5L109.3 166.2L109.3 167.4L110.9 167.8L111.5 167.4L112.7 167.3L114.9 166.3L115.2 164.9L116.5 165.2L117.4 165.5L120.8 164.9L121.8 165.1L124.0 164.7L125.2 164.9L125.8 164.1L128.9 164.5L129.3 163.5L130.5 162.1L132.7 162.2L133.0 163.4L134.9 162.5L137.0 162.5L138.0 161.8L141.1 161.6L142.0 160.9L145.8 160.2L148.9 160.0L150.8 159.6L152.6 159.2L153.9 159.6L157.6 159.9L158.2 160.4L156.4 161.5L158.2 161.8L162.0 162.1L164.8 161.8L167.6 162.2L168.5 163.0L170.1 163.0L171.3 163.0L174.4 162.5L175.1 162.4L178.8 162.5L181.3 163.0L182.5 163.4L185.7 163.4L187.5 163.7L188.2 164.3L191.9 164.2L193.8 164.0L197.5 164.1L200.0 164.7L203.1 165.5L205.3 166.0L206.4 166.4L205.0 167.4L200.1 167.1L199.1 167.4L198.1 168.7L196.3 169.1L194.1 170.2L191.3 170.2L190.0 170.3L189.7 171.2L188.8 171.5L189.4 172.7L188.8 173.5L187.5 174.6L186.6 175.2L185.5 175.8L185.0 174.6L184.8 172.7L185.5 171.8L186.3 171.5L187.5 170.5L188.8 169.9L187.8 169.3L185.7 169.2L183.8 170.7L181.9 170.8L180.4 170.7L178.2 170.6L176.3 170.8L174.1 172.4L173.2 174.0L175.4 174.3L175.9 175.2L175.4 176.5L175.1 177.7L174.1 178.6L172.6 180.2L170.7 180.9L169.5 181.1L168.7 182.1L168.5 183.0L168.3 184.6L168.5 185.5L167.0 186.1L166.5 185.8L166.7 184.6L166.0 184.1L165.6 182.9L163.5 182.1L162.0 183.2L161.2 183.3L161.8 184.2L163.2 184.3L164.2 184.4L162.9 185.2L162.2 185.8L162.9 186.9L163.7 187.9L163.5 188.4L163.8 189.1L163.4 190.2L162.6 191.1L162.3 191.9L161.2 192.7L159.5 193.5L158.5 193.8L157.0 194.2L156.6 194.9L156.2 194.2L155.1 194.2L154.2 194.9L153.7 195.8L154.2 196.9L155.6 198.1L155.9 199.9L155.7 200.5L154.5 201.2L153.2 202.2L153.1 201.2L151.6 200.0L150.7 199.2L150.1 199.9L149.6 201.7L150.3 203.3L151.1 203.4L152.3 204.8L152.3 206.4L152.8 206.8L152.2 206.8L150.9 205.9L150.3 204.5L149.2 202.5L149.3 199.9L148.7 197.4L147.0 197.8L146.6 197.4L146.7 195.8L145.3 194.2L145.0 193.6L144.2 193.9L143.3 194.0L142.0 194.2L141.9 194.9L140.8 195.5L139.1 197.0L137.8 198.0L137.9 199.5L137.5 201.1L136.4 202.2L136.1 202.6L135.5 202.0L134.9 200.5L134.3 198.9L133.6 197.4L133.2 195.8L133.2 194.4L131.7 194.5L130.8 193.7L130.5 193.0L129.8 192.4L129.3 191.8L127.7 191.9L126.1 191.9L124.3 191.7L123.5 191.6L123.2 190.8L121.9 191.1L120.5 190.5L119.6 189.7L119.0 188.8L118.0 188.9L117.7 189.2L118.0 190.2L118.7 190.9L119.2 191.7L119.5 192.2L119.9 192.5L120.2 192.7L121.5 192.6L122.4 191.7L122.9 191.3L123.0 192.1L123.6 192.8L124.6 193.6L125.1 193.7L124.3 194.9L123.8 195.8L122.4 196.5L120.4 197.5L118.7 198.5L117.4 199.2L115.8 199.7L114.9 199.7L114.5 198.6L114.4 197.4L113.7 196.4L112.7 195.2L112.1 194.2L111.8 192.8L110.9 191.7L110.2 190.7L109.6 190.1L109.2 190.3L108.7 190.2L108.1 189.0ZM332.3 188.1L330.9 188.1L329.7 188.3L327.8 187.9L326.5 187.3L324.7 187.7L324.4 188.6L323.4 188.4L321.9 188.0L320.3 187.1L319.1 186.9L318.6 185.5L319.1 184.6L318.2 184.4L317.2 184.6L315.3 184.7L314.1 184.7L312.2 185.3L311.0 185.8L308.8 185.3L308.3 185.8L306.4 187.4L306.1 188.9L305.0 190.2L304.1 190.5L302.9 191.7L302.2 193.0L301.6 194.5L302.1 195.5L301.9 196.7L301.4 198.4L301.7 199.5L302.7 200.8L303.8 201.7L304.4 203.0L305.3 203.6L306.6 204.5L307.5 204.9L309.1 204.5L311.0 204.7L312.8 203.9L313.8 203.7L315.0 203.7L315.9 205.0L317.2 204.8L318.1 205.3L318.3 206.4L318.0 207.3L317.8 208.3L319.4 209.8L320.0 211.4L320.5 213.0L320.8 214.5L320.0 216.1L319.6 218.3L321.2 221.7L321.6 224.2L322.5 225.5L323.4 227.3L323.7 228.9L324.7 229.4L326.2 228.9L328.2 228.9L329.0 228.6L330.9 227.2L331.8 225.7L332.5 224.5L332.6 223.6L334.3 222.6L334.3 221.1L333.8 220.0L335.1 218.9L336.8 217.6L337.4 216.4L337.4 214.2L336.6 213.0L336.7 211.4L337.1 209.8L338.1 208.8L339.3 207.3L340.9 206.1L342.4 204.2L343.9 201.7L344.2 200.3L342.7 200.6L339.9 201.2L339.2 200.3L338.8 199.5L338.1 198.6L336.8 198.0L336.2 196.4L335.4 194.5L335.1 193.6L334.3 192.7L333.7 191.4L333.1 190.5L332.5 189.0ZM383.1 221.6L383.4 223.9L382.9 224.2L383.9 226.1L384.3 228.6L383.9 229.0L385.8 229.5L389.2 228.8L390.7 227.8L392.6 227.4L394.2 227.3L395.7 228.1L396.8 229.4L397.9 228.2L398.1 229.8L399.2 230.0L399.8 231.4L401.6 231.9L403.4 232.0L404.5 231.2L405.7 231.0L406.5 228.7L407.6 226.7L407.9 225.1L407.6 223.6L406.3 222.3L405.4 221.4L404.5 220.1L403.4 219.2L402.9 217.6L402.8 217.0L401.6 216.4L401.0 214.4L400.5 215.8L400.4 217.3L400.0 218.6L399.2 218.5L398.1 217.6L396.7 217.0L397.3 216.1L397.5 215.3L396.4 215.3L394.8 214.8L394.2 215.3L393.2 215.8L392.9 217.0L391.9 216.7L390.7 216.4L389.8 217.4L388.9 217.9L388.4 218.9L387.6 219.8L386.1 220.3L384.8 220.6L383.6 221.3ZM267.9 158.4L271.1 159.3L276.0 160.4L277.3 161.7L279.2 163.7L279.5 165.6L281.0 167.7L282.9 169.3L284.5 170.1L286.0 169.3L287.4 167.6L291.6 165.8L297.2 163.6L298.5 162.4L300.1 160.7L301.0 159.3L304.1 156.8L296.6 156.2L287.3 155.9L277.9 156.5L271.7 157.1L268.6 157.7ZM200.0 256.5L209.3 256.3L212.5 255.4L221.8 254.9L224.9 254.1L243.6 253.7L246.8 252.9L262.3 252.7L266.1 252.1L268.6 251.0L272.9 248.5L274.8 247.6L275.4 247.7L275.4 252.6L275.1 254.9L277.9 255.8L290.4 255.8L296.0 254.3L302.9 253.1L312.2 252.3L330.3 252.1L331.5 251.5L343.4 251.3L345.2 250.2L347.1 251.3L355.8 251.3L358.9 252.1L361.4 251.6L362.7 249.6L403.8 249.6L408.8 250.6L415.1 252.4L418.2 252.8L418.8 255.6L424.4 255.6L424.4 263.8L200.0 263.8ZM272.0 169.0L271.1 168.3L273.6 166.0L271.1 165.2L269.2 163.7L265.4 162.4L262.3 161.7L256.7 162.0L257.3 162.4L258.6 164.0L260.5 164.3L263.0 165.2L266.1 165.2L266.1 166.2L263.9 167.4L266.7 167.7L269.2 168.7L271.7 169.0ZM238.6 164.0L239.3 162.1L243.0 162.1L247.1 162.1L249.2 163.7L246.8 164.9L243.0 164.9L239.3 164.6ZM262.3 159.9L256.1 159.6L256.1 157.4L263.6 155.9L273.6 156.2L267.3 158.1L264.2 159.0ZM234.0 163.0L234.3 161.2L239.9 160.9L238.0 163.0ZM262.3 161.2L254.9 161.0L254.9 159.9L262.3 160.0ZM246.8 161.2L238.6 161.2L238.6 159.6L246.8 159.6ZM252.4 163.0L248.6 162.4L248.6 161.5L252.4 161.5ZM256.1 162.7L253.0 162.4L253.0 161.5L256.1 161.5ZM262.3 167.7L259.8 169.0L258.0 167.7L258.6 166.5L261.1 166.8ZM318.4 158.1L322.8 159.9L325.9 159.0L329.0 157.7L324.7 157.4L319.7 157.7ZM344.6 163.4L347.7 163.7L349.6 161.5L355.2 159.7L350.8 159.6L346.5 161.5L344.6 162.7ZM369.5 158.4L374.5 159.0L378.3 158.4L374.5 157.1L370.8 157.4ZM340.2 157.4L346.5 157.7L352.7 157.1L346.5 156.6ZM396.4 161.5L400.7 162.1L405.7 160.9L399.5 160.2ZM297.2 166.8L298.5 166.2L302.2 166.2L303.5 166.8L302.9 167.5L301.0 168.1L298.2 167.8ZM308.6 176.5L313.1 175.7L313.3 174.8L312.3 174.3L311.3 173.3L311.0 172.7L311.1 171.8L310.2 171.1L309.1 171.1L308.5 171.8L308.8 172.7L309.1 173.3L310.3 173.8L310.3 174.4L309.2 174.8L309.5 175.4L308.9 175.4L310.3 175.6ZM308.5 175.1L308.3 174.1L308.8 173.5L307.6 173.1L306.0 173.8L306.0 175.3L307.2 175.5ZM393.8 186.4L394.5 185.7L396.4 185.4L397.0 184.9L397.9 184.3L399.2 183.6L399.5 182.4L400.4 181.8L400.7 183.0L400.1 183.9L400.0 185.2L399.5 185.8L398.5 186.0L397.6 186.1L396.7 186.6L396.0 186.2L394.2 188.1L393.4 188.1L393.0 186.9ZM399.5 181.8L400.6 181.1L402.9 180.6L402.3 180.1L400.6 179.3L400.3 180.5ZM400.7 179.0L401.6 178.5L401.3 176.8L401.5 175.4L401.3 174.0L400.9 173.8L400.5 174.9L400.7 176.5L400.6 177.7ZM371.6 204.2L373.0 204.4L374.7 206.1L375.9 207.2L377.3 208.6L378.3 209.5L378.1 211.3L377.3 211.3L376.0 210.1L375.0 208.6L374.0 207.5L373.0 206.2ZM377.8 211.9L379.5 211.5L381.4 211.7L382.4 212.0L383.6 212.5L383.6 213.1L381.4 212.8L379.5 212.5L378.3 212.1ZM380.6 206.4L381.4 206.5L382.6 205.7L384.2 204.3L385.0 203.3L386.4 204.5L385.8 205.0L385.6 206.5L386.4 207.1L385.4 208.0L384.8 209.2L384.5 210.0L383.6 209.8L381.7 209.6L380.8 209.5L380.5 208.0L380.1 207.2ZM386.7 211.1L387.3 211.1L387.3 209.4L387.9 210.6L388.9 210.5L387.7 208.6L389.2 208.2L387.3 207.3L390.0 206.7L390.1 206.8L387.0 207.2L386.7 208.0L386.3 209.2ZM393.9 208.4L394.8 207.9L395.7 208.3L396.7 209.7L397.9 208.6L400.1 209.3L402.9 210.5L404.1 211.4L404.3 212.6L405.7 214.2L403.8 213.9L402.6 212.5L401.6 213.3L400.1 213.4L398.8 212.6L398.2 212.9L398.1 211.1L396.4 210.4L394.8 209.8L394.5 209.4L393.7 208.6ZM342.9 215.1L343.7 217.3L343.1 218.6L342.2 220.8L341.5 223.2L340.4 223.6L339.6 222.3L339.2 221.1L339.9 219.8L339.8 218.3L341.2 217.4L342.1 216.1ZM259.2 194.0L261.7 193.2L264.2 193.9L265.9 195.0L263.9 195.2L263.0 194.2L260.5 193.9ZM275.2 178.0L277.6 175.5L279.2 176.8L279.4 178.3L277.9 178.5L277.3 177.9ZM402.4 233.0L404.6 233.2L404.5 234.5L403.2 234.9L402.6 233.9ZM387.0 197.7L387.4 196.1L388.4 196.1L388.6 197.0L387.9 198.0L389.5 199.5L387.6 199.2ZM388.2 203.3L389.2 202.3L390.4 201.5L391.1 203.1L390.4 204.2L389.5 203.6ZM361.9 201.5L363.3 203.0L362.8 203.8L362.1 203.9ZM265.9 196.1L267.0 195.2L269.2 195.5L269.6 196.1L267.9 196.5L265.9 196.3ZM387.2 193.6L387.6 191.9L388.2 192.1L387.6 193.9ZM379.9 195.7L381.1 195.1L381.4 195.4L380.5 196.3ZM200.0 163.4L201.9 163.0L201.2 163.4L200.0 163.5ZM388.2 201.4L389.5 200.5L390.4 200.8L390.1 201.4L388.9 201.9ZM389.5 214.0L391.4 212.9L390.1 213.0L389.2 213.9ZM383.9 212.8L386.4 213.0L388.9 212.8L388.9 213.1L384.5 213.3L383.9 213.1ZM419.8 229.1L421.0 230.1L421.9 231.1L423.5 231.2L422.5 232.2L421.9 233.4L421.2 233.4L421.3 232.5L420.5 232.1L421.0 230.9ZM419.8 232.9L420.8 233.7L420.0 235.0L418.8 235.7L417.5 236.7L416.0 236.3L417.2 235.1L418.8 233.9ZM235.3 177.5L232.2 176.0L234.4 176.5L234.0 177.1ZM317.4 182.1L318.3 182.1L318.2 183.3L317.5 183.3ZM317.6 180.9L318.1 180.8L318.1 181.8L317.6 181.8ZM319.9 183.9L321.9 183.8L321.7 184.8L320.0 184.2ZM392.0 209.5L393.9 209.6L393.2 210.0L392.0 209.8ZM391.7 206.5L392.3 206.7L392.0 207.7L391.7 207.3ZM404.8 211.1L406.9 210.3L406.9 210.9L405.7 211.5ZM409.4 211.7L411.9 212.6L413.2 214.2L411.9 213.6L410.1 212.6ZM416.0 216.7L416.6 217.0L417.2 218.6L416.6 217.9ZM414.4 220.1L416.3 221.7L415.7 221.4L414.4 220.4ZM422.5 218.6L423.5 218.6L423.5 219.0L422.7 219.0ZM201.2 175.3L203.7 175.1L201.2 175.5ZM209.3 173.6L210.9 173.0L210.6 173.6ZM403.2 180.5L404.5 179.6L405.7 179.0L408.8 176.8L409.8 176.0L408.8 177.1L405.1 179.6L403.2 180.6ZM263.4 196.2L264.7 196.4L264.3 196.5L263.6 196.4ZM270.3 196.2L271.3 196.3L271.1 196.5L270.3 196.4ZM263.6 191.0L264.2 191.1L263.9 192.7L265.1 192.6L264.8 193.0L263.5 192.4ZM332.3 185.8L333.8 185.4L333.4 186.1L332.5 186.0ZM326.8 185.6L328.6 185.7L328.4 185.8L326.8 185.7ZM288.5 241.3L289.9 241.7L289.4 241.8L288.5 241.5ZM274.2 239.7L276.0 239.7L275.7 240.1L274.2 240.1ZM341.5 179.2L342.7 178.6L344.3 178.3L345.2 179.4L344.0 179.9L344.3 181.4L345.2 181.8L345.2 182.7L345.9 183.9L344.0 184.7L342.7 183.9L343.1 182.5L342.1 181.4L341.5 180.8L341.8 179.9ZM329.7 181.8L330.0 180.5L330.9 179.3L332.8 179.0L333.1 179.8L334.3 179.5L335.9 178.3L336.5 179.6L338.1 181.4L334.6 181.8L332.8 181.4L330.3 181.9ZM234.3 166.2L236.8 165.8L238.6 166.2L238.0 166.8L235.5 167.1ZM239.3 169.3L241.1 168.7L243.9 168.7L242.4 169.4L239.9 169.7ZM242.7 171.0L246.1 170.5L246.4 170.7L243.6 171.2ZM251.4 176.1L250.5 174.6L251.1 174.0L252.0 174.9L252.0 176.0ZM254.9 178.5L256.7 177.4L258.6 177.2L259.5 178.6L258.0 178.6L256.1 178.3ZM257.5 181.6L257.3 179.9L259.2 179.0L258.9 180.2L258.3 181.6ZM259.5 179.1L261.4 179.3L262.3 179.9L260.8 180.8L260.2 180.2ZM260.2 181.8L263.0 180.9L262.6 181.1L260.8 181.8ZM262.5 180.6L264.7 180.1L264.5 180.6ZM376.7 175.5L377.6 174.9L379.5 174.0L380.5 172.9L380.0 173.0L378.6 174.6L377.0 175.3ZM358.0 179.0L361.4 178.6L361.1 179.3L358.6 179.6ZM348.7 179.9L350.5 178.6L350.2 180.2L349.0 180.4ZM332.0 208.3L333.4 207.8L333.4 209.2L332.5 209.2ZM330.4 209.8L330.9 210.1L331.5 213.0L331.2 213.0L330.6 211.7ZM333.4 213.6L334.0 215.1L333.8 216.6L333.6 215.4ZM330.9 170.2L332.5 169.5L332.8 169.9L331.5 170.2ZM333.7 169.6L334.6 168.5L334.6 169.3Z" fill="none" stroke="#000" stroke-width="0.6" stroke-linejoin="round"/>
</g>
<path d="M200.00 263.80V151.50H424.40V263.80" fill="none" stroke="#000" stroke-width="1"/>
<path d="M199.50 263.50H424.90" fill="none" stroke="#000" stroke-width="0.65"/>
<path d="M200.00 151.50v-4.00M200.00 263.80v4.00M206.23 151.50v-2.00M206.23 263.80v2.00M212.47 151.50v-2.00M212.47 263.80v2.00M218.70 151.50v-4.00M218.70 263.80v4.00M224.93 151.50v-2.00M224.93 263.80v2.00M231.17 151.50v-2.00M231.17 263.80v2.00M237.40 151.50v-4.00M237.40 263.80v4.00M243.63 151.50v-2.00M243.63 263.80v2.00M249.87 151.50v-2.00M249.87 263.80v2.00M256.10 151.50v-4.00M256.10 263.80v4.00M262.33 151.50v-2.00M262.33 263.80v2.00M268.57 151.50v-2.00M268.57 263.80v2.00M274.80 151.50v-4.00M274.80 263.80v4.00M281.03 151.50v-2.00M281.03 263.80v2.00M287.27 151.50v-2.00M287.27 263.80v2.00M293.50 151.50v-4.00M293.50 263.80v4.00M299.73 151.50v-2.00M299.73 263.80v2.00M305.97 151.50v-2.00M305.97 263.80v2.00M312.20 151.50v-4.00M312.20 263.80v4.00M318.43 151.50v-2.00M318.43 263.80v2.00M324.67 151.50v-2.00M324.67 263.80v2.00M330.90 151.50v-4.00M330.90 263.80v4.00M337.13 151.50v-2.00M337.13 263.80v2.00M343.37 151.50v-2.00M343.37 263.80v2.00M349.60 151.50v-4.00M349.60 263.80v4.00M355.83 151.50v-2.00M355.83 263.80v2.00M362.07 151.50v-2.00M362.07 263.80v2.00M368.30 151.50v-4.00M368.30 263.80v4.00M374.53 151.50v-2.00M374.53 263.80v2.00M380.77 151.50v-2.00M380.77 263.80v2.00M387.00 151.50v-4.00M387.00 263.80v4.00M393.23 151.50v-2.00M393.23 263.80v2.00M399.47 151.50v-2.00M399.47 263.80v2.00M405.70 151.50v-4.00M405.70 263.80v4.00M411.93 151.50v-2.00M411.93 263.80v2.00M418.17 151.50v-2.00M418.17 263.80v2.00M424.40 151.50v-4.00M424.40 263.80v4.00M200.00 263.80h-4.00M424.40 263.80h4.00M200.00 257.56h-2.00M424.40 257.56h2.00M200.00 251.32h-2.00M424.40 251.32h2.00M200.00 245.08h-4.00M424.40 245.08h4.00M200.00 238.84h-2.00M424.40 238.84h2.00M200.00 232.61h-2.00M424.40 232.61h2.00M200.00 226.37h-4.00M424.40 226.37h4.00M200.00 220.13h-2.00M424.40 220.13h2.00M200.00 213.89h-2.00M424.40 213.89h2.00M200.00 207.65h-4.00M424.40 207.65h4.00M200.00 201.41h-2.00M424.40 201.41h2.00M200.00 195.17h-2.00M424.40 195.17h2.00M200.00 188.93h-4.00M424.40 188.93h4.00M200.00 182.69h-2.00M424.40 182.69h2.00M200.00 176.46h-2.00M424.40 176.46h2.00M200.00 170.22h-4.00M424.40 170.22h4.00M200.00 163.98h-2.00M424.40 163.98h2.00M200.00 157.74h-2.00M424.40 157.74h2.00M200.00 151.50h-4.00M424.40 151.50h4.00" stroke="#000" stroke-width="0.85" fill="none"/>
<text transform="translate(200.00,275.2) scale(0.9,1)" text-anchor="middle" class="s">180</text>
<text transform="translate(218.70,275.2) scale(0.9,1)" text-anchor="middle" class="s">150W</text>
<text transform="translate(237.40,275.2) scale(0.9,1)" text-anchor="middle" class="s">120W</text>
<text transform="translate(256.10,275.2) scale(0.9,1)" text-anchor="middle" class="s">90W</text>
<text transform="translate(274.80,275.2) scale(0.9,1)" text-anchor="middle" class="s">60W</text>
<text transform="translate(293.50,275.2) scale(0.9,1)" text-anchor="middle" class="s">30W</text>
<text transform="translate(312.20,275.2) scale(0.9,1)" text-anchor="middle" class="s">0</text>
<text transform="translate(330.90,275.2) scale(0.9,1)" text-anchor="middle" class="s">30E</text>
<text transform="translate(349.60,275.2) scale(0.9,1)" text-anchor="middle" class="s">60E</text>
<text transform="translate(368.30,275.2) scale(0.9,1)" text-anchor="middle" class="s">90E</text>
<text transform="translate(387.00,275.2) scale(0.9,1)" text-anchor="middle" class="s">120E</text>
<text transform="translate(405.70,275.2) scale(0.9,1)" text-anchor="middle" class="s">150E</text>
<text transform="translate(424.40,275.2) scale(0.9,1)" text-anchor="middle" class="s">180</text>
<text transform="translate(193.2,153.60) scale(0.9,1)" text-anchor="end" class="s">90N</text>
<text transform="translate(193.2,172.32) scale(0.9,1)" text-anchor="end" class="s">60N</text>
<text transform="translate(193.2,191.03) scale(0.9,1)" text-anchor="end" class="s">30N</text>
<text transform="translate(193.2,209.75) scale(0.9,1)" text-anchor="end" class="s">0</text>
<text transform="translate(193.2,228.47) scale(0.9,1)" text-anchor="end" class="s">30S</text>
<text transform="translate(193.2,247.18) scale(0.9,1)" text-anchor="end" class="s">60S</text>
<text transform="translate(193.2,265.90) scale(0.9,1)" text-anchor="end" class="s">90S</text>
<text x="312" y="134.2" text-anchor="middle" font-size="8.3" font-weight="bold">Model_CN - Observed</text>
<text x="199.9" y="145.9" class="m">Fire Emission C</text>
<text x="424.6" y="145.9" text-anchor="end" class="m">gC/m2/yr</text>
<rect x="229.40" y="278.85" width="13.75" height="9.85" fill="#0000ff"/>
<rect x="243.15" y="278.85" width="13.75" height="9.85" fill="#00c8f0"/>
<rect x="256.90" y="278.85" width="13.75" height="9.85" fill="#64ffff"/>
<rect x="270.65" y="278.85" width="13.75" height="9.85" fill="#64ff96"/>
<rect x="284.40" y="278.85" width="13.75" height="9.85" fill="#28f000"/>
<rect x="298.15" y="278.85" width="13.75" height="9.85" fill="#beff00"/>
<rect x="311.90" y="278.85" width="13.75" height="9.85" fill="#dcf000"/>
<rect x="325.65" y="278.85" width="13.75" height="9.85" fill="#ffff00"/>
<rect x="339.40" y="278.85" width="13.75" height="9.85" fill="#ffc800"/>
<rect x="353.15" y="278.85" width="13.75" height="9.85" fill="#ff8200"/>
<rect x="366.90" y="278.85" width="13.75" height="9.85" fill="#ff3c00"/>
<rect x="380.65" y="278.85" width="13.75" height="9.85" fill="#ff0000"/>
<path d="M229.40 278.85v9.85M243.15 278.85v9.85M256.90 278.85v9.85M270.65 278.85v9.85M284.40 278.85v9.85M298.15 278.85v9.85M311.90 278.85v9.85M325.65 278.85v9.85M339.40 278.85v9.85M353.15 278.85v9.85M366.90 278.85v9.85M380.65 278.85v9.85M394.40 278.85v9.85M229.40 278.85h165.00M229.40 288.70h165.00" stroke="#000" stroke-width="0.7" fill="none"/>
<text transform="translate(243.15,295.9) scale(0.9,1)" text-anchor="middle" class="s">-80</text>
<text transform="translate(256.90,295.9) scale(0.9,1)" text-anchor="middle" class="s">-70</text>
<text transform="translate(270.65,295.9) scale(0.9,1)" text-anchor="middle" class="s">-60</text>
<text transform="translate(284.40,295.9) scale(0.9,1)" text-anchor="middle" class="s">-50</text>
<text transform="translate(298.15,295.9) scale(0.9,1)" text-anchor="middle" class="s">-40</text>
<text transform="translate(311.90,295.9) scale(0.9,1)" text-anchor="middle" class="s">-30</text>
<text transform="translate(325.65,295.9) scale(0.9,1)" text-anchor="middle" class="s">-20</text>
<text transform="translate(339.40,295.9) scale(0.9,1)" text-anchor="middle" class="s">-10</text>
<text transform="translate(353.15,295.9) scale(0.9,1)" text-anchor="middle" class="s">0</text>
<text transform="translate(366.90,295.9) scale(0.9,1)" text-anchor="middle" class="s">10</text>
<text transform="translate(380.65,295.9) scale(0.9,1)" text-anchor="middle" class="s">20</text>
</g>
<text transform="translate(147.7,397.2) rotate(-90)" text-anchor="middle" font-size="15.4">(correlation coef = 0.47)</text>
</svg></body></html>
